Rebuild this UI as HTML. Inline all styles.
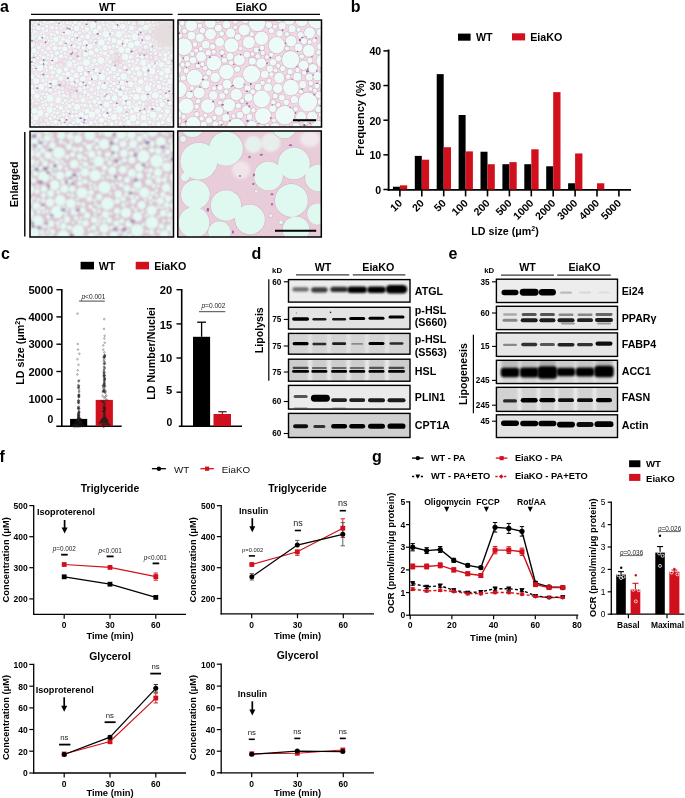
<!DOCTYPE html>
<html><head><meta charset="utf-8"><style>
html,body{margin:0;padding:0;background:#fff;}
svg{display:block;font-family:"Liberation Sans",sans-serif;will-change:transform;}
</style></head><body>
<svg width="685" height="798" viewBox="0 0 685 798">
<defs>
<filter id="bl1" x="-50%" y="-100%" width="200%" height="300%"><feGaussianBlur stdDeviation="1"/></filter>
<filter id="bl2" x="-50%" y="-100%" width="200%" height="300%"><feGaussianBlur stdDeviation="1.6"/></filter>
<filter id="bl05" x="-20%" y="-20%" width="140%" height="140%"><feGaussianBlur stdDeviation="0.5"/></filter>
<filter id="bl07" x="-30%" y="-100%" width="160%" height="300%"><feGaussianBlur stdDeviation="0.65"/></filter>
<filter id="blh" x="-5%" y="-5%" width="110%" height="110%"><feGaussianBlur stdDeviation="0.65"/></filter>
<filter id="blh2" x="-5%" y="-5%" width="110%" height="110%"><feGaussianBlur stdDeviation="0.8"/></filter>
<filter id="bl3" x="-50%" y="-100%" width="200%" height="300%"><feGaussianBlur stdDeviation="2.5"/></filter>
</defs>
<rect width="685" height="798" fill="#fff"/>
<text x="0" y="11.7" font-size="16" font-weight="bold" text-anchor="start" fill="#000">a</text>
<text x="107.2" y="10.65" font-size="10.7" font-weight="bold" text-anchor="middle" fill="#000">WT</text>
<text x="251.5" y="10.68" font-size="10.5" font-weight="bold" text-anchor="middle" fill="#000">EiaKO</text>
<line x1="31" y1="14.4" x2="172.6" y2="14.4" stroke="#000" stroke-width="1.3"/>
<line x1="177.8" y1="14.4" x2="320" y2="14.4" stroke="#000" stroke-width="1.3"/>
<clipPath id="hc1"><rect x="30" y="20" width="143.5" height="107"/></clipPath>
<g clip-path="url(#hc1)">
<rect x="30" y="20" width="143.5" height="107" fill="#f1e6ee"/>
<g filter="url(#blh)">
<circle cx="50.25" cy="90.25" r="2.58" fill="#e4c8d8"/>
<circle cx="107.04" cy="58.59" r="1.93" fill="#e4c8d8"/>
<circle cx="102.85" cy="22.16" r="1.89" fill="#e4c8d8"/>
<circle cx="38.3" cy="28.07" r="2.83" fill="#e4c8d8"/>
<circle cx="149.96" cy="31.74" r="2.81" fill="#e4c8d8"/>
<circle cx="120.55" cy="123.2" r="2.34" fill="#e4c8d8"/>
<circle cx="86.51" cy="126.36" r="3.13" fill="#e4c8d8"/>
<circle cx="154.62" cy="50.15" r="1.85" fill="#e4c8d8"/>
<circle cx="45.37" cy="52.24" r="2.14" fill="#e4c8d8"/>
<circle cx="54.66" cy="82.56" r="3.6" fill="#e4c8d8"/>
<circle cx="82.93" cy="78.8" r="3.26" fill="#e4c8d8"/>
<circle cx="36.79" cy="40.86" r="1.9" fill="#e4c8d8"/>
<circle cx="91.07" cy="52.87" r="3.34" fill="#e4c8d8"/>
<circle cx="131.1" cy="45.09" r="3.56" fill="#e4c8d8"/>
<circle cx="105.47" cy="115.14" r="3.13" fill="#e4c8d8"/>
<circle cx="70.47" cy="126.8" r="3.44" fill="#e4c8d8"/>
<circle cx="89.67" cy="102.04" r="2.07" fill="#e4c8d8"/>
<circle cx="140.77" cy="81.61" r="3.32" fill="#e4c8d8"/>
<circle cx="74.28" cy="95.18" r="3.72" fill="#e4c8d8"/>
<circle cx="113.53" cy="68.64" r="3.17" fill="#e4c8d8"/>
<circle cx="167.34" cy="70.62" r="3.65" fill="#e4c8d8"/>
<circle cx="36.95" cy="95.87" r="3.31" fill="#e4c8d8"/>
<circle cx="174.48" cy="109.23" r="3.27" fill="#e4c8d8"/>
<circle cx="84.9" cy="92.22" r="2.49" fill="#e4c8d8"/>
<circle cx="96.1" cy="36.65" r="1.76" fill="#e4c8d8"/>
<circle cx="36.7" cy="103.27" r="2.06" fill="#e4c8d8"/>
<circle cx="64.52" cy="61.4" r="2.1" fill="#e4c8d8"/>
<circle cx="39.89" cy="67.86" r="3.71" fill="#e4c8d8"/>
<circle cx="158.3" cy="108.94" r="3.07" fill="#e4c8d8"/>
<circle cx="69.07" cy="64.1" r="3.69" fill="#e4c8d8"/>
<circle cx="158.42" cy="124.31" r="2.66" fill="#e4c8d8"/>
<circle cx="53.99" cy="43.75" r="2.16" fill="#e4c8d8"/>
<circle cx="99.53" cy="83.39" r="2.37" fill="#e4c8d8"/>
<circle cx="28.6" cy="64.5" r="2.44" fill="#e4c8d8"/>
<circle cx="111.54" cy="123.79" r="2.69" fill="#e4c8d8"/>
<circle cx="104.03" cy="86.55" r="3.36" fill="#e4c8d8"/>
<circle cx="35.96" cy="117.85" r="3.33" fill="#e4c8d8"/>
<circle cx="86.85" cy="29.49" r="2.74" fill="#e4c8d8"/>
<circle cx="51.94" cy="55.75" r="2.31" fill="#e4c8d8"/>
<circle cx="28.03" cy="34.79" r="1.87" fill="#e4c8d8"/>
<circle cx="81.63" cy="20.83" r="2.02" fill="#e4c8d8"/>
<circle cx="118.58" cy="34.49" r="3.72" fill="#e4c8d8"/>
<circle cx="79.24" cy="58.42" r="2.41" fill="#e4c8d8"/>
<circle cx="153.22" cy="128.23" r="2.08" fill="#e4c8d8"/>
<circle cx="99.37" cy="27.53" r="2.9" fill="#e4c8d8"/>
<circle cx="78.54" cy="47.39" r="2.02" fill="#e4c8d8"/>
<circle cx="51.81" cy="20.56" r="3.63" fill="#e4c8d8"/>
<circle cx="105.92" cy="34.27" r="3.86" fill="#e4c8d8"/>
<circle cx="31.99" cy="76.62" r="3.06" fill="#e4c8d8"/>
<circle cx="155.34" cy="95.28" r="3.91" fill="#e4c8d8"/>
<circle cx="82.09" cy="36.54" r="2.44" fill="#e4c8d8"/>
<circle cx="106.56" cy="104.48" r="3.52" fill="#e4c8d8"/>
<circle cx="60.9" cy="108.08" r="2.6" fill="#e4c8d8"/>
<circle cx="153.76" cy="107.47" r="2.19" fill="#e4c8d8"/>
<circle cx="137.13" cy="43.17" r="3.27" fill="#e4c8d8"/>
<circle cx="69.21" cy="46.77" r="1.78" fill="#e4c8d8"/>
<circle cx="173.74" cy="124.01" r="3.83" fill="#e4c8d8"/>
<circle cx="60.52" cy="43.18" r="2.68" fill="#e4c8d8"/>
<circle cx="58.15" cy="87.27" r="2.28" fill="#e4c8d8"/>
<circle cx="151.96" cy="71.22" r="3.76" fill="#e4c8d8"/>
<circle cx="145.95" cy="27.41" r="3.29" fill="#e4c8d8"/>
<circle cx="162.19" cy="104.84" r="3.08" fill="#e4c8d8"/>
<circle cx="77.05" cy="106.89" r="3.55" fill="#e4c8d8"/>
<circle cx="86.39" cy="62.55" r="3.9" fill="#e4c8d8"/>
<circle cx="134.91" cy="36.87" r="3.85" fill="#e4c8d8"/>
<circle cx="50.29" cy="118.44" r="2.09" fill="#e4c8d8"/>
<circle cx="49.56" cy="109.74" r="3.59" fill="#e4c8d8"/>
<circle cx="124.95" cy="56.9" r="3.91" fill="#e4c8d8"/>
<circle cx="123.83" cy="76.45" r="3.9" fill="#e4c8d8"/>
<circle cx="91.99" cy="114.76" r="3.83" fill="#e4c8d8"/>
<circle cx="63.48" cy="83.09" r="2.51" fill="#e4c8d8"/>
<circle cx="89.8" cy="32.55" r="2.01" fill="#e4c8d8"/>
<circle cx="80.18" cy="68.86" r="3.78" fill="#e4c8d8"/>
<circle cx="161.38" cy="64.69" r="3.14" fill="#e4c8d8"/>
<circle cx="101.99" cy="77.03" r="3.8" fill="#e4c8d8"/>
<circle cx="28.58" cy="106.71" r="2.24" fill="#e4c8d8"/>
<circle cx="97.84" cy="98.5" r="2.21" fill="#e4c8d8"/>
<circle cx="76.08" cy="75.54" r="3.09" fill="#e4c8d8"/>
<circle cx="64.65" cy="48.74" r="3.1" fill="#e4c8d8"/>
<circle cx="94.72" cy="77.19" r="3.36" fill="#e4c8d8"/>
<circle cx="166.87" cy="95.61" r="2.92" fill="#e4c8d8"/>
<circle cx="166.97" cy="46.81" r="3.72" fill="#e4c8d8"/>
<circle cx="167.13" cy="111.24" r="3.1" fill="#e4c8d8"/>
<circle cx="45.94" cy="67.08" r="2.12" fill="#e4c8d8"/>
<circle cx="63.49" cy="26.12" r="1.93" fill="#e4c8d8"/>
<circle cx="143.63" cy="117.57" r="3.32" fill="#e4c8d8"/>
<circle cx="133.63" cy="91.29" r="2.17" fill="#e4c8d8"/>
<circle cx="168.49" cy="62.21" r="2.33" fill="#e4c8d8"/>
<circle cx="56.87" cy="53.36" r="2.62" fill="#e4c8d8"/>
<circle cx="30.67" cy="54.8" r="2.84" fill="#e4c8d8"/>
<circle cx="103.56" cy="25.14" r="1.67" fill="#e4c8d8"/>
<circle cx="144.28" cy="125.86" r="3.92" fill="#e4c8d8"/>
<circle cx="67.17" cy="22.39" r="2.03" fill="#e4c8d8"/>
<circle cx="67.89" cy="32.38" r="3.53" fill="#e4c8d8"/>
<circle cx="131.31" cy="27.93" r="3.12" fill="#e4c8d8"/>
<circle cx="129.51" cy="65.21" r="1.88" fill="#e4c8d8"/>
<circle cx="166.41" cy="88.42" r="1.93" fill="#e4c8d8"/>
<circle cx="40.35" cy="113.04" r="3.58" fill="#e4c8d8"/>
<circle cx="47.06" cy="76.49" r="2.45" fill="#e4c8d8"/>
<circle cx="44.14" cy="35.92" r="2.38" fill="#e4c8d8"/>
<circle cx="140.03" cy="50.19" r="2.54" fill="#e4c8d8"/>
<circle cx="64.94" cy="19.7" r="1.74" fill="#e4c8d8"/>
<circle cx="109.28" cy="39.03" r="2.47" fill="#e4c8d8"/>
<circle cx="165.86" cy="29.8" r="2.92" fill="#e4c8d8"/>
<circle cx="91.75" cy="72.95" r="2.32" fill="#e4c8d8"/>
<circle cx="85.98" cy="74.24" r="2.73" fill="#e4c8d8"/>
<circle cx="172.91" cy="56.04" r="3.35" fill="#e4c8d8"/>
<circle cx="79.26" cy="24.04" r="2.47" fill="#e4c8d8"/>
<circle cx="38.43" cy="100.24" r="1.81" fill="#e4c8d8"/>
<circle cx="52.08" cy="27.38" r="2.42" fill="#e4c8d8"/>
<circle cx="51.24" cy="67.49" r="2.88" fill="#e4c8d8"/>
<circle cx="64.06" cy="125.19" r="3.07" fill="#e4c8d8"/>
<circle cx="98.01" cy="73.81" r="1.83" fill="#e4c8d8"/>
<circle cx="102.45" cy="18.55" r="2.25" fill="#e4c8d8"/>
<circle cx="41.24" cy="62.35" r="2.44" fill="#e4c8d8"/>
<circle cx="114.37" cy="76.74" r="2.37" fill="#e4c8d8"/>
<circle cx="124.99" cy="97.48" r="3.48" fill="#e4c8d8"/>
<circle cx="85.45" cy="54.2" r="2.93" fill="#e4c8d8"/>
<circle cx="50.05" cy="98.38" r="3.92" fill="#e4c8d8"/>
<circle cx="34.46" cy="110.72" r="3.26" fill="#e4c8d8"/>
<circle cx="120.53" cy="99.46" r="1.9" fill="#e4c8d8"/>
<circle cx="114.15" cy="117.1" r="3.62" fill="#e4c8d8"/>
<circle cx="47.63" cy="58.04" r="1.79" fill="#e4c8d8"/>
<circle cx="151.28" cy="80" r="2.03" fill="#e4c8d8"/>
<circle cx="120.37" cy="93.55" r="3.08" fill="#e4c8d8"/>
<circle cx="38.98" cy="47.48" r="2.41" fill="#e4c8d8"/>
<circle cx="58.27" cy="100.12" r="3.44" fill="#e4c8d8"/>
<circle cx="100.86" cy="60.46" r="3.91" fill="#e4c8d8"/>
<circle cx="128.85" cy="103.13" r="2.93" fill="#e4c8d8"/>
<circle cx="122.81" cy="26.6" r="3.21" fill="#e4c8d8"/>
<circle cx="65.46" cy="100.5" r="2.15" fill="#e4c8d8"/>
<circle cx="111.74" cy="19.38" r="2.54" fill="#e4c8d8"/>
<circle cx="67.64" cy="92.59" r="1.89" fill="#e4c8d8"/>
<circle cx="127.67" cy="50.29" r="3.16" fill="#e4c8d8"/>
<circle cx="96.54" cy="69.76" r="2.97" fill="#e4c8d8"/>
<circle cx="159.82" cy="40.12" r="2.07" fill="#e4c8d8"/>
<circle cx="166.1" cy="19.94" r="3.91" fill="#e4c8d8"/>
<circle cx="67.63" cy="41.29" r="2.86" fill="#e4c8d8"/>
<circle cx="105.3" cy="123.75" r="2.13" fill="#e4c8d8"/>
<circle cx="99.71" cy="20.76" r="1.77" fill="#e4c8d8"/>
<circle cx="100.53" cy="68.03" r="1.68" fill="#e4c8d8"/>
<circle cx="151.93" cy="18.19" r="2.57" fill="#e4c8d8"/>
<circle cx="133.17" cy="118.07" r="3.81" fill="#e4c8d8"/>
<circle cx="114.9" cy="58.04" r="3.95" fill="#e4c8d8"/>
<circle cx="151.11" cy="49.7" r="2.02" fill="#e4c8d8"/>
<circle cx="56" cy="59.44" r="2.99" fill="#e4c8d8"/>
<circle cx="162.73" cy="122.42" r="2.54" fill="#e4c8d8"/>
<circle cx="134.14" cy="23.49" r="2.64" fill="#e4c8d8"/>
<circle cx="94.5" cy="101.55" r="2.81" fill="#e4c8d8"/>
<circle cx="70.22" cy="23.44" r="1.69" fill="#e4c8d8"/>
<circle cx="46.78" cy="70.41" r="1.82" fill="#e4c8d8"/>
<circle cx="71.92" cy="100.03" r="2.18" fill="#e4c8d8"/>
<circle cx="110.2" cy="61.77" r="2.53" fill="#e4c8d8"/>
<circle cx="51.84" cy="41.07" r="1.77" fill="#e4c8d8"/>
<circle cx="101.32" cy="42.42" r="3.78" fill="#e4c8d8"/>
<circle cx="174.98" cy="67.95" r="3.78" fill="#e4c8d8"/>
<circle cx="56.38" cy="28.07" r="2.13" fill="#e4c8d8"/>
<circle cx="41.44" cy="44.54" r="1.91" fill="#e4c8d8"/>
<circle cx="59.85" cy="48.08" r="2.25" fill="#e4c8d8"/>
<circle cx="153.18" cy="114.89" r="3.86" fill="#e4c8d8"/>
<circle cx="85.75" cy="120.88" r="1.65" fill="#e4c8d8"/>
<circle cx="128.61" cy="122.51" r="3.02" fill="#e4c8d8"/>
<circle cx="123.48" cy="102.89" r="2.64" fill="#e4c8d8"/>
<circle cx="109.35" cy="22.39" r="1.81" fill="#e4c8d8"/>
<circle cx="62.31" cy="120.11" r="2.8" fill="#e4c8d8"/>
<circle cx="72.81" cy="32.2" r="1.89" fill="#e4c8d8"/>
<circle cx="38.38" cy="76.21" r="2.05" fill="#e4c8d8"/>
<circle cx="85.24" cy="42.82" r="3.14" fill="#e4c8d8"/>
<circle cx="169.44" cy="89.55" r="1.81" fill="#e4c8d8"/>
<circle cx="89.95" cy="46.56" r="3.33" fill="#e4c8d8"/>
<circle cx="57.22" cy="106.47" r="1.92" fill="#e4c8d8"/>
<circle cx="60.94" cy="64.29" r="2.25" fill="#e4c8d8"/>
<circle cx="167.94" cy="34.25" r="2.5" fill="#e4c8d8"/>
<circle cx="59.41" cy="126.13" r="2.17" fill="#e4c8d8"/>
<circle cx="35.65" cy="24.68" r="1.98" fill="#e4c8d8"/>
<circle cx="160.48" cy="116.08" r="2.74" fill="#e4c8d8"/>
<circle cx="55.36" cy="121.88" r="2.6" fill="#e4c8d8"/>
<circle cx="32.7" cy="91.75" r="3.1" fill="#e4c8d8"/>
<circle cx="28.42" cy="49.06" r="2.21" fill="#e4c8d8"/>
<circle cx="149.25" cy="66" r="2.62" fill="#e4c8d8"/>
<circle cx="32.47" cy="63.6" r="2.03" fill="#e4c8d8"/>
<circle cx="141.08" cy="22.51" r="3.6" fill="#e4c8d8"/>
<circle cx="138.22" cy="117.74" r="1.75" fill="#e4c8d8"/>
<circle cx="68.66" cy="18.42" r="2.57" fill="#e4c8d8"/>
<circle cx="163.18" cy="88.37" r="1.8" fill="#e4c8d8"/>
<circle cx="31.58" cy="43.96" r="3.84" fill="#e4c8d8"/>
<circle cx="164.89" cy="38.31" r="2.96" fill="#e4c8d8"/>
<circle cx="136.93" cy="109.33" r="3.58" fill="#e4c8d8"/>
<circle cx="81.37" cy="104.83" r="1.74" fill="#e4c8d8"/>
<circle cx="37.55" cy="21.76" r="2" fill="#e4c8d8"/>
<circle cx="76.05" cy="126.81" r="2.64" fill="#e4c8d8"/>
<circle cx="173.7" cy="47.4" r="3.54" fill="#e4c8d8"/>
<circle cx="42.22" cy="73.33" r="1.97" fill="#e4c8d8"/>
<circle cx="93.93" cy="44" r="1.9" fill="#e4c8d8"/>
<circle cx="83.01" cy="99.93" r="3.11" fill="#e4c8d8"/>
<circle cx="158.41" cy="82.19" r="2.16" fill="#e4c8d8"/>
<circle cx="174.17" cy="29.36" r="3.29" fill="#e4c8d8"/>
<circle cx="148.82" cy="111.3" r="2.28" fill="#e4c8d8"/>
<circle cx="33.95" cy="50.6" r="2.99" fill="#e4c8d8"/>
<circle cx="55.96" cy="126" r="1.78" fill="#e4c8d8"/>
<circle cx="165.2" cy="59.32" r="2.55" fill="#e4c8d8"/>
<circle cx="119.44" cy="42.16" r="3.17" fill="#e4c8d8"/>
<circle cx="48.85" cy="40.64" r="1.75" fill="#e4c8d8"/>
<circle cx="116.41" cy="90.33" r="2.42" fill="#e4c8d8"/>
<circle cx="145.3" cy="78.83" r="2.29" fill="#e4c8d8"/>
<circle cx="28.87" cy="118.08" r="2.29" fill="#e4c8d8"/>
<circle cx="109.35" cy="89.11" r="1.73" fill="#e4c8d8"/>
<circle cx="41.13" cy="87.06" r="3.78" fill="#e4c8d8"/>
<circle cx="100.35" cy="107.33" r="2.04" fill="#e4c8d8"/>
<circle cx="57.11" cy="32.06" r="2.43" fill="#e4c8d8"/>
<circle cx="119.5" cy="109.53" r="3.77" fill="#e4c8d8"/>
<circle cx="143.91" cy="42.65" r="2.18" fill="#e4c8d8"/>
<circle cx="110.95" cy="102.08" r="1.83" fill="#e4c8d8"/>
<circle cx="89.96" cy="82.67" r="2.54" fill="#e4c8d8"/>
<circle cx="125.18" cy="67.59" r="2.81" fill="#e4c8d8"/>
<circle cx="31.45" cy="86.7" r="2.61" fill="#e4c8d8"/>
<circle cx="62.7" cy="102.76" r="1.92" fill="#e4c8d8"/>
<circle cx="43.79" cy="32.26" r="1.8" fill="#e4c8d8"/>
<circle cx="136.19" cy="104.32" r="1.96" fill="#e4c8d8"/>
<circle cx="36" cy="73.94" r="1.74" fill="#e4c8d8"/>
<circle cx="174.93" cy="99.26" r="3.68" fill="#e4c8d8"/>
<circle cx="169.1" cy="119.68" r="2.95" fill="#e4c8d8"/>
<circle cx="160.24" cy="48.52" r="2.18" fill="#e4c8d8"/>
<circle cx="75.06" cy="22.09" r="2.66" fill="#e4c8d8"/>
<circle cx="160.07" cy="36.73" r="1.83" fill="#e4c8d8"/>
<circle cx="81.07" cy="114.9" r="3.25" fill="#e4c8d8"/>
<circle cx="174.46" cy="87.91" r="2.03" fill="#e4c8d8"/>
<circle cx="145.66" cy="47.39" r="2.74" fill="#e4c8d8"/>
<circle cx="93.24" cy="37.62" r="1.76" fill="#e4c8d8"/>
<circle cx="122.29" cy="127.23" r="2.42" fill="#e4c8d8"/>
<circle cx="32.98" cy="34.58" r="1.66" fill="#e4c8d8"/>
<circle cx="47.47" cy="43.23" r="1.68" fill="#e4c8d8"/>
<circle cx="31.29" cy="18.29" r="3.29" fill="#e4c8d8"/>
<circle cx="43.69" cy="57.64" r="2.65" fill="#e4c8d8"/>
<circle cx="114.08" cy="83.39" r="2.35" fill="#e4c8d8"/>
<circle cx="120.03" cy="70.71" r="2.3" fill="#e4c8d8"/>
<circle cx="143.37" cy="62.62" r="3.71" fill="#e4c8d8"/>
<circle cx="79.67" cy="89.66" r="3.1" fill="#e4c8d8"/>
<circle cx="161.27" cy="22.88" r="2.25" fill="#e4c8d8"/>
<circle cx="117.69" cy="74.27" r="2.27" fill="#e4c8d8"/>
<circle cx="147.97" cy="37.38" r="3.26" fill="#e4c8d8"/>
<circle cx="143.49" cy="97.41" r="3.74" fill="#e4c8d8"/>
<circle cx="152.55" cy="100.72" r="1.69" fill="#e4c8d8"/>
<circle cx="137.41" cy="68.23" r="2.9" fill="#e4c8d8"/>
<circle cx="77.49" cy="101.21" r="1.82" fill="#e4c8d8"/>
<circle cx="109.68" cy="66.4" r="1.79" fill="#e4c8d8"/>
<circle cx="105.18" cy="47.45" r="3.06" fill="#e4c8d8"/>
<circle cx="170.36" cy="42.09" r="2.6" fill="#e4c8d8"/>
<circle cx="137.72" cy="122.86" r="2.37" fill="#e4c8d8"/>
<circle cx="76.21" cy="115.7" r="2.17" fill="#e4c8d8"/>
<circle cx="130.19" cy="91.84" r="1.81" fill="#e4c8d8"/>
<circle cx="97.25" cy="111.21" r="3.02" fill="#e4c8d8"/>
<circle cx="154.48" cy="66.53" r="2.06" fill="#e4c8d8"/>
<circle cx="112.13" cy="52.16" r="3.05" fill="#e4c8d8"/>
<circle cx="32.24" cy="22.62" r="1.65" fill="#e4c8d8"/>
<circle cx="44.52" cy="21.82" r="2.3" fill="#e4c8d8"/>
<circle cx="147.77" cy="88.39" r="3.67" fill="#e4c8d8"/>
<circle cx="121.15" cy="49.9" r="3.62" fill="#e4c8d8"/>
<circle cx="42.43" cy="102.07" r="2.01" fill="#e4c8d8"/>
<circle cx="75.07" cy="65.04" r="2.3" fill="#e4c8d8"/>
<circle cx="142.02" cy="56.49" r="2.83" fill="#e4c8d8"/>
<circle cx="172.24" cy="18.48" r="2.9" fill="#e4c8d8"/>
<circle cx="59.67" cy="95.64" r="1.76" fill="#e4c8d8"/>
<circle cx="86.2" cy="116.84" r="2.74" fill="#e4c8d8"/>
<circle cx="66.82" cy="118.03" r="2.3" fill="#e4c8d8"/>
<circle cx="139.07" cy="89.74" r="3.49" fill="#e4c8d8"/>
<circle cx="76.18" cy="35.24" r="2.64" fill="#e4c8d8"/>
<circle cx="63.1" cy="39.26" r="2.51" fill="#e4c8d8"/>
<circle cx="131.72" cy="111.65" r="2.53" fill="#e4c8d8"/>
<circle cx="51.01" cy="45.48" r="1.79" fill="#e4c8d8"/>
<circle cx="43.02" cy="124.82" r="3.44" fill="#e4c8d8"/>
<circle cx="85.28" cy="21.77" r="2.25" fill="#e4c8d8"/>
<circle cx="117.05" cy="62.92" r="1.89" fill="#e4c8d8"/>
<circle cx="51.72" cy="104.78" r="2.33" fill="#e4c8d8"/>
<circle cx="104.58" cy="29.22" r="1.87" fill="#e4c8d8"/>
<circle cx="107.8" cy="97.62" r="3.13" fill="#e4c8d8"/>
<circle cx="128.94" cy="61.57" r="2.3" fill="#e4c8d8"/>
<circle cx="130.99" cy="57.09" r="2.63" fill="#e4c8d8"/>
<circle cx="142.55" cy="107.86" r="2.1" fill="#e4c8d8"/>
<circle cx="71.42" cy="78.86" r="2.9" fill="#e4c8d8"/>
<circle cx="150.98" cy="57.38" r="2.09" fill="#e4c8d8"/>
<circle cx="134.46" cy="49.21" r="1.67" fill="#e4c8d8"/>
<circle cx="72.52" cy="71.23" r="2.4" fill="#e4c8d8"/>
<circle cx="124.75" cy="45.75" r="2.37" fill="#e4c8d8"/>
<circle cx="117.73" cy="104.72" r="1.85" fill="#e4c8d8"/>
<circle cx="109.87" cy="47.36" r="2.13" fill="#e4c8d8"/>
<circle cx="28.97" cy="111.33" r="2.76" fill="#e4c8d8"/>
<circle cx="110.98" cy="91.85" r="1.95" fill="#e4c8d8"/>
<circle cx="165.4" cy="54.68" r="2.6" fill="#e4c8d8"/>
<circle cx="103.32" cy="71.8" r="2.1" fill="#e4c8d8"/>
<circle cx="109.72" cy="109.77" r="2.8" fill="#e4c8d8"/>
<circle cx="68.08" cy="74.21" r="2.98" fill="#e4c8d8"/>
<circle cx="74.77" cy="51.21" r="2.6" fill="#e4c8d8"/>
<circle cx="118.23" cy="86.45" r="2.36" fill="#e4c8d8"/>
<circle cx="130.72" cy="84.19" r="3.23" fill="#e4c8d8"/>
<circle cx="59.34" cy="92.04" r="2.36" fill="#e4c8d8"/>
<circle cx="140.49" cy="29.25" r="2.88" fill="#e4c8d8"/>
<circle cx="33.45" cy="103.97" r="1.75" fill="#e4c8d8"/>
<circle cx="91.52" cy="89.24" r="2.57" fill="#e4c8d8"/>
<circle cx="36.06" cy="80.99" r="3.41" fill="#e4c8d8"/>
<circle cx="85.1" cy="83.71" r="1.73" fill="#e4c8d8"/>
<circle cx="128.85" cy="31.51" r="1.68" fill="#e4c8d8"/>
<circle cx="30.62" cy="97.85" r="2.1" fill="#e4c8d8"/>
<circle cx="135.63" cy="27.36" r="1.74" fill="#e4c8d8"/>
<circle cx="132.61" cy="69.12" r="2.48" fill="#e4c8d8"/>
<circle cx="123.12" cy="87.9" r="2.67" fill="#e4c8d8"/>
<circle cx="84.9" cy="105.27" r="2.31" fill="#e4c8d8"/>
<circle cx="36.94" cy="126.11" r="2.51" fill="#e4c8d8"/>
<circle cx="114.53" cy="108.57" r="1.79" fill="#e4c8d8"/>
<circle cx="144.77" cy="69.03" r="3.28" fill="#e4c8d8"/>
<circle cx="146.97" cy="103.71" r="1.98" fill="#e4c8d8"/>
<circle cx="55.9" cy="39.35" r="3.14" fill="#e4c8d8"/>
<circle cx="174.08" cy="114.14" r="1.8" fill="#e4c8d8"/>
<circle cx="90.83" cy="123.06" r="2.8" fill="#e4c8d8"/>
<circle cx="40.34" cy="23.66" r="1.88" fill="#e4c8d8"/>
<circle cx="174.28" cy="42.61" r="1.79" fill="#e4c8d8"/>
<circle cx="65.74" cy="57.07" r="1.82" fill="#e4c8d8"/>
<circle cx="173.35" cy="24.19" r="2.45" fill="#e4c8d8"/>
<circle cx="72.07" cy="83.65" r="2.44" fill="#e4c8d8"/>
<circle cx="63.17" cy="33.89" r="1.92" fill="#e4c8d8"/>
<circle cx="94.72" cy="55.72" r="1.79" fill="#e4c8d8"/>
<circle cx="98.44" cy="87.73" r="2.6" fill="#e4c8d8"/>
<circle cx="60.69" cy="24.3" r="1.91" fill="#e4c8d8"/>
<circle cx="67.99" cy="111.19" r="2.17" fill="#e4c8d8"/>
<circle cx="52.75" cy="72.5" r="2.61" fill="#e4c8d8"/>
<circle cx="161.22" cy="30.67" r="2.31" fill="#e4c8d8"/>
<circle cx="59.15" cy="71" r="3.32" fill="#e4c8d8"/>
<circle cx="42.39" cy="50.13" r="2.02" fill="#e4c8d8"/>
<circle cx="150.76" cy="76.45" r="1.67" fill="#e4c8d8"/>
<circle cx="112.27" cy="33.33" r="2.33" fill="#e4c8d8"/>
<circle cx="113.98" cy="40.45" r="2.95" fill="#e4c8d8"/>
<circle cx="136.08" cy="63.3" r="1.91" fill="#e4c8d8"/>
<circle cx="156.62" cy="47.55" r="1.92" fill="#e4c8d8"/>
<circle cx="104.67" cy="67.48" r="1.68" fill="#e4c8d8"/>
<circle cx="155.66" cy="53.63" r="2.28" fill="#e4c8d8"/>
<circle cx="31.05" cy="125.38" r="3.05" fill="#e4c8d8"/>
<circle cx="148.53" cy="21.34" r="2.41" fill="#e4c8d8"/>
<circle cx="46" cy="63.03" r="2.43" fill="#e4c8d8"/>
<circle cx="149.84" cy="122.07" r="2.19" fill="#e4c8d8"/>
<circle cx="92.25" cy="126.92" r="1.8" fill="#e4c8d8"/>
<circle cx="70.41" cy="51.9" r="2.32" fill="#e4c8d8"/>
<circle cx="45.76" cy="83.97" r="2.28" fill="#e4c8d8"/>
<circle cx="110.11" cy="72.55" r="2.38" fill="#e4c8d8"/>
<circle cx="92.9" cy="24.88" r="3.71" fill="#e4c8d8"/>
<circle cx="46.77" cy="114.66" r="2.57" fill="#e4c8d8"/>
<circle cx="170" cy="81.49" r="2.97" fill="#e4c8d8"/>
<circle cx="144.09" cy="112.3" r="2.47" fill="#e4c8d8"/>
<circle cx="49.39" cy="81.87" r="2.21" fill="#e4c8d8"/>
<circle cx="40.97" cy="120.14" r="2.18" fill="#e4c8d8"/>
<circle cx="101.36" cy="120.15" r="3.11" fill="#e4c8d8"/>
<circle cx="107.43" cy="128.81" r="3.52" fill="#e4c8d8"/>
<circle cx="104.3" cy="94.06" r="2.37" fill="#e4c8d8"/>
<circle cx="80.76" cy="84.01" r="2.73" fill="#e4c8d8"/>
<circle cx="110.8" cy="81.72" r="1.84" fill="#e4c8d8"/>
<circle cx="144.18" cy="52.05" r="2.51" fill="#e4c8d8"/>
<circle cx="94.35" cy="60.81" r="2.64" fill="#e4c8d8"/>
<circle cx="156.68" cy="31.63" r="2.32" fill="#e4c8d8"/>
<circle cx="73.84" cy="61.28" r="2.15" fill="#e4c8d8"/>
<circle cx="54.11" cy="112.46" r="1.97" fill="#e4c8d8"/>
<circle cx="125.76" cy="30.09" r="1.86" fill="#e4c8d8"/>
<circle cx="37.72" cy="52.55" r="1.76" fill="#e4c8d8"/>
<circle cx="136.27" cy="97.1" r="3.79" fill="#e4c8d8"/>
<circle cx="73.86" cy="88.85" r="1.82" fill="#e4c8d8"/>
<circle cx="79.48" cy="18.11" r="1.95" fill="#e4c8d8"/>
<circle cx="153.99" cy="85.42" r="1.84" fill="#e4c8d8"/>
<circle cx="72.16" cy="116.2" r="2.42" fill="#e4c8d8"/>
<circle cx="126.31" cy="84.45" r="1.68" fill="#e4c8d8"/>
<circle cx="70.68" cy="58.01" r="2.06" fill="#e4c8d8"/>
<circle cx="133.78" cy="126.8" r="1.97" fill="#e4c8d8"/>
<circle cx="150.63" cy="44.57" r="2.69" fill="#e4c8d8"/>
<circle cx="129.48" cy="36.16" r="1.96" fill="#e4c8d8"/>
<circle cx="79.35" cy="39.69" r="2.24" fill="#e4c8d8"/>
<circle cx="55.85" cy="93.33" r="1.78" fill="#e4c8d8"/>
<circle cx="113.66" cy="64.22" r="1.76" fill="#e4c8d8"/>
<circle cx="54.62" cy="116.79" r="2.06" fill="#e4c8d8"/>
<circle cx="42.01" cy="76.92" r="2.12" fill="#e4c8d8"/>
<circle cx="114.8" cy="26.91" r="3" fill="#e4c8d8"/>
<circle cx="142.31" cy="33.19" r="1.95" fill="#e4c8d8"/>
<circle cx="159.07" cy="86.95" r="2.81" fill="#e4c8d8"/>
<circle cx="129.7" cy="107.71" r="2.23" fill="#e4c8d8"/>
<circle cx="33.23" cy="38.23" r="2.5" fill="#e4c8d8"/>
<circle cx="76.57" cy="42.01" r="1.88" fill="#e4c8d8"/>
<circle cx="95.76" cy="127.49" r="1.75" fill="#e4c8d8"/>
<circle cx="69.53" cy="106.28" r="2.67" fill="#e4c8d8"/>
<circle cx="87.88" cy="24.71" r="1.81" fill="#e4c8d8"/>
<circle cx="79.51" cy="33.05" r="1.84" fill="#e4c8d8"/>
<circle cx="135.18" cy="79.19" r="2.55" fill="#e4c8d8"/>
<circle cx="78.22" cy="120.26" r="3.31" fill="#e4c8d8"/>
<circle cx="39.8" cy="37.84" r="2.86" fill="#e4c8d8"/>
<circle cx="67.54" cy="96.19" r="2.19" fill="#e4c8d8"/>
<circle cx="155.45" cy="89.94" r="1.93" fill="#e4c8d8"/>
<circle cx="39.7" cy="107.85" r="2.15" fill="#e4c8d8"/>
<circle cx="65.91" cy="69.43" r="2.77" fill="#e4c8d8"/>
<circle cx="164.48" cy="80.62" r="1.72" fill="#e4c8d8"/>
<circle cx="36.26" cy="86.15" r="1.67" fill="#e4c8d8"/>
<circle cx="76.55" cy="28.37" r="3.15" fill="#e4c8d8"/>
<circle cx="29.33" cy="70.81" r="2.1" fill="#e4c8d8"/>
<circle cx="123.21" cy="62.61" r="1.91" fill="#e4c8d8"/>
<circle cx="52.89" cy="93.79" r="1.72" fill="#e4c8d8"/>
<circle cx="91.5" cy="29.64" r="1.75" fill="#e4c8d8"/>
<circle cx="108.24" cy="78.92" r="2.46" fill="#e4c8d8"/>
<circle cx="137.64" cy="60.05" r="2.2" fill="#e4c8d8"/>
<circle cx="108.1" cy="42.78" r="1.97" fill="#e4c8d8"/>
<circle cx="34.38" cy="60.32" r="2.27" fill="#e4c8d8"/>
<circle cx="90.41" cy="105.95" r="2.29" fill="#e4c8d8"/>
<circle cx="103.49" cy="109.54" r="2.3" fill="#e4c8d8"/>
<circle cx="128.28" cy="79.48" r="1.83" fill="#e4c8d8"/>
<circle cx="74.17" cy="46.31" r="2.44" fill="#e4c8d8"/>
<circle cx="95.06" cy="121.77" r="2.12" fill="#e4c8d8"/>
<circle cx="157.51" cy="24.41" r="2.3" fill="#e4c8d8"/>
<circle cx="42.88" cy="28.57" r="2.27" fill="#e4c8d8"/>
<circle cx="60.95" cy="78.57" r="3.17" fill="#e4c8d8"/>
<circle cx="46.01" cy="120.49" r="2.34" fill="#e4c8d8"/>
<circle cx="166.57" cy="76.42" r="2.7" fill="#e4c8d8"/>
<circle cx="41.04" cy="33.51" r="1.72" fill="#e4c8d8"/>
<circle cx="125.81" cy="36.19" r="2.21" fill="#e4c8d8"/>
<circle cx="63.38" cy="114.74" r="2.09" fill="#e4c8d8"/>
<circle cx="159.36" cy="19.68" r="1.98" fill="#e4c8d8"/>
<circle cx="159.35" cy="27.36" r="1.67" fill="#e4c8d8"/>
<circle cx="116.38" cy="127.11" r="2.4" fill="#e4c8d8"/>
<circle cx="171.96" cy="128.7" r="1.69" fill="#e4c8d8"/>
<circle cx="132.78" cy="61.51" r="2.04" fill="#e4c8d8"/>
<circle cx="44.31" cy="108.18" r="1.74" fill="#e4c8d8"/>
<circle cx="125.5" cy="107.59" r="2.48" fill="#e4c8d8"/>
<circle cx="128.74" cy="22.61" r="2.07" fill="#e4c8d8"/>
<circle cx="55.16" cy="48.13" r="2.88" fill="#e4c8d8"/>
<circle cx="173.81" cy="39.03" r="2.32" fill="#e4c8d8"/>
<circle cx="51.93" cy="76.52" r="1.99" fill="#e4c8d8"/>
<circle cx="159.84" cy="91.96" r="2.18" fill="#e4c8d8"/>
<circle cx="161.81" cy="73.29" r="2.99" fill="#e4c8d8"/>
<circle cx="48.21" cy="123.78" r="2.12" fill="#e4c8d8"/>
<circle cx="73.64" cy="122.75" r="2.2" fill="#e4c8d8"/>
<circle cx="137.51" cy="55.93" r="2.21" fill="#e4c8d8"/>
<circle cx="146.85" cy="56.82" r="2.5" fill="#e4c8d8"/>
<circle cx="156.56" cy="77.03" r="2.25" fill="#e4c8d8"/>
<circle cx="126.74" cy="118.07" r="2.3" fill="#e4c8d8"/>
<circle cx="139.23" cy="73.56" r="3.24" fill="#e4c8d8"/>
<circle cx="160.58" cy="100.47" r="2.07" fill="#e4c8d8"/>
<circle cx="123.7" cy="115.53" r="2.16" fill="#e4c8d8"/>
<circle cx="61.02" cy="28.42" r="1.95" fill="#e4c8d8"/>
<circle cx="75.96" cy="18.38" r="1.65" fill="#e4c8d8"/>
<circle cx="48.47" cy="48.53" r="2.67" fill="#e4c8d8"/>
<circle cx="76.83" cy="81.1" r="2.62" fill="#e4c8d8"/>
<circle cx="94.96" cy="93.78" r="2.11" fill="#e4c8d8"/>
<circle cx="67.18" cy="80.19" r="2.04" fill="#e4c8d8"/>
<circle cx="163.69" cy="98.2" r="1.68" fill="#e4c8d8"/>
<circle cx="95.55" cy="31.56" r="3.15" fill="#e4c8d8"/>
<circle cx="153.13" cy="29.26" r="1.72" fill="#e4c8d8"/>
<circle cx="29.02" cy="26.32" r="3.51" fill="#e4c8d8"/>
<circle cx="123.67" cy="119.72" r="1.69" fill="#e4c8d8"/>
<circle cx="79.4" cy="54.01" r="2.5" fill="#e4c8d8"/>
<circle cx="88.32" cy="94.54" r="2.13" fill="#e4c8d8"/>
<circle cx="29.45" cy="39.08" r="1.88" fill="#e4c8d8"/>
<circle cx="44.44" cy="45.56" r="1.76" fill="#e4c8d8"/>
<circle cx="38.02" cy="58.09" r="2.07" fill="#e4c8d8"/>
<circle cx="128.17" cy="19.4" r="1.68" fill="#e4c8d8"/>
<circle cx="160.76" cy="43.81" r="2.24" fill="#e4c8d8"/>
<circle cx="80.46" cy="96.19" r="1.91" fill="#e4c8d8"/>
<circle cx="169.97" cy="103.11" r="2.69" fill="#e4c8d8"/>
<circle cx="38.33" cy="18.53" r="1.83" fill="#e4c8d8"/>
<circle cx="30.85" cy="30.68" r="1.71" fill="#e4c8d8"/>
<circle cx="105.04" cy="53.54" r="2.61" fill="#e4c8d8"/>
<circle cx="98.63" cy="46.7" r="1.77" fill="#e4c8d8"/>
<circle cx="165.42" cy="115.38" r="1.88" fill="#e4c8d8"/>
<circle cx="174.11" cy="34.49" r="2.34" fill="#e4c8d8"/>
<circle cx="29.54" cy="102.74" r="2.34" fill="#e4c8d8"/>
<circle cx="156.3" cy="41.77" r="2.31" fill="#e4c8d8"/>
<circle cx="126.17" cy="41.08" r="3.01" fill="#e4c8d8"/>
<circle cx="81.58" cy="124.41" r="2.54" fill="#e4c8d8"/>
<circle cx="60.3" cy="116.03" r="1.75" fill="#e4c8d8"/>
<circle cx="156.1" cy="58.15" r="2.76" fill="#e4c8d8"/>
<circle cx="58.59" cy="20.6" r="2.84" fill="#e4c8d8"/>
<circle cx="141.07" cy="45.21" r="1.67" fill="#e4c8d8"/>
<circle cx="56.49" cy="24.6" r="1.76" fill="#e4c8d8"/>
<circle cx="156.76" cy="101.64" r="1.99" fill="#e4c8d8"/>
<circle cx="32.95" cy="66.79" r="1.7" fill="#e4c8d8"/>
<circle cx="83.55" cy="47.85" r="2.57" fill="#e4c8d8"/>
<circle cx="174.14" cy="94.37" r="1.77" fill="#e4c8d8"/>
<circle cx="45.49" cy="101.15" r="1.68" fill="#e4c8d8"/>
<circle cx="87.76" cy="36.62" r="3.04" fill="#e4c8d8"/>
<circle cx="69.92" cy="87.87" r="2.08" fill="#e4c8d8"/>
<circle cx="168.65" cy="128.33" r="2.14" fill="#e4c8d8"/>
<circle cx="51.33" cy="34.58" r="2.13" fill="#e4c8d8"/>
<circle cx="34.7" cy="31.59" r="2.2" fill="#e4c8d8"/>
<circle cx="129.4" cy="128.32" r="1.98" fill="#e4c8d8"/>
<circle cx="46.74" cy="94.11" r="1.98" fill="#e4c8d8"/>
<circle cx="41.49" cy="98.6" r="1.68" fill="#e4c8d8"/>
<circle cx="56.99" cy="75.58" r="2.25" fill="#e4c8d8"/>
<circle cx="92.79" cy="64.76" r="2.11" fill="#e4c8d8"/>
<circle cx="69.44" cy="120.35" r="1.69" fill="#e4c8d8"/>
<circle cx="83.26" cy="31.25" r="1.76" fill="#e4c8d8"/>
<circle cx="57.53" cy="112.94" r="1.97" fill="#e4c8d8"/>
<circle cx="89.43" cy="58.32" r="1.82" fill="#e4c8d8"/>
<circle cx="98.67" cy="127.56" r="1.66" fill="#e4c8d8"/>
<circle cx="76.44" cy="111.8" r="1.89" fill="#e4c8d8"/>
<circle cx="165.75" cy="125.9" r="1.8" fill="#e4c8d8"/>
<circle cx="57.95" cy="117.74" r="1.67" fill="#e4c8d8"/>
<circle cx="163.72" cy="118.5" r="1.8" fill="#e4c8d8"/>
<circle cx="96.44" cy="105.25" r="1.87" fill="#e4c8d8"/>
<circle cx="163.05" cy="51.61" r="1.77" fill="#e4c8d8"/>
<circle cx="30.85" cy="59.68" r="1.82" fill="#e4c8d8"/>
<circle cx="63.54" cy="111.19" r="1.96" fill="#e4c8d8"/>
<circle cx="114.67" cy="98.03" r="3.37" fill="#e4c8d8"/>
<circle cx="65.93" cy="108.39" r="1.8" fill="#e4c8d8"/>
<circle cx="155.34" cy="37.48" r="1.95" fill="#e4c8d8"/>
<circle cx="94.75" cy="19.98" r="1.94" fill="#e4c8d8"/>
<circle cx="75.64" cy="85.36" r="2.02" fill="#e4c8d8"/>
<circle cx="118.94" cy="54.83" r="1.7" fill="#e4c8d8"/>
<circle cx="131.95" cy="76.7" r="2.03" fill="#e4c8d8"/>
<circle cx="108.8" cy="121.01" r="1.72" fill="#e4c8d8"/>
<circle cx="61.79" cy="18.11" r="1.71" fill="#e4c8d8"/>
<circle cx="63.74" cy="95.39" r="2.19" fill="#e4c8d8"/>
<circle cx="45.97" cy="104.4" r="2.11" fill="#e4c8d8"/>
<circle cx="156.85" cy="63.42" r="2.06" fill="#e4c8d8"/>
<circle cx="35.92" cy="35.67" r="1.72" fill="#e4c8d8"/>
<circle cx="171.63" cy="92.61" r="1.79" fill="#e4c8d8"/>
<circle cx="73.83" cy="56.07" r="2.15" fill="#e4c8d8"/>
<circle cx="57.27" cy="65.76" r="2.2" fill="#e4c8d8"/>
<circle cx="101.5" cy="91.85" r="1.69" fill="#e4c8d8"/>
<circle cx="120.41" cy="65.2" r="2.27" fill="#e4c8d8"/>
<circle cx="153.19" cy="103.94" r="1.89" fill="#e4c8d8"/>
<circle cx="147.82" cy="51.43" r="1.69" fill="#e4c8d8"/>
<circle cx="117.37" cy="19.75" r="3.43" fill="#e4c8d8"/>
<circle cx="100.46" cy="34.12" r="2.1" fill="#e4c8d8"/>
<circle cx="99.44" cy="115.55" r="2.34" fill="#e4c8d8"/>
<circle cx="41.32" cy="19.88" r="1.94" fill="#e4c8d8"/>
<circle cx="86.29" cy="67.83" r="1.88" fill="#e4c8d8"/>
<circle cx="119.21" cy="117.98" r="2.01" fill="#e4c8d8"/>
<circle cx="52.29" cy="62.68" r="2.11" fill="#e4c8d8"/>
<circle cx="127.2" cy="89.13" r="2.08" fill="#e4c8d8"/>
<circle cx="162.06" cy="111.04" r="1.74" fill="#e4c8d8"/>
<circle cx="33.91" cy="69.73" r="1.88" fill="#e4c8d8"/>
<circle cx="149.78" cy="25" r="1.74" fill="#e4c8d8"/>
<circle cx="163.72" cy="25.94" r="2" fill="#e4c8d8"/>
<circle cx="152.33" cy="63.39" r="1.92" fill="#e4c8d8"/>
<circle cx="153.19" cy="40.1" r="1.71" fill="#e4c8d8"/>
<circle cx="91.28" cy="18.32" r="2.4" fill="#e4c8d8"/>
<circle cx="160.23" cy="128.42" r="2.33" fill="#e4c8d8"/>
<circle cx="175.38" cy="61.46" r="3.1" fill="#e4c8d8"/>
<circle cx="64.81" cy="53.6" r="1.68" fill="#e4c8d8"/>
<circle cx="90.12" cy="66.66" r="1.68" fill="#e4c8d8"/>
<circle cx="150.56" cy="92.71" r="1.81" fill="#e4c8d8"/>
<circle cx="106.48" cy="20.2" r="2.3" fill="#e4c8d8"/>
<circle cx="101.18" cy="95.91" r="1.76" fill="#e4c8d8"/>
<circle cx="135.88" cy="86.35" r="1.67" fill="#e4c8d8"/>
<circle cx="114.31" cy="105.17" r="2.11" fill="#e4c8d8"/>
<circle cx="46.69" cy="30.42" r="2.13" fill="#e4c8d8"/>
<circle cx="141.48" cy="37.07" r="1.94" fill="#e4c8d8"/>
<circle cx="145.4" cy="18.58" r="2.26" fill="#e4c8d8"/>
<circle cx="110.93" cy="85.54" r="1.97" fill="#e4c8d8"/>
<circle cx="161.45" cy="78.49" r="2.08" fill="#e4c8d8"/>
<circle cx="129.13" cy="72.37" r="2.78" fill="#e4c8d8"/>
<circle cx="149.6" cy="107.5" r="2.09" fill="#e4c8d8"/>
<circle cx="113.32" cy="45.9" r="2.11" fill="#e4c8d8"/>
<circle cx="62.24" cy="88.37" r="2.47" fill="#e4c8d8"/>
<circle cx="107.6" cy="69.28" r="2.24" fill="#e4c8d8"/>
<circle cx="100.7" cy="125.15" r="1.99" fill="#e4c8d8"/>
<circle cx="96.68" cy="118.11" r="1.93" fill="#e4c8d8"/>
<circle cx="132.83" cy="53.3" r="2.08" fill="#e4c8d8"/>
<circle cx="107.34" cy="83.3" r="1.78" fill="#e4c8d8"/>
<circle cx="72.8" cy="25.38" r="1.84" fill="#e4c8d8"/>
<circle cx="109.33" cy="27.01" r="1.82" fill="#e4c8d8"/>
<circle cx="42.55" cy="105.56" r="1.92" fill="#e4c8d8"/>
<circle cx="140.66" cy="40.07" r="1.66" fill="#e4c8d8"/>
<circle cx="52.77" cy="124.64" r="1.69" fill="#e4c8d8"/>
<circle cx="117.11" cy="46.48" r="2.17" fill="#e4c8d8"/>
<circle cx="147.82" cy="99.74" r="1.67" fill="#e4c8d8"/>
<circle cx="69.26" cy="37.27" r="1.94" fill="#e4c8d8"/>
<circle cx="46.39" cy="80.06" r="1.68" fill="#e4c8d8"/>
<circle cx="102.2" cy="99.09" r="2.08" fill="#e4c8d8"/>
<circle cx="99.36" cy="102.26" r="2.34" fill="#e4c8d8"/>
<circle cx="123.89" cy="18.61" r="2.36" fill="#e4c8d8"/>
<circle cx="112.4" cy="128.74" r="1.95" fill="#e4c8d8"/>
<circle cx="134.03" cy="101.58" r="1.73" fill="#e4c8d8"/>
<circle cx="159.34" cy="60.84" r="1.72" fill="#e4c8d8"/>
<circle cx="78.46" cy="63.73" r="1.83" fill="#e4c8d8"/>
<circle cx="122.44" cy="38.56" r="1.99" fill="#e4c8d8"/>
<circle cx="157.44" cy="118.97" r="1.95" fill="#e4c8d8"/>
<circle cx="122.02" cy="82.85" r="3" fill="#e4c8d8"/>
<circle cx="55.66" cy="89.76" r="1.74" fill="#e4c8d8"/>
<circle cx="42.61" cy="94.1" r="2.06" fill="#e4c8d8"/>
<circle cx="96.65" cy="50.13" r="2.69" fill="#e4c8d8"/>
<circle cx="150.54" cy="84.01" r="2.02" fill="#e4c8d8"/>
<circle cx="83.82" cy="95.72" r="1.67" fill="#e4c8d8"/>
<circle cx="160.13" cy="54.87" r="2.16" fill="#e4c8d8"/>
<circle cx="47.81" cy="23.24" r="1.69" fill="#e4c8d8"/>
<circle cx="88.34" cy="70.13" r="1.71" fill="#e4c8d8"/>
<circle cx="49.51" cy="85.64" r="2.06" fill="#e4c8d8"/>
<circle cx="62.88" cy="91.97" r="1.67" fill="#e4c8d8"/>
<circle cx="94.88" cy="40.76" r="1.98" fill="#e4c8d8"/>
<circle cx="163.79" cy="33.6" r="1.92" fill="#e4c8d8"/>
<circle cx="72.34" cy="39.38" r="2.29" fill="#e4c8d8"/>
<circle cx="79.87" cy="43.82" r="2.29" fill="#e4c8d8"/>
<circle cx="171.77" cy="76.43" r="2.79" fill="#e4c8d8"/>
<circle cx="174.64" cy="118.81" r="1.94" fill="#e4c8d8"/>
<circle cx="157" cy="104.8" r="1.67" fill="#e4c8d8"/>
<circle cx="101.19" cy="52.42" r="1.91" fill="#e4c8d8"/>
<circle cx="169.94" cy="66.14" r="2.04" fill="#e4c8d8"/>
<circle cx="43.07" cy="80.64" r="2.2" fill="#e4c8d8"/>
<circle cx="101.72" cy="128.28" r="1.81" fill="#e4c8d8"/>
<circle cx="36.79" cy="44.55" r="1.74" fill="#e4c8d8"/>
<circle cx="44.95" cy="97.05" r="1.85" fill="#e4c8d8"/>
<circle cx="47.36" cy="37.56" r="1.73" fill="#e4c8d8"/>
<circle cx="131.28" cy="95.35" r="2" fill="#e4c8d8"/>
<circle cx="150.58" cy="53.67" r="1.94" fill="#e4c8d8"/>
<circle cx="116.26" cy="121.95" r="2.16" fill="#e4c8d8"/>
<circle cx="147.89" cy="60.36" r="1.69" fill="#e4c8d8"/>
<circle cx="126.89" cy="113.81" r="1.96" fill="#e4c8d8"/>
<circle cx="163.11" cy="83.58" r="2.04" fill="#e4c8d8"/>
<circle cx="91.1" cy="40.43" r="1.77" fill="#e4c8d8"/>
<circle cx="132.69" cy="19.59" r="2.02" fill="#e4c8d8"/>
<circle cx="86.91" cy="111.23" r="2.85" fill="#e4c8d8"/>
<circle cx="153.81" cy="82.06" r="1.73" fill="#e4c8d8"/>
<circle cx="106.81" cy="65.21" r="1.82" fill="#e4c8d8"/>
<circle cx="164.7" cy="90.99" r="1.65" fill="#e4c8d8"/>
<circle cx="29.23" cy="81.96" r="2.83" fill="#e4c8d8"/>
<circle cx="170.12" cy="86.26" r="1.8" fill="#e4c8d8"/>
<circle cx="158.15" cy="70.75" r="1.97" fill="#e4c8d8"/>
<circle cx="152.96" cy="123.54" r="1.76" fill="#e4c8d8"/>
<circle cx="44.42" cy="40.2" r="1.74" fill="#e4c8d8"/>
<circle cx="175.35" cy="78.96" r="2.09" fill="#e4c8d8"/>
<circle cx="96.68" cy="64.2" r="1.97" fill="#e4c8d8"/>
<circle cx="28.18" cy="74.71" r="1.7" fill="#e4c8d8"/>
<circle cx="143.35" cy="104.24" r="2.11" fill="#e4c8d8"/>
<circle cx="113.12" cy="88.49" r="1.85" fill="#e4c8d8"/>
<circle cx="138.66" cy="114.48" r="2.04" fill="#e4c8d8"/>
<circle cx="89.71" cy="78.79" r="1.85" fill="#e4c8d8"/>
<circle cx="86.56" cy="18.56" r="1.71" fill="#e4c8d8"/>
<circle cx="84.19" cy="87.83" r="2.27" fill="#e4c8d8"/>
<circle cx="91.33" cy="96.91" r="2.2" fill="#e4c8d8"/>
<circle cx="149.91" cy="97.67" r="1.77" fill="#e4c8d8"/>
<circle cx="73.05" cy="111.94" r="2.01" fill="#e4c8d8"/>
<circle cx="87.73" cy="86.83" r="1.91" fill="#e4c8d8"/>
<circle cx="46.29" cy="89.46" r="1.96" fill="#e4c8d8"/>
<circle cx="134.2" cy="73.83" r="2.11" fill="#e4c8d8"/>
<circle cx="145.56" cy="74.28" r="2.53" fill="#e4c8d8"/>
<circle cx="87.59" cy="97.83" r="1.74" fill="#e4c8d8"/>
<circle cx="48.18" cy="128.57" r="2.85" fill="#e4c8d8"/>
<circle cx="93.44" cy="85.05" r="2.17" fill="#e4c8d8"/>
<circle cx="61.05" cy="56.17" r="2.52" fill="#e4c8d8"/>
<circle cx="110.37" cy="113.78" r="1.76" fill="#e4c8d8"/>
<circle cx="66.55" cy="103.81" r="1.7" fill="#e4c8d8"/>
<circle cx="165.66" cy="66.02" r="1.75" fill="#e4c8d8"/>
<circle cx="36.84" cy="90.06" r="1.86" fill="#e4c8d8"/>
<circle cx="98.42" cy="55.83" r="1.83" fill="#e4c8d8"/>
<circle cx="117.77" cy="82.6" r="1.76" fill="#e4c8d8"/>
<circle cx="153.87" cy="25.56" r="2.02" fill="#e4c8d8"/>
<circle cx="36.19" cy="64.56" r="1.75" fill="#e4c8d8"/>
<circle cx="146.86" cy="83.57" r="1.75" fill="#e4c8d8"/>
<circle cx="67.49" cy="122.59" r="1.74" fill="#e4c8d8"/>
<circle cx="118.59" cy="78.55" r="2.24" fill="#e4c8d8"/>
<circle cx="135.43" cy="83.41" r="1.8" fill="#e4c8d8"/>
<circle cx="31.79" cy="120.62" r="2.08" fill="#e4c8d8"/>
<circle cx="66.61" cy="114.39" r="1.65" fill="#e4c8d8"/>
<circle cx="108.56" cy="55.56" r="1.95" fill="#e4c8d8"/>
<circle cx="46.67" cy="26.65" r="2.13" fill="#e4c8d8"/>
<circle cx="35.69" cy="54.87" r="1.83" fill="#e4c8d8"/>
<circle cx="73.03" cy="103.91" r="1.94" fill="#e4c8d8"/>
<circle cx="136.88" cy="19.2" r="2.25" fill="#e4c8d8"/>
<circle cx="107.59" cy="91.61" r="1.82" fill="#e4c8d8"/>
<circle cx="147.26" cy="42.34" r="1.68" fill="#e4c8d8"/>
<circle cx="125.98" cy="92.79" r="1.81" fill="#e4c8d8"/>
<circle cx="153.96" cy="119.87" r="1.67" fill="#e4c8d8"/>
<circle cx="166.22" cy="100.97" r="1.99" fill="#e4c8d8"/>
<circle cx="61.27" cy="51.71" r="1.91" fill="#e4c8d8"/>
<circle cx="32.98" cy="101.11" r="1.65" fill="#e4c8d8"/>
<circle cx="149.88" cy="126.69" r="2.1" fill="#e4c8d8"/>
<circle cx="143.37" cy="92.23" r="1.94" fill="#e4c8d8"/>
<circle cx="40.34" cy="55.57" r="1.78" fill="#e4c8d8"/>
<circle cx="54.62" cy="108.84" r="2.06" fill="#e4c8d8"/>
<circle cx="160.74" cy="96.4" r="2.11" fill="#e4c8d8"/>
<circle cx="34.57" cy="122.48" r="1.77" fill="#e4c8d8"/>
<circle cx="168.7" cy="57.85" r="1.72" fill="#e4c8d8"/>
<circle cx="71.35" cy="28.4" r="2.01" fill="#e4c8d8"/>
<circle cx="107.19" cy="24.68" r="1.69" fill="#e4c8d8"/>
<circle cx="124.63" cy="124.45" r="1.72" fill="#e4c8d8"/>
<circle cx="68.93" cy="101.85" r="1.82" fill="#e4c8d8"/>
<circle cx="100.59" cy="49.34" r="1.73" fill="#e4c8d8"/>
<circle cx="139.24" cy="126.82" r="1.71" fill="#e4c8d8"/>
<circle cx="121.77" cy="21.85" r="1.94" fill="#e4c8d8"/>
<circle cx="63.53" cy="73.96" r="2.08" fill="#e4c8d8"/>
<circle cx="174.52" cy="82.97" r="2.29" fill="#e4c8d8"/>
<circle cx="59.86" cy="36.82" r="2.04" fill="#e4c8d8"/>
<circle cx="97.94" cy="91.58" r="1.78" fill="#e4c8d8"/>
<circle cx="63.25" cy="22.54" r="1.69" fill="#e4c8d8"/>
<circle cx="68.52" cy="26.81" r="1.73" fill="#e4c8d8"/>
<circle cx="114.45" cy="73" r="1.71" fill="#e4c8d8"/>
<circle cx="98.15" cy="94.93" r="1.78" fill="#e4c8d8"/>
<circle cx="59.07" cy="122.71" r="1.71" fill="#e4c8d8"/>
<circle cx="120.3" cy="59.24" r="1.79" fill="#e4c8d8"/>
<circle cx="82.31" cy="26.73" r="2" fill="#e4c8d8"/>
<circle cx="118.78" cy="24.15" r="1.69" fill="#e4c8d8"/>
<circle cx="133.46" cy="123.69" r="1.67" fill="#e4c8d8"/>
<circle cx="148.2" cy="119.1" r="1.7" fill="#e4c8d8"/>
<circle cx="166.88" cy="25.81" r="1.67" fill="#e4c8d8"/>
<circle cx="96.92" cy="124.57" r="1.75" fill="#e4c8d8"/>
<circle cx="67.8" cy="54.21" r="1.67" fill="#e4c8d8"/>
<circle cx="31.43" cy="115.36" r="1.94" fill="#e4c8d8"/>
<circle cx="116.52" cy="51.4" r="1.75" fill="#e4c8d8"/>
<circle cx="123.04" cy="32.25" r="1.78" fill="#e4c8d8"/>
<circle cx="80.6" cy="50.54" r="1.68" fill="#e4c8d8"/>
<circle cx="136.48" cy="52.04" r="1.96" fill="#e4c8d8"/>
<circle cx="162.74" cy="69.08" r="1.7" fill="#e4c8d8"/>
<circle cx="66.8" cy="86.54" r="1.82" fill="#e4c8d8"/>
<circle cx="51.16" cy="59.27" r="1.8" fill="#e4c8d8"/>
<circle cx="139.44" cy="102.69" r="2.17" fill="#e4c8d8"/>
<circle cx="156.34" cy="21.08" r="1.72" fill="#e4c8d8"/>
<circle cx="106.02" cy="61.62" r="1.76" fill="#e4c8d8"/>
<circle cx="82.88" cy="110.33" r="1.78" fill="#e4c8d8"/>
<circle cx="148.06" cy="115.43" r="1.78" fill="#e4c8d8"/>
<circle cx="83.29" cy="58.5" r="1.7" fill="#e4c8d8"/>
<circle cx="31.97" cy="106.8" r="1.65" fill="#e4c8d8"/>
<circle cx="112.26" cy="23.47" r="1.77" fill="#e4c8d8"/>
<circle cx="81.11" cy="73.88" r="1.83" fill="#e4c8d8"/>
<circle cx="153.13" cy="21.93" r="1.86" fill="#e4c8d8"/>
<circle cx="28.57" cy="94.44" r="2.33" fill="#e4c8d8"/>
<circle cx="51.56" cy="121.51" r="1.73" fill="#e4c8d8"/>
<circle cx="136.78" cy="128.54" r="1.79" fill="#e4c8d8"/>
<circle cx="170.34" cy="115.44" r="1.96" fill="#e4c8d8"/>
<circle cx="153.59" cy="34.28" r="2.12" fill="#e4c8d8"/>
<circle cx="28.07" cy="21.68" r="1.73" fill="#e4c8d8"/>
<circle cx="79.92" cy="128.73" r="2.17" fill="#e4c8d8"/>
<circle cx="168.67" cy="52.31" r="1.95" fill="#e4c8d8"/>
<circle cx="136.78" cy="31.82" r="2.03" fill="#e4c8d8"/>
<circle cx="169.42" cy="37.58" r="1.65" fill="#e4c8d8"/>
<circle cx="166.51" cy="84.26" r="1.92" fill="#e4c8d8"/>
<circle cx="40.44" cy="128.66" r="1.68" fill="#e4c8d8"/>
<circle cx="132.91" cy="106.29" r="1.78" fill="#e4c8d8"/>
<circle cx="90.07" cy="128.94" r="1.67" fill="#e4c8d8"/>
<circle cx="106.55" cy="73.47" r="1.8" fill="#e4c8d8"/>
<circle cx="98.51" cy="38.37" r="1.65" fill="#e4c8d8"/>
<circle cx="46.33" cy="18.77" r="1.75" fill="#e4c8d8"/>
<circle cx="51.37" cy="38.17" r="1.67" fill="#e4c8d8"/>
<circle cx="109.12" cy="117.83" r="1.91" fill="#e4c8d8"/>
<circle cx="166.55" cy="106.88" r="1.8" fill="#e4c8d8"/>
<circle cx="92.53" cy="108.81" r="1.77" fill="#e4c8d8"/>
<circle cx="51.15" cy="52.26" r="1.77" fill="#e4c8d8"/>
<circle cx="53.79" cy="87.29" r="1.71" fill="#e4c8d8"/>
<circle cx="86.69" cy="49.93" r="1.7" fill="#e4c8d8"/>
<circle cx="126.04" cy="128.48" r="1.89" fill="#e4c8d8"/>
<circle cx="120.41" cy="115.04" r="1.66" fill="#e4c8d8"/>
<circle cx="54.62" cy="35.14" r="1.7" fill="#e4c8d8"/>
<circle cx="72.37" cy="19.04" r="1.7" fill="#e4c8d8"/>
<circle cx="92.72" cy="68.11" r="1.69" fill="#e4c8d8"/>
<circle cx="48.09" cy="54.69" r="2.02" fill="#e4c8d8"/>
<circle cx="145.68" cy="31.94" r="1.75" fill="#e4c8d8"/>
<circle cx="146.42" cy="93.41" r="1.7" fill="#e4c8d8"/>
<circle cx="134.15" cy="65.81" r="1.66" fill="#e4c8d8"/>
<circle cx="51.69" cy="115.23" r="1.77" fill="#e4c8d8"/>
<circle cx="113.69" cy="93.61" r="1.67" fill="#e4c8d8"/>
<circle cx="130.41" cy="40.25" r="1.81" fill="#e4c8d8"/>
<circle cx="83.06" cy="119.69" r="1.79" fill="#e4c8d8"/>
<circle cx="131.53" cy="32.72" r="1.75" fill="#e4c8d8"/>
<circle cx="28.19" cy="90.6" r="2.03" fill="#e4c8d8"/>
<circle cx="34.06" cy="27.72" r="1.93" fill="#e4c8d8"/>
<circle cx="55.02" cy="69.12" r="1.71" fill="#e4c8d8"/>
<circle cx="173.6" cy="104.68" r="1.77" fill="#e4c8d8"/>
<circle cx="169.6" cy="107.64" r="1.77" fill="#e4c8d8"/>
<circle cx="172.63" cy="72.3" r="1.67" fill="#e4c8d8"/>
<circle cx="105.66" cy="119.43" r="1.67" fill="#e4c8d8"/>
<circle cx="70.78" cy="44" r="1.8" fill="#e4c8d8"/>
<circle cx="115.23" cy="112.2" r="1.77" fill="#e4c8d8"/>
<circle cx="129.64" cy="98.25" r="1.74" fill="#e4c8d8"/>
<circle cx="81.24" cy="62.64" r="1.66" fill="#e4c8d8"/>
<circle cx="105.41" cy="39.5" r="1.75" fill="#e4c8d8"/>
<circle cx="53.85" cy="128.48" r="1.98" fill="#e4c8d8"/>
<circle cx="67.69" cy="83.43" r="1.74" fill="#e4c8d8"/>
<circle cx="98.28" cy="18.01" r="1.82" fill="#e4c8d8"/>
<circle cx="110.31" cy="30.39" r="1.7" fill="#e4c8d8"/>
<circle cx="118.84" cy="28.62" r="1.74" fill="#e4c8d8"/>
<circle cx="64.77" cy="44.39" r="1.76" fill="#e4c8d8"/>
<circle cx="71.71" cy="91.01" r="1.68" fill="#e4c8d8"/>
<circle cx="71.99" cy="35.28" r="1.8" fill="#e4c8d8"/>
<circle cx="50.25" cy="90.25" r="2.23" fill="#ecfbf7"/>
<circle cx="107.04" cy="58.59" r="1.58" fill="#ecfbf7"/>
<circle cx="102.85" cy="22.16" r="1.54" fill="#ecfbf7"/>
<circle cx="38.3" cy="28.07" r="2.48" fill="#ecfbf7"/>
<circle cx="149.96" cy="31.74" r="2.46" fill="#ecfbf7"/>
<circle cx="120.55" cy="123.2" r="1.99" fill="#ecfbf7"/>
<circle cx="86.51" cy="126.36" r="2.78" fill="#ecfbf7"/>
<circle cx="154.62" cy="50.15" r="1.5" fill="#ecfbf7"/>
<circle cx="45.37" cy="52.24" r="1.79" fill="#ecfbf7"/>
<circle cx="54.66" cy="82.56" r="3.25" fill="#ecfbf7"/>
<circle cx="82.93" cy="78.8" r="2.91" fill="#ecfbf7"/>
<circle cx="36.79" cy="40.86" r="1.55" fill="#ecfbf7"/>
<circle cx="91.07" cy="52.87" r="2.99" fill="#ecfbf7"/>
<circle cx="131.1" cy="45.09" r="3.21" fill="#ecfbf7"/>
<circle cx="105.47" cy="115.14" r="2.78" fill="#ecfbf7"/>
<circle cx="70.47" cy="126.8" r="3.09" fill="#ecfbf7"/>
<circle cx="89.67" cy="102.04" r="1.72" fill="#ecfbf7"/>
<circle cx="140.77" cy="81.61" r="2.97" fill="#ecfbf7"/>
<circle cx="74.28" cy="95.18" r="3.37" fill="#ecfbf7"/>
<circle cx="113.53" cy="68.64" r="2.82" fill="#ecfbf7"/>
<circle cx="167.34" cy="70.62" r="3.3" fill="#ecfbf7"/>
<circle cx="36.95" cy="95.87" r="2.96" fill="#ecfbf7"/>
<circle cx="174.48" cy="109.23" r="2.92" fill="#ecfbf7"/>
<circle cx="84.9" cy="92.22" r="2.14" fill="#ecfbf7"/>
<circle cx="96.1" cy="36.65" r="1.41" fill="#ecfbf7"/>
<circle cx="36.7" cy="103.27" r="1.71" fill="#ecfbf7"/>
<circle cx="64.52" cy="61.4" r="1.75" fill="#ecfbf7"/>
<circle cx="39.89" cy="67.86" r="3.36" fill="#ecfbf7"/>
<circle cx="158.3" cy="108.94" r="2.72" fill="#ecfbf7"/>
<circle cx="69.07" cy="64.1" r="3.34" fill="#ecfbf7"/>
<circle cx="158.42" cy="124.31" r="2.31" fill="#ecfbf7"/>
<circle cx="53.99" cy="43.75" r="1.81" fill="#ecfbf7"/>
<circle cx="99.53" cy="83.39" r="2.02" fill="#ecfbf7"/>
<circle cx="28.6" cy="64.5" r="2.09" fill="#ecfbf7"/>
<circle cx="111.54" cy="123.79" r="2.34" fill="#ecfbf7"/>
<circle cx="104.03" cy="86.55" r="3.01" fill="#ecfbf7"/>
<circle cx="35.96" cy="117.85" r="2.98" fill="#ecfbf7"/>
<circle cx="86.85" cy="29.49" r="2.39" fill="#ecfbf7"/>
<circle cx="51.94" cy="55.75" r="1.96" fill="#ecfbf7"/>
<circle cx="28.03" cy="34.79" r="1.52" fill="#ecfbf7"/>
<circle cx="81.63" cy="20.83" r="1.67" fill="#ecfbf7"/>
<circle cx="118.58" cy="34.49" r="3.37" fill="#ecfbf7"/>
<circle cx="79.24" cy="58.42" r="2.06" fill="#ecfbf7"/>
<circle cx="153.22" cy="128.23" r="1.73" fill="#ecfbf7"/>
<circle cx="99.37" cy="27.53" r="2.55" fill="#ecfbf7"/>
<circle cx="78.54" cy="47.39" r="1.67" fill="#ecfbf7"/>
<circle cx="51.81" cy="20.56" r="3.28" fill="#ecfbf7"/>
<circle cx="105.92" cy="34.27" r="3.51" fill="#ecfbf7"/>
<circle cx="31.99" cy="76.62" r="2.71" fill="#ecfbf7"/>
<circle cx="155.34" cy="95.28" r="3.56" fill="#ecfbf7"/>
<circle cx="82.09" cy="36.54" r="2.09" fill="#ecfbf7"/>
<circle cx="106.56" cy="104.48" r="3.17" fill="#ecfbf7"/>
<circle cx="60.9" cy="108.08" r="2.25" fill="#ecfbf7"/>
<circle cx="153.76" cy="107.47" r="1.84" fill="#ecfbf7"/>
<circle cx="137.13" cy="43.17" r="2.92" fill="#ecfbf7"/>
<circle cx="69.21" cy="46.77" r="1.43" fill="#ecfbf7"/>
<circle cx="173.74" cy="124.01" r="3.48" fill="#ecfbf7"/>
<circle cx="60.52" cy="43.18" r="2.33" fill="#ecfbf7"/>
<circle cx="58.15" cy="87.27" r="1.93" fill="#ecfbf7"/>
<circle cx="151.96" cy="71.22" r="3.41" fill="#ecfbf7"/>
<circle cx="145.95" cy="27.41" r="2.94" fill="#ecfbf7"/>
<circle cx="162.19" cy="104.84" r="2.73" fill="#ecfbf7"/>
<circle cx="77.05" cy="106.89" r="3.2" fill="#ecfbf7"/>
<circle cx="86.39" cy="62.55" r="3.55" fill="#ecfbf7"/>
<circle cx="134.91" cy="36.87" r="3.5" fill="#ecfbf7"/>
<circle cx="50.29" cy="118.44" r="1.74" fill="#ecfbf7"/>
<circle cx="49.56" cy="109.74" r="3.24" fill="#ecfbf7"/>
<circle cx="124.95" cy="56.9" r="3.56" fill="#ecfbf7"/>
<circle cx="123.83" cy="76.45" r="3.55" fill="#ecfbf7"/>
<circle cx="91.99" cy="114.76" r="3.48" fill="#ecfbf7"/>
<circle cx="63.48" cy="83.09" r="2.16" fill="#ecfbf7"/>
<circle cx="89.8" cy="32.55" r="1.66" fill="#ecfbf7"/>
<circle cx="80.18" cy="68.86" r="3.43" fill="#ecfbf7"/>
<circle cx="161.38" cy="64.69" r="2.79" fill="#ecfbf7"/>
<circle cx="101.99" cy="77.03" r="3.45" fill="#ecfbf7"/>
<circle cx="28.58" cy="106.71" r="1.89" fill="#ecfbf7"/>
<circle cx="97.84" cy="98.5" r="1.86" fill="#ecfbf7"/>
<circle cx="76.08" cy="75.54" r="2.74" fill="#ecfbf7"/>
<circle cx="64.65" cy="48.74" r="2.75" fill="#ecfbf7"/>
<circle cx="94.72" cy="77.19" r="3.01" fill="#ecfbf7"/>
<circle cx="166.87" cy="95.61" r="2.57" fill="#ecfbf7"/>
<circle cx="166.97" cy="46.81" r="3.37" fill="#ecfbf7"/>
<circle cx="167.13" cy="111.24" r="2.75" fill="#ecfbf7"/>
<circle cx="45.94" cy="67.08" r="1.77" fill="#ecfbf7"/>
<circle cx="63.49" cy="26.12" r="1.58" fill="#ecfbf7"/>
<circle cx="143.63" cy="117.57" r="2.97" fill="#ecfbf7"/>
<circle cx="133.63" cy="91.29" r="1.82" fill="#ecfbf7"/>
<circle cx="168.49" cy="62.21" r="1.98" fill="#ecfbf7"/>
<circle cx="56.87" cy="53.36" r="2.27" fill="#ecfbf7"/>
<circle cx="30.67" cy="54.8" r="2.49" fill="#ecfbf7"/>
<circle cx="103.56" cy="25.14" r="1.32" fill="#ecfbf7"/>
<circle cx="144.28" cy="125.86" r="3.57" fill="#ecfbf7"/>
<circle cx="67.17" cy="22.39" r="1.68" fill="#ecfbf7"/>
<circle cx="67.89" cy="32.38" r="3.18" fill="#ecfbf7"/>
<circle cx="131.31" cy="27.93" r="2.77" fill="#ecfbf7"/>
<circle cx="129.51" cy="65.21" r="1.53" fill="#ecfbf7"/>
<circle cx="166.41" cy="88.42" r="1.58" fill="#ecfbf7"/>
<circle cx="40.35" cy="113.04" r="3.23" fill="#ecfbf7"/>
<circle cx="47.06" cy="76.49" r="2.1" fill="#ecfbf7"/>
<circle cx="44.14" cy="35.92" r="2.03" fill="#ecfbf7"/>
<circle cx="140.03" cy="50.19" r="2.19" fill="#ecfbf7"/>
<circle cx="64.94" cy="19.7" r="1.39" fill="#ecfbf7"/>
<circle cx="109.28" cy="39.03" r="2.12" fill="#ecfbf7"/>
<circle cx="165.86" cy="29.8" r="2.57" fill="#ecfbf7"/>
<circle cx="91.75" cy="72.95" r="1.97" fill="#ecfbf7"/>
<circle cx="85.98" cy="74.24" r="2.38" fill="#ecfbf7"/>
<circle cx="172.91" cy="56.04" r="3" fill="#ecfbf7"/>
<circle cx="79.26" cy="24.04" r="2.12" fill="#ecfbf7"/>
<circle cx="38.43" cy="100.24" r="1.46" fill="#ecfbf7"/>
<circle cx="52.08" cy="27.38" r="2.07" fill="#ecfbf7"/>
<circle cx="51.24" cy="67.49" r="2.53" fill="#ecfbf7"/>
<circle cx="64.06" cy="125.19" r="2.72" fill="#ecfbf7"/>
<circle cx="98.01" cy="73.81" r="1.48" fill="#ecfbf7"/>
<circle cx="102.45" cy="18.55" r="1.9" fill="#ecfbf7"/>
<circle cx="41.24" cy="62.35" r="2.09" fill="#ecfbf7"/>
<circle cx="114.37" cy="76.74" r="2.02" fill="#ecfbf7"/>
<circle cx="124.99" cy="97.48" r="3.13" fill="#ecfbf7"/>
<circle cx="85.45" cy="54.2" r="2.58" fill="#ecfbf7"/>
<circle cx="50.05" cy="98.38" r="3.57" fill="#ecfbf7"/>
<circle cx="34.46" cy="110.72" r="2.91" fill="#ecfbf7"/>
<circle cx="120.53" cy="99.46" r="1.55" fill="#ecfbf7"/>
<circle cx="114.15" cy="117.1" r="3.27" fill="#ecfbf7"/>
<circle cx="47.63" cy="58.04" r="1.44" fill="#ecfbf7"/>
<circle cx="151.28" cy="80" r="1.68" fill="#ecfbf7"/>
<circle cx="120.37" cy="93.55" r="2.73" fill="#ecfbf7"/>
<circle cx="38.98" cy="47.48" r="2.06" fill="#ecfbf7"/>
<circle cx="58.27" cy="100.12" r="3.09" fill="#ecfbf7"/>
<circle cx="100.86" cy="60.46" r="3.56" fill="#ecfbf7"/>
<circle cx="128.85" cy="103.13" r="2.58" fill="#ecfbf7"/>
<circle cx="122.81" cy="26.6" r="2.86" fill="#ecfbf7"/>
<circle cx="65.46" cy="100.5" r="1.8" fill="#ecfbf7"/>
<circle cx="111.74" cy="19.38" r="2.19" fill="#ecfbf7"/>
<circle cx="67.64" cy="92.59" r="1.54" fill="#ecfbf7"/>
<circle cx="127.67" cy="50.29" r="2.81" fill="#ecfbf7"/>
<circle cx="96.54" cy="69.76" r="2.62" fill="#ecfbf7"/>
<circle cx="159.82" cy="40.12" r="1.72" fill="#ecfbf7"/>
<circle cx="166.1" cy="19.94" r="3.56" fill="#ecfbf7"/>
<circle cx="67.63" cy="41.29" r="2.51" fill="#ecfbf7"/>
<circle cx="105.3" cy="123.75" r="1.78" fill="#ecfbf7"/>
<circle cx="99.71" cy="20.76" r="1.42" fill="#ecfbf7"/>
<circle cx="100.53" cy="68.03" r="1.33" fill="#ecfbf7"/>
<circle cx="151.93" cy="18.19" r="2.22" fill="#ecfbf7"/>
<circle cx="133.17" cy="118.07" r="3.46" fill="#ecfbf7"/>
<circle cx="114.9" cy="58.04" r="3.6" fill="#ecfbf7"/>
<circle cx="151.11" cy="49.7" r="1.67" fill="#ecfbf7"/>
<circle cx="56" cy="59.44" r="2.64" fill="#ecfbf7"/>
<circle cx="162.73" cy="122.42" r="2.19" fill="#ecfbf7"/>
<circle cx="134.14" cy="23.49" r="2.29" fill="#ecfbf7"/>
<circle cx="94.5" cy="101.55" r="2.46" fill="#ecfbf7"/>
<circle cx="70.22" cy="23.44" r="1.34" fill="#ecfbf7"/>
<circle cx="46.78" cy="70.41" r="1.47" fill="#ecfbf7"/>
<circle cx="71.92" cy="100.03" r="1.83" fill="#ecfbf7"/>
<circle cx="110.2" cy="61.77" r="2.18" fill="#ecfbf7"/>
<circle cx="51.84" cy="41.07" r="1.42" fill="#ecfbf7"/>
<circle cx="101.32" cy="42.42" r="3.43" fill="#ecfbf7"/>
<circle cx="174.98" cy="67.95" r="3.43" fill="#ecfbf7"/>
<circle cx="56.38" cy="28.07" r="1.78" fill="#ecfbf7"/>
<circle cx="41.44" cy="44.54" r="1.56" fill="#ecfbf7"/>
<circle cx="59.85" cy="48.08" r="1.9" fill="#ecfbf7"/>
<circle cx="153.18" cy="114.89" r="3.51" fill="#ecfbf7"/>
<circle cx="85.75" cy="120.88" r="1.3" fill="#ecfbf7"/>
<circle cx="128.61" cy="122.51" r="2.67" fill="#ecfbf7"/>
<circle cx="123.48" cy="102.89" r="2.29" fill="#ecfbf7"/>
<circle cx="109.35" cy="22.39" r="1.46" fill="#ecfbf7"/>
<circle cx="62.31" cy="120.11" r="2.45" fill="#ecfbf7"/>
<circle cx="72.81" cy="32.2" r="1.54" fill="#ecfbf7"/>
<circle cx="38.38" cy="76.21" r="1.7" fill="#ecfbf7"/>
<circle cx="85.24" cy="42.82" r="2.79" fill="#ecfbf7"/>
<circle cx="169.44" cy="89.55" r="1.46" fill="#ecfbf7"/>
<circle cx="89.95" cy="46.56" r="2.98" fill="#ecfbf7"/>
<circle cx="57.22" cy="106.47" r="1.57" fill="#ecfbf7"/>
<circle cx="60.94" cy="64.29" r="1.9" fill="#ecfbf7"/>
<circle cx="167.94" cy="34.25" r="2.15" fill="#ecfbf7"/>
<circle cx="59.41" cy="126.13" r="1.82" fill="#ecfbf7"/>
<circle cx="35.65" cy="24.68" r="1.63" fill="#ecfbf7"/>
<circle cx="160.48" cy="116.08" r="2.39" fill="#ecfbf7"/>
<circle cx="55.36" cy="121.88" r="2.25" fill="#ecfbf7"/>
<circle cx="32.7" cy="91.75" r="2.75" fill="#ecfbf7"/>
<circle cx="28.42" cy="49.06" r="1.86" fill="#ecfbf7"/>
<circle cx="149.25" cy="66" r="2.27" fill="#ecfbf7"/>
<circle cx="32.47" cy="63.6" r="1.68" fill="#ecfbf7"/>
<circle cx="141.08" cy="22.51" r="3.25" fill="#ecfbf7"/>
<circle cx="138.22" cy="117.74" r="1.4" fill="#ecfbf7"/>
<circle cx="68.66" cy="18.42" r="2.22" fill="#ecfbf7"/>
<circle cx="163.18" cy="88.37" r="1.45" fill="#ecfbf7"/>
<circle cx="31.58" cy="43.96" r="3.49" fill="#ecfbf7"/>
<circle cx="164.89" cy="38.31" r="2.61" fill="#ecfbf7"/>
<circle cx="136.93" cy="109.33" r="3.23" fill="#ecfbf7"/>
<circle cx="81.37" cy="104.83" r="1.39" fill="#ecfbf7"/>
<circle cx="37.55" cy="21.76" r="1.65" fill="#ecfbf7"/>
<circle cx="76.05" cy="126.81" r="2.29" fill="#ecfbf7"/>
<circle cx="173.7" cy="47.4" r="3.19" fill="#ecfbf7"/>
<circle cx="42.22" cy="73.33" r="1.62" fill="#ecfbf7"/>
<circle cx="93.93" cy="44" r="1.55" fill="#ecfbf7"/>
<circle cx="83.01" cy="99.93" r="2.76" fill="#ecfbf7"/>
<circle cx="158.41" cy="82.19" r="1.81" fill="#ecfbf7"/>
<circle cx="174.17" cy="29.36" r="2.94" fill="#ecfbf7"/>
<circle cx="148.82" cy="111.3" r="1.93" fill="#ecfbf7"/>
<circle cx="33.95" cy="50.6" r="2.64" fill="#ecfbf7"/>
<circle cx="55.96" cy="126" r="1.43" fill="#ecfbf7"/>
<circle cx="165.2" cy="59.32" r="2.2" fill="#ecfbf7"/>
<circle cx="119.44" cy="42.16" r="2.82" fill="#ecfbf7"/>
<circle cx="48.85" cy="40.64" r="1.4" fill="#ecfbf7"/>
<circle cx="116.41" cy="90.33" r="2.07" fill="#ecfbf7"/>
<circle cx="145.3" cy="78.83" r="1.94" fill="#ecfbf7"/>
<circle cx="28.87" cy="118.08" r="1.94" fill="#ecfbf7"/>
<circle cx="109.35" cy="89.11" r="1.38" fill="#ecfbf7"/>
<circle cx="41.13" cy="87.06" r="3.43" fill="#ecfbf7"/>
<circle cx="100.35" cy="107.33" r="1.69" fill="#ecfbf7"/>
<circle cx="57.11" cy="32.06" r="2.08" fill="#ecfbf7"/>
<circle cx="119.5" cy="109.53" r="3.42" fill="#ecfbf7"/>
<circle cx="143.91" cy="42.65" r="1.83" fill="#ecfbf7"/>
<circle cx="110.95" cy="102.08" r="1.48" fill="#ecfbf7"/>
<circle cx="89.96" cy="82.67" r="2.19" fill="#ecfbf7"/>
<circle cx="125.18" cy="67.59" r="2.46" fill="#ecfbf7"/>
<circle cx="31.45" cy="86.7" r="2.26" fill="#ecfbf7"/>
<circle cx="62.7" cy="102.76" r="1.57" fill="#ecfbf7"/>
<circle cx="43.79" cy="32.26" r="1.45" fill="#ecfbf7"/>
<circle cx="136.19" cy="104.32" r="1.61" fill="#ecfbf7"/>
<circle cx="36" cy="73.94" r="1.39" fill="#ecfbf7"/>
<circle cx="174.93" cy="99.26" r="3.33" fill="#ecfbf7"/>
<circle cx="169.1" cy="119.68" r="2.6" fill="#ecfbf7"/>
<circle cx="160.24" cy="48.52" r="1.83" fill="#ecfbf7"/>
<circle cx="75.06" cy="22.09" r="2.31" fill="#ecfbf7"/>
<circle cx="160.07" cy="36.73" r="1.48" fill="#ecfbf7"/>
<circle cx="81.07" cy="114.9" r="2.9" fill="#ecfbf7"/>
<circle cx="174.46" cy="87.91" r="1.68" fill="#ecfbf7"/>
<circle cx="145.66" cy="47.39" r="2.39" fill="#ecfbf7"/>
<circle cx="93.24" cy="37.62" r="1.41" fill="#ecfbf7"/>
<circle cx="122.29" cy="127.23" r="2.07" fill="#ecfbf7"/>
<circle cx="32.98" cy="34.58" r="1.31" fill="#ecfbf7"/>
<circle cx="47.47" cy="43.23" r="1.33" fill="#ecfbf7"/>
<circle cx="31.29" cy="18.29" r="2.94" fill="#ecfbf7"/>
<circle cx="43.69" cy="57.64" r="2.3" fill="#ecfbf7"/>
<circle cx="114.08" cy="83.39" r="2" fill="#ecfbf7"/>
<circle cx="120.03" cy="70.71" r="1.95" fill="#ecfbf7"/>
<circle cx="143.37" cy="62.62" r="3.36" fill="#ecfbf7"/>
<circle cx="79.67" cy="89.66" r="2.75" fill="#ecfbf7"/>
<circle cx="161.27" cy="22.88" r="1.9" fill="#ecfbf7"/>
<circle cx="117.69" cy="74.27" r="1.92" fill="#ecfbf7"/>
<circle cx="147.97" cy="37.38" r="2.91" fill="#ecfbf7"/>
<circle cx="143.49" cy="97.41" r="3.39" fill="#ecfbf7"/>
<circle cx="152.55" cy="100.72" r="1.34" fill="#ecfbf7"/>
<circle cx="137.41" cy="68.23" r="2.55" fill="#ecfbf7"/>
<circle cx="77.49" cy="101.21" r="1.47" fill="#ecfbf7"/>
<circle cx="109.68" cy="66.4" r="1.44" fill="#ecfbf7"/>
<circle cx="105.18" cy="47.45" r="2.71" fill="#ecfbf7"/>
<circle cx="170.36" cy="42.09" r="2.25" fill="#ecfbf7"/>
<circle cx="137.72" cy="122.86" r="2.02" fill="#ecfbf7"/>
<circle cx="76.21" cy="115.7" r="1.82" fill="#ecfbf7"/>
<circle cx="130.19" cy="91.84" r="1.46" fill="#ecfbf7"/>
<circle cx="97.25" cy="111.21" r="2.67" fill="#ecfbf7"/>
<circle cx="154.48" cy="66.53" r="1.71" fill="#ecfbf7"/>
<circle cx="112.13" cy="52.16" r="2.7" fill="#ecfbf7"/>
<circle cx="32.24" cy="22.62" r="1.3" fill="#ecfbf7"/>
<circle cx="44.52" cy="21.82" r="1.95" fill="#ecfbf7"/>
<circle cx="147.77" cy="88.39" r="3.32" fill="#ecfbf7"/>
<circle cx="121.15" cy="49.9" r="3.27" fill="#ecfbf7"/>
<circle cx="42.43" cy="102.07" r="1.66" fill="#ecfbf7"/>
<circle cx="75.07" cy="65.04" r="1.95" fill="#ecfbf7"/>
<circle cx="142.02" cy="56.49" r="2.48" fill="#ecfbf7"/>
<circle cx="172.24" cy="18.48" r="2.55" fill="#ecfbf7"/>
<circle cx="59.67" cy="95.64" r="1.41" fill="#ecfbf7"/>
<circle cx="86.2" cy="116.84" r="2.39" fill="#ecfbf7"/>
<circle cx="66.82" cy="118.03" r="1.95" fill="#ecfbf7"/>
<circle cx="139.07" cy="89.74" r="3.14" fill="#ecfbf7"/>
<circle cx="76.18" cy="35.24" r="2.29" fill="#ecfbf7"/>
<circle cx="63.1" cy="39.26" r="2.16" fill="#ecfbf7"/>
<circle cx="131.72" cy="111.65" r="2.18" fill="#ecfbf7"/>
<circle cx="51.01" cy="45.48" r="1.44" fill="#ecfbf7"/>
<circle cx="43.02" cy="124.82" r="3.09" fill="#ecfbf7"/>
<circle cx="85.28" cy="21.77" r="1.9" fill="#ecfbf7"/>
<circle cx="117.05" cy="62.92" r="1.54" fill="#ecfbf7"/>
<circle cx="51.72" cy="104.78" r="1.98" fill="#ecfbf7"/>
<circle cx="104.58" cy="29.22" r="1.52" fill="#ecfbf7"/>
<circle cx="107.8" cy="97.62" r="2.78" fill="#ecfbf7"/>
<circle cx="128.94" cy="61.57" r="1.95" fill="#ecfbf7"/>
<circle cx="130.99" cy="57.09" r="2.28" fill="#ecfbf7"/>
<circle cx="142.55" cy="107.86" r="1.75" fill="#ecfbf7"/>
<circle cx="71.42" cy="78.86" r="2.55" fill="#ecfbf7"/>
<circle cx="150.98" cy="57.38" r="1.74" fill="#ecfbf7"/>
<circle cx="134.46" cy="49.21" r="1.32" fill="#ecfbf7"/>
<circle cx="72.52" cy="71.23" r="2.05" fill="#ecfbf7"/>
<circle cx="124.75" cy="45.75" r="2.02" fill="#ecfbf7"/>
<circle cx="117.73" cy="104.72" r="1.5" fill="#ecfbf7"/>
<circle cx="109.87" cy="47.36" r="1.78" fill="#ecfbf7"/>
<circle cx="28.97" cy="111.33" r="2.41" fill="#ecfbf7"/>
<circle cx="110.98" cy="91.85" r="1.6" fill="#ecfbf7"/>
<circle cx="165.4" cy="54.68" r="2.25" fill="#ecfbf7"/>
<circle cx="103.32" cy="71.8" r="1.75" fill="#ecfbf7"/>
<circle cx="109.72" cy="109.77" r="2.45" fill="#ecfbf7"/>
<circle cx="68.08" cy="74.21" r="2.63" fill="#ecfbf7"/>
<circle cx="74.77" cy="51.21" r="2.25" fill="#ecfbf7"/>
<circle cx="118.23" cy="86.45" r="2.01" fill="#ecfbf7"/>
<circle cx="130.72" cy="84.19" r="2.88" fill="#ecfbf7"/>
<circle cx="59.34" cy="92.04" r="2.01" fill="#ecfbf7"/>
<circle cx="140.49" cy="29.25" r="2.53" fill="#ecfbf7"/>
<circle cx="33.45" cy="103.97" r="1.4" fill="#ecfbf7"/>
<circle cx="91.52" cy="89.24" r="2.22" fill="#ecfbf7"/>
<circle cx="36.06" cy="80.99" r="3.06" fill="#ecfbf7"/>
<circle cx="85.1" cy="83.71" r="1.38" fill="#ecfbf7"/>
<circle cx="128.85" cy="31.51" r="1.33" fill="#ecfbf7"/>
<circle cx="30.62" cy="97.85" r="1.75" fill="#ecfbf7"/>
<circle cx="135.63" cy="27.36" r="1.39" fill="#ecfbf7"/>
<circle cx="132.61" cy="69.12" r="2.13" fill="#ecfbf7"/>
<circle cx="123.12" cy="87.9" r="2.32" fill="#ecfbf7"/>
<circle cx="84.9" cy="105.27" r="1.96" fill="#ecfbf7"/>
<circle cx="36.94" cy="126.11" r="2.16" fill="#ecfbf7"/>
<circle cx="114.53" cy="108.57" r="1.44" fill="#ecfbf7"/>
<circle cx="144.77" cy="69.03" r="2.93" fill="#ecfbf7"/>
<circle cx="146.97" cy="103.71" r="1.63" fill="#ecfbf7"/>
<circle cx="55.9" cy="39.35" r="2.79" fill="#ecfbf7"/>
<circle cx="174.08" cy="114.14" r="1.45" fill="#ecfbf7"/>
<circle cx="90.83" cy="123.06" r="2.45" fill="#ecfbf7"/>
<circle cx="40.34" cy="23.66" r="1.53" fill="#ecfbf7"/>
<circle cx="174.28" cy="42.61" r="1.44" fill="#ecfbf7"/>
<circle cx="65.74" cy="57.07" r="1.47" fill="#ecfbf7"/>
<circle cx="173.35" cy="24.19" r="2.1" fill="#ecfbf7"/>
<circle cx="72.07" cy="83.65" r="2.09" fill="#ecfbf7"/>
<circle cx="63.17" cy="33.89" r="1.57" fill="#ecfbf7"/>
<circle cx="94.72" cy="55.72" r="1.44" fill="#ecfbf7"/>
<circle cx="98.44" cy="87.73" r="2.25" fill="#ecfbf7"/>
<circle cx="60.69" cy="24.3" r="1.56" fill="#ecfbf7"/>
<circle cx="67.99" cy="111.19" r="1.82" fill="#ecfbf7"/>
<circle cx="52.75" cy="72.5" r="2.26" fill="#ecfbf7"/>
<circle cx="161.22" cy="30.67" r="1.96" fill="#ecfbf7"/>
<circle cx="59.15" cy="71" r="2.97" fill="#ecfbf7"/>
<circle cx="42.39" cy="50.13" r="1.67" fill="#ecfbf7"/>
<circle cx="150.76" cy="76.45" r="1.32" fill="#ecfbf7"/>
<circle cx="112.27" cy="33.33" r="1.98" fill="#ecfbf7"/>
<circle cx="113.98" cy="40.45" r="2.6" fill="#ecfbf7"/>
<circle cx="136.08" cy="63.3" r="1.56" fill="#ecfbf7"/>
<circle cx="156.62" cy="47.55" r="1.57" fill="#ecfbf7"/>
<circle cx="104.67" cy="67.48" r="1.33" fill="#ecfbf7"/>
<circle cx="155.66" cy="53.63" r="1.93" fill="#ecfbf7"/>
<circle cx="31.05" cy="125.38" r="2.7" fill="#ecfbf7"/>
<circle cx="148.53" cy="21.34" r="2.06" fill="#ecfbf7"/>
<circle cx="46" cy="63.03" r="2.08" fill="#ecfbf7"/>
<circle cx="149.84" cy="122.07" r="1.84" fill="#ecfbf7"/>
<circle cx="92.25" cy="126.92" r="1.45" fill="#ecfbf7"/>
<circle cx="70.41" cy="51.9" r="1.97" fill="#ecfbf7"/>
<circle cx="45.76" cy="83.97" r="1.93" fill="#ecfbf7"/>
<circle cx="110.11" cy="72.55" r="2.03" fill="#ecfbf7"/>
<circle cx="92.9" cy="24.88" r="3.36" fill="#ecfbf7"/>
<circle cx="46.77" cy="114.66" r="2.22" fill="#ecfbf7"/>
<circle cx="170" cy="81.49" r="2.62" fill="#ecfbf7"/>
<circle cx="144.09" cy="112.3" r="2.12" fill="#ecfbf7"/>
<circle cx="49.39" cy="81.87" r="1.86" fill="#ecfbf7"/>
<circle cx="40.97" cy="120.14" r="1.83" fill="#ecfbf7"/>
<circle cx="101.36" cy="120.15" r="2.76" fill="#ecfbf7"/>
<circle cx="107.43" cy="128.81" r="3.17" fill="#ecfbf7"/>
<circle cx="104.3" cy="94.06" r="2.02" fill="#ecfbf7"/>
<circle cx="80.76" cy="84.01" r="2.38" fill="#ecfbf7"/>
<circle cx="110.8" cy="81.72" r="1.49" fill="#ecfbf7"/>
<circle cx="144.18" cy="52.05" r="2.16" fill="#ecfbf7"/>
<circle cx="94.35" cy="60.81" r="2.29" fill="#ecfbf7"/>
<circle cx="156.68" cy="31.63" r="1.97" fill="#ecfbf7"/>
<circle cx="73.84" cy="61.28" r="1.8" fill="#ecfbf7"/>
<circle cx="54.11" cy="112.46" r="1.62" fill="#ecfbf7"/>
<circle cx="125.76" cy="30.09" r="1.51" fill="#ecfbf7"/>
<circle cx="37.72" cy="52.55" r="1.41" fill="#ecfbf7"/>
<circle cx="136.27" cy="97.1" r="3.44" fill="#ecfbf7"/>
<circle cx="73.86" cy="88.85" r="1.47" fill="#ecfbf7"/>
<circle cx="79.48" cy="18.11" r="1.6" fill="#ecfbf7"/>
<circle cx="153.99" cy="85.42" r="1.49" fill="#ecfbf7"/>
<circle cx="72.16" cy="116.2" r="2.07" fill="#ecfbf7"/>
<circle cx="126.31" cy="84.45" r="1.33" fill="#ecfbf7"/>
<circle cx="70.68" cy="58.01" r="1.71" fill="#ecfbf7"/>
<circle cx="133.78" cy="126.8" r="1.62" fill="#ecfbf7"/>
<circle cx="150.63" cy="44.57" r="2.34" fill="#ecfbf7"/>
<circle cx="129.48" cy="36.16" r="1.61" fill="#ecfbf7"/>
<circle cx="79.35" cy="39.69" r="1.89" fill="#ecfbf7"/>
<circle cx="55.85" cy="93.33" r="1.43" fill="#ecfbf7"/>
<circle cx="113.66" cy="64.22" r="1.41" fill="#ecfbf7"/>
<circle cx="54.62" cy="116.79" r="1.71" fill="#ecfbf7"/>
<circle cx="42.01" cy="76.92" r="1.77" fill="#ecfbf7"/>
<circle cx="114.8" cy="26.91" r="2.65" fill="#ecfbf7"/>
<circle cx="142.31" cy="33.19" r="1.6" fill="#ecfbf7"/>
<circle cx="159.07" cy="86.95" r="2.46" fill="#ecfbf7"/>
<circle cx="129.7" cy="107.71" r="1.88" fill="#ecfbf7"/>
<circle cx="33.23" cy="38.23" r="2.15" fill="#ecfbf7"/>
<circle cx="76.57" cy="42.01" r="1.53" fill="#ecfbf7"/>
<circle cx="95.76" cy="127.49" r="1.4" fill="#ecfbf7"/>
<circle cx="69.53" cy="106.28" r="2.32" fill="#ecfbf7"/>
<circle cx="87.88" cy="24.71" r="1.46" fill="#ecfbf7"/>
<circle cx="79.51" cy="33.05" r="1.49" fill="#ecfbf7"/>
<circle cx="135.18" cy="79.19" r="2.2" fill="#ecfbf7"/>
<circle cx="78.22" cy="120.26" r="2.96" fill="#ecfbf7"/>
<circle cx="39.8" cy="37.84" r="2.51" fill="#ecfbf7"/>
<circle cx="67.54" cy="96.19" r="1.84" fill="#ecfbf7"/>
<circle cx="155.45" cy="89.94" r="1.58" fill="#ecfbf7"/>
<circle cx="39.7" cy="107.85" r="1.8" fill="#ecfbf7"/>
<circle cx="65.91" cy="69.43" r="2.42" fill="#ecfbf7"/>
<circle cx="164.48" cy="80.62" r="1.37" fill="#ecfbf7"/>
<circle cx="36.26" cy="86.15" r="1.32" fill="#ecfbf7"/>
<circle cx="76.55" cy="28.37" r="2.8" fill="#ecfbf7"/>
<circle cx="29.33" cy="70.81" r="1.75" fill="#ecfbf7"/>
<circle cx="123.21" cy="62.61" r="1.56" fill="#ecfbf7"/>
<circle cx="52.89" cy="93.79" r="1.37" fill="#ecfbf7"/>
<circle cx="91.5" cy="29.64" r="1.4" fill="#ecfbf7"/>
<circle cx="108.24" cy="78.92" r="2.11" fill="#ecfbf7"/>
<circle cx="137.64" cy="60.05" r="1.85" fill="#ecfbf7"/>
<circle cx="108.1" cy="42.78" r="1.62" fill="#ecfbf7"/>
<circle cx="34.38" cy="60.32" r="1.92" fill="#ecfbf7"/>
<circle cx="90.41" cy="105.95" r="1.94" fill="#ecfbf7"/>
<circle cx="103.49" cy="109.54" r="1.95" fill="#ecfbf7"/>
<circle cx="128.28" cy="79.48" r="1.48" fill="#ecfbf7"/>
<circle cx="74.17" cy="46.31" r="2.09" fill="#ecfbf7"/>
<circle cx="95.06" cy="121.77" r="1.77" fill="#ecfbf7"/>
<circle cx="157.51" cy="24.41" r="1.95" fill="#ecfbf7"/>
<circle cx="42.88" cy="28.57" r="1.92" fill="#ecfbf7"/>
<circle cx="60.95" cy="78.57" r="2.82" fill="#ecfbf7"/>
<circle cx="46.01" cy="120.49" r="1.99" fill="#ecfbf7"/>
<circle cx="166.57" cy="76.42" r="2.35" fill="#ecfbf7"/>
<circle cx="41.04" cy="33.51" r="1.37" fill="#ecfbf7"/>
<circle cx="125.81" cy="36.19" r="1.86" fill="#ecfbf7"/>
<circle cx="63.38" cy="114.74" r="1.74" fill="#ecfbf7"/>
<circle cx="159.36" cy="19.68" r="1.63" fill="#ecfbf7"/>
<circle cx="159.35" cy="27.36" r="1.32" fill="#ecfbf7"/>
<circle cx="116.38" cy="127.11" r="2.05" fill="#ecfbf7"/>
<circle cx="171.96" cy="128.7" r="1.34" fill="#ecfbf7"/>
<circle cx="132.78" cy="61.51" r="1.69" fill="#ecfbf7"/>
<circle cx="44.31" cy="108.18" r="1.39" fill="#ecfbf7"/>
<circle cx="125.5" cy="107.59" r="2.13" fill="#ecfbf7"/>
<circle cx="128.74" cy="22.61" r="1.72" fill="#ecfbf7"/>
<circle cx="55.16" cy="48.13" r="2.53" fill="#ecfbf7"/>
<circle cx="173.81" cy="39.03" r="1.97" fill="#ecfbf7"/>
<circle cx="51.93" cy="76.52" r="1.64" fill="#ecfbf7"/>
<circle cx="159.84" cy="91.96" r="1.83" fill="#ecfbf7"/>
<circle cx="161.81" cy="73.29" r="2.64" fill="#ecfbf7"/>
<circle cx="48.21" cy="123.78" r="1.77" fill="#ecfbf7"/>
<circle cx="73.64" cy="122.75" r="1.85" fill="#ecfbf7"/>
<circle cx="137.51" cy="55.93" r="1.86" fill="#ecfbf7"/>
<circle cx="146.85" cy="56.82" r="2.15" fill="#ecfbf7"/>
<circle cx="156.56" cy="77.03" r="1.9" fill="#ecfbf7"/>
<circle cx="126.74" cy="118.07" r="1.95" fill="#ecfbf7"/>
<circle cx="139.23" cy="73.56" r="2.89" fill="#ecfbf7"/>
<circle cx="160.58" cy="100.47" r="1.72" fill="#ecfbf7"/>
<circle cx="123.7" cy="115.53" r="1.81" fill="#ecfbf7"/>
<circle cx="61.02" cy="28.42" r="1.6" fill="#ecfbf7"/>
<circle cx="75.96" cy="18.38" r="1.3" fill="#ecfbf7"/>
<circle cx="48.47" cy="48.53" r="2.32" fill="#ecfbf7"/>
<circle cx="76.83" cy="81.1" r="2.27" fill="#ecfbf7"/>
<circle cx="94.96" cy="93.78" r="1.76" fill="#ecfbf7"/>
<circle cx="67.18" cy="80.19" r="1.69" fill="#ecfbf7"/>
<circle cx="163.69" cy="98.2" r="1.33" fill="#ecfbf7"/>
<circle cx="95.55" cy="31.56" r="2.8" fill="#ecfbf7"/>
<circle cx="153.13" cy="29.26" r="1.37" fill="#ecfbf7"/>
<circle cx="29.02" cy="26.32" r="3.16" fill="#ecfbf7"/>
<circle cx="123.67" cy="119.72" r="1.34" fill="#ecfbf7"/>
<circle cx="79.4" cy="54.01" r="2.15" fill="#ecfbf7"/>
<circle cx="88.32" cy="94.54" r="1.78" fill="#ecfbf7"/>
<circle cx="29.45" cy="39.08" r="1.53" fill="#ecfbf7"/>
<circle cx="44.44" cy="45.56" r="1.41" fill="#ecfbf7"/>
<circle cx="38.02" cy="58.09" r="1.72" fill="#ecfbf7"/>
<circle cx="128.17" cy="19.4" r="1.33" fill="#ecfbf7"/>
<circle cx="160.76" cy="43.81" r="1.89" fill="#ecfbf7"/>
<circle cx="80.46" cy="96.19" r="1.56" fill="#ecfbf7"/>
<circle cx="169.97" cy="103.11" r="2.34" fill="#ecfbf7"/>
<circle cx="38.33" cy="18.53" r="1.48" fill="#ecfbf7"/>
<circle cx="30.85" cy="30.68" r="1.36" fill="#ecfbf7"/>
<circle cx="105.04" cy="53.54" r="2.26" fill="#ecfbf7"/>
<circle cx="98.63" cy="46.7" r="1.42" fill="#ecfbf7"/>
<circle cx="165.42" cy="115.38" r="1.53" fill="#ecfbf7"/>
<circle cx="174.11" cy="34.49" r="1.99" fill="#ecfbf7"/>
<circle cx="29.54" cy="102.74" r="1.99" fill="#ecfbf7"/>
<circle cx="156.3" cy="41.77" r="1.96" fill="#ecfbf7"/>
<circle cx="126.17" cy="41.08" r="2.66" fill="#ecfbf7"/>
<circle cx="81.58" cy="124.41" r="2.19" fill="#ecfbf7"/>
<circle cx="60.3" cy="116.03" r="1.4" fill="#ecfbf7"/>
<circle cx="156.1" cy="58.15" r="2.41" fill="#ecfbf7"/>
<circle cx="58.59" cy="20.6" r="2.49" fill="#ecfbf7"/>
<circle cx="141.07" cy="45.21" r="1.32" fill="#ecfbf7"/>
<circle cx="56.49" cy="24.6" r="1.41" fill="#ecfbf7"/>
<circle cx="156.76" cy="101.64" r="1.64" fill="#ecfbf7"/>
<circle cx="32.95" cy="66.79" r="1.35" fill="#ecfbf7"/>
<circle cx="83.55" cy="47.85" r="2.22" fill="#ecfbf7"/>
<circle cx="174.14" cy="94.37" r="1.42" fill="#ecfbf7"/>
<circle cx="45.49" cy="101.15" r="1.33" fill="#ecfbf7"/>
<circle cx="87.76" cy="36.62" r="2.69" fill="#ecfbf7"/>
<circle cx="69.92" cy="87.87" r="1.73" fill="#ecfbf7"/>
<circle cx="168.65" cy="128.33" r="1.79" fill="#ecfbf7"/>
<circle cx="51.33" cy="34.58" r="1.78" fill="#ecfbf7"/>
<circle cx="34.7" cy="31.59" r="1.85" fill="#ecfbf7"/>
<circle cx="129.4" cy="128.32" r="1.63" fill="#ecfbf7"/>
<circle cx="46.74" cy="94.11" r="1.63" fill="#ecfbf7"/>
<circle cx="41.49" cy="98.6" r="1.33" fill="#ecfbf7"/>
<circle cx="56.99" cy="75.58" r="1.9" fill="#ecfbf7"/>
<circle cx="92.79" cy="64.76" r="1.76" fill="#ecfbf7"/>
<circle cx="69.44" cy="120.35" r="1.34" fill="#ecfbf7"/>
<circle cx="83.26" cy="31.25" r="1.41" fill="#ecfbf7"/>
<circle cx="57.53" cy="112.94" r="1.62" fill="#ecfbf7"/>
<circle cx="89.43" cy="58.32" r="1.47" fill="#ecfbf7"/>
<circle cx="98.67" cy="127.56" r="1.31" fill="#ecfbf7"/>
<circle cx="76.44" cy="111.8" r="1.54" fill="#ecfbf7"/>
<circle cx="165.75" cy="125.9" r="1.45" fill="#ecfbf7"/>
<circle cx="57.95" cy="117.74" r="1.32" fill="#ecfbf7"/>
<circle cx="163.72" cy="118.5" r="1.45" fill="#ecfbf7"/>
<circle cx="96.44" cy="105.25" r="1.52" fill="#ecfbf7"/>
<circle cx="163.05" cy="51.61" r="1.42" fill="#ecfbf7"/>
<circle cx="30.85" cy="59.68" r="1.47" fill="#ecfbf7"/>
<circle cx="63.54" cy="111.19" r="1.61" fill="#ecfbf7"/>
<circle cx="114.67" cy="98.03" r="3.02" fill="#ecfbf7"/>
<circle cx="65.93" cy="108.39" r="1.45" fill="#ecfbf7"/>
<circle cx="155.34" cy="37.48" r="1.6" fill="#ecfbf7"/>
<circle cx="94.75" cy="19.98" r="1.59" fill="#ecfbf7"/>
<circle cx="75.64" cy="85.36" r="1.67" fill="#ecfbf7"/>
<circle cx="118.94" cy="54.83" r="1.35" fill="#ecfbf7"/>
<circle cx="131.95" cy="76.7" r="1.68" fill="#ecfbf7"/>
<circle cx="108.8" cy="121.01" r="1.37" fill="#ecfbf7"/>
<circle cx="61.79" cy="18.11" r="1.36" fill="#ecfbf7"/>
<circle cx="63.74" cy="95.39" r="1.84" fill="#ecfbf7"/>
<circle cx="45.97" cy="104.4" r="1.76" fill="#ecfbf7"/>
<circle cx="156.85" cy="63.42" r="1.71" fill="#ecfbf7"/>
<circle cx="35.92" cy="35.67" r="1.37" fill="#ecfbf7"/>
<circle cx="171.63" cy="92.61" r="1.44" fill="#ecfbf7"/>
<circle cx="73.83" cy="56.07" r="1.8" fill="#ecfbf7"/>
<circle cx="57.27" cy="65.76" r="1.85" fill="#ecfbf7"/>
<circle cx="101.5" cy="91.85" r="1.34" fill="#ecfbf7"/>
<circle cx="120.41" cy="65.2" r="1.92" fill="#ecfbf7"/>
<circle cx="153.19" cy="103.94" r="1.54" fill="#ecfbf7"/>
<circle cx="147.82" cy="51.43" r="1.34" fill="#ecfbf7"/>
<circle cx="117.37" cy="19.75" r="3.08" fill="#ecfbf7"/>
<circle cx="100.46" cy="34.12" r="1.75" fill="#ecfbf7"/>
<circle cx="99.44" cy="115.55" r="1.99" fill="#ecfbf7"/>
<circle cx="41.32" cy="19.88" r="1.59" fill="#ecfbf7"/>
<circle cx="86.29" cy="67.83" r="1.53" fill="#ecfbf7"/>
<circle cx="119.21" cy="117.98" r="1.66" fill="#ecfbf7"/>
<circle cx="52.29" cy="62.68" r="1.76" fill="#ecfbf7"/>
<circle cx="127.2" cy="89.13" r="1.73" fill="#ecfbf7"/>
<circle cx="162.06" cy="111.04" r="1.39" fill="#ecfbf7"/>
<circle cx="33.91" cy="69.73" r="1.53" fill="#ecfbf7"/>
<circle cx="149.78" cy="25" r="1.39" fill="#ecfbf7"/>
<circle cx="163.72" cy="25.94" r="1.65" fill="#ecfbf7"/>
<circle cx="152.33" cy="63.39" r="1.57" fill="#ecfbf7"/>
<circle cx="153.19" cy="40.1" r="1.36" fill="#ecfbf7"/>
<circle cx="91.28" cy="18.32" r="2.05" fill="#ecfbf7"/>
<circle cx="160.23" cy="128.42" r="1.98" fill="#ecfbf7"/>
<circle cx="175.38" cy="61.46" r="2.75" fill="#ecfbf7"/>
<circle cx="64.81" cy="53.6" r="1.33" fill="#ecfbf7"/>
<circle cx="90.12" cy="66.66" r="1.33" fill="#ecfbf7"/>
<circle cx="150.56" cy="92.71" r="1.46" fill="#ecfbf7"/>
<circle cx="106.48" cy="20.2" r="1.95" fill="#ecfbf7"/>
<circle cx="101.18" cy="95.91" r="1.41" fill="#ecfbf7"/>
<circle cx="135.88" cy="86.35" r="1.32" fill="#ecfbf7"/>
<circle cx="114.31" cy="105.17" r="1.76" fill="#ecfbf7"/>
<circle cx="46.69" cy="30.42" r="1.78" fill="#ecfbf7"/>
<circle cx="141.48" cy="37.07" r="1.59" fill="#ecfbf7"/>
<circle cx="145.4" cy="18.58" r="1.91" fill="#ecfbf7"/>
<circle cx="110.93" cy="85.54" r="1.62" fill="#ecfbf7"/>
<circle cx="161.45" cy="78.49" r="1.73" fill="#ecfbf7"/>
<circle cx="129.13" cy="72.37" r="2.43" fill="#ecfbf7"/>
<circle cx="149.6" cy="107.5" r="1.74" fill="#ecfbf7"/>
<circle cx="113.32" cy="45.9" r="1.76" fill="#ecfbf7"/>
<circle cx="62.24" cy="88.37" r="2.12" fill="#ecfbf7"/>
<circle cx="107.6" cy="69.28" r="1.89" fill="#ecfbf7"/>
<circle cx="100.7" cy="125.15" r="1.64" fill="#ecfbf7"/>
<circle cx="96.68" cy="118.11" r="1.58" fill="#ecfbf7"/>
<circle cx="132.83" cy="53.3" r="1.73" fill="#ecfbf7"/>
<circle cx="107.34" cy="83.3" r="1.43" fill="#ecfbf7"/>
<circle cx="72.8" cy="25.38" r="1.49" fill="#ecfbf7"/>
<circle cx="109.33" cy="27.01" r="1.47" fill="#ecfbf7"/>
<circle cx="42.55" cy="105.56" r="1.57" fill="#ecfbf7"/>
<circle cx="140.66" cy="40.07" r="1.31" fill="#ecfbf7"/>
<circle cx="52.77" cy="124.64" r="1.34" fill="#ecfbf7"/>
<circle cx="117.11" cy="46.48" r="1.82" fill="#ecfbf7"/>
<circle cx="147.82" cy="99.74" r="1.32" fill="#ecfbf7"/>
<circle cx="69.26" cy="37.27" r="1.59" fill="#ecfbf7"/>
<circle cx="46.39" cy="80.06" r="1.33" fill="#ecfbf7"/>
<circle cx="102.2" cy="99.09" r="1.73" fill="#ecfbf7"/>
<circle cx="99.36" cy="102.26" r="1.99" fill="#ecfbf7"/>
<circle cx="123.89" cy="18.61" r="2.01" fill="#ecfbf7"/>
<circle cx="112.4" cy="128.74" r="1.6" fill="#ecfbf7"/>
<circle cx="134.03" cy="101.58" r="1.38" fill="#ecfbf7"/>
<circle cx="159.34" cy="60.84" r="1.37" fill="#ecfbf7"/>
<circle cx="78.46" cy="63.73" r="1.48" fill="#ecfbf7"/>
<circle cx="122.44" cy="38.56" r="1.64" fill="#ecfbf7"/>
<circle cx="157.44" cy="118.97" r="1.6" fill="#ecfbf7"/>
<circle cx="122.02" cy="82.85" r="2.65" fill="#ecfbf7"/>
<circle cx="55.66" cy="89.76" r="1.39" fill="#ecfbf7"/>
<circle cx="42.61" cy="94.1" r="1.71" fill="#ecfbf7"/>
<circle cx="96.65" cy="50.13" r="2.34" fill="#ecfbf7"/>
<circle cx="150.54" cy="84.01" r="1.67" fill="#ecfbf7"/>
<circle cx="83.82" cy="95.72" r="1.32" fill="#ecfbf7"/>
<circle cx="160.13" cy="54.87" r="1.81" fill="#ecfbf7"/>
<circle cx="47.81" cy="23.24" r="1.34" fill="#ecfbf7"/>
<circle cx="88.34" cy="70.13" r="1.36" fill="#ecfbf7"/>
<circle cx="49.51" cy="85.64" r="1.71" fill="#ecfbf7"/>
<circle cx="62.88" cy="91.97" r="1.32" fill="#ecfbf7"/>
<circle cx="94.88" cy="40.76" r="1.63" fill="#ecfbf7"/>
<circle cx="163.79" cy="33.6" r="1.57" fill="#ecfbf7"/>
<circle cx="72.34" cy="39.38" r="1.94" fill="#ecfbf7"/>
<circle cx="79.87" cy="43.82" r="1.94" fill="#ecfbf7"/>
<circle cx="171.77" cy="76.43" r="2.44" fill="#ecfbf7"/>
<circle cx="174.64" cy="118.81" r="1.59" fill="#ecfbf7"/>
<circle cx="157" cy="104.8" r="1.32" fill="#ecfbf7"/>
<circle cx="101.19" cy="52.42" r="1.56" fill="#ecfbf7"/>
<circle cx="169.94" cy="66.14" r="1.69" fill="#ecfbf7"/>
<circle cx="43.07" cy="80.64" r="1.85" fill="#ecfbf7"/>
<circle cx="101.72" cy="128.28" r="1.46" fill="#ecfbf7"/>
<circle cx="36.79" cy="44.55" r="1.39" fill="#ecfbf7"/>
<circle cx="44.95" cy="97.05" r="1.5" fill="#ecfbf7"/>
<circle cx="47.36" cy="37.56" r="1.38" fill="#ecfbf7"/>
<circle cx="131.28" cy="95.35" r="1.65" fill="#ecfbf7"/>
<circle cx="150.58" cy="53.67" r="1.59" fill="#ecfbf7"/>
<circle cx="116.26" cy="121.95" r="1.81" fill="#ecfbf7"/>
<circle cx="147.89" cy="60.36" r="1.34" fill="#ecfbf7"/>
<circle cx="126.89" cy="113.81" r="1.61" fill="#ecfbf7"/>
<circle cx="163.11" cy="83.58" r="1.69" fill="#ecfbf7"/>
<circle cx="91.1" cy="40.43" r="1.42" fill="#ecfbf7"/>
<circle cx="132.69" cy="19.59" r="1.67" fill="#ecfbf7"/>
<circle cx="86.91" cy="111.23" r="2.5" fill="#ecfbf7"/>
<circle cx="153.81" cy="82.06" r="1.38" fill="#ecfbf7"/>
<circle cx="106.81" cy="65.21" r="1.47" fill="#ecfbf7"/>
<circle cx="164.7" cy="90.99" r="1.3" fill="#ecfbf7"/>
<circle cx="29.23" cy="81.96" r="2.48" fill="#ecfbf7"/>
<circle cx="170.12" cy="86.26" r="1.45" fill="#ecfbf7"/>
<circle cx="158.15" cy="70.75" r="1.62" fill="#ecfbf7"/>
<circle cx="152.96" cy="123.54" r="1.41" fill="#ecfbf7"/>
<circle cx="44.42" cy="40.2" r="1.39" fill="#ecfbf7"/>
<circle cx="175.35" cy="78.96" r="1.74" fill="#ecfbf7"/>
<circle cx="96.68" cy="64.2" r="1.62" fill="#ecfbf7"/>
<circle cx="28.18" cy="74.71" r="1.35" fill="#ecfbf7"/>
<circle cx="143.35" cy="104.24" r="1.76" fill="#ecfbf7"/>
<circle cx="113.12" cy="88.49" r="1.5" fill="#ecfbf7"/>
<circle cx="138.66" cy="114.48" r="1.69" fill="#ecfbf7"/>
<circle cx="89.71" cy="78.79" r="1.5" fill="#ecfbf7"/>
<circle cx="86.56" cy="18.56" r="1.36" fill="#ecfbf7"/>
<circle cx="84.19" cy="87.83" r="1.92" fill="#ecfbf7"/>
<circle cx="91.33" cy="96.91" r="1.85" fill="#ecfbf7"/>
<circle cx="149.91" cy="97.67" r="1.42" fill="#ecfbf7"/>
<circle cx="73.05" cy="111.94" r="1.66" fill="#ecfbf7"/>
<circle cx="87.73" cy="86.83" r="1.56" fill="#ecfbf7"/>
<circle cx="46.29" cy="89.46" r="1.61" fill="#ecfbf7"/>
<circle cx="134.2" cy="73.83" r="1.76" fill="#ecfbf7"/>
<circle cx="145.56" cy="74.28" r="2.18" fill="#ecfbf7"/>
<circle cx="87.59" cy="97.83" r="1.39" fill="#ecfbf7"/>
<circle cx="48.18" cy="128.57" r="2.5" fill="#ecfbf7"/>
<circle cx="93.44" cy="85.05" r="1.82" fill="#ecfbf7"/>
<circle cx="61.05" cy="56.17" r="2.17" fill="#ecfbf7"/>
<circle cx="110.37" cy="113.78" r="1.41" fill="#ecfbf7"/>
<circle cx="66.55" cy="103.81" r="1.35" fill="#ecfbf7"/>
<circle cx="165.66" cy="66.02" r="1.4" fill="#ecfbf7"/>
<circle cx="36.84" cy="90.06" r="1.51" fill="#ecfbf7"/>
<circle cx="98.42" cy="55.83" r="1.48" fill="#ecfbf7"/>
<circle cx="117.77" cy="82.6" r="1.41" fill="#ecfbf7"/>
<circle cx="153.87" cy="25.56" r="1.67" fill="#ecfbf7"/>
<circle cx="36.19" cy="64.56" r="1.4" fill="#ecfbf7"/>
<circle cx="146.86" cy="83.57" r="1.4" fill="#ecfbf7"/>
<circle cx="67.49" cy="122.59" r="1.39" fill="#ecfbf7"/>
<circle cx="118.59" cy="78.55" r="1.89" fill="#ecfbf7"/>
<circle cx="135.43" cy="83.41" r="1.45" fill="#ecfbf7"/>
<circle cx="31.79" cy="120.62" r="1.73" fill="#ecfbf7"/>
<circle cx="66.61" cy="114.39" r="1.3" fill="#ecfbf7"/>
<circle cx="108.56" cy="55.56" r="1.6" fill="#ecfbf7"/>
<circle cx="46.67" cy="26.65" r="1.78" fill="#ecfbf7"/>
<circle cx="35.69" cy="54.87" r="1.48" fill="#ecfbf7"/>
<circle cx="73.03" cy="103.91" r="1.59" fill="#ecfbf7"/>
<circle cx="136.88" cy="19.2" r="1.9" fill="#ecfbf7"/>
<circle cx="107.59" cy="91.61" r="1.47" fill="#ecfbf7"/>
<circle cx="147.26" cy="42.34" r="1.33" fill="#ecfbf7"/>
<circle cx="125.98" cy="92.79" r="1.46" fill="#ecfbf7"/>
<circle cx="153.96" cy="119.87" r="1.32" fill="#ecfbf7"/>
<circle cx="166.22" cy="100.97" r="1.64" fill="#ecfbf7"/>
<circle cx="61.27" cy="51.71" r="1.56" fill="#ecfbf7"/>
<circle cx="32.98" cy="101.11" r="1.3" fill="#ecfbf7"/>
<circle cx="149.88" cy="126.69" r="1.75" fill="#ecfbf7"/>
<circle cx="143.37" cy="92.23" r="1.59" fill="#ecfbf7"/>
<circle cx="40.34" cy="55.57" r="1.43" fill="#ecfbf7"/>
<circle cx="54.62" cy="108.84" r="1.71" fill="#ecfbf7"/>
<circle cx="160.74" cy="96.4" r="1.76" fill="#ecfbf7"/>
<circle cx="34.57" cy="122.48" r="1.42" fill="#ecfbf7"/>
<circle cx="168.7" cy="57.85" r="1.37" fill="#ecfbf7"/>
<circle cx="71.35" cy="28.4" r="1.66" fill="#ecfbf7"/>
<circle cx="107.19" cy="24.68" r="1.34" fill="#ecfbf7"/>
<circle cx="124.63" cy="124.45" r="1.37" fill="#ecfbf7"/>
<circle cx="68.93" cy="101.85" r="1.47" fill="#ecfbf7"/>
<circle cx="100.59" cy="49.34" r="1.38" fill="#ecfbf7"/>
<circle cx="139.24" cy="126.82" r="1.36" fill="#ecfbf7"/>
<circle cx="121.77" cy="21.85" r="1.59" fill="#ecfbf7"/>
<circle cx="63.53" cy="73.96" r="1.73" fill="#ecfbf7"/>
<circle cx="174.52" cy="82.97" r="1.94" fill="#ecfbf7"/>
<circle cx="59.86" cy="36.82" r="1.69" fill="#ecfbf7"/>
<circle cx="97.94" cy="91.58" r="1.43" fill="#ecfbf7"/>
<circle cx="63.25" cy="22.54" r="1.34" fill="#ecfbf7"/>
<circle cx="68.52" cy="26.81" r="1.38" fill="#ecfbf7"/>
<circle cx="114.45" cy="73" r="1.36" fill="#ecfbf7"/>
<circle cx="98.15" cy="94.93" r="1.43" fill="#ecfbf7"/>
<circle cx="59.07" cy="122.71" r="1.36" fill="#ecfbf7"/>
<circle cx="120.3" cy="59.24" r="1.44" fill="#ecfbf7"/>
<circle cx="82.31" cy="26.73" r="1.65" fill="#ecfbf7"/>
<circle cx="118.78" cy="24.15" r="1.34" fill="#ecfbf7"/>
<circle cx="133.46" cy="123.69" r="1.32" fill="#ecfbf7"/>
<circle cx="148.2" cy="119.1" r="1.35" fill="#ecfbf7"/>
<circle cx="166.88" cy="25.81" r="1.32" fill="#ecfbf7"/>
<circle cx="96.92" cy="124.57" r="1.4" fill="#ecfbf7"/>
<circle cx="67.8" cy="54.21" r="1.32" fill="#ecfbf7"/>
<circle cx="31.43" cy="115.36" r="1.59" fill="#ecfbf7"/>
<circle cx="116.52" cy="51.4" r="1.4" fill="#ecfbf7"/>
<circle cx="123.04" cy="32.25" r="1.43" fill="#ecfbf7"/>
<circle cx="80.6" cy="50.54" r="1.33" fill="#ecfbf7"/>
<circle cx="136.48" cy="52.04" r="1.61" fill="#ecfbf7"/>
<circle cx="162.74" cy="69.08" r="1.35" fill="#ecfbf7"/>
<circle cx="66.8" cy="86.54" r="1.47" fill="#ecfbf7"/>
<circle cx="51.16" cy="59.27" r="1.45" fill="#ecfbf7"/>
<circle cx="139.44" cy="102.69" r="1.82" fill="#ecfbf7"/>
<circle cx="156.34" cy="21.08" r="1.37" fill="#ecfbf7"/>
<circle cx="106.02" cy="61.62" r="1.41" fill="#ecfbf7"/>
<circle cx="82.88" cy="110.33" r="1.43" fill="#ecfbf7"/>
<circle cx="148.06" cy="115.43" r="1.43" fill="#ecfbf7"/>
<circle cx="83.29" cy="58.5" r="1.35" fill="#ecfbf7"/>
<circle cx="31.97" cy="106.8" r="1.3" fill="#ecfbf7"/>
<circle cx="112.26" cy="23.47" r="1.42" fill="#ecfbf7"/>
<circle cx="81.11" cy="73.88" r="1.48" fill="#ecfbf7"/>
<circle cx="153.13" cy="21.93" r="1.51" fill="#ecfbf7"/>
<circle cx="28.57" cy="94.44" r="1.98" fill="#ecfbf7"/>
<circle cx="51.56" cy="121.51" r="1.38" fill="#ecfbf7"/>
<circle cx="136.78" cy="128.54" r="1.44" fill="#ecfbf7"/>
<circle cx="170.34" cy="115.44" r="1.61" fill="#ecfbf7"/>
<circle cx="153.59" cy="34.28" r="1.77" fill="#ecfbf7"/>
<circle cx="28.07" cy="21.68" r="1.38" fill="#ecfbf7"/>
<circle cx="79.92" cy="128.73" r="1.82" fill="#ecfbf7"/>
<circle cx="168.67" cy="52.31" r="1.6" fill="#ecfbf7"/>
<circle cx="136.78" cy="31.82" r="1.68" fill="#ecfbf7"/>
<circle cx="169.42" cy="37.58" r="1.3" fill="#ecfbf7"/>
<circle cx="166.51" cy="84.26" r="1.57" fill="#ecfbf7"/>
<circle cx="40.44" cy="128.66" r="1.33" fill="#ecfbf7"/>
<circle cx="132.91" cy="106.29" r="1.43" fill="#ecfbf7"/>
<circle cx="90.07" cy="128.94" r="1.32" fill="#ecfbf7"/>
<circle cx="106.55" cy="73.47" r="1.45" fill="#ecfbf7"/>
<circle cx="98.51" cy="38.37" r="1.3" fill="#ecfbf7"/>
<circle cx="46.33" cy="18.77" r="1.4" fill="#ecfbf7"/>
<circle cx="51.37" cy="38.17" r="1.32" fill="#ecfbf7"/>
<circle cx="109.12" cy="117.83" r="1.56" fill="#ecfbf7"/>
<circle cx="166.55" cy="106.88" r="1.45" fill="#ecfbf7"/>
<circle cx="92.53" cy="108.81" r="1.42" fill="#ecfbf7"/>
<circle cx="51.15" cy="52.26" r="1.42" fill="#ecfbf7"/>
<circle cx="53.79" cy="87.29" r="1.36" fill="#ecfbf7"/>
<circle cx="86.69" cy="49.93" r="1.35" fill="#ecfbf7"/>
<circle cx="126.04" cy="128.48" r="1.54" fill="#ecfbf7"/>
<circle cx="120.41" cy="115.04" r="1.31" fill="#ecfbf7"/>
<circle cx="54.62" cy="35.14" r="1.35" fill="#ecfbf7"/>
<circle cx="72.37" cy="19.04" r="1.35" fill="#ecfbf7"/>
<circle cx="92.72" cy="68.11" r="1.34" fill="#ecfbf7"/>
<circle cx="48.09" cy="54.69" r="1.67" fill="#ecfbf7"/>
<circle cx="145.68" cy="31.94" r="1.4" fill="#ecfbf7"/>
<circle cx="146.42" cy="93.41" r="1.35" fill="#ecfbf7"/>
<circle cx="134.15" cy="65.81" r="1.31" fill="#ecfbf7"/>
<circle cx="51.69" cy="115.23" r="1.42" fill="#ecfbf7"/>
<circle cx="113.69" cy="93.61" r="1.32" fill="#ecfbf7"/>
<circle cx="130.41" cy="40.25" r="1.46" fill="#ecfbf7"/>
<circle cx="83.06" cy="119.69" r="1.44" fill="#ecfbf7"/>
<circle cx="131.53" cy="32.72" r="1.4" fill="#ecfbf7"/>
<circle cx="28.19" cy="90.6" r="1.68" fill="#ecfbf7"/>
<circle cx="34.06" cy="27.72" r="1.58" fill="#ecfbf7"/>
<circle cx="55.02" cy="69.12" r="1.36" fill="#ecfbf7"/>
<circle cx="173.6" cy="104.68" r="1.42" fill="#ecfbf7"/>
<circle cx="169.6" cy="107.64" r="1.42" fill="#ecfbf7"/>
<circle cx="172.63" cy="72.3" r="1.32" fill="#ecfbf7"/>
<circle cx="105.66" cy="119.43" r="1.32" fill="#ecfbf7"/>
<circle cx="70.78" cy="44" r="1.45" fill="#ecfbf7"/>
<circle cx="115.23" cy="112.2" r="1.42" fill="#ecfbf7"/>
<circle cx="129.64" cy="98.25" r="1.39" fill="#ecfbf7"/>
<circle cx="81.24" cy="62.64" r="1.31" fill="#ecfbf7"/>
<circle cx="105.41" cy="39.5" r="1.4" fill="#ecfbf7"/>
<circle cx="53.85" cy="128.48" r="1.63" fill="#ecfbf7"/>
<circle cx="67.69" cy="83.43" r="1.39" fill="#ecfbf7"/>
<circle cx="98.28" cy="18.01" r="1.47" fill="#ecfbf7"/>
<circle cx="110.31" cy="30.39" r="1.35" fill="#ecfbf7"/>
<circle cx="118.84" cy="28.62" r="1.39" fill="#ecfbf7"/>
<circle cx="64.77" cy="44.39" r="1.41" fill="#ecfbf7"/>
<circle cx="71.71" cy="91.01" r="1.33" fill="#ecfbf7"/>
<circle cx="71.99" cy="35.28" r="1.45" fill="#ecfbf7"/>
<ellipse cx="52.15" cy="60.56" rx="1.14" ry="0.78" fill="#a070b0"/>
<ellipse cx="95.55" cy="21.49" rx="1.14" ry="0.98" fill="#ae84ba"/>
<ellipse cx="83.98" cy="122.54" rx="0.87" ry="0.72" fill="#ae84ba"/>
<ellipse cx="104.53" cy="82.92" rx="0.92" ry="1.04" fill="#bc98c6"/>
<ellipse cx="64.74" cy="122.47" rx="1.08" ry="0.84" fill="#bc98c6"/>
<ellipse cx="80.53" cy="118.24" rx="1.25" ry="0.87" fill="#a070b0"/>
<ellipse cx="99.73" cy="73.36" rx="1.15" ry="0.8" fill="#ae84ba"/>
<ellipse cx="31.52" cy="62.03" rx="1.28" ry="0.75" fill="#a070b0"/>
<ellipse cx="59.11" cy="23.16" rx="0.82" ry="0.74" fill="#ae84ba"/>
<ellipse cx="106.72" cy="94.53" rx="0.76" ry="0.75" fill="#ae84ba"/>
<ellipse cx="101.13" cy="104.66" rx="1.16" ry="0.71" fill="#ae84ba"/>
<ellipse cx="105.3" cy="95.9" rx="0.85" ry="0.7" fill="#a070b0"/>
<ellipse cx="38.84" cy="24.54" rx="1.2" ry="0.94" fill="#bc98c6"/>
<ellipse cx="69.6" cy="28.97" rx="1.24" ry="0.8" fill="#a070b0"/>
<ellipse cx="127" cy="81.79" rx="0.89" ry="0.68" fill="#a070b0"/>
<ellipse cx="126" cy="101.1" rx="0.72" ry="1.06" fill="#ae84ba"/>
<ellipse cx="126.75" cy="111.94" rx="0.75" ry="0.7" fill="#ae84ba"/>
<ellipse cx="97.66" cy="33.87" rx="1.29" ry="0.98" fill="#a070b0"/>
<ellipse cx="77.29" cy="37.73" rx="0.7" ry="1.09" fill="#ae84ba"/>
<ellipse cx="116.85" cy="103.3" rx="1.04" ry="0.97" fill="#ae84ba"/>
<ellipse cx="50.55" cy="87.7" rx="1.34" ry="0.7" fill="#bc98c6"/>
<ellipse cx="140.21" cy="54.97" rx="0.75" ry="0.64" fill="#ae84ba"/>
<ellipse cx="138.6" cy="34.55" rx="0.82" ry="0.68" fill="#ae84ba"/>
<ellipse cx="59.58" cy="120.43" rx="0.96" ry="1.04" fill="#bc98c6"/>
<ellipse cx="43.31" cy="74.52" rx="1.07" ry="0.96" fill="#a070b0"/>
<ellipse cx="86.65" cy="45.18" rx="0.89" ry="1" fill="#a070b0"/>
<ellipse cx="117.53" cy="24.96" rx="0.92" ry="0.94" fill="#a070b0"/>
<ellipse cx="152.26" cy="109.41" rx="1.25" ry="0.61" fill="#bc98c6"/>
<ellipse cx="107.39" cy="113.06" rx="1.17" ry="0.92" fill="#a070b0"/>
<ellipse cx="50.53" cy="83.66" rx="1.32" ry="0.75" fill="#a070b0"/>
<ellipse cx="120.38" cy="89.27" rx="1.29" ry="0.88" fill="#bc98c6"/>
<ellipse cx="144.3" cy="54.91" rx="1.16" ry="1.07" fill="#bc98c6"/>
<ellipse cx="140.75" cy="32.5" rx="1.12" ry="0.95" fill="#ae84ba"/>
<ellipse cx="114.97" cy="65.38" rx="1.01" ry="0.89" fill="#bc98c6"/>
<ellipse cx="131.61" cy="51.4" rx="1.22" ry="0.89" fill="#a070b0"/>
<ellipse cx="172.2" cy="61.06" rx="1.1" ry="0.73" fill="#bc98c6"/>
<ellipse cx="74.76" cy="82.02" rx="0.86" ry="0.86" fill="#bc98c6"/>
<ellipse cx="96.03" cy="42.8" rx="0.88" ry="0.66" fill="#ae84ba"/>
<ellipse cx="142.2" cy="39.97" rx="0.95" ry="1.06" fill="#ae84ba"/>
<ellipse cx="168.19" cy="100.56" rx="1.39" ry="0.91" fill="#ae84ba"/>
<ellipse cx="36.15" cy="68.44" rx="1.28" ry="0.67" fill="#bc98c6"/>
<ellipse cx="72.43" cy="52.66" rx="0.88" ry="0.82" fill="#a070b0"/>
<ellipse cx="152.39" cy="109.1" rx="1.14" ry="1.04" fill="#ae84ba"/>
<ellipse cx="59.54" cy="84.96" rx="1.34" ry="0.92" fill="#a070b0"/>
<ellipse cx="122.52" cy="43.77" rx="0.91" ry="0.95" fill="#ae84ba"/>
<ellipse cx="65.7" cy="43.37" rx="1.36" ry="0.93" fill="#bc98c6"/>
<ellipse cx="37.35" cy="88.17" rx="1.25" ry="1" fill="#ae84ba"/>
<ellipse cx="91.78" cy="79.27" rx="0.79" ry="0.95" fill="#a070b0"/>
<ellipse cx="86.64" cy="24.17" rx="1.26" ry="0.74" fill="#a070b0"/>
<ellipse cx="85.99" cy="85.33" rx="1" ry="1.09" fill="#bc98c6"/>
<ellipse cx="68.01" cy="78.33" rx="1.07" ry="1.02" fill="#ae84ba"/>
<ellipse cx="77.68" cy="56.26" rx="1.24" ry="0.98" fill="#bc98c6"/>
<ellipse cx="124.06" cy="126.21" rx="1.1" ry="0.85" fill="#bc98c6"/>
<ellipse cx="43.54" cy="64.14" rx="0.73" ry="1.08" fill="#a070b0"/>
<ellipse cx="169.23" cy="91.14" rx="1.07" ry="0.86" fill="#ae84ba"/>
<ellipse cx="172.95" cy="93.52" rx="0.71" ry="0.72" fill="#a070b0"/>
<ellipse cx="83.24" cy="82.38" rx="0.98" ry="0.78" fill="#ae84ba"/>
<ellipse cx="33.85" cy="57.37" rx="1.23" ry="0.67" fill="#ae84ba"/>
<ellipse cx="119.37" cy="82.34" rx="0.86" ry="0.71" fill="#bc98c6"/>
<ellipse cx="148.32" cy="70.65" rx="1.18" ry="1.05" fill="#bc98c6"/>
<ellipse cx="76.82" cy="90.74" rx="1.25" ry="1.09" fill="#bc98c6"/>
<ellipse cx="126.6" cy="69.84" rx="1.29" ry="0.93" fill="#bc98c6"/>
<ellipse cx="152.32" cy="46.43" rx="0.73" ry="1.09" fill="#bc98c6"/>
<ellipse cx="71.46" cy="45.13" rx="0.78" ry="0.78" fill="#ae84ba"/>
<ellipse cx="165.98" cy="93.24" rx="1.11" ry="0.7" fill="#ae84ba"/>
<ellipse cx="155.03" cy="63" rx="0.79" ry="0.71" fill="#bc98c6"/>
<ellipse cx="148.64" cy="70.58" rx="1.2" ry="0.7" fill="#ae84ba"/>
<ellipse cx="66.46" cy="119.77" rx="1.05" ry="0.9" fill="#ae84ba"/>
<ellipse cx="84.45" cy="119.93" rx="1.34" ry="0.88" fill="#ae84ba"/>
<ellipse cx="45.59" cy="42.25" rx="0.9" ry="0.98" fill="#a070b0"/>
<ellipse cx="43.71" cy="59.97" rx="1.04" ry="1.04" fill="#ae84ba"/>
<ellipse cx="147.8" cy="94.39" rx="1.22" ry="0.77" fill="#ae84ba"/>
<ellipse cx="69.58" cy="113.72" rx="0.89" ry="0.62" fill="#ae84ba"/>
<ellipse cx="144.58" cy="108.96" rx="1.07" ry="0.71" fill="#ae84ba"/>
<ellipse cx="63.88" cy="32.54" rx="0.87" ry="0.7" fill="#a070b0"/>
<ellipse cx="169.5" cy="26.64" rx="1.25" ry="1.08" fill="#bc98c6"/>
<ellipse cx="85.99" cy="51.01" rx="0.91" ry="0.97" fill="#bc98c6"/>
<ellipse cx="31.91" cy="40.75" rx="1.22" ry="0.97" fill="#ae84ba"/>
<ellipse cx="88.48" cy="71.84" rx="1.34" ry="0.64" fill="#a070b0"/>
<ellipse cx="70.98" cy="54.03" rx="1.19" ry="0.93" fill="#ae84ba"/>
<ellipse cx="139.79" cy="110.74" rx="1.18" ry="0.73" fill="#ae84ba"/>
<ellipse cx="42.19" cy="37.62" rx="0.83" ry="0.92" fill="#a070b0"/>
<ellipse cx="110.09" cy="33.9" rx="0.88" ry="0.72" fill="#ae84ba"/>
<ellipse cx="93.83" cy="69.31" rx="1.04" ry="0.64" fill="#bc98c6"/>
<ellipse cx="67.44" cy="28.36" rx="1.27" ry="1" fill="#bc98c6"/>
</g>
<ellipse cx="35.7" cy="105.09" rx="5.52" ry="2.58" fill="#e2b6cc" opacity="0.25" filter="url(#bl2)"/>
<ellipse cx="143.51" cy="51.74" rx="7.84" ry="3.44" fill="#e2b6cc" opacity="0.25" filter="url(#bl2)"/>
<ellipse cx="75.47" cy="54.19" rx="6.52" ry="3.38" fill="#e2b6cc" opacity="0.25" filter="url(#bl2)"/>
<ellipse cx="153.23" cy="57.62" rx="7.43" ry="2.47" fill="#e2b6cc" opacity="0.25" filter="url(#bl2)"/>
<ellipse cx="62.52" cy="84.59" rx="6.51" ry="4.4" fill="#e2b6cc" opacity="0.25" filter="url(#bl2)"/>
<ellipse cx="72.96" cy="91.9" rx="6.7" ry="5.78" fill="#e2b6cc" opacity="0.25" filter="url(#bl2)"/>
<ellipse cx="42.6" cy="122.4" rx="3.81" ry="4.71" fill="#e2b6cc" opacity="0.25" filter="url(#bl2)"/>
<ellipse cx="149.72" cy="32.98" rx="6.15" ry="3.08" fill="#e2b6cc" opacity="0.25" filter="url(#bl2)"/>
<ellipse cx="115.95" cy="56.55" rx="4.28" ry="6" fill="#e2b6cc" opacity="0.25" filter="url(#bl2)"/>
<ellipse cx="148.33" cy="103.84" rx="3.41" ry="3.1" fill="#e2b6cc" opacity="0.25" filter="url(#bl2)"/>
<ellipse cx="117.43" cy="61.34" rx="6.17" ry="5.66" fill="#e2b6cc" opacity="0.25" filter="url(#bl2)"/>
<ellipse cx="137.76" cy="24.83" rx="3.78" ry="4.26" fill="#e2b6cc" opacity="0.25" filter="url(#bl2)"/>
<ellipse cx="62.2" cy="62.88" rx="6.67" ry="3.15" fill="#e2b6cc" opacity="0.25" filter="url(#bl2)"/>
<ellipse cx="33.79" cy="41.64" rx="6.24" ry="2.4" fill="#e2b6cc" opacity="0.25" filter="url(#bl2)"/>
<ellipse cx="166" cy="34" rx="13" ry="15" fill="#e4dcdc" opacity="0.9" filter="url(#bl3)"/>
</g>
<rect x="30" y="20" width="143.5" height="107" fill="none" stroke="#000" stroke-width="1.5"/>
<clipPath id="hc2"><rect x="178" y="20" width="143.5" height="107"/></clipPath>
<g clip-path="url(#hc2)">
<rect x="178" y="20" width="143.5" height="107" fill="#eed9e4"/>
<g filter="url(#blh)">
<circle cx="277.74" cy="88.48" r="5.33" fill="#dcb0c6"/>
<circle cx="207.86" cy="105.98" r="7.55" fill="#dcb0c6"/>
<circle cx="251.59" cy="74.06" r="9.22" fill="#dcb0c6"/>
<circle cx="176.47" cy="59.19" r="5.94" fill="#dcb0c6"/>
<circle cx="186.22" cy="106.11" r="8.14" fill="#dcb0c6"/>
<circle cx="210.32" cy="22.7" r="5.91" fill="#dcb0c6"/>
<circle cx="284.96" cy="115.13" r="10.04" fill="#dcb0c6"/>
<circle cx="193.08" cy="123.67" r="7.66" fill="#dcb0c6"/>
<circle cx="312.87" cy="68.3" r="4.94" fill="#dcb0c6"/>
<circle cx="226.58" cy="71.8" r="7.96" fill="#dcb0c6"/>
<circle cx="291.09" cy="41.15" r="5.93" fill="#dcb0c6"/>
<circle cx="307.86" cy="101.78" r="9.92" fill="#dcb0c6"/>
<circle cx="261.66" cy="99" r="9.01" fill="#dcb0c6"/>
<circle cx="246.26" cy="109.8" r="4.91" fill="#dcb0c6"/>
<circle cx="312.17" cy="116.52" r="5.65" fill="#dcb0c6"/>
<circle cx="322.74" cy="60.91" r="6.99" fill="#dcb0c6"/>
<circle cx="258.08" cy="87.11" r="3.91" fill="#dcb0c6"/>
<circle cx="201.09" cy="56.65" r="5.48" fill="#dcb0c6"/>
<circle cx="227.13" cy="84.29" r="5.04" fill="#dcb0c6"/>
<circle cx="191.23" cy="25.29" r="6.46" fill="#dcb0c6"/>
<circle cx="290.61" cy="59.61" r="9.25" fill="#dcb0c6"/>
<circle cx="236.03" cy="127.79" r="9.88" fill="#dcb0c6"/>
<circle cx="263.1" cy="116.03" r="8.58" fill="#dcb0c6"/>
<circle cx="231.4" cy="45.44" r="7.62" fill="#dcb0c6"/>
<circle cx="199.94" cy="25.7" r="2.75" fill="#dcb0c6"/>
<circle cx="290.15" cy="71.63" r="3.28" fill="#dcb0c6"/>
<circle cx="183.7" cy="46.64" r="9.04" fill="#dcb0c6"/>
<circle cx="237.88" cy="36.94" r="3.57" fill="#dcb0c6"/>
<circle cx="225.87" cy="117.81" r="4.28" fill="#dcb0c6"/>
<circle cx="317.43" cy="76.34" r="4.81" fill="#dcb0c6"/>
<circle cx="238.85" cy="82.51" r="6.56" fill="#dcb0c6"/>
<circle cx="289.32" cy="19.14" r="6.24" fill="#dcb0c6"/>
<circle cx="316.71" cy="20.61" r="8.64" fill="#dcb0c6"/>
<circle cx="213.94" cy="63.02" r="7.93" fill="#dcb0c6"/>
<circle cx="309.58" cy="32.82" r="6" fill="#dcb0c6"/>
<circle cx="196.77" cy="114.27" r="2.93" fill="#dcb0c6"/>
<circle cx="194.66" cy="77.79" r="8.49" fill="#dcb0c6"/>
<circle cx="248.85" cy="42.38" r="6.59" fill="#dcb0c6"/>
<circle cx="257.13" cy="23.13" r="8.76" fill="#dcb0c6"/>
<circle cx="177.15" cy="69.49" r="4.89" fill="#dcb0c6"/>
<circle cx="213.3" cy="95.34" r="4.9" fill="#dcb0c6"/>
<circle cx="308.86" cy="50.75" r="6.48" fill="#dcb0c6"/>
<circle cx="264.67" cy="74.41" r="4.37" fill="#dcb0c6"/>
<circle cx="318.65" cy="52.43" r="2.93" fill="#dcb0c6"/>
<circle cx="296.17" cy="126.43" r="4.2" fill="#dcb0c6"/>
<circle cx="222.92" cy="128.25" r="3.75" fill="#dcb0c6"/>
<circle cx="178.92" cy="89.56" r="8.32" fill="#dcb0c6"/>
<circle cx="252.32" cy="61.22" r="4.14" fill="#dcb0c6"/>
<circle cx="282.75" cy="68.62" r="3.2" fill="#dcb0c6"/>
<circle cx="248.55" cy="97.61" r="4.67" fill="#dcb0c6"/>
<circle cx="290.98" cy="87.58" r="8.44" fill="#dcb0c6"/>
<circle cx="276.74" cy="45.23" r="8.71" fill="#dcb0c6"/>
<circle cx="318.15" cy="127.8" r="7.62" fill="#dcb0c6"/>
<circle cx="222.11" cy="52.6" r="3.02" fill="#dcb0c6"/>
<circle cx="220.63" cy="122.73" r="2.72" fill="#dcb0c6"/>
<circle cx="244.2" cy="30.01" r="6.3" fill="#dcb0c6"/>
<circle cx="300.69" cy="35.03" r="3.65" fill="#dcb0c6"/>
<circle cx="205.48" cy="84.37" r="4.67" fill="#dcb0c6"/>
<circle cx="203.8" cy="124.65" r="3.6" fill="#dcb0c6"/>
<circle cx="177.12" cy="78.43" r="3.45" fill="#dcb0c6"/>
<circle cx="230.58" cy="32.98" r="5.23" fill="#dcb0c6"/>
<circle cx="297.3" cy="76.77" r="4.59" fill="#dcb0c6"/>
<circle cx="286.17" cy="102.28" r="3.37" fill="#dcb0c6"/>
<circle cx="219.95" cy="87.61" r="3.36" fill="#dcb0c6"/>
<circle cx="236.24" cy="94.69" r="6.39" fill="#dcb0c6"/>
<circle cx="309.16" cy="77.19" r="4.01" fill="#dcb0c6"/>
<circle cx="239.44" cy="59.96" r="6.07" fill="#dcb0c6"/>
<circle cx="215.16" cy="77.7" r="5.39" fill="#dcb0c6"/>
<circle cx="294.41" cy="99.76" r="4.19" fill="#dcb0c6"/>
<circle cx="261.02" cy="128.74" r="4.8" fill="#dcb0c6"/>
<circle cx="301.03" cy="116.86" r="5.63" fill="#dcb0c6"/>
<circle cx="298.6" cy="47.4" r="4.34" fill="#dcb0c6"/>
<circle cx="219.63" cy="42.22" r="5.08" fill="#dcb0c6"/>
<circle cx="229.95" cy="56.45" r="3.98" fill="#dcb0c6"/>
<circle cx="269.77" cy="68.72" r="3.77" fill="#dcb0c6"/>
<circle cx="262.55" cy="82.72" r="2.86" fill="#dcb0c6"/>
<circle cx="279.2" cy="77.8" r="5.67" fill="#dcb0c6"/>
<circle cx="252.76" cy="91.65" r="3.03" fill="#dcb0c6"/>
<circle cx="228.73" cy="105.11" r="6.96" fill="#dcb0c6"/>
<circle cx="249.52" cy="116.95" r="3.45" fill="#dcb0c6"/>
<circle cx="261.5" cy="38.22" r="7.23" fill="#dcb0c6"/>
<circle cx="226.28" cy="91.7" r="2.91" fill="#dcb0c6"/>
<circle cx="218.37" cy="28.04" r="4.05" fill="#dcb0c6"/>
<circle cx="303.62" cy="65.19" r="5.32" fill="#dcb0c6"/>
<circle cx="246.82" cy="54.46" r="3.63" fill="#dcb0c6"/>
<circle cx="224.33" cy="60.16" r="3.25" fill="#dcb0c6"/>
<circle cx="251.79" cy="125.59" r="5.45" fill="#dcb0c6"/>
<circle cx="176.59" cy="28.27" r="5.06" fill="#dcb0c6"/>
<circle cx="320.46" cy="46.54" r="3.73" fill="#dcb0c6"/>
<circle cx="222.11" cy="95.9" r="3.51" fill="#dcb0c6"/>
<circle cx="239.92" cy="115.07" r="3.83" fill="#dcb0c6"/>
<circle cx="221.66" cy="33.71" r="3.02" fill="#dcb0c6"/>
<circle cx="268.92" cy="24.96" r="3.67" fill="#dcb0c6"/>
<circle cx="220" cy="102.77" r="2.59" fill="#dcb0c6"/>
<circle cx="205.82" cy="44.67" r="4.41" fill="#dcb0c6"/>
<circle cx="218.96" cy="110.89" r="4.89" fill="#dcb0c6"/>
<circle cx="212.66" cy="46.53" r="3.18" fill="#dcb0c6"/>
<circle cx="278.13" cy="65.87" r="2.68" fill="#dcb0c6"/>
<circle cx="274.93" cy="128.15" r="5.62" fill="#dcb0c6"/>
<circle cx="302.76" cy="84.71" r="4.19" fill="#dcb0c6"/>
<circle cx="202.49" cy="30.58" r="3.26" fill="#dcb0c6"/>
<circle cx="192.96" cy="60.31" r="3.93" fill="#dcb0c6"/>
<circle cx="272.78" cy="108.58" r="4.14" fill="#dcb0c6"/>
<circle cx="286.97" cy="34.12" r="2.72" fill="#dcb0c6"/>
<circle cx="261.93" cy="47.9" r="2.95" fill="#dcb0c6"/>
<circle cx="262.9" cy="52.97" r="2.71" fill="#dcb0c6"/>
<circle cx="247.64" cy="88.32" r="3.57" fill="#dcb0c6"/>
<circle cx="208.99" cy="120.32" r="3.66" fill="#dcb0c6"/>
<circle cx="261.21" cy="63.22" r="5.47" fill="#dcb0c6"/>
<circle cx="199.13" cy="92.69" r="6.29" fill="#dcb0c6"/>
<circle cx="253.44" cy="110.29" r="2.79" fill="#dcb0c6"/>
<circle cx="217.95" cy="19.99" r="2.68" fill="#dcb0c6"/>
<circle cx="272.9" cy="18.01" r="3.44" fill="#dcb0c6"/>
<circle cx="282.08" cy="26.02" r="4.25" fill="#dcb0c6"/>
<circle cx="267.98" cy="87.56" r="4.56" fill="#dcb0c6"/>
<circle cx="292.12" cy="28.65" r="4.17" fill="#dcb0c6"/>
<circle cx="320.49" cy="32.35" r="4.19" fill="#dcb0c6"/>
<circle cx="186.57" cy="58.49" r="3.22" fill="#dcb0c6"/>
<circle cx="275.15" cy="95.95" r="3.06" fill="#dcb0c6"/>
<circle cx="176.53" cy="128.45" r="4.23" fill="#dcb0c6"/>
<circle cx="177.29" cy="114.36" r="4.52" fill="#dcb0c6"/>
<circle cx="192.2" cy="54" r="2.71" fill="#dcb0c6"/>
<circle cx="238.38" cy="105.81" r="3.21" fill="#dcb0c6"/>
<circle cx="237.17" cy="69.09" r="3.47" fill="#dcb0c6"/>
<circle cx="213.8" cy="51.81" r="2.72" fill="#dcb0c6"/>
<circle cx="318.53" cy="109.27" r="3.62" fill="#dcb0c6"/>
<circle cx="191.33" cy="35.76" r="4.51" fill="#dcb0c6"/>
<circle cx="301.71" cy="20.32" r="6.7" fill="#dcb0c6"/>
<circle cx="281.88" cy="97.66" r="3.44" fill="#dcb0c6"/>
<circle cx="179.76" cy="35.78" r="3" fill="#dcb0c6"/>
<circle cx="199.81" cy="37.72" r="4.69" fill="#dcb0c6"/>
<circle cx="200.88" cy="48.88" r="2.58" fill="#dcb0c6"/>
<circle cx="279.5" cy="33.62" r="3.73" fill="#dcb0c6"/>
<circle cx="256.53" cy="49.92" r="3.3" fill="#dcb0c6"/>
<circle cx="319.24" cy="94.79" r="3.94" fill="#dcb0c6"/>
<circle cx="222.64" cy="18.91" r="2.64" fill="#dcb0c6"/>
<circle cx="183.24" cy="77.95" r="3.19" fill="#dcb0c6"/>
<circle cx="215.18" cy="124" r="3.37" fill="#dcb0c6"/>
<circle cx="271.41" cy="30.79" r="3.18" fill="#dcb0c6"/>
<circle cx="189.6" cy="94.87" r="3.98" fill="#dcb0c6"/>
<circle cx="287.32" cy="127.38" r="2.94" fill="#dcb0c6"/>
<circle cx="273.01" cy="62.34" r="3.88" fill="#dcb0c6"/>
<circle cx="205.49" cy="115.42" r="2.68" fill="#dcb0c6"/>
<circle cx="176.1" cy="99.9" r="2.9" fill="#dcb0c6"/>
<circle cx="202.44" cy="64.13" r="2.62" fill="#dcb0c6"/>
<circle cx="186.15" cy="70.6" r="3.15" fill="#dcb0c6"/>
<circle cx="235.3" cy="20.96" r="3.22" fill="#dcb0c6"/>
<circle cx="320.81" cy="114.75" r="2.82" fill="#dcb0c6"/>
<circle cx="271.41" cy="74.49" r="2.72" fill="#dcb0c6"/>
<circle cx="278.97" cy="19.83" r="3.19" fill="#dcb0c6"/>
<circle cx="310.78" cy="83.43" r="2.93" fill="#dcb0c6"/>
<circle cx="309.64" cy="42.07" r="2.73" fill="#dcb0c6"/>
<circle cx="210.54" cy="34.19" r="6.06" fill="#dcb0c6"/>
<circle cx="278.19" cy="104.87" r="2.75" fill="#dcb0c6"/>
<circle cx="295.65" cy="108.98" r="2.79" fill="#dcb0c6"/>
<circle cx="208.84" cy="72.71" r="3.16" fill="#dcb0c6"/>
<circle cx="226.57" cy="24.79" r="4.38" fill="#dcb0c6"/>
<circle cx="199.26" cy="18.95" r="4.26" fill="#dcb0c6"/>
<circle cx="320.92" cy="101.96" r="3.64" fill="#dcb0c6"/>
<circle cx="183.63" cy="116.69" r="2.74" fill="#dcb0c6"/>
<circle cx="314.84" cy="90.63" r="2.62" fill="#dcb0c6"/>
<circle cx="208.27" cy="52.64" r="3.25" fill="#dcb0c6"/>
<circle cx="271.3" cy="54.79" r="2.79" fill="#dcb0c6"/>
<circle cx="214.06" cy="88.25" r="2.72" fill="#dcb0c6"/>
<circle cx="176.52" cy="19.58" r="4.13" fill="#dcb0c6"/>
<circle cx="197.84" cy="66.11" r="2.89" fill="#dcb0c6"/>
<circle cx="303.88" cy="41.07" r="3.62" fill="#dcb0c6"/>
<circle cx="245.29" cy="19.82" r="4.03" fill="#dcb0c6"/>
<circle cx="310.5" cy="88.9" r="2.56" fill="#dcb0c6"/>
<circle cx="322.66" cy="70.19" r="2.78" fill="#dcb0c6"/>
<circle cx="305.41" cy="123.3" r="2.65" fill="#dcb0c6"/>
<circle cx="278.5" cy="58.49" r="3.33" fill="#dcb0c6"/>
<circle cx="183.06" cy="125.5" r="3.03" fill="#dcb0c6"/>
<circle cx="184.58" cy="31.15" r="2.9" fill="#dcb0c6"/>
<circle cx="321.22" cy="82.38" r="2.81" fill="#dcb0c6"/>
<circle cx="235.27" cy="27.25" r="2.67" fill="#dcb0c6"/>
<circle cx="187.81" cy="64.2" r="3.03" fill="#dcb0c6"/>
<circle cx="314.46" cy="40.71" r="2.78" fill="#dcb0c6"/>
<circle cx="195.01" cy="44.45" r="2.98" fill="#dcb0c6"/>
<circle cx="252.5" cy="53.94" r="2.58" fill="#dcb0c6"/>
<circle cx="182.19" cy="23.25" r="2.95" fill="#dcb0c6"/>
<circle cx="201.66" cy="118.61" r="2.8" fill="#dcb0c6"/>
<circle cx="267.32" cy="125.82" r="2.58" fill="#dcb0c6"/>
<circle cx="316.97" cy="85.83" r="3.14" fill="#dcb0c6"/>
<circle cx="301.82" cy="56.49" r="2.89" fill="#dcb0c6"/>
<circle cx="310.03" cy="60.37" r="3.2" fill="#dcb0c6"/>
<circle cx="303.12" cy="128.33" r="3.37" fill="#dcb0c6"/>
<circle cx="273.93" cy="120.52" r="2.58" fill="#dcb0c6"/>
<circle cx="323.33" cy="41.31" r="2.74" fill="#dcb0c6"/>
<circle cx="323.04" cy="89.64" r="2.96" fill="#dcb0c6"/>
<circle cx="273.26" cy="102.15" r="2.8" fill="#dcb0c6"/>
<circle cx="298.59" cy="29.53" r="2.73" fill="#dcb0c6"/>
<circle cx="228.44" cy="18.4" r="2.78" fill="#dcb0c6"/>
<circle cx="208.83" cy="127.63" r="2.75" fill="#dcb0c6"/>
<circle cx="240.64" cy="48.49" r="2.61" fill="#dcb0c6"/>
<circle cx="275.48" cy="70.37" r="2.66" fill="#dcb0c6"/>
<circle cx="297.56" cy="69.93" r="2.76" fill="#dcb0c6"/>
<circle cx="274.93" cy="26.73" r="2.7" fill="#dcb0c6"/>
<circle cx="196.71" cy="106.64" r="2.87" fill="#dcb0c6"/>
<circle cx="182.5" cy="64.71" r="2.74" fill="#dcb0c6"/>
<circle cx="257.73" cy="56.28" r="2.79" fill="#dcb0c6"/>
<circle cx="214.42" cy="117.86" r="2.81" fill="#dcb0c6"/>
<circle cx="196.22" cy="50.74" r="2.68" fill="#dcb0c6"/>
<circle cx="266.93" cy="57.12" r="2.66" fill="#dcb0c6"/>
<circle cx="233.41" cy="116.09" r="2.62" fill="#dcb0c6"/>
<circle cx="176.04" cy="107.34" r="2.62" fill="#dcb0c6"/>
<circle cx="288" cy="76.87" r="2.88" fill="#dcb0c6"/>
<circle cx="269.11" cy="80.87" r="2.72" fill="#dcb0c6"/>
<circle cx="300.91" cy="91.62" r="2.79" fill="#dcb0c6"/>
<circle cx="205" cy="68.35" r="2.81" fill="#dcb0c6"/>
<circle cx="251.92" cy="34.16" r="2.68" fill="#dcb0c6"/>
<circle cx="191.9" cy="88.09" r="2.67" fill="#dcb0c6"/>
<circle cx="287.08" cy="48.51" r="2.64" fill="#dcb0c6"/>
<circle cx="304.16" cy="72.73" r="2.74" fill="#dcb0c6"/>
<circle cx="198.04" cy="101.17" r="2.76" fill="#dcb0c6"/>
<circle cx="178.94" cy="121" r="2.82" fill="#dcb0c6"/>
<circle cx="242.2" cy="100.93" r="2.74" fill="#dcb0c6"/>
<circle cx="186.46" cy="18.21" r="2.57" fill="#dcb0c6"/>
<circle cx="205.63" cy="77.4" r="2.8" fill="#dcb0c6"/>
<circle cx="231.22" cy="62.7" r="2.76" fill="#dcb0c6"/>
<circle cx="277.74" cy="88.48" r="4.78" fill="#ecfbf7"/>
<circle cx="207.86" cy="105.98" r="7" fill="#ecfbf7"/>
<circle cx="251.59" cy="74.06" r="8.67" fill="#ecfbf7"/>
<circle cx="176.47" cy="59.19" r="5.39" fill="#ecfbf7"/>
<circle cx="186.22" cy="106.11" r="7.59" fill="#ecfbf7"/>
<circle cx="210.32" cy="22.7" r="5.36" fill="#ecfbf7"/>
<circle cx="284.96" cy="115.13" r="9.49" fill="#ecfbf7"/>
<circle cx="193.08" cy="123.67" r="7.11" fill="#ecfbf7"/>
<circle cx="312.87" cy="68.3" r="4.39" fill="#ecfbf7"/>
<circle cx="226.58" cy="71.8" r="7.41" fill="#ecfbf7"/>
<circle cx="291.09" cy="41.15" r="5.38" fill="#ecfbf7"/>
<circle cx="307.86" cy="101.78" r="9.37" fill="#ecfbf7"/>
<circle cx="261.66" cy="99" r="8.46" fill="#ecfbf7"/>
<circle cx="246.26" cy="109.8" r="4.36" fill="#ecfbf7"/>
<circle cx="312.17" cy="116.52" r="5.1" fill="#ecfbf7"/>
<circle cx="322.74" cy="60.91" r="6.44" fill="#ecfbf7"/>
<circle cx="258.08" cy="87.11" r="3.36" fill="#ecfbf7"/>
<circle cx="201.09" cy="56.65" r="4.93" fill="#ecfbf7"/>
<circle cx="227.13" cy="84.29" r="4.49" fill="#ecfbf7"/>
<circle cx="191.23" cy="25.29" r="5.91" fill="#ecfbf7"/>
<circle cx="290.61" cy="59.61" r="8.7" fill="#ecfbf7"/>
<circle cx="236.03" cy="127.79" r="9.33" fill="#ecfbf7"/>
<circle cx="263.1" cy="116.03" r="8.03" fill="#ecfbf7"/>
<circle cx="231.4" cy="45.44" r="7.07" fill="#ecfbf7"/>
<circle cx="199.94" cy="25.7" r="2.2" fill="#ecfbf7"/>
<circle cx="290.15" cy="71.63" r="2.73" fill="#ecfbf7"/>
<circle cx="183.7" cy="46.64" r="8.49" fill="#ecfbf7"/>
<circle cx="237.88" cy="36.94" r="3.02" fill="#ecfbf7"/>
<circle cx="225.87" cy="117.81" r="3.73" fill="#ecfbf7"/>
<circle cx="317.43" cy="76.34" r="4.26" fill="#ecfbf7"/>
<circle cx="238.85" cy="82.51" r="6.01" fill="#ecfbf7"/>
<circle cx="289.32" cy="19.14" r="5.69" fill="#ecfbf7"/>
<circle cx="316.71" cy="20.61" r="8.09" fill="#ecfbf7"/>
<circle cx="213.94" cy="63.02" r="7.38" fill="#ecfbf7"/>
<circle cx="309.58" cy="32.82" r="5.45" fill="#ecfbf7"/>
<circle cx="196.77" cy="114.27" r="2.38" fill="#ecfbf7"/>
<circle cx="194.66" cy="77.79" r="7.94" fill="#ecfbf7"/>
<circle cx="248.85" cy="42.38" r="6.04" fill="#ecfbf7"/>
<circle cx="257.13" cy="23.13" r="8.21" fill="#ecfbf7"/>
<circle cx="177.15" cy="69.49" r="4.34" fill="#ecfbf7"/>
<circle cx="213.3" cy="95.34" r="4.35" fill="#ecfbf7"/>
<circle cx="308.86" cy="50.75" r="5.93" fill="#ecfbf7"/>
<circle cx="264.67" cy="74.41" r="3.82" fill="#ecfbf7"/>
<circle cx="318.65" cy="52.43" r="2.38" fill="#ecfbf7"/>
<circle cx="296.17" cy="126.43" r="3.65" fill="#ecfbf7"/>
<circle cx="222.92" cy="128.25" r="3.2" fill="#ecfbf7"/>
<circle cx="178.92" cy="89.56" r="7.77" fill="#ecfbf7"/>
<circle cx="252.32" cy="61.22" r="3.59" fill="#ecfbf7"/>
<circle cx="282.75" cy="68.62" r="2.65" fill="#ecfbf7"/>
<circle cx="248.55" cy="97.61" r="4.12" fill="#ecfbf7"/>
<circle cx="290.98" cy="87.58" r="7.89" fill="#ecfbf7"/>
<circle cx="276.74" cy="45.23" r="8.16" fill="#ecfbf7"/>
<circle cx="318.15" cy="127.8" r="7.07" fill="#ecfbf7"/>
<circle cx="222.11" cy="52.6" r="2.47" fill="#ecfbf7"/>
<circle cx="220.63" cy="122.73" r="2.17" fill="#ecfbf7"/>
<circle cx="244.2" cy="30.01" r="5.75" fill="#ecfbf7"/>
<circle cx="300.69" cy="35.03" r="3.1" fill="#ecfbf7"/>
<circle cx="205.48" cy="84.37" r="4.12" fill="#ecfbf7"/>
<circle cx="203.8" cy="124.65" r="3.05" fill="#ecfbf7"/>
<circle cx="177.12" cy="78.43" r="2.9" fill="#ecfbf7"/>
<circle cx="230.58" cy="32.98" r="4.68" fill="#ecfbf7"/>
<circle cx="297.3" cy="76.77" r="4.04" fill="#ecfbf7"/>
<circle cx="286.17" cy="102.28" r="2.82" fill="#ecfbf7"/>
<circle cx="219.95" cy="87.61" r="2.81" fill="#ecfbf7"/>
<circle cx="236.24" cy="94.69" r="5.84" fill="#ecfbf7"/>
<circle cx="309.16" cy="77.19" r="3.46" fill="#ecfbf7"/>
<circle cx="239.44" cy="59.96" r="5.52" fill="#ecfbf7"/>
<circle cx="215.16" cy="77.7" r="4.84" fill="#ecfbf7"/>
<circle cx="294.41" cy="99.76" r="3.64" fill="#ecfbf7"/>
<circle cx="261.02" cy="128.74" r="4.25" fill="#ecfbf7"/>
<circle cx="301.03" cy="116.86" r="5.08" fill="#ecfbf7"/>
<circle cx="298.6" cy="47.4" r="3.79" fill="#ecfbf7"/>
<circle cx="219.63" cy="42.22" r="4.53" fill="#ecfbf7"/>
<circle cx="229.95" cy="56.45" r="3.43" fill="#ecfbf7"/>
<circle cx="269.77" cy="68.72" r="3.22" fill="#ecfbf7"/>
<circle cx="262.55" cy="82.72" r="2.31" fill="#ecfbf7"/>
<circle cx="279.2" cy="77.8" r="5.12" fill="#ecfbf7"/>
<circle cx="252.76" cy="91.65" r="2.48" fill="#ecfbf7"/>
<circle cx="228.73" cy="105.11" r="6.41" fill="#ecfbf7"/>
<circle cx="249.52" cy="116.95" r="2.9" fill="#ecfbf7"/>
<circle cx="261.5" cy="38.22" r="6.68" fill="#ecfbf7"/>
<circle cx="226.28" cy="91.7" r="2.36" fill="#ecfbf7"/>
<circle cx="218.37" cy="28.04" r="3.5" fill="#ecfbf7"/>
<circle cx="303.62" cy="65.19" r="4.77" fill="#ecfbf7"/>
<circle cx="246.82" cy="54.46" r="3.08" fill="#ecfbf7"/>
<circle cx="224.33" cy="60.16" r="2.7" fill="#ecfbf7"/>
<circle cx="251.79" cy="125.59" r="4.9" fill="#ecfbf7"/>
<circle cx="176.59" cy="28.27" r="4.51" fill="#ecfbf7"/>
<circle cx="320.46" cy="46.54" r="3.18" fill="#ecfbf7"/>
<circle cx="222.11" cy="95.9" r="2.96" fill="#ecfbf7"/>
<circle cx="239.92" cy="115.07" r="3.28" fill="#ecfbf7"/>
<circle cx="221.66" cy="33.71" r="2.47" fill="#ecfbf7"/>
<circle cx="268.92" cy="24.96" r="3.12" fill="#ecfbf7"/>
<circle cx="220" cy="102.77" r="2.04" fill="#ecfbf7"/>
<circle cx="205.82" cy="44.67" r="3.86" fill="#ecfbf7"/>
<circle cx="218.96" cy="110.89" r="4.34" fill="#ecfbf7"/>
<circle cx="212.66" cy="46.53" r="2.63" fill="#ecfbf7"/>
<circle cx="278.13" cy="65.87" r="2.13" fill="#ecfbf7"/>
<circle cx="274.93" cy="128.15" r="5.07" fill="#ecfbf7"/>
<circle cx="302.76" cy="84.71" r="3.64" fill="#ecfbf7"/>
<circle cx="202.49" cy="30.58" r="2.71" fill="#ecfbf7"/>
<circle cx="192.96" cy="60.31" r="3.38" fill="#ecfbf7"/>
<circle cx="272.78" cy="108.58" r="3.59" fill="#ecfbf7"/>
<circle cx="286.97" cy="34.12" r="2.17" fill="#ecfbf7"/>
<circle cx="261.93" cy="47.9" r="2.4" fill="#ecfbf7"/>
<circle cx="262.9" cy="52.97" r="2.16" fill="#ecfbf7"/>
<circle cx="247.64" cy="88.32" r="3.02" fill="#ecfbf7"/>
<circle cx="208.99" cy="120.32" r="3.11" fill="#ecfbf7"/>
<circle cx="261.21" cy="63.22" r="4.92" fill="#ecfbf7"/>
<circle cx="199.13" cy="92.69" r="5.74" fill="#ecfbf7"/>
<circle cx="253.44" cy="110.29" r="2.24" fill="#ecfbf7"/>
<circle cx="217.95" cy="19.99" r="2.13" fill="#ecfbf7"/>
<circle cx="272.9" cy="18.01" r="2.89" fill="#ecfbf7"/>
<circle cx="282.08" cy="26.02" r="3.7" fill="#ecfbf7"/>
<circle cx="267.98" cy="87.56" r="4.01" fill="#ecfbf7"/>
<circle cx="292.12" cy="28.65" r="3.62" fill="#ecfbf7"/>
<circle cx="320.49" cy="32.35" r="3.64" fill="#ecfbf7"/>
<circle cx="186.57" cy="58.49" r="2.67" fill="#ecfbf7"/>
<circle cx="275.15" cy="95.95" r="2.51" fill="#ecfbf7"/>
<circle cx="176.53" cy="128.45" r="3.68" fill="#ecfbf7"/>
<circle cx="177.29" cy="114.36" r="3.97" fill="#ecfbf7"/>
<circle cx="192.2" cy="54" r="2.16" fill="#ecfbf7"/>
<circle cx="238.38" cy="105.81" r="2.66" fill="#ecfbf7"/>
<circle cx="237.17" cy="69.09" r="2.92" fill="#ecfbf7"/>
<circle cx="213.8" cy="51.81" r="2.17" fill="#ecfbf7"/>
<circle cx="318.53" cy="109.27" r="3.07" fill="#ecfbf7"/>
<circle cx="191.33" cy="35.76" r="3.96" fill="#ecfbf7"/>
<circle cx="301.71" cy="20.32" r="6.15" fill="#ecfbf7"/>
<circle cx="281.88" cy="97.66" r="2.89" fill="#ecfbf7"/>
<circle cx="179.76" cy="35.78" r="2.45" fill="#ecfbf7"/>
<circle cx="199.81" cy="37.72" r="4.14" fill="#ecfbf7"/>
<circle cx="200.88" cy="48.88" r="2.03" fill="#ecfbf7"/>
<circle cx="279.5" cy="33.62" r="3.18" fill="#ecfbf7"/>
<circle cx="256.53" cy="49.92" r="2.75" fill="#ecfbf7"/>
<circle cx="319.24" cy="94.79" r="3.39" fill="#ecfbf7"/>
<circle cx="222.64" cy="18.91" r="2.09" fill="#ecfbf7"/>
<circle cx="183.24" cy="77.95" r="2.64" fill="#ecfbf7"/>
<circle cx="215.18" cy="124" r="2.82" fill="#ecfbf7"/>
<circle cx="271.41" cy="30.79" r="2.63" fill="#ecfbf7"/>
<circle cx="189.6" cy="94.87" r="3.43" fill="#ecfbf7"/>
<circle cx="287.32" cy="127.38" r="2.39" fill="#ecfbf7"/>
<circle cx="273.01" cy="62.34" r="3.33" fill="#ecfbf7"/>
<circle cx="205.49" cy="115.42" r="2.13" fill="#ecfbf7"/>
<circle cx="176.1" cy="99.9" r="2.35" fill="#ecfbf7"/>
<circle cx="202.44" cy="64.13" r="2.07" fill="#ecfbf7"/>
<circle cx="186.15" cy="70.6" r="2.6" fill="#ecfbf7"/>
<circle cx="235.3" cy="20.96" r="2.67" fill="#ecfbf7"/>
<circle cx="320.81" cy="114.75" r="2.27" fill="#ecfbf7"/>
<circle cx="271.41" cy="74.49" r="2.17" fill="#ecfbf7"/>
<circle cx="278.97" cy="19.83" r="2.64" fill="#ecfbf7"/>
<circle cx="310.78" cy="83.43" r="2.38" fill="#ecfbf7"/>
<circle cx="309.64" cy="42.07" r="2.18" fill="#ecfbf7"/>
<circle cx="210.54" cy="34.19" r="5.51" fill="#ecfbf7"/>
<circle cx="278.19" cy="104.87" r="2.2" fill="#ecfbf7"/>
<circle cx="295.65" cy="108.98" r="2.24" fill="#ecfbf7"/>
<circle cx="208.84" cy="72.71" r="2.61" fill="#ecfbf7"/>
<circle cx="226.57" cy="24.79" r="3.83" fill="#ecfbf7"/>
<circle cx="199.26" cy="18.95" r="3.71" fill="#ecfbf7"/>
<circle cx="320.92" cy="101.96" r="3.09" fill="#ecfbf7"/>
<circle cx="183.63" cy="116.69" r="2.19" fill="#ecfbf7"/>
<circle cx="314.84" cy="90.63" r="2.07" fill="#ecfbf7"/>
<circle cx="208.27" cy="52.64" r="2.7" fill="#ecfbf7"/>
<circle cx="271.3" cy="54.79" r="2.24" fill="#ecfbf7"/>
<circle cx="214.06" cy="88.25" r="2.17" fill="#ecfbf7"/>
<circle cx="176.52" cy="19.58" r="3.58" fill="#ecfbf7"/>
<circle cx="197.84" cy="66.11" r="2.34" fill="#ecfbf7"/>
<circle cx="303.88" cy="41.07" r="3.07" fill="#ecfbf7"/>
<circle cx="245.29" cy="19.82" r="3.48" fill="#ecfbf7"/>
<circle cx="310.5" cy="88.9" r="2.01" fill="#ecfbf7"/>
<circle cx="322.66" cy="70.19" r="2.23" fill="#ecfbf7"/>
<circle cx="305.41" cy="123.3" r="2.1" fill="#ecfbf7"/>
<circle cx="278.5" cy="58.49" r="2.78" fill="#ecfbf7"/>
<circle cx="183.06" cy="125.5" r="2.48" fill="#ecfbf7"/>
<circle cx="184.58" cy="31.15" r="2.35" fill="#ecfbf7"/>
<circle cx="321.22" cy="82.38" r="2.26" fill="#ecfbf7"/>
<circle cx="235.27" cy="27.25" r="2.12" fill="#ecfbf7"/>
<circle cx="187.81" cy="64.2" r="2.48" fill="#ecfbf7"/>
<circle cx="314.46" cy="40.71" r="2.23" fill="#ecfbf7"/>
<circle cx="195.01" cy="44.45" r="2.43" fill="#ecfbf7"/>
<circle cx="252.5" cy="53.94" r="2.03" fill="#ecfbf7"/>
<circle cx="182.19" cy="23.25" r="2.4" fill="#ecfbf7"/>
<circle cx="201.66" cy="118.61" r="2.25" fill="#ecfbf7"/>
<circle cx="267.32" cy="125.82" r="2.03" fill="#ecfbf7"/>
<circle cx="316.97" cy="85.83" r="2.59" fill="#ecfbf7"/>
<circle cx="301.82" cy="56.49" r="2.34" fill="#ecfbf7"/>
<circle cx="310.03" cy="60.37" r="2.65" fill="#ecfbf7"/>
<circle cx="303.12" cy="128.33" r="2.82" fill="#ecfbf7"/>
<circle cx="273.93" cy="120.52" r="2.03" fill="#ecfbf7"/>
<circle cx="323.33" cy="41.31" r="2.19" fill="#ecfbf7"/>
<circle cx="323.04" cy="89.64" r="2.41" fill="#ecfbf7"/>
<circle cx="273.26" cy="102.15" r="2.25" fill="#ecfbf7"/>
<circle cx="298.59" cy="29.53" r="2.18" fill="#ecfbf7"/>
<circle cx="228.44" cy="18.4" r="2.23" fill="#ecfbf7"/>
<circle cx="208.83" cy="127.63" r="2.2" fill="#ecfbf7"/>
<circle cx="240.64" cy="48.49" r="2.06" fill="#ecfbf7"/>
<circle cx="275.48" cy="70.37" r="2.11" fill="#ecfbf7"/>
<circle cx="297.56" cy="69.93" r="2.21" fill="#ecfbf7"/>
<circle cx="274.93" cy="26.73" r="2.15" fill="#ecfbf7"/>
<circle cx="196.71" cy="106.64" r="2.32" fill="#ecfbf7"/>
<circle cx="182.5" cy="64.71" r="2.19" fill="#ecfbf7"/>
<circle cx="257.73" cy="56.28" r="2.24" fill="#ecfbf7"/>
<circle cx="214.42" cy="117.86" r="2.26" fill="#ecfbf7"/>
<circle cx="196.22" cy="50.74" r="2.13" fill="#ecfbf7"/>
<circle cx="266.93" cy="57.12" r="2.11" fill="#ecfbf7"/>
<circle cx="233.41" cy="116.09" r="2.07" fill="#ecfbf7"/>
<circle cx="176.04" cy="107.34" r="2.07" fill="#ecfbf7"/>
<circle cx="288" cy="76.87" r="2.33" fill="#ecfbf7"/>
<circle cx="269.11" cy="80.87" r="2.17" fill="#ecfbf7"/>
<circle cx="300.91" cy="91.62" r="2.24" fill="#ecfbf7"/>
<circle cx="205" cy="68.35" r="2.26" fill="#ecfbf7"/>
<circle cx="251.92" cy="34.16" r="2.13" fill="#ecfbf7"/>
<circle cx="191.9" cy="88.09" r="2.12" fill="#ecfbf7"/>
<circle cx="287.08" cy="48.51" r="2.09" fill="#ecfbf7"/>
<circle cx="304.16" cy="72.73" r="2.19" fill="#ecfbf7"/>
<circle cx="198.04" cy="101.17" r="2.21" fill="#ecfbf7"/>
<circle cx="178.94" cy="121" r="2.27" fill="#ecfbf7"/>
<circle cx="242.2" cy="100.93" r="2.19" fill="#ecfbf7"/>
<circle cx="186.46" cy="18.21" r="2.02" fill="#ecfbf7"/>
<circle cx="205.63" cy="77.4" r="2.25" fill="#ecfbf7"/>
<circle cx="231.22" cy="62.7" r="2.21" fill="#ecfbf7"/>
<ellipse cx="270.7" cy="117.97" rx="0.87" ry="0.92" fill="#b070b0"/>
<ellipse cx="191.2" cy="91.62" rx="0.88" ry="0.7" fill="#9c6aa8"/>
<ellipse cx="233.06" cy="85.59" rx="1.15" ry="0.63" fill="#9c6aa8"/>
<ellipse cx="306.11" cy="36.59" rx="0.61" ry="0.55" fill="#b070b0"/>
<ellipse cx="302.26" cy="37.41" rx="1.26" ry="0.74" fill="#b070b0"/>
<ellipse cx="320.3" cy="105.74" rx="0.71" ry="0.63" fill="#9c6aa8"/>
<ellipse cx="310.17" cy="123.15" rx="1.03" ry="0.62" fill="#9c6aa8"/>
<ellipse cx="316.22" cy="37.94" rx="1.02" ry="0.79" fill="#9c6aa8"/>
<ellipse cx="267.14" cy="63.3" rx="0.68" ry="1.09" fill="#8a5a9a"/>
<ellipse cx="307.45" cy="71.35" rx="1.38" ry="1.05" fill="#8a5a9a"/>
<ellipse cx="247.06" cy="91.13" rx="1.32" ry="0.65" fill="#8a5a9a"/>
<ellipse cx="316.7" cy="70.82" rx="0.72" ry="1.03" fill="#b070b0"/>
<ellipse cx="292.09" cy="79.3" rx="0.68" ry="0.68" fill="#b070b0"/>
<ellipse cx="222.61" cy="104.71" rx="1.29" ry="0.96" fill="#9c6aa8"/>
<ellipse cx="316.86" cy="83.41" rx="0.88" ry="0.68" fill="#8a5a9a"/>
<ellipse cx="247.52" cy="120.94" rx="1.31" ry="0.89" fill="#8a5a9a"/>
<ellipse cx="302.11" cy="89.26" rx="0.66" ry="0.92" fill="#9c6aa8"/>
<ellipse cx="295.64" cy="112.93" rx="0.73" ry="1" fill="#9c6aa8"/>
<ellipse cx="249.24" cy="106.38" rx="0.91" ry="1.02" fill="#b070b0"/>
<ellipse cx="307.79" cy="69.1" rx="0.89" ry="0.78" fill="#b070b0"/>
<ellipse cx="185.77" cy="121.4" rx="1.29" ry="0.98" fill="#b070b0"/>
<ellipse cx="216.93" cy="85.63" rx="0.87" ry="0.74" fill="#8a5a9a"/>
<ellipse cx="183.41" cy="57.99" rx="0.91" ry="0.7" fill="#9c6aa8"/>
<ellipse cx="299.95" cy="40.08" rx="1.03" ry="1.07" fill="#8a5a9a"/>
<ellipse cx="209.89" cy="57.23" rx="1.07" ry="0.99" fill="#b070b0"/>
<ellipse cx="282.58" cy="30.14" rx="0.82" ry="1.1" fill="#b070b0"/>
<ellipse cx="296.97" cy="66.28" rx="0.68" ry="0.52" fill="#8a5a9a"/>
<ellipse cx="285.69" cy="43.22" rx="0.85" ry="0.69" fill="#9c6aa8"/>
<ellipse cx="312.08" cy="56.84" rx="0.98" ry="0.52" fill="#b070b0"/>
<ellipse cx="179.21" cy="33.18" rx="0.67" ry="0.95" fill="#8a5a9a"/>
<ellipse cx="199.9" cy="87.08" rx="1.12" ry="0.51" fill="#8a5a9a"/>
<ellipse cx="270.43" cy="57.55" rx="0.73" ry="0.86" fill="#8a5a9a"/>
<ellipse cx="304.41" cy="125.06" rx="1.21" ry="1.09" fill="#8a5a9a"/>
<ellipse cx="250.8" cy="84.09" rx="0.86" ry="1.09" fill="#8a5a9a"/>
<ellipse cx="230.06" cy="120.69" rx="0.63" ry="0.97" fill="#8a5a9a"/>
<ellipse cx="221.51" cy="124.87" rx="1.21" ry="0.55" fill="#8a5a9a"/>
<ellipse cx="233.82" cy="64.36" rx="0.85" ry="0.7" fill="#9c6aa8"/>
<ellipse cx="259.31" cy="50.02" rx="1.08" ry="0.83" fill="#8a5a9a"/>
<ellipse cx="213.11" cy="101.55" rx="1.02" ry="0.85" fill="#9c6aa8"/>
<ellipse cx="202.82" cy="79.51" rx="1.38" ry="0.73" fill="#b070b0"/>
<ellipse cx="258.71" cy="123.47" rx="0.92" ry="0.54" fill="#9c6aa8"/>
<ellipse cx="298.89" cy="121.16" rx="1.01" ry="0.65" fill="#8a5a9a"/>
<ellipse cx="186.45" cy="67.6" rx="0.66" ry="0.58" fill="#9c6aa8"/>
<ellipse cx="290.19" cy="107.64" rx="0.84" ry="0.71" fill="#b070b0"/>
<ellipse cx="244.04" cy="84.17" rx="0.66" ry="0.74" fill="#9c6aa8"/>
<ellipse cx="227.87" cy="113.02" rx="0.9" ry="1.06" fill="#9c6aa8"/>
<ellipse cx="240.72" cy="54.81" rx="0.67" ry="0.7" fill="#8a5a9a"/>
<ellipse cx="297.64" cy="51.29" rx="0.78" ry="0.64" fill="#8a5a9a"/>
<ellipse cx="198.49" cy="63.27" rx="0.9" ry="1" fill="#8a5a9a"/>
<ellipse cx="221.85" cy="56.08" rx="1.07" ry="0.97" fill="#b070b0"/>
<ellipse cx="314.11" cy="94.72" rx="1.15" ry="0.73" fill="#b070b0"/>
<ellipse cx="231.62" cy="86.57" rx="0.87" ry="0.54" fill="#9c6aa8"/>
<ellipse cx="247.05" cy="103.54" rx="1.3" ry="1.03" fill="#b070b0"/>
<ellipse cx="272.33" cy="105.01" rx="0.78" ry="0.79" fill="#b070b0"/>
<ellipse cx="313.23" cy="74.95" rx="0.7" ry="0.8" fill="#9c6aa8"/>
</g>
</g>
<rect x="178" y="20" width="143.5" height="107" fill="none" stroke="#000" stroke-width="1.5"/>
<line x1="293" y1="120.2" x2="316" y2="120.2" stroke="#000" stroke-width="2"/>
<clipPath id="hc3"><rect x="30" y="131.3" width="143.5" height="105.7"/></clipPath>
<g clip-path="url(#hc3)">
<rect x="30" y="131.3" width="143.5" height="105.7" fill="#ddc2d1"/>
<g filter="url(#blh2)">
<circle cx="137.41" cy="216.53" r="5.51" fill="#d0aabf"/>
<circle cx="137.14" cy="230.48" r="6.95" fill="#d0aabf"/>
<circle cx="96.68" cy="232.79" r="2.35" fill="#d0aabf"/>
<circle cx="160.88" cy="141.72" r="5.63" fill="#d0aabf"/>
<circle cx="64.37" cy="188.95" r="4.78" fill="#d0aabf"/>
<circle cx="29.93" cy="153.08" r="5.28" fill="#d0aabf"/>
<circle cx="163.16" cy="213.3" r="3.83" fill="#d0aabf"/>
<circle cx="145.58" cy="144.52" r="3.17" fill="#d0aabf"/>
<circle cx="46.69" cy="129.49" r="5.49" fill="#d0aabf"/>
<circle cx="58.89" cy="152.94" r="6.64" fill="#d0aabf"/>
<circle cx="156.68" cy="161.04" r="7.12" fill="#d0aabf"/>
<circle cx="107.54" cy="203.66" r="7.03" fill="#d0aabf"/>
<circle cx="166.79" cy="205.06" r="3.42" fill="#d0aabf"/>
<circle cx="52.48" cy="145.28" r="3.9" fill="#d0aabf"/>
<circle cx="72.45" cy="195.46" r="2.6" fill="#d0aabf"/>
<circle cx="128" cy="166.37" r="2.14" fill="#d0aabf"/>
<circle cx="148.73" cy="182.04" r="3.98" fill="#d0aabf"/>
<circle cx="98.98" cy="206.6" r="2.57" fill="#d0aabf"/>
<circle cx="171.83" cy="131.81" r="2.55" fill="#d0aabf"/>
<circle cx="152.62" cy="131.28" r="6.09" fill="#d0aabf"/>
<circle cx="82.01" cy="192.76" r="6.26" fill="#d0aabf"/>
<circle cx="56.99" cy="212.2" r="7.01" fill="#d0aabf"/>
<circle cx="166.95" cy="167.08" r="5.34" fill="#d0aabf"/>
<circle cx="105.39" cy="214.38" r="4.21" fill="#d0aabf"/>
<circle cx="33.4" cy="233.05" r="6.59" fill="#d0aabf"/>
<circle cx="78.14" cy="230.68" r="6.84" fill="#d0aabf"/>
<circle cx="74.09" cy="164.05" r="5.15" fill="#d0aabf"/>
<circle cx="39.53" cy="145.63" r="3.27" fill="#d0aabf"/>
<circle cx="175.02" cy="147.02" r="5.82" fill="#d0aabf"/>
<circle cx="173.54" cy="187.83" r="2.49" fill="#d0aabf"/>
<circle cx="95.21" cy="175.57" r="6.44" fill="#d0aabf"/>
<circle cx="163.12" cy="132.89" r="2.54" fill="#d0aabf"/>
<circle cx="151.67" cy="143.62" r="3.53" fill="#d0aabf"/>
<circle cx="168.1" cy="198.45" r="3.86" fill="#d0aabf"/>
<circle cx="43.73" cy="176.97" r="6.27" fill="#d0aabf"/>
<circle cx="175.4" cy="222.79" r="4.7" fill="#d0aabf"/>
<circle cx="98.66" cy="161.23" r="6" fill="#d0aabf"/>
<circle cx="49.61" cy="170.66" r="2.91" fill="#d0aabf"/>
<circle cx="77.93" cy="139.08" r="4.93" fill="#d0aabf"/>
<circle cx="143.35" cy="224.45" r="2.26" fill="#d0aabf"/>
<circle cx="125.94" cy="212.63" r="5.84" fill="#d0aabf"/>
<circle cx="131.91" cy="160.11" r="4.26" fill="#d0aabf"/>
<circle cx="141.54" cy="205.09" r="4.86" fill="#d0aabf"/>
<circle cx="29.71" cy="189.3" r="5.31" fill="#d0aabf"/>
<circle cx="127.07" cy="180.08" r="3.67" fill="#d0aabf"/>
<circle cx="79.63" cy="221.76" r="2.75" fill="#d0aabf"/>
<circle cx="129.53" cy="236.38" r="3.23" fill="#d0aabf"/>
<circle cx="104.43" cy="187.37" r="7.01" fill="#d0aabf"/>
<circle cx="151.4" cy="232.13" r="3.21" fill="#d0aabf"/>
<circle cx="123.89" cy="153.33" r="4.64" fill="#d0aabf"/>
<circle cx="121.05" cy="133.89" r="5.8" fill="#d0aabf"/>
<circle cx="61.37" cy="135.24" r="4.79" fill="#d0aabf"/>
<circle cx="74.81" cy="149.22" r="3.02" fill="#d0aabf"/>
<circle cx="33.26" cy="180.35" r="3.36" fill="#d0aabf"/>
<circle cx="118.24" cy="194.04" r="4.34" fill="#d0aabf"/>
<circle cx="69.08" cy="174.28" r="4.47" fill="#d0aabf"/>
<circle cx="150.63" cy="170.31" r="2.91" fill="#d0aabf"/>
<circle cx="148.73" cy="175.28" r="2.95" fill="#d0aabf"/>
<circle cx="122.74" cy="169.83" r="4.7" fill="#d0aabf"/>
<circle cx="120.84" cy="227.07" r="3.06" fill="#d0aabf"/>
<circle cx="91.67" cy="154.13" r="4.32" fill="#d0aabf"/>
<circle cx="162.78" cy="194.66" r="3.22" fill="#d0aabf"/>
<circle cx="172.69" cy="183.74" r="2.23" fill="#d0aabf"/>
<circle cx="70.24" cy="181.62" r="3.51" fill="#d0aabf"/>
<circle cx="119.7" cy="177.95" r="2.95" fill="#d0aabf"/>
<circle cx="106.55" cy="159.33" r="2.23" fill="#d0aabf"/>
<circle cx="143.33" cy="156.25" r="6.92" fill="#d0aabf"/>
<circle cx="50.83" cy="237.77" r="3.76" fill="#d0aabf"/>
<circle cx="117.07" cy="210.86" r="3.76" fill="#d0aabf"/>
<circle cx="108.47" cy="130.9" r="6.71" fill="#d0aabf"/>
<circle cx="91.09" cy="192.45" r="3.37" fill="#d0aabf"/>
<circle cx="84.86" cy="172.29" r="4.97" fill="#d0aabf"/>
<circle cx="56.98" cy="161.82" r="3" fill="#d0aabf"/>
<circle cx="37.74" cy="221.04" r="6.45" fill="#d0aabf"/>
<circle cx="50.65" cy="193.57" r="4.09" fill="#d0aabf"/>
<circle cx="38.09" cy="154.53" r="3.56" fill="#d0aabf"/>
<circle cx="131.43" cy="134.66" r="5.16" fill="#d0aabf"/>
<circle cx="60.34" cy="200.14" r="6.07" fill="#d0aabf"/>
<circle cx="133.09" cy="144.07" r="4.94" fill="#d0aabf"/>
<circle cx="89.06" cy="146.98" r="3.84" fill="#d0aabf"/>
<circle cx="34.43" cy="141.17" r="4.06" fill="#d0aabf"/>
<circle cx="38.62" cy="135.61" r="3.45" fill="#d0aabf"/>
<circle cx="36.22" cy="205.79" r="4.31" fill="#d0aabf"/>
<circle cx="121.12" cy="184.79" r="3.12" fill="#d0aabf"/>
<circle cx="104.26" cy="143.98" r="6.1" fill="#d0aabf"/>
<circle cx="82.75" cy="210.12" r="3.59" fill="#d0aabf"/>
<circle cx="133.21" cy="201.16" r="3.28" fill="#d0aabf"/>
<circle cx="126.52" cy="139.3" r="2.15" fill="#d0aabf"/>
<circle cx="115.61" cy="155.47" r="2.97" fill="#d0aabf"/>
<circle cx="60.91" cy="142.03" r="2.57" fill="#d0aabf"/>
<circle cx="153.61" cy="186.07" r="2.89" fill="#d0aabf"/>
<circle cx="140.15" cy="129.35" r="4.84" fill="#d0aabf"/>
<circle cx="96.67" cy="140.24" r="2.91" fill="#d0aabf"/>
<circle cx="68.92" cy="147.02" r="3.69" fill="#d0aabf"/>
<circle cx="62.69" cy="182.18" r="2.75" fill="#d0aabf"/>
<circle cx="70.94" cy="203.29" r="5.54" fill="#d0aabf"/>
<circle cx="91.52" cy="236.3" r="4.44" fill="#d0aabf"/>
<circle cx="104.54" cy="167.7" r="3.3" fill="#d0aabf"/>
<circle cx="35.44" cy="172.89" r="3.52" fill="#d0aabf"/>
<circle cx="54.46" cy="185.1" r="5.75" fill="#d0aabf"/>
<circle cx="43.93" cy="188.75" r="4" fill="#d0aabf"/>
<circle cx="116.25" cy="223.29" r="3.44" fill="#d0aabf"/>
<circle cx="112.28" cy="170.62" r="4.86" fill="#d0aabf"/>
<circle cx="94.23" cy="219.96" r="3.97" fill="#d0aabf"/>
<circle cx="45.06" cy="163.5" r="3.53" fill="#d0aabf"/>
<circle cx="47.15" cy="138.29" r="3.88" fill="#d0aabf"/>
<circle cx="74.3" cy="211.83" r="4.19" fill="#d0aabf"/>
<circle cx="160.17" cy="201.05" r="4.23" fill="#d0aabf"/>
<circle cx="112.77" cy="177.81" r="2.89" fill="#d0aabf"/>
<circle cx="124.68" cy="234.04" r="2.71" fill="#d0aabf"/>
<circle cx="84.4" cy="143.59" r="2.47" fill="#d0aabf"/>
<circle cx="70.11" cy="136.27" r="3.93" fill="#d0aabf"/>
<circle cx="166.1" cy="187.73" r="5.02" fill="#d0aabf"/>
<circle cx="115.91" cy="140.66" r="3.25" fill="#d0aabf"/>
<circle cx="89.87" cy="135.04" r="6.21" fill="#d0aabf"/>
<circle cx="158.06" cy="172.38" r="4.84" fill="#d0aabf"/>
<circle cx="79.89" cy="156.53" r="3.62" fill="#d0aabf"/>
<circle cx="151.93" cy="222.53" r="6.96" fill="#d0aabf"/>
<circle cx="100.29" cy="133.44" r="2.41" fill="#d0aabf"/>
<circle cx="42.56" cy="208.03" r="2.96" fill="#d0aabf"/>
<circle cx="128.73" cy="223.98" r="4.06" fill="#d0aabf"/>
<circle cx="146.05" cy="170.59" r="2.22" fill="#d0aabf"/>
<circle cx="85.39" cy="164.1" r="3.31" fill="#d0aabf"/>
<circle cx="131.74" cy="173.08" r="4.81" fill="#d0aabf"/>
<circle cx="126.85" cy="188.18" r="4.08" fill="#d0aabf"/>
<circle cx="40.87" cy="168.34" r="2.68" fill="#d0aabf"/>
<circle cx="38.62" cy="211.95" r="2.84" fill="#d0aabf"/>
<circle cx="169.14" cy="227.72" r="3.81" fill="#d0aabf"/>
<circle cx="151.64" cy="210.33" r="5.8" fill="#d0aabf"/>
<circle cx="63.27" cy="236.22" r="6.75" fill="#d0aabf"/>
<circle cx="37.25" cy="191.38" r="3.06" fill="#d0aabf"/>
<circle cx="90.75" cy="187.31" r="2.33" fill="#d0aabf"/>
<circle cx="123.34" cy="205.02" r="2.76" fill="#d0aabf"/>
<circle cx="42.87" cy="150.53" r="3.2" fill="#d0aabf"/>
<circle cx="43.47" cy="212.46" r="2.11" fill="#d0aabf"/>
<circle cx="164.3" cy="234.27" r="4.89" fill="#d0aabf"/>
<circle cx="170.35" cy="140.63" r="2.64" fill="#d0aabf"/>
<circle cx="95.65" cy="203.95" r="2.24" fill="#d0aabf"/>
<circle cx="83.23" cy="204.3" r="2.8" fill="#d0aabf"/>
<circle cx="144.38" cy="192.45" r="5.85" fill="#d0aabf"/>
<circle cx="28.76" cy="213.32" r="5.94" fill="#d0aabf"/>
<circle cx="123.16" cy="199.05" r="3.23" fill="#d0aabf"/>
<circle cx="83.83" cy="238.9" r="3.7" fill="#d0aabf"/>
<circle cx="59.96" cy="175.53" r="4.99" fill="#d0aabf"/>
<circle cx="158.59" cy="150.86" r="3.78" fill="#d0aabf"/>
<circle cx="48.11" cy="155.25" r="4.4" fill="#d0aabf"/>
<circle cx="104.45" cy="236.25" r="3.13" fill="#d0aabf"/>
<circle cx="113.8" cy="235.25" r="4.82" fill="#d0aabf"/>
<circle cx="111.88" cy="158.16" r="2.18" fill="#d0aabf"/>
<circle cx="144.95" cy="135.45" r="3.18" fill="#d0aabf"/>
<circle cx="31.16" cy="161.96" r="4.17" fill="#d0aabf"/>
<circle cx="52.58" cy="231.53" r="3.27" fill="#d0aabf"/>
<circle cx="94.19" cy="210.06" r="2.68" fill="#d0aabf"/>
<circle cx="109.38" cy="220.31" r="3.48" fill="#d0aabf"/>
<circle cx="79.77" cy="183.52" r="3.05" fill="#d0aabf"/>
<circle cx="170.71" cy="158.18" r="3.08" fill="#d0aabf"/>
<circle cx="150.3" cy="197.94" r="2.78" fill="#d0aabf"/>
<circle cx="137.11" cy="190.87" r="2.14" fill="#d0aabf"/>
<circle cx="38.23" cy="199.85" r="2.51" fill="#d0aabf"/>
<circle cx="72.05" cy="129.46" r="3.7" fill="#d0aabf"/>
<circle cx="104.07" cy="228.25" r="5.44" fill="#d0aabf"/>
<circle cx="167.65" cy="151.82" r="3.52" fill="#d0aabf"/>
<circle cx="66.23" cy="168.53" r="2.51" fill="#d0aabf"/>
<circle cx="152.54" cy="193.2" r="2.89" fill="#d0aabf"/>
<circle cx="37.25" cy="162.37" r="2.49" fill="#d0aabf"/>
<circle cx="108.05" cy="177.29" r="2.41" fill="#d0aabf"/>
<circle cx="76.04" cy="218.25" r="2.82" fill="#d0aabf"/>
<circle cx="112.66" cy="184.17" r="2.37" fill="#d0aabf"/>
<circle cx="43.14" cy="238.73" r="4.54" fill="#d0aabf"/>
<circle cx="52.74" cy="139.14" r="2.33" fill="#d0aabf"/>
<circle cx="29.49" cy="201.33" r="3.8" fill="#d0aabf"/>
<circle cx="137.65" cy="184.57" r="4.74" fill="#d0aabf"/>
<circle cx="158.47" cy="237.85" r="2.29" fill="#d0aabf"/>
<circle cx="28.49" cy="176.33" r="3.43" fill="#d0aabf"/>
<circle cx="61.87" cy="161.62" r="2.44" fill="#d0aabf"/>
<circle cx="126.11" cy="194.51" r="2.74" fill="#d0aabf"/>
<circle cx="66.99" cy="219.47" r="3.86" fill="#d0aabf"/>
<circle cx="115.09" cy="148.54" r="4.54" fill="#d0aabf"/>
<circle cx="51.85" cy="165.74" r="3.04" fill="#d0aabf"/>
<circle cx="44.42" cy="226.41" r="2.66" fill="#d0aabf"/>
<circle cx="85.55" cy="223.3" r="3.92" fill="#d0aabf"/>
<circle cx="47.2" cy="211.3" r="2.34" fill="#d0aabf"/>
<circle cx="173.18" cy="163.5" r="2.39" fill="#d0aabf"/>
<circle cx="72.95" cy="222.5" r="2.21" fill="#d0aabf"/>
<circle cx="135.6" cy="209.54" r="2.26" fill="#d0aabf"/>
<circle cx="99.83" cy="221.11" r="2.29" fill="#d0aabf"/>
<circle cx="115.38" cy="164.65" r="2.41" fill="#d0aabf"/>
<circle cx="117.3" cy="201.2" r="3.42" fill="#d0aabf"/>
<circle cx="123.09" cy="143.98" r="4.2" fill="#d0aabf"/>
<circle cx="69.46" cy="227.48" r="2.96" fill="#d0aabf"/>
<circle cx="50.04" cy="202.48" r="4.86" fill="#d0aabf"/>
<circle cx="132.4" cy="207.12" r="2.3" fill="#d0aabf"/>
<circle cx="111.83" cy="227.64" r="2.9" fill="#d0aabf"/>
<circle cx="28.02" cy="142.41" r="3.02" fill="#d0aabf"/>
<circle cx="109.76" cy="162.72" r="2.98" fill="#d0aabf"/>
<circle cx="175.06" cy="197.45" r="3.61" fill="#d0aabf"/>
<circle cx="127.31" cy="203.04" r="2.23" fill="#d0aabf"/>
<circle cx="37.39" cy="186.54" r="2.33" fill="#d0aabf"/>
<circle cx="93.71" cy="227.55" r="3.3" fill="#d0aabf"/>
<circle cx="158.41" cy="231.18" r="2.31" fill="#d0aabf"/>
<circle cx="80.91" cy="161.98" r="2.19" fill="#d0aabf"/>
<circle cx="131.39" cy="153.35" r="3.07" fill="#d0aabf"/>
<circle cx="153.82" cy="237.56" r="2.92" fill="#d0aabf"/>
<circle cx="44.92" cy="143.65" r="2.48" fill="#d0aabf"/>
<circle cx="72.57" cy="154.58" r="3.34" fill="#d0aabf"/>
<circle cx="122.68" cy="237.96" r="2.25" fill="#d0aabf"/>
<circle cx="139.33" cy="167.21" r="4.92" fill="#d0aabf"/>
<circle cx="161.47" cy="226.15" r="3.35" fill="#d0aabf"/>
<circle cx="67.2" cy="209.43" r="2.2" fill="#d0aabf"/>
<circle cx="28.19" cy="170.33" r="2.49" fill="#d0aabf"/>
<circle cx="85.06" cy="181.3" r="3.25" fill="#d0aabf"/>
<circle cx="68.3" cy="194.51" r="2.21" fill="#d0aabf"/>
<circle cx="65.66" cy="214.01" r="2.32" fill="#d0aabf"/>
<circle cx="158.48" cy="180.21" r="3.55" fill="#d0aabf"/>
<circle cx="158.36" cy="206.91" r="2.29" fill="#d0aabf"/>
<circle cx="175.39" cy="215.98" r="2.66" fill="#d0aabf"/>
<circle cx="174.92" cy="233.6" r="4.99" fill="#d0aabf"/>
<circle cx="64.88" cy="143.26" r="2.15" fill="#d0aabf"/>
<circle cx="63.42" cy="226.05" r="3.79" fill="#d0aabf"/>
<circle cx="94.78" cy="200.17" r="2.19" fill="#d0aabf"/>
<circle cx="110.45" cy="193.48" r="2.12" fill="#d0aabf"/>
<circle cx="90.53" cy="206.68" r="2.85" fill="#d0aabf"/>
<circle cx="48.42" cy="229" r="2.14" fill="#d0aabf"/>
<circle cx="33.13" cy="132.93" r="3.21" fill="#d0aabf"/>
<circle cx="67.06" cy="156.82" r="2.96" fill="#d0aabf"/>
<circle cx="96.77" cy="147.71" r="2.82" fill="#d0aabf"/>
<circle cx="107.83" cy="154.33" r="3.48" fill="#d0aabf"/>
<circle cx="79.72" cy="132.23" r="2.35" fill="#d0aabf"/>
<circle cx="99.1" cy="196.9" r="3.72" fill="#d0aabf"/>
<circle cx="163.86" cy="220.84" r="2.42" fill="#d0aabf"/>
<circle cx="97.66" cy="224.53" r="2.22" fill="#d0aabf"/>
<circle cx="164.55" cy="179.71" r="3.08" fill="#d0aabf"/>
<circle cx="50.66" cy="223.71" r="4.14" fill="#d0aabf"/>
<circle cx="119.51" cy="162.6" r="2.75" fill="#d0aabf"/>
<circle cx="139.73" cy="175.61" r="4.03" fill="#d0aabf"/>
<circle cx="169.58" cy="214.84" r="3.33" fill="#d0aabf"/>
<circle cx="28.03" cy="133.17" r="2.3" fill="#d0aabf"/>
<circle cx="114.34" cy="187.94" r="2.3" fill="#d0aabf"/>
<circle cx="173.5" cy="177.54" r="4.58" fill="#d0aabf"/>
<circle cx="173.26" cy="206.11" r="3.68" fill="#d0aabf"/>
<circle cx="142.07" cy="237.44" r="2.13" fill="#d0aabf"/>
<circle cx="42.2" cy="232.13" r="2.68" fill="#d0aabf"/>
<circle cx="95.61" cy="188.65" r="2.45" fill="#d0aabf"/>
<circle cx="41.6" cy="159.16" r="2.57" fill="#d0aabf"/>
<circle cx="51.52" cy="178.01" r="2.15" fill="#d0aabf"/>
<circle cx="55.05" cy="169.02" r="2.1" fill="#d0aabf"/>
<circle cx="146.26" cy="215.54" r="2.24" fill="#d0aabf"/>
<circle cx="59.94" cy="166.98" r="3.5" fill="#d0aabf"/>
<circle cx="153.46" cy="177.21" r="2.38" fill="#d0aabf"/>
<circle cx="140.8" cy="147.35" r="2.89" fill="#d0aabf"/>
<circle cx="91.05" cy="160.79" r="2.17" fill="#d0aabf"/>
<circle cx="116.79" cy="182.96" r="2.13" fill="#d0aabf"/>
<circle cx="83.83" cy="129.69" r="2.41" fill="#d0aabf"/>
<circle cx="89.4" cy="198.71" r="3.67" fill="#d0aabf"/>
<circle cx="31.81" cy="146.29" r="2.24" fill="#d0aabf"/>
<circle cx="151.91" cy="150.25" r="3.42" fill="#d0aabf"/>
<circle cx="58.13" cy="227.1" r="2.15" fill="#d0aabf"/>
<circle cx="64.92" cy="164.29" r="2.15" fill="#d0aabf"/>
<circle cx="139.61" cy="138.84" r="3.69" fill="#d0aabf"/>
<circle cx="117.29" cy="216.75" r="2.47" fill="#d0aabf"/>
<circle cx="87.02" cy="215.44" r="3.78" fill="#d0aabf"/>
<circle cx="173.65" cy="168.94" r="2.16" fill="#d0aabf"/>
<circle cx="93.58" cy="167.39" r="2.45" fill="#d0aabf"/>
<circle cx="43.51" cy="195.32" r="3.13" fill="#d0aabf"/>
<circle cx="57.22" cy="129.77" r="2.62" fill="#d0aabf"/>
<circle cx="98.84" cy="211.26" r="2.49" fill="#d0aabf"/>
<circle cx="102.92" cy="178.05" r="2.21" fill="#d0aabf"/>
<circle cx="85.17" cy="158.42" r="2.54" fill="#d0aabf"/>
<circle cx="146.58" cy="231.56" r="2.19" fill="#d0aabf"/>
<circle cx="80.53" cy="149.19" r="3.25" fill="#d0aabf"/>
<circle cx="78.16" cy="173.88" r="2.46" fill="#d0aabf"/>
<circle cx="57.55" cy="222.89" r="2.65" fill="#d0aabf"/>
<circle cx="156.48" cy="190.48" r="2.44" fill="#d0aabf"/>
<circle cx="85.97" cy="152.67" r="2.11" fill="#d0aabf"/>
<circle cx="131.55" cy="195.68" r="2.99" fill="#d0aabf"/>
<circle cx="166.06" cy="175.08" r="2.34" fill="#d0aabf"/>
<circle cx="89.03" cy="229.4" r="2.29" fill="#d0aabf"/>
<circle cx="29.84" cy="224.48" r="2.71" fill="#d0aabf"/>
<circle cx="72.4" cy="189.01" r="3.8" fill="#d0aabf"/>
<circle cx="43.2" cy="200.72" r="2.76" fill="#d0aabf"/>
<circle cx="89.52" cy="167.08" r="2.17" fill="#d0aabf"/>
<circle cx="33.91" cy="198" r="2.29" fill="#d0aabf"/>
<circle cx="119.51" cy="232.04" r="2.28" fill="#d0aabf"/>
<circle cx="48.66" cy="216.58" r="2.95" fill="#d0aabf"/>
<circle cx="90.27" cy="183.26" r="2.29" fill="#d0aabf"/>
<circle cx="121.78" cy="220.97" r="3.11" fill="#d0aabf"/>
<circle cx="32.12" cy="168.46" r="2.32" fill="#d0aabf"/>
<circle cx="73.69" cy="238.43" r="2.64" fill="#d0aabf"/>
<circle cx="103.96" cy="220.89" r="2.4" fill="#d0aabf"/>
<circle cx="169.28" cy="220.32" r="2.45" fill="#d0aabf"/>
<circle cx="99.29" cy="152.85" r="2.95" fill="#d0aabf"/>
<circle cx="133.74" cy="179.21" r="2.18" fill="#d0aabf"/>
<circle cx="52.95" cy="159.21" r="2.35" fill="#d0aabf"/>
<circle cx="103.3" cy="173.06" r="2.58" fill="#d0aabf"/>
<circle cx="111.16" cy="213.23" r="2.22" fill="#d0aabf"/>
<circle cx="147.01" cy="238.76" r="3.53" fill="#d0aabf"/>
<circle cx="78.39" cy="203.57" r="2.47" fill="#d0aabf"/>
<circle cx="79.74" cy="178.37" r="2.66" fill="#d0aabf"/>
<circle cx="81.34" cy="217.72" r="2.19" fill="#d0aabf"/>
<circle cx="74.25" cy="177.86" r="2.36" fill="#d0aabf"/>
<circle cx="154.33" cy="200.47" r="2.19" fill="#d0aabf"/>
<circle cx="146.81" cy="164.4" r="2.37" fill="#d0aabf"/>
<circle cx="53.3" cy="174.07" r="2.38" fill="#d0aabf"/>
<circle cx="80.52" cy="166.93" r="2.45" fill="#d0aabf"/>
<circle cx="41.72" cy="139.91" r="2.34" fill="#d0aabf"/>
<circle cx="137.14" cy="197.46" r="2.66" fill="#d0aabf"/>
<circle cx="47.13" cy="232.61" r="2.24" fill="#d0aabf"/>
<circle cx="156.75" cy="195.23" r="2.33" fill="#d0aabf"/>
<circle cx="51.61" cy="134.9" r="2.28" fill="#d0aabf"/>
<circle cx="39.63" cy="130.46" r="2.19" fill="#d0aabf"/>
<circle cx="166.89" cy="134.76" r="2.22" fill="#d0aabf"/>
<circle cx="145.56" cy="199.93" r="2.23" fill="#d0aabf"/>
<circle cx="171.13" cy="192.08" r="2.18" fill="#d0aabf"/>
<circle cx="163.12" cy="154.86" r="2.35" fill="#d0aabf"/>
<circle cx="142.83" cy="211.78" r="2.24" fill="#d0aabf"/>
<circle cx="71.27" cy="142.06" r="2.35" fill="#d0aabf"/>
<circle cx="36.46" cy="149.5" r="2.22" fill="#d0aabf"/>
<circle cx="147.76" cy="139.46" r="2.26" fill="#d0aabf"/>
<circle cx="173.85" cy="138.24" r="2.15" fill="#d0aabf"/>
<circle cx="94.68" cy="184.7" r="2.16" fill="#d0aabf"/>
<circle cx="98.47" cy="238.24" r="3.32" fill="#d0aabf"/>
<circle cx="169.68" cy="238.63" r="2.58" fill="#d0aabf"/>
<circle cx="95.23" cy="214.29" r="2.22" fill="#d0aabf"/>
<circle cx="77.19" cy="199.07" r="2.22" fill="#d0aabf"/>
<circle cx="162.29" cy="207.45" r="2.22" fill="#d0aabf"/>
<circle cx="96.85" cy="129.93" r="2.36" fill="#d0aabf"/>
<circle cx="127.41" cy="230.4" r="2.39" fill="#d0aabf"/>
<circle cx="48.42" cy="149.1" r="2.22" fill="#d0aabf"/>
<circle cx="124.43" cy="160.32" r="2.92" fill="#d0aabf"/>
<circle cx="158.29" cy="185.93" r="2.34" fill="#d0aabf"/>
<circle cx="132.86" cy="189.91" r="2.72" fill="#d0aabf"/>
<circle cx="167.39" cy="145.66" r="2.13" fill="#d0aabf"/>
<circle cx="175.24" cy="129.36" r="2.2" fill="#d0aabf"/>
<circle cx="175.34" cy="134.38" r="2.36" fill="#d0aabf"/>
<circle cx="158.93" cy="216.79" r="2.21" fill="#d0aabf"/>
<circle cx="166.9" cy="129.64" r="3" fill="#d0aabf"/>
<circle cx="93.45" cy="143.73" r="2.17" fill="#d0aabf"/>
<circle cx="175.27" cy="156.34" r="2.39" fill="#d0aabf"/>
<circle cx="28.73" cy="137.83" r="2.16" fill="#d0aabf"/>
<circle cx="61.09" cy="220.3" r="2.28" fill="#d0aabf"/>
<circle cx="65.17" cy="129.58" r="2.57" fill="#d0aabf"/>
<circle cx="165.41" cy="159.18" r="2.35" fill="#d0aabf"/>
<circle cx="150.6" cy="202.4" r="2.25" fill="#d0aabf"/>
<circle cx="64.02" cy="207.03" r="2.27" fill="#d0aabf"/>
<circle cx="128.13" cy="148.32" r="2.14" fill="#d0aabf"/>
<circle cx="100.06" cy="217.21" r="2.17" fill="#d0aabf"/>
<circle cx="136.9" cy="149.84" r="2.29" fill="#d0aabf"/>
<circle cx="58.28" cy="192.21" r="2.67" fill="#d0aabf"/>
<circle cx="174.11" cy="211.81" r="2.25" fill="#d0aabf"/>
<circle cx="36.32" cy="166.45" r="2.25" fill="#d0aabf"/>
<circle cx="136.11" cy="238.98" r="2.16" fill="#d0aabf"/>
<circle cx="167.5" cy="210.03" r="2.14" fill="#d0aabf"/>
<circle cx="137.41" cy="216.53" r="5.11" fill="#e4f9f3"/>
<circle cx="137.14" cy="230.48" r="6.55" fill="#e4f9f3"/>
<circle cx="96.68" cy="232.79" r="1.95" fill="#e4f9f3"/>
<circle cx="160.88" cy="141.72" r="5.23" fill="#e4f9f3"/>
<circle cx="64.37" cy="188.95" r="4.38" fill="#e4f9f3"/>
<circle cx="29.93" cy="153.08" r="4.88" fill="#e4f9f3"/>
<circle cx="163.16" cy="213.3" r="3.43" fill="#e4f9f3"/>
<circle cx="145.58" cy="144.52" r="2.77" fill="#e4f9f3"/>
<circle cx="46.69" cy="129.49" r="5.09" fill="#e4f9f3"/>
<circle cx="58.89" cy="152.94" r="6.24" fill="#e4f9f3"/>
<circle cx="156.68" cy="161.04" r="6.72" fill="#e4f9f3"/>
<circle cx="107.54" cy="203.66" r="6.63" fill="#e4f9f3"/>
<circle cx="166.79" cy="205.06" r="3.02" fill="#e4f9f3"/>
<circle cx="52.48" cy="145.28" r="3.5" fill="#e4f9f3"/>
<circle cx="72.45" cy="195.46" r="2.2" fill="#e4f9f3"/>
<circle cx="128" cy="166.37" r="1.74" fill="#e4f9f3"/>
<circle cx="148.73" cy="182.04" r="3.58" fill="#e4f9f3"/>
<circle cx="98.98" cy="206.6" r="2.17" fill="#e4f9f3"/>
<circle cx="171.83" cy="131.81" r="2.15" fill="#e4f9f3"/>
<circle cx="152.62" cy="131.28" r="5.69" fill="#e4f9f3"/>
<circle cx="82.01" cy="192.76" r="5.86" fill="#e4f9f3"/>
<circle cx="56.99" cy="212.2" r="6.61" fill="#e4f9f3"/>
<circle cx="166.95" cy="167.08" r="4.94" fill="#e4f9f3"/>
<circle cx="105.39" cy="214.38" r="3.81" fill="#e4f9f3"/>
<circle cx="33.4" cy="233.05" r="6.19" fill="#e4f9f3"/>
<circle cx="78.14" cy="230.68" r="6.44" fill="#e4f9f3"/>
<circle cx="74.09" cy="164.05" r="4.75" fill="#e4f9f3"/>
<circle cx="39.53" cy="145.63" r="2.87" fill="#e4f9f3"/>
<circle cx="175.02" cy="147.02" r="5.42" fill="#e4f9f3"/>
<circle cx="173.54" cy="187.83" r="2.09" fill="#e4f9f3"/>
<circle cx="95.21" cy="175.57" r="6.04" fill="#e4f9f3"/>
<circle cx="163.12" cy="132.89" r="2.14" fill="#e4f9f3"/>
<circle cx="151.67" cy="143.62" r="3.13" fill="#e4f9f3"/>
<circle cx="168.1" cy="198.45" r="3.46" fill="#e4f9f3"/>
<circle cx="43.73" cy="176.97" r="5.87" fill="#e4f9f3"/>
<circle cx="175.4" cy="222.79" r="4.3" fill="#e4f9f3"/>
<circle cx="98.66" cy="161.23" r="5.6" fill="#e4f9f3"/>
<circle cx="49.61" cy="170.66" r="2.51" fill="#e4f9f3"/>
<circle cx="77.93" cy="139.08" r="4.53" fill="#e4f9f3"/>
<circle cx="143.35" cy="224.45" r="1.86" fill="#e4f9f3"/>
<circle cx="125.94" cy="212.63" r="5.44" fill="#e4f9f3"/>
<circle cx="131.91" cy="160.11" r="3.86" fill="#e4f9f3"/>
<circle cx="141.54" cy="205.09" r="4.46" fill="#e4f9f3"/>
<circle cx="29.71" cy="189.3" r="4.91" fill="#e4f9f3"/>
<circle cx="127.07" cy="180.08" r="3.27" fill="#e4f9f3"/>
<circle cx="79.63" cy="221.76" r="2.35" fill="#e4f9f3"/>
<circle cx="129.53" cy="236.38" r="2.83" fill="#e4f9f3"/>
<circle cx="104.43" cy="187.37" r="6.61" fill="#e4f9f3"/>
<circle cx="151.4" cy="232.13" r="2.81" fill="#e4f9f3"/>
<circle cx="123.89" cy="153.33" r="4.24" fill="#e4f9f3"/>
<circle cx="121.05" cy="133.89" r="5.4" fill="#e4f9f3"/>
<circle cx="61.37" cy="135.24" r="4.39" fill="#e4f9f3"/>
<circle cx="74.81" cy="149.22" r="2.62" fill="#e4f9f3"/>
<circle cx="33.26" cy="180.35" r="2.96" fill="#e4f9f3"/>
<circle cx="118.24" cy="194.04" r="3.94" fill="#e4f9f3"/>
<circle cx="69.08" cy="174.28" r="4.07" fill="#e4f9f3"/>
<circle cx="150.63" cy="170.31" r="2.51" fill="#e4f9f3"/>
<circle cx="148.73" cy="175.28" r="2.55" fill="#e4f9f3"/>
<circle cx="122.74" cy="169.83" r="4.3" fill="#e4f9f3"/>
<circle cx="120.84" cy="227.07" r="2.66" fill="#e4f9f3"/>
<circle cx="91.67" cy="154.13" r="3.92" fill="#e4f9f3"/>
<circle cx="162.78" cy="194.66" r="2.82" fill="#e4f9f3"/>
<circle cx="172.69" cy="183.74" r="1.83" fill="#e4f9f3"/>
<circle cx="70.24" cy="181.62" r="3.11" fill="#e4f9f3"/>
<circle cx="119.7" cy="177.95" r="2.55" fill="#e4f9f3"/>
<circle cx="106.55" cy="159.33" r="1.83" fill="#e4f9f3"/>
<circle cx="143.33" cy="156.25" r="6.52" fill="#e4f9f3"/>
<circle cx="50.83" cy="237.77" r="3.36" fill="#e4f9f3"/>
<circle cx="117.07" cy="210.86" r="3.36" fill="#e4f9f3"/>
<circle cx="108.47" cy="130.9" r="6.31" fill="#e4f9f3"/>
<circle cx="91.09" cy="192.45" r="2.97" fill="#e4f9f3"/>
<circle cx="84.86" cy="172.29" r="4.57" fill="#e4f9f3"/>
<circle cx="56.98" cy="161.82" r="2.6" fill="#e4f9f3"/>
<circle cx="37.74" cy="221.04" r="6.05" fill="#e4f9f3"/>
<circle cx="50.65" cy="193.57" r="3.69" fill="#e4f9f3"/>
<circle cx="38.09" cy="154.53" r="3.16" fill="#e4f9f3"/>
<circle cx="131.43" cy="134.66" r="4.76" fill="#e4f9f3"/>
<circle cx="60.34" cy="200.14" r="5.67" fill="#e4f9f3"/>
<circle cx="133.09" cy="144.07" r="4.54" fill="#e4f9f3"/>
<circle cx="89.06" cy="146.98" r="3.44" fill="#e4f9f3"/>
<circle cx="34.43" cy="141.17" r="3.66" fill="#e4f9f3"/>
<circle cx="38.62" cy="135.61" r="3.05" fill="#e4f9f3"/>
<circle cx="36.22" cy="205.79" r="3.91" fill="#e4f9f3"/>
<circle cx="121.12" cy="184.79" r="2.72" fill="#e4f9f3"/>
<circle cx="104.26" cy="143.98" r="5.7" fill="#e4f9f3"/>
<circle cx="82.75" cy="210.12" r="3.19" fill="#e4f9f3"/>
<circle cx="133.21" cy="201.16" r="2.88" fill="#e4f9f3"/>
<circle cx="126.52" cy="139.3" r="1.75" fill="#e4f9f3"/>
<circle cx="115.61" cy="155.47" r="2.57" fill="#e4f9f3"/>
<circle cx="60.91" cy="142.03" r="2.17" fill="#e4f9f3"/>
<circle cx="153.61" cy="186.07" r="2.49" fill="#e4f9f3"/>
<circle cx="140.15" cy="129.35" r="4.44" fill="#e4f9f3"/>
<circle cx="96.67" cy="140.24" r="2.51" fill="#e4f9f3"/>
<circle cx="68.92" cy="147.02" r="3.29" fill="#e4f9f3"/>
<circle cx="62.69" cy="182.18" r="2.35" fill="#e4f9f3"/>
<circle cx="70.94" cy="203.29" r="5.14" fill="#e4f9f3"/>
<circle cx="91.52" cy="236.3" r="4.04" fill="#e4f9f3"/>
<circle cx="104.54" cy="167.7" r="2.9" fill="#e4f9f3"/>
<circle cx="35.44" cy="172.89" r="3.12" fill="#e4f9f3"/>
<circle cx="54.46" cy="185.1" r="5.35" fill="#e4f9f3"/>
<circle cx="43.93" cy="188.75" r="3.6" fill="#e4f9f3"/>
<circle cx="116.25" cy="223.29" r="3.04" fill="#e4f9f3"/>
<circle cx="112.28" cy="170.62" r="4.46" fill="#e4f9f3"/>
<circle cx="94.23" cy="219.96" r="3.57" fill="#e4f9f3"/>
<circle cx="45.06" cy="163.5" r="3.13" fill="#e4f9f3"/>
<circle cx="47.15" cy="138.29" r="3.48" fill="#e4f9f3"/>
<circle cx="74.3" cy="211.83" r="3.79" fill="#e4f9f3"/>
<circle cx="160.17" cy="201.05" r="3.83" fill="#e4f9f3"/>
<circle cx="112.77" cy="177.81" r="2.49" fill="#e4f9f3"/>
<circle cx="124.68" cy="234.04" r="2.31" fill="#e4f9f3"/>
<circle cx="84.4" cy="143.59" r="2.07" fill="#e4f9f3"/>
<circle cx="70.11" cy="136.27" r="3.53" fill="#e4f9f3"/>
<circle cx="166.1" cy="187.73" r="4.62" fill="#e4f9f3"/>
<circle cx="115.91" cy="140.66" r="2.85" fill="#e4f9f3"/>
<circle cx="89.87" cy="135.04" r="5.81" fill="#e4f9f3"/>
<circle cx="158.06" cy="172.38" r="4.44" fill="#e4f9f3"/>
<circle cx="79.89" cy="156.53" r="3.22" fill="#e4f9f3"/>
<circle cx="151.93" cy="222.53" r="6.56" fill="#e4f9f3"/>
<circle cx="100.29" cy="133.44" r="2.01" fill="#e4f9f3"/>
<circle cx="42.56" cy="208.03" r="2.56" fill="#e4f9f3"/>
<circle cx="128.73" cy="223.98" r="3.66" fill="#e4f9f3"/>
<circle cx="146.05" cy="170.59" r="1.82" fill="#e4f9f3"/>
<circle cx="85.39" cy="164.1" r="2.91" fill="#e4f9f3"/>
<circle cx="131.74" cy="173.08" r="4.41" fill="#e4f9f3"/>
<circle cx="126.85" cy="188.18" r="3.68" fill="#e4f9f3"/>
<circle cx="40.87" cy="168.34" r="2.28" fill="#e4f9f3"/>
<circle cx="38.62" cy="211.95" r="2.44" fill="#e4f9f3"/>
<circle cx="169.14" cy="227.72" r="3.41" fill="#e4f9f3"/>
<circle cx="151.64" cy="210.33" r="5.4" fill="#e4f9f3"/>
<circle cx="63.27" cy="236.22" r="6.35" fill="#e4f9f3"/>
<circle cx="37.25" cy="191.38" r="2.66" fill="#e4f9f3"/>
<circle cx="90.75" cy="187.31" r="1.93" fill="#e4f9f3"/>
<circle cx="123.34" cy="205.02" r="2.36" fill="#e4f9f3"/>
<circle cx="42.87" cy="150.53" r="2.8" fill="#e4f9f3"/>
<circle cx="43.47" cy="212.46" r="1.71" fill="#e4f9f3"/>
<circle cx="164.3" cy="234.27" r="4.49" fill="#e4f9f3"/>
<circle cx="170.35" cy="140.63" r="2.24" fill="#e4f9f3"/>
<circle cx="95.65" cy="203.95" r="1.84" fill="#e4f9f3"/>
<circle cx="83.23" cy="204.3" r="2.4" fill="#e4f9f3"/>
<circle cx="144.38" cy="192.45" r="5.45" fill="#e4f9f3"/>
<circle cx="28.76" cy="213.32" r="5.54" fill="#e4f9f3"/>
<circle cx="123.16" cy="199.05" r="2.83" fill="#e4f9f3"/>
<circle cx="83.83" cy="238.9" r="3.3" fill="#e4f9f3"/>
<circle cx="59.96" cy="175.53" r="4.59" fill="#e4f9f3"/>
<circle cx="158.59" cy="150.86" r="3.38" fill="#e4f9f3"/>
<circle cx="48.11" cy="155.25" r="4" fill="#e4f9f3"/>
<circle cx="104.45" cy="236.25" r="2.73" fill="#e4f9f3"/>
<circle cx="113.8" cy="235.25" r="4.42" fill="#e4f9f3"/>
<circle cx="111.88" cy="158.16" r="1.78" fill="#e4f9f3"/>
<circle cx="144.95" cy="135.45" r="2.78" fill="#e4f9f3"/>
<circle cx="31.16" cy="161.96" r="3.77" fill="#e4f9f3"/>
<circle cx="52.58" cy="231.53" r="2.87" fill="#e4f9f3"/>
<circle cx="94.19" cy="210.06" r="2.28" fill="#e4f9f3"/>
<circle cx="109.38" cy="220.31" r="3.08" fill="#e4f9f3"/>
<circle cx="79.77" cy="183.52" r="2.65" fill="#e4f9f3"/>
<circle cx="170.71" cy="158.18" r="2.68" fill="#e4f9f3"/>
<circle cx="150.3" cy="197.94" r="2.38" fill="#e4f9f3"/>
<circle cx="137.11" cy="190.87" r="1.74" fill="#e4f9f3"/>
<circle cx="38.23" cy="199.85" r="2.11" fill="#e4f9f3"/>
<circle cx="72.05" cy="129.46" r="3.3" fill="#e4f9f3"/>
<circle cx="104.07" cy="228.25" r="5.04" fill="#e4f9f3"/>
<circle cx="167.65" cy="151.82" r="3.12" fill="#e4f9f3"/>
<circle cx="66.23" cy="168.53" r="2.11" fill="#e4f9f3"/>
<circle cx="152.54" cy="193.2" r="2.49" fill="#e4f9f3"/>
<circle cx="37.25" cy="162.37" r="2.09" fill="#e4f9f3"/>
<circle cx="108.05" cy="177.29" r="2.01" fill="#e4f9f3"/>
<circle cx="76.04" cy="218.25" r="2.42" fill="#e4f9f3"/>
<circle cx="112.66" cy="184.17" r="1.97" fill="#e4f9f3"/>
<circle cx="43.14" cy="238.73" r="4.14" fill="#e4f9f3"/>
<circle cx="52.74" cy="139.14" r="1.93" fill="#e4f9f3"/>
<circle cx="29.49" cy="201.33" r="3.4" fill="#e4f9f3"/>
<circle cx="137.65" cy="184.57" r="4.34" fill="#e4f9f3"/>
<circle cx="158.47" cy="237.85" r="1.89" fill="#e4f9f3"/>
<circle cx="28.49" cy="176.33" r="3.03" fill="#e4f9f3"/>
<circle cx="61.87" cy="161.62" r="2.04" fill="#e4f9f3"/>
<circle cx="126.11" cy="194.51" r="2.34" fill="#e4f9f3"/>
<circle cx="66.99" cy="219.47" r="3.46" fill="#e4f9f3"/>
<circle cx="115.09" cy="148.54" r="4.14" fill="#e4f9f3"/>
<circle cx="51.85" cy="165.74" r="2.64" fill="#e4f9f3"/>
<circle cx="44.42" cy="226.41" r="2.26" fill="#e4f9f3"/>
<circle cx="85.55" cy="223.3" r="3.52" fill="#e4f9f3"/>
<circle cx="47.2" cy="211.3" r="1.94" fill="#e4f9f3"/>
<circle cx="173.18" cy="163.5" r="1.99" fill="#e4f9f3"/>
<circle cx="72.95" cy="222.5" r="1.81" fill="#e4f9f3"/>
<circle cx="135.6" cy="209.54" r="1.86" fill="#e4f9f3"/>
<circle cx="99.83" cy="221.11" r="1.89" fill="#e4f9f3"/>
<circle cx="115.38" cy="164.65" r="2.01" fill="#e4f9f3"/>
<circle cx="117.3" cy="201.2" r="3.02" fill="#e4f9f3"/>
<circle cx="123.09" cy="143.98" r="3.8" fill="#e4f9f3"/>
<circle cx="69.46" cy="227.48" r="2.56" fill="#e4f9f3"/>
<circle cx="50.04" cy="202.48" r="4.46" fill="#e4f9f3"/>
<circle cx="132.4" cy="207.12" r="1.9" fill="#e4f9f3"/>
<circle cx="111.83" cy="227.64" r="2.5" fill="#e4f9f3"/>
<circle cx="28.02" cy="142.41" r="2.62" fill="#e4f9f3"/>
<circle cx="109.76" cy="162.72" r="2.58" fill="#e4f9f3"/>
<circle cx="175.06" cy="197.45" r="3.21" fill="#e4f9f3"/>
<circle cx="127.31" cy="203.04" r="1.83" fill="#e4f9f3"/>
<circle cx="37.39" cy="186.54" r="1.93" fill="#e4f9f3"/>
<circle cx="93.71" cy="227.55" r="2.9" fill="#e4f9f3"/>
<circle cx="158.41" cy="231.18" r="1.91" fill="#e4f9f3"/>
<circle cx="80.91" cy="161.98" r="1.79" fill="#e4f9f3"/>
<circle cx="131.39" cy="153.35" r="2.67" fill="#e4f9f3"/>
<circle cx="153.82" cy="237.56" r="2.52" fill="#e4f9f3"/>
<circle cx="44.92" cy="143.65" r="2.08" fill="#e4f9f3"/>
<circle cx="72.57" cy="154.58" r="2.94" fill="#e4f9f3"/>
<circle cx="122.68" cy="237.96" r="1.85" fill="#e4f9f3"/>
<circle cx="139.33" cy="167.21" r="4.52" fill="#e4f9f3"/>
<circle cx="161.47" cy="226.15" r="2.95" fill="#e4f9f3"/>
<circle cx="67.2" cy="209.43" r="1.8" fill="#e4f9f3"/>
<circle cx="28.19" cy="170.33" r="2.09" fill="#e4f9f3"/>
<circle cx="85.06" cy="181.3" r="2.85" fill="#e4f9f3"/>
<circle cx="68.3" cy="194.51" r="1.81" fill="#e4f9f3"/>
<circle cx="65.66" cy="214.01" r="1.92" fill="#e4f9f3"/>
<circle cx="158.48" cy="180.21" r="3.15" fill="#e4f9f3"/>
<circle cx="158.36" cy="206.91" r="1.89" fill="#e4f9f3"/>
<circle cx="175.39" cy="215.98" r="2.26" fill="#e4f9f3"/>
<circle cx="174.92" cy="233.6" r="4.59" fill="#e4f9f3"/>
<circle cx="64.88" cy="143.26" r="1.75" fill="#e4f9f3"/>
<circle cx="63.42" cy="226.05" r="3.39" fill="#e4f9f3"/>
<circle cx="94.78" cy="200.17" r="1.79" fill="#e4f9f3"/>
<circle cx="110.45" cy="193.48" r="1.72" fill="#e4f9f3"/>
<circle cx="90.53" cy="206.68" r="2.45" fill="#e4f9f3"/>
<circle cx="48.42" cy="229" r="1.74" fill="#e4f9f3"/>
<circle cx="33.13" cy="132.93" r="2.81" fill="#e4f9f3"/>
<circle cx="67.06" cy="156.82" r="2.56" fill="#e4f9f3"/>
<circle cx="96.77" cy="147.71" r="2.42" fill="#e4f9f3"/>
<circle cx="107.83" cy="154.33" r="3.08" fill="#e4f9f3"/>
<circle cx="79.72" cy="132.23" r="1.95" fill="#e4f9f3"/>
<circle cx="99.1" cy="196.9" r="3.32" fill="#e4f9f3"/>
<circle cx="163.86" cy="220.84" r="2.02" fill="#e4f9f3"/>
<circle cx="97.66" cy="224.53" r="1.82" fill="#e4f9f3"/>
<circle cx="164.55" cy="179.71" r="2.68" fill="#e4f9f3"/>
<circle cx="50.66" cy="223.71" r="3.74" fill="#e4f9f3"/>
<circle cx="119.51" cy="162.6" r="2.35" fill="#e4f9f3"/>
<circle cx="139.73" cy="175.61" r="3.63" fill="#e4f9f3"/>
<circle cx="169.58" cy="214.84" r="2.93" fill="#e4f9f3"/>
<circle cx="28.03" cy="133.17" r="1.9" fill="#e4f9f3"/>
<circle cx="114.34" cy="187.94" r="1.9" fill="#e4f9f3"/>
<circle cx="173.5" cy="177.54" r="4.18" fill="#e4f9f3"/>
<circle cx="173.26" cy="206.11" r="3.28" fill="#e4f9f3"/>
<circle cx="142.07" cy="237.44" r="1.73" fill="#e4f9f3"/>
<circle cx="42.2" cy="232.13" r="2.28" fill="#e4f9f3"/>
<circle cx="95.61" cy="188.65" r="2.05" fill="#e4f9f3"/>
<circle cx="41.6" cy="159.16" r="2.17" fill="#e4f9f3"/>
<circle cx="51.52" cy="178.01" r="1.75" fill="#e4f9f3"/>
<circle cx="55.05" cy="169.02" r="1.7" fill="#e4f9f3"/>
<circle cx="146.26" cy="215.54" r="1.84" fill="#e4f9f3"/>
<circle cx="59.94" cy="166.98" r="3.1" fill="#e4f9f3"/>
<circle cx="153.46" cy="177.21" r="1.98" fill="#e4f9f3"/>
<circle cx="140.8" cy="147.35" r="2.49" fill="#e4f9f3"/>
<circle cx="91.05" cy="160.79" r="1.77" fill="#e4f9f3"/>
<circle cx="116.79" cy="182.96" r="1.73" fill="#e4f9f3"/>
<circle cx="83.83" cy="129.69" r="2.01" fill="#e4f9f3"/>
<circle cx="89.4" cy="198.71" r="3.27" fill="#e4f9f3"/>
<circle cx="31.81" cy="146.29" r="1.84" fill="#e4f9f3"/>
<circle cx="151.91" cy="150.25" r="3.02" fill="#e4f9f3"/>
<circle cx="58.13" cy="227.1" r="1.75" fill="#e4f9f3"/>
<circle cx="64.92" cy="164.29" r="1.75" fill="#e4f9f3"/>
<circle cx="139.61" cy="138.84" r="3.29" fill="#e4f9f3"/>
<circle cx="117.29" cy="216.75" r="2.07" fill="#e4f9f3"/>
<circle cx="87.02" cy="215.44" r="3.38" fill="#e4f9f3"/>
<circle cx="173.65" cy="168.94" r="1.76" fill="#e4f9f3"/>
<circle cx="93.58" cy="167.39" r="2.05" fill="#e4f9f3"/>
<circle cx="43.51" cy="195.32" r="2.73" fill="#e4f9f3"/>
<circle cx="57.22" cy="129.77" r="2.22" fill="#e4f9f3"/>
<circle cx="98.84" cy="211.26" r="2.09" fill="#e4f9f3"/>
<circle cx="102.92" cy="178.05" r="1.81" fill="#e4f9f3"/>
<circle cx="85.17" cy="158.42" r="2.14" fill="#e4f9f3"/>
<circle cx="146.58" cy="231.56" r="1.79" fill="#e4f9f3"/>
<circle cx="80.53" cy="149.19" r="2.85" fill="#e4f9f3"/>
<circle cx="78.16" cy="173.88" r="2.06" fill="#e4f9f3"/>
<circle cx="57.55" cy="222.89" r="2.25" fill="#e4f9f3"/>
<circle cx="156.48" cy="190.48" r="2.04" fill="#e4f9f3"/>
<circle cx="85.97" cy="152.67" r="1.71" fill="#e4f9f3"/>
<circle cx="131.55" cy="195.68" r="2.59" fill="#e4f9f3"/>
<circle cx="166.06" cy="175.08" r="1.94" fill="#e4f9f3"/>
<circle cx="89.03" cy="229.4" r="1.89" fill="#e4f9f3"/>
<circle cx="29.84" cy="224.48" r="2.31" fill="#e4f9f3"/>
<circle cx="72.4" cy="189.01" r="3.4" fill="#e4f9f3"/>
<circle cx="43.2" cy="200.72" r="2.36" fill="#e4f9f3"/>
<circle cx="89.52" cy="167.08" r="1.77" fill="#e4f9f3"/>
<circle cx="33.91" cy="198" r="1.89" fill="#e4f9f3"/>
<circle cx="119.51" cy="232.04" r="1.88" fill="#e4f9f3"/>
<circle cx="48.66" cy="216.58" r="2.55" fill="#e4f9f3"/>
<circle cx="90.27" cy="183.26" r="1.89" fill="#e4f9f3"/>
<circle cx="121.78" cy="220.97" r="2.71" fill="#e4f9f3"/>
<circle cx="32.12" cy="168.46" r="1.92" fill="#e4f9f3"/>
<circle cx="73.69" cy="238.43" r="2.24" fill="#e4f9f3"/>
<circle cx="103.96" cy="220.89" r="2" fill="#e4f9f3"/>
<circle cx="169.28" cy="220.32" r="2.05" fill="#e4f9f3"/>
<circle cx="99.29" cy="152.85" r="2.55" fill="#e4f9f3"/>
<circle cx="133.74" cy="179.21" r="1.78" fill="#e4f9f3"/>
<circle cx="52.95" cy="159.21" r="1.95" fill="#e4f9f3"/>
<circle cx="103.3" cy="173.06" r="2.18" fill="#e4f9f3"/>
<circle cx="111.16" cy="213.23" r="1.82" fill="#e4f9f3"/>
<circle cx="147.01" cy="238.76" r="3.13" fill="#e4f9f3"/>
<circle cx="78.39" cy="203.57" r="2.07" fill="#e4f9f3"/>
<circle cx="79.74" cy="178.37" r="2.26" fill="#e4f9f3"/>
<circle cx="81.34" cy="217.72" r="1.79" fill="#e4f9f3"/>
<circle cx="74.25" cy="177.86" r="1.96" fill="#e4f9f3"/>
<circle cx="154.33" cy="200.47" r="1.79" fill="#e4f9f3"/>
<circle cx="146.81" cy="164.4" r="1.97" fill="#e4f9f3"/>
<circle cx="53.3" cy="174.07" r="1.98" fill="#e4f9f3"/>
<circle cx="80.52" cy="166.93" r="2.05" fill="#e4f9f3"/>
<circle cx="41.72" cy="139.91" r="1.94" fill="#e4f9f3"/>
<circle cx="137.14" cy="197.46" r="2.26" fill="#e4f9f3"/>
<circle cx="47.13" cy="232.61" r="1.84" fill="#e4f9f3"/>
<circle cx="156.75" cy="195.23" r="1.93" fill="#e4f9f3"/>
<circle cx="51.61" cy="134.9" r="1.88" fill="#e4f9f3"/>
<circle cx="39.63" cy="130.46" r="1.79" fill="#e4f9f3"/>
<circle cx="166.89" cy="134.76" r="1.82" fill="#e4f9f3"/>
<circle cx="145.56" cy="199.93" r="1.83" fill="#e4f9f3"/>
<circle cx="171.13" cy="192.08" r="1.78" fill="#e4f9f3"/>
<circle cx="163.12" cy="154.86" r="1.95" fill="#e4f9f3"/>
<circle cx="142.83" cy="211.78" r="1.84" fill="#e4f9f3"/>
<circle cx="71.27" cy="142.06" r="1.95" fill="#e4f9f3"/>
<circle cx="36.46" cy="149.5" r="1.82" fill="#e4f9f3"/>
<circle cx="147.76" cy="139.46" r="1.86" fill="#e4f9f3"/>
<circle cx="173.85" cy="138.24" r="1.75" fill="#e4f9f3"/>
<circle cx="94.68" cy="184.7" r="1.76" fill="#e4f9f3"/>
<circle cx="98.47" cy="238.24" r="2.92" fill="#e4f9f3"/>
<circle cx="169.68" cy="238.63" r="2.18" fill="#e4f9f3"/>
<circle cx="95.23" cy="214.29" r="1.82" fill="#e4f9f3"/>
<circle cx="77.19" cy="199.07" r="1.82" fill="#e4f9f3"/>
<circle cx="162.29" cy="207.45" r="1.82" fill="#e4f9f3"/>
<circle cx="96.85" cy="129.93" r="1.96" fill="#e4f9f3"/>
<circle cx="127.41" cy="230.4" r="1.99" fill="#e4f9f3"/>
<circle cx="48.42" cy="149.1" r="1.82" fill="#e4f9f3"/>
<circle cx="124.43" cy="160.32" r="2.52" fill="#e4f9f3"/>
<circle cx="158.29" cy="185.93" r="1.94" fill="#e4f9f3"/>
<circle cx="132.86" cy="189.91" r="2.32" fill="#e4f9f3"/>
<circle cx="167.39" cy="145.66" r="1.73" fill="#e4f9f3"/>
<circle cx="175.24" cy="129.36" r="1.8" fill="#e4f9f3"/>
<circle cx="175.34" cy="134.38" r="1.96" fill="#e4f9f3"/>
<circle cx="158.93" cy="216.79" r="1.81" fill="#e4f9f3"/>
<circle cx="166.9" cy="129.64" r="2.6" fill="#e4f9f3"/>
<circle cx="93.45" cy="143.73" r="1.77" fill="#e4f9f3"/>
<circle cx="175.27" cy="156.34" r="1.99" fill="#e4f9f3"/>
<circle cx="28.73" cy="137.83" r="1.76" fill="#e4f9f3"/>
<circle cx="61.09" cy="220.3" r="1.88" fill="#e4f9f3"/>
<circle cx="65.17" cy="129.58" r="2.17" fill="#e4f9f3"/>
<circle cx="165.41" cy="159.18" r="1.95" fill="#e4f9f3"/>
<circle cx="150.6" cy="202.4" r="1.85" fill="#e4f9f3"/>
<circle cx="64.02" cy="207.03" r="1.87" fill="#e4f9f3"/>
<circle cx="128.13" cy="148.32" r="1.74" fill="#e4f9f3"/>
<circle cx="100.06" cy="217.21" r="1.77" fill="#e4f9f3"/>
<circle cx="136.9" cy="149.84" r="1.89" fill="#e4f9f3"/>
<circle cx="58.28" cy="192.21" r="2.27" fill="#e4f9f3"/>
<circle cx="174.11" cy="211.81" r="1.85" fill="#e4f9f3"/>
<circle cx="36.32" cy="166.45" r="1.85" fill="#e4f9f3"/>
<circle cx="136.11" cy="238.98" r="1.76" fill="#e4f9f3"/>
<circle cx="167.5" cy="210.03" r="1.74" fill="#e4f9f3"/>
<ellipse cx="114.73" cy="229.57" rx="2.54" ry="1.48" fill="#a486b6"/>
<ellipse cx="48.45" cy="185.88" rx="1.49" ry="1.93" fill="#9a7cae"/>
<ellipse cx="42.98" cy="205.04" rx="1.43" ry="1.31" fill="#9274a8"/>
<ellipse cx="147.33" cy="142.64" rx="2.56" ry="1.95" fill="#9274a8"/>
<ellipse cx="63.02" cy="209.71" rx="2.48" ry="1.23" fill="#9274a8"/>
<ellipse cx="70.29" cy="177.93" rx="2.22" ry="1.22" fill="#a486b6"/>
<ellipse cx="71.83" cy="235.35" rx="2.34" ry="1.52" fill="#9a7cae"/>
<ellipse cx="77.61" cy="210.13" rx="2.42" ry="1.2" fill="#9a7cae"/>
<ellipse cx="45.4" cy="168.73" rx="2.45" ry="1.46" fill="#9274a8"/>
<ellipse cx="46.83" cy="223.27" rx="1.9" ry="1.01" fill="#9a7cae"/>
<ellipse cx="130.93" cy="193.34" rx="1.7" ry="1.39" fill="#9274a8"/>
<ellipse cx="31.92" cy="223.15" rx="2.52" ry="1.29" fill="#a486b6"/>
<ellipse cx="49.78" cy="150.07" rx="1.86" ry="1.27" fill="#9274a8"/>
<ellipse cx="143.47" cy="165.02" rx="2.39" ry="1.39" fill="#a486b6"/>
<ellipse cx="66.61" cy="181.93" rx="1.81" ry="1.07" fill="#9a7cae"/>
<ellipse cx="173.03" cy="158.91" rx="2.69" ry="1.94" fill="#9274a8"/>
<ellipse cx="113.33" cy="152.48" rx="1.59" ry="1.2" fill="#9a7cae"/>
<ellipse cx="51.61" cy="215.21" rx="2.15" ry="1.27" fill="#a486b6"/>
<ellipse cx="72.28" cy="183.57" rx="1.52" ry="1.42" fill="#9a7cae"/>
<ellipse cx="34.72" cy="145.37" rx="2.33" ry="1.3" fill="#a486b6"/>
<ellipse cx="33.13" cy="226.39" rx="1.98" ry="1.25" fill="#9274a8"/>
<ellipse cx="38.77" cy="227.25" rx="2.04" ry="1.53" fill="#a486b6"/>
<ellipse cx="34.32" cy="136.04" rx="2.32" ry="2" fill="#9a7cae"/>
<ellipse cx="124.21" cy="229.49" rx="2.76" ry="1.4" fill="#a486b6"/>
<ellipse cx="135.56" cy="155.07" rx="2.31" ry="1.52" fill="#a486b6"/>
<ellipse cx="135.55" cy="180.2" rx="2.64" ry="1.47" fill="#a486b6"/>
<ellipse cx="111.48" cy="143.13" rx="2.46" ry="1.67" fill="#a486b6"/>
<ellipse cx="116.48" cy="161.2" rx="1.71" ry="1.63" fill="#9a7cae"/>
<ellipse cx="115.44" cy="176.74" rx="1.99" ry="1.04" fill="#9274a8"/>
<ellipse cx="40.47" cy="142.89" rx="2.21" ry="1.02" fill="#9274a8"/>
<ellipse cx="40.62" cy="182.03" rx="2.78" ry="1.43" fill="#9a7cae"/>
<ellipse cx="36.53" cy="169.52" rx="1.68" ry="2" fill="#9274a8"/>
<ellipse cx="162.33" cy="146.66" rx="2.33" ry="1.12" fill="#9274a8"/>
<ellipse cx="114.17" cy="134.45" rx="2.25" ry="1.24" fill="#a486b6"/>
<ellipse cx="74.06" cy="175.05" rx="2.78" ry="1.63" fill="#a486b6"/>
<ellipse cx="54.86" cy="165.84" rx="1.91" ry="1.68" fill="#9274a8"/>
<ellipse cx="48.04" cy="172.57" rx="1.77" ry="1.36" fill="#9274a8"/>
<ellipse cx="132.59" cy="221.2" rx="2.47" ry="1.68" fill="#a486b6"/>
</g>
</g>
<rect x="30" y="131.3" width="143.5" height="105.7" fill="none" stroke="#000" stroke-width="1.5"/>
<clipPath id="hc4"><rect x="177.8" y="131" width="143.5" height="106"/></clipPath>
<g clip-path="url(#hc4)">
<rect x="177.8" y="131" width="143.5" height="106" fill="#e9ccd9"/>
<ellipse cx="241" cy="170" rx="9" ry="9" fill="#f0e6ea" filter="url(#bl2)"/>
<ellipse cx="310" cy="139" rx="10" ry="8" fill="#f0e8ec" filter="url(#bl2)"/>
<circle cx="253.4" cy="144.6" r="8.5" fill="#e4f6f0" opacity="0.9" filter="url(#bl1)"/>
<circle cx="270.8" cy="142.4" r="9.5" fill="#e8f4f0" opacity="0.85" filter="url(#bl1)"/>
<g filter="url(#blh)">
<circle cx="198.9" cy="161.2" r="19.04" fill="#d9adc2"/>
<circle cx="226" cy="148.7" r="17.5" fill="#d9adc2"/>
<circle cx="192.5" cy="126" r="11.83" fill="#d9adc2"/>
<circle cx="284.4" cy="126" r="12.86" fill="#d9adc2"/>
<circle cx="294" cy="163.5" r="16.46" fill="#d9adc2"/>
<circle cx="268.5" cy="176" r="14.92" fill="#d9adc2"/>
<circle cx="318.5" cy="178" r="13.89" fill="#d9adc2"/>
<circle cx="195.4" cy="194.5" r="14.92" fill="#d9adc2"/>
<circle cx="194" cy="222.5" r="15.95" fill="#d9adc2"/>
<circle cx="226" cy="205.4" r="15.74" fill="#d9adc2"/>
<circle cx="219.5" cy="232.5" r="11.83" fill="#d9adc2"/>
<circle cx="250" cy="219.5" r="15.44" fill="#d9adc2"/>
<circle cx="291.4" cy="200.4" r="16.98" fill="#d9adc2"/>
<circle cx="296" cy="229.8" r="13.89" fill="#d9adc2"/>
<circle cx="318" cy="214" r="11.31" fill="#d9adc2"/>
<circle cx="185" cy="176.9" r="4.8" fill="#d9adc2"/>
<circle cx="270.8" cy="215.6" r="2.2" fill="#d9adc2"/>
<circle cx="256.2" cy="190.9" r="2" fill="#d9adc2"/>
<circle cx="281" cy="222.3" r="2.5" fill="#d9adc2"/>
<circle cx="183" cy="139" r="3.5" fill="#d9adc2"/>
<circle cx="198.9" cy="161.2" r="18.54" fill="#dff8f0"/>
<circle cx="226" cy="148.7" r="17" fill="#dff8f0"/>
<circle cx="192.5" cy="126" r="11.33" fill="#dff8f0"/>
<circle cx="284.4" cy="126" r="12.36" fill="#dff8f0"/>
<circle cx="294" cy="163.5" r="15.96" fill="#dff8f0"/>
<circle cx="268.5" cy="176" r="14.42" fill="#dff8f0"/>
<circle cx="318.5" cy="178" r="13.39" fill="#dff8f0"/>
<circle cx="195.4" cy="194.5" r="14.42" fill="#dff8f0"/>
<circle cx="194" cy="222.5" r="15.45" fill="#dff8f0"/>
<circle cx="226" cy="205.4" r="15.24" fill="#dff8f0"/>
<circle cx="219.5" cy="232.5" r="11.33" fill="#dff8f0"/>
<circle cx="250" cy="219.5" r="14.94" fill="#dff8f0"/>
<circle cx="291.4" cy="200.4" r="16.48" fill="#dff8f0"/>
<circle cx="296" cy="229.8" r="13.39" fill="#dff8f0"/>
<circle cx="318" cy="214" r="10.81" fill="#dff8f0"/>
<circle cx="185" cy="176.9" r="4.3" fill="#dff8f0"/>
<circle cx="270.8" cy="215.6" r="1.7" fill="#dff8f0"/>
<circle cx="256.2" cy="190.9" r="1.5" fill="#dff8f0"/>
<circle cx="281" cy="222.3" r="2" fill="#dff8f0"/>
<circle cx="183" cy="139" r="3" fill="#dff8f0"/>
<ellipse cx="261.3" cy="154.7" rx="1.6" ry="1" fill="#9c6aa8"/>
<ellipse cx="290.5" cy="145.2" rx="1.8" ry="0.9" fill="#9c6aa8"/>
<ellipse cx="254" cy="175" rx="1" ry="1.4" fill="#9c6aa8"/>
<ellipse cx="249.5" cy="157" rx="1.2" ry="1.2" fill="#9c6aa8"/>
<ellipse cx="207.9" cy="209.7" rx="1.3" ry="2" fill="#9c6aa8"/>
<ellipse cx="233" cy="232" rx="1" ry="1.8" fill="#9c6aa8"/>
<ellipse cx="272" cy="194.2" rx="1.5" ry="1" fill="#9c6aa8"/>
<ellipse cx="272" cy="204.3" rx="1" ry="1.4" fill="#9c6aa8"/>
<ellipse cx="253.4" cy="184" rx="1.2" ry="0.9" fill="#9c6aa8"/>
<ellipse cx="240" cy="176" rx="1" ry="0.8" fill="#6a5a8a"/>
</g>
</g>
<rect x="177.8" y="131" width="143.5" height="106" fill="none" stroke="#000" stroke-width="1.5"/>
<line x1="275" y1="230.8" x2="316.2" y2="230.8" stroke="#000" stroke-width="2"/>
<line x1="24.8" y1="132" x2="24.8" y2="236.5" stroke="#000" stroke-width="1.4"/>
<text x="14" y="188.75" font-size="10.7" font-weight="bold" text-anchor="middle" fill="#000" transform="rotate(-90 14 184.4)">Enlarged</text>
<text x="350.8" y="11.8" font-size="16" font-weight="bold" text-anchor="start" fill="#000">b</text>
<rect x="458" y="33.6" width="12.6" height="7.1" fill="#000"/>
<text x="476" y="41.15" font-size="10.7" font-weight="bold" text-anchor="start" fill="#000">WT</text>
<rect x="512" y="33.3" width="13.1" height="7.1" fill="#d0101c"/>
<text x="530.2" y="40.95" font-size="10.7" font-weight="bold" text-anchor="start" fill="#000">EiaKO</text>
<line x1="388.6" y1="49.5" x2="388.6" y2="190.8" stroke="#000" stroke-width="1.8"/>
<line x1="387.7" y1="189.8" x2="631" y2="189.8" stroke="#000" stroke-width="1.8"/>
<line x1="383.4" y1="189.5" x2="388.6" y2="189.5" stroke="#000" stroke-width="1.5"/>
<text x="381.2" y="193.82" font-size="10.6" font-weight="bold" text-anchor="end" fill="#000">0</text>
<line x1="383.4" y1="154.85" x2="388.6" y2="154.85" stroke="#000" stroke-width="1.5"/>
<text x="381.2" y="159.17" font-size="10.6" font-weight="bold" text-anchor="end" fill="#000">10</text>
<line x1="383.4" y1="120.2" x2="388.6" y2="120.2" stroke="#000" stroke-width="1.5"/>
<text x="381.2" y="124.52" font-size="10.6" font-weight="bold" text-anchor="end" fill="#000">20</text>
<line x1="383.4" y1="85.55" x2="388.6" y2="85.55" stroke="#000" stroke-width="1.5"/>
<text x="381.2" y="89.87" font-size="10.6" font-weight="bold" text-anchor="end" fill="#000">30</text>
<line x1="383.4" y1="50.9" x2="388.6" y2="50.9" stroke="#000" stroke-width="1.5"/>
<text x="381.2" y="55.22" font-size="10.6" font-weight="bold" text-anchor="end" fill="#000">40</text>
<rect x="392.9" y="186.73" width="7" height="2.77" fill="#000"/>
<rect x="399.9" y="185.34" width="7.3" height="4.16" fill="#d0101c"/>
<line x1="399.9" y1="189.5" x2="399.9" y2="196.4" stroke="#000" stroke-width="1.6"/>
<text x="402.9" y="203.8" font-size="10.6" font-weight="bold" text-anchor="end" fill="#000" transform="rotate(-45 402.9 203.8)">10</text>
<rect x="414.8" y="155.89" width="7" height="33.61" fill="#000"/>
<rect x="421.8" y="159.7" width="7.3" height="29.8" fill="#d0101c"/>
<line x1="421.8" y1="189.5" x2="421.8" y2="196.4" stroke="#000" stroke-width="1.6"/>
<text x="424.8" y="203.8" font-size="10.6" font-weight="bold" text-anchor="end" fill="#000" transform="rotate(-45 424.8 203.8)">20</text>
<rect x="436.7" y="74.12" width="7" height="115.38" fill="#000"/>
<rect x="443.7" y="147.23" width="7.3" height="42.27" fill="#d0101c"/>
<line x1="443.7" y1="189.5" x2="443.7" y2="196.4" stroke="#000" stroke-width="1.6"/>
<text x="446.7" y="203.8" font-size="10.6" font-weight="bold" text-anchor="end" fill="#000" transform="rotate(-45 446.7 203.8)">50</text>
<rect x="458.6" y="115" width="7" height="74.5" fill="#000"/>
<rect x="465.6" y="151.38" width="7.3" height="38.11" fill="#d0101c"/>
<line x1="465.6" y1="189.5" x2="465.6" y2="196.4" stroke="#000" stroke-width="1.6"/>
<text x="468.6" y="203.8" font-size="10.6" font-weight="bold" text-anchor="end" fill="#000" transform="rotate(-45 468.6 203.8)">100</text>
<rect x="480.5" y="151.73" width="7" height="37.77" fill="#000"/>
<rect x="487.5" y="164.21" width="7.3" height="25.29" fill="#d0101c"/>
<line x1="487.5" y1="189.5" x2="487.5" y2="196.4" stroke="#000" stroke-width="1.6"/>
<text x="490.5" y="203.8" font-size="10.6" font-weight="bold" text-anchor="end" fill="#000" transform="rotate(-45 490.5 203.8)">200</text>
<rect x="502.4" y="164.21" width="7" height="25.29" fill="#000"/>
<rect x="509.4" y="162.13" width="7.3" height="27.37" fill="#d0101c"/>
<line x1="509.4" y1="189.5" x2="509.4" y2="196.4" stroke="#000" stroke-width="1.6"/>
<text x="512.4" y="203.8" font-size="10.6" font-weight="bold" text-anchor="end" fill="#000" transform="rotate(-45 512.4 203.8)">500</text>
<rect x="524.3" y="164.21" width="7" height="25.29" fill="#000"/>
<rect x="531.3" y="149.31" width="7.3" height="40.19" fill="#d0101c"/>
<line x1="531.3" y1="189.5" x2="531.3" y2="196.4" stroke="#000" stroke-width="1.6"/>
<text x="534.3" y="203.8" font-size="10.6" font-weight="bold" text-anchor="end" fill="#000" transform="rotate(-45 534.3 203.8)">1000</text>
<rect x="546.2" y="166.28" width="7" height="23.22" fill="#000"/>
<rect x="553.2" y="92.13" width="7.3" height="97.37" fill="#d0101c"/>
<line x1="553.2" y1="189.5" x2="553.2" y2="196.4" stroke="#000" stroke-width="1.6"/>
<text x="556.2" y="203.8" font-size="10.6" font-weight="bold" text-anchor="end" fill="#000" transform="rotate(-45 556.2 203.8)">2000</text>
<rect x="568.1" y="183.26" width="7" height="6.24" fill="#000"/>
<rect x="575.1" y="153.46" width="7.3" height="36.04" fill="#d0101c"/>
<line x1="575.1" y1="189.5" x2="575.1" y2="196.4" stroke="#000" stroke-width="1.6"/>
<text x="578.1" y="203.8" font-size="10.6" font-weight="bold" text-anchor="end" fill="#000" transform="rotate(-45 578.1 203.8)">3000</text>
<rect x="597" y="183.26" width="7.3" height="6.24" fill="#d0101c"/>
<line x1="597" y1="189.5" x2="597" y2="196.4" stroke="#000" stroke-width="1.6"/>
<text x="600" y="203.8" font-size="10.6" font-weight="bold" text-anchor="end" fill="#000" transform="rotate(-45 600 203.8)">4000</text>
<line x1="618.9" y1="189.5" x2="618.9" y2="196.4" stroke="#000" stroke-width="1.6"/>
<text x="621.9" y="203.8" font-size="10.6" font-weight="bold" text-anchor="end" fill="#000" transform="rotate(-45 621.9 203.8)">5000</text>
<text x="505" y="234.95" font-size="10.7" font-weight="bold" text-anchor="middle" fill="#000">LD size (μm<tspan font-size="7" dy="-4">2</tspan><tspan dy="4">)</tspan></text>
<text x="359.6" y="122.26" font-size="11" font-weight="bold" text-anchor="middle" fill="#000" transform="rotate(-90 359.6 117.8)">Frequency (%)</text>
<text x="1.1" y="259.3" font-size="16" font-weight="bold" text-anchor="start" fill="#000">c</text>
<rect x="80.6" y="261.8" width="13.4" height="7.6" fill="#000"/>
<text x="98.7" y="269.95" font-size="10.7" font-weight="bold" text-anchor="start" fill="#000">WT</text>
<rect x="135.7" y="261.8" width="13.3" height="7.6" fill="#d0101c"/>
<text x="154.2" y="269.95" font-size="10.7" font-weight="bold" text-anchor="start" fill="#000">EiaKO</text>
<line x1="61.8" y1="289" x2="61.8" y2="426.8" stroke="#000" stroke-width="1.6"/>
<line x1="56.3" y1="426.2" x2="121.7" y2="426.2" stroke="#000" stroke-width="1.6"/>
<line x1="56.4" y1="289.7" x2="61.8" y2="289.7" stroke="#000" stroke-width="1.4"/>
<text x="53.3" y="293.8" font-size="10" font-weight="bold" text-anchor="end" fill="#000" transform="translate(53.3 0) scale(1.12 1) translate(-53.3 0)">5000</text>
<line x1="56.4" y1="316.9" x2="61.8" y2="316.9" stroke="#000" stroke-width="1.4"/>
<text x="53.3" y="321" font-size="10" font-weight="bold" text-anchor="end" fill="#000" transform="translate(53.3 0) scale(1.12 1) translate(-53.3 0)">4000</text>
<line x1="56.4" y1="344.2" x2="61.8" y2="344.2" stroke="#000" stroke-width="1.4"/>
<text x="53.3" y="348.3" font-size="10" font-weight="bold" text-anchor="end" fill="#000" transform="translate(53.3 0) scale(1.12 1) translate(-53.3 0)">3000</text>
<line x1="56.4" y1="371.5" x2="61.8" y2="371.5" stroke="#000" stroke-width="1.4"/>
<text x="53.3" y="375.6" font-size="10" font-weight="bold" text-anchor="end" fill="#000" transform="translate(53.3 0) scale(1.12 1) translate(-53.3 0)">2000</text>
<line x1="56.4" y1="399.3" x2="61.8" y2="399.3" stroke="#000" stroke-width="1.4"/>
<text x="53.3" y="403.4" font-size="10" font-weight="bold" text-anchor="end" fill="#000" transform="translate(53.3 0) scale(1.12 1) translate(-53.3 0)">1000</text>
<text x="53.3" y="423.44" font-size="10.4" font-weight="bold" text-anchor="end" fill="#000">0</text>
<rect x="70.1" y="418.9" width="17.1" height="7.3" fill="#000"/>
<rect x="95.7" y="399.9" width="17.2" height="26.3" fill="#d0101c"/>
<circle cx="79.15" cy="423.25" r="0.8" fill="none" stroke="#222" stroke-width="0.45" opacity="0.8"/>
<circle cx="78.45" cy="419.33" r="0.8" fill="none" stroke="#222" stroke-width="0.45" opacity="0.8"/>
<circle cx="79.36" cy="422.79" r="0.8" fill="none" stroke="#222" stroke-width="0.45" opacity="0.8"/>
<circle cx="78.74" cy="425.47" r="0.8" fill="none" stroke="#222" stroke-width="0.45" opacity="0.8"/>
<circle cx="80.76" cy="421.78" r="0.8" fill="none" stroke="#222" stroke-width="0.45" opacity="0.8"/>
<circle cx="76.04" cy="426.22" r="0.8" fill="none" stroke="#222" stroke-width="0.45" opacity="0.8"/>
<circle cx="82.64" cy="426.25" r="0.8" fill="none" stroke="#222" stroke-width="0.45" opacity="0.8"/>
<circle cx="75.52" cy="421.25" r="0.8" fill="none" stroke="#222" stroke-width="0.45" opacity="0.8"/>
<circle cx="80.31" cy="418.85" r="0.8" fill="none" stroke="#222" stroke-width="0.45" opacity="0.8"/>
<circle cx="79.42" cy="421.58" r="0.8" fill="none" stroke="#222" stroke-width="0.45" opacity="0.8"/>
<circle cx="72.61" cy="425.69" r="0.8" fill="none" stroke="#222" stroke-width="0.45" opacity="0.8"/>
<circle cx="74.88" cy="422.62" r="0.8" fill="none" stroke="#222" stroke-width="0.45" opacity="0.8"/>
<circle cx="75.5" cy="425.42" r="0.8" fill="none" stroke="#222" stroke-width="0.45" opacity="0.8"/>
<circle cx="78.11" cy="426.75" r="0.8" fill="none" stroke="#222" stroke-width="0.45" opacity="0.8"/>
<circle cx="81.81" cy="423.35" r="0.8" fill="none" stroke="#222" stroke-width="0.45" opacity="0.8"/>
<circle cx="79.8" cy="422.69" r="0.8" fill="none" stroke="#222" stroke-width="0.45" opacity="0.8"/>
<circle cx="80.02" cy="422.85" r="0.8" fill="none" stroke="#222" stroke-width="0.45" opacity="0.8"/>
<circle cx="76.56" cy="423.21" r="0.8" fill="none" stroke="#222" stroke-width="0.45" opacity="0.8"/>
<circle cx="80.35" cy="418.72" r="0.8" fill="none" stroke="#222" stroke-width="0.45" opacity="0.8"/>
<circle cx="79.68" cy="420.03" r="0.8" fill="none" stroke="#222" stroke-width="0.45" opacity="0.8"/>
<circle cx="75.71" cy="424.38" r="0.8" fill="none" stroke="#222" stroke-width="0.45" opacity="0.8"/>
<circle cx="73.89" cy="424.6" r="0.8" fill="none" stroke="#222" stroke-width="0.45" opacity="0.8"/>
<circle cx="78.01" cy="420.64" r="0.8" fill="none" stroke="#222" stroke-width="0.45" opacity="0.8"/>
<circle cx="78.02" cy="419.98" r="0.8" fill="none" stroke="#222" stroke-width="0.45" opacity="0.8"/>
<circle cx="79.97" cy="419.05" r="0.8" fill="none" stroke="#222" stroke-width="0.45" opacity="0.8"/>
<circle cx="74.54" cy="427" r="0.8" fill="none" stroke="#222" stroke-width="0.45" opacity="0.8"/>
<circle cx="78.47" cy="419.45" r="0.8" fill="none" stroke="#222" stroke-width="0.45" opacity="0.8"/>
<circle cx="78.22" cy="418.87" r="0.8" fill="none" stroke="#222" stroke-width="0.45" opacity="0.8"/>
<circle cx="80.31" cy="426.39" r="0.8" fill="none" stroke="#222" stroke-width="0.45" opacity="0.8"/>
<circle cx="77.26" cy="420.54" r="0.8" fill="none" stroke="#222" stroke-width="0.45" opacity="0.8"/>
<circle cx="76.41" cy="426.28" r="0.8" fill="none" stroke="#222" stroke-width="0.45" opacity="0.8"/>
<circle cx="79.6" cy="419" r="0.8" fill="none" stroke="#222" stroke-width="0.45" opacity="0.8"/>
<circle cx="75.36" cy="426.02" r="0.8" fill="none" stroke="#222" stroke-width="0.45" opacity="0.8"/>
<circle cx="72.91" cy="426.16" r="0.8" fill="none" stroke="#222" stroke-width="0.45" opacity="0.8"/>
<circle cx="76.78" cy="420.39" r="0.8" fill="none" stroke="#222" stroke-width="0.45" opacity="0.8"/>
<circle cx="78.17" cy="422.36" r="0.8" fill="none" stroke="#222" stroke-width="0.45" opacity="0.8"/>
<circle cx="81.38" cy="425.42" r="0.8" fill="none" stroke="#222" stroke-width="0.45" opacity="0.8"/>
<circle cx="80.41" cy="425.91" r="0.8" fill="none" stroke="#222" stroke-width="0.45" opacity="0.8"/>
<circle cx="77.59" cy="426.03" r="0.8" fill="none" stroke="#222" stroke-width="0.45" opacity="0.8"/>
<circle cx="75.89" cy="425.23" r="0.8" fill="none" stroke="#222" stroke-width="0.45" opacity="0.8"/>
<circle cx="79.75" cy="418.95" r="0.8" fill="none" stroke="#222" stroke-width="0.45" opacity="0.8"/>
<circle cx="82.76" cy="424.48" r="0.8" fill="none" stroke="#222" stroke-width="0.45" opacity="0.8"/>
<circle cx="77.35" cy="425.25" r="0.8" fill="none" stroke="#222" stroke-width="0.45" opacity="0.8"/>
<circle cx="79.31" cy="419.91" r="0.8" fill="none" stroke="#222" stroke-width="0.45" opacity="0.8"/>
<circle cx="84.93" cy="426.17" r="0.8" fill="none" stroke="#222" stroke-width="0.45" opacity="0.8"/>
<circle cx="75.76" cy="425.23" r="0.8" fill="none" stroke="#222" stroke-width="0.45" opacity="0.8"/>
<circle cx="77.59" cy="420.59" r="0.8" fill="none" stroke="#222" stroke-width="0.45" opacity="0.8"/>
<circle cx="73.95" cy="424.54" r="0.8" fill="none" stroke="#222" stroke-width="0.45" opacity="0.8"/>
<circle cx="79.68" cy="426.25" r="0.8" fill="none" stroke="#222" stroke-width="0.45" opacity="0.8"/>
<circle cx="79.76" cy="424.98" r="0.8" fill="none" stroke="#222" stroke-width="0.45" opacity="0.8"/>
<circle cx="78.13" cy="423.92" r="0.8" fill="none" stroke="#222" stroke-width="0.45" opacity="0.8"/>
<circle cx="78.54" cy="419.04" r="0.8" fill="none" stroke="#222" stroke-width="0.45" opacity="0.8"/>
<circle cx="81.52" cy="422.23" r="0.8" fill="none" stroke="#222" stroke-width="0.45" opacity="0.8"/>
<circle cx="74.42" cy="425.48" r="0.8" fill="none" stroke="#222" stroke-width="0.45" opacity="0.8"/>
<circle cx="80.02" cy="419.46" r="0.8" fill="none" stroke="#222" stroke-width="0.45" opacity="0.8"/>
<circle cx="78.23" cy="414.51" r="0.8" fill="none" stroke="#222" stroke-width="0.45" opacity="0.8"/>
<circle cx="79.13" cy="394.82" r="0.8" fill="none" stroke="#222" stroke-width="0.45" opacity="0.8"/>
<circle cx="79.14" cy="415.84" r="0.8" fill="none" stroke="#222" stroke-width="0.45" opacity="0.8"/>
<circle cx="78.72" cy="387.03" r="0.8" fill="none" stroke="#222" stroke-width="0.45" opacity="0.8"/>
<circle cx="78.12" cy="408.99" r="0.8" fill="none" stroke="#222" stroke-width="0.45" opacity="0.8"/>
<circle cx="79.16" cy="418.49" r="0.8" fill="none" stroke="#222" stroke-width="0.45" opacity="0.8"/>
<circle cx="78.85" cy="414.8" r="0.8" fill="none" stroke="#222" stroke-width="0.45" opacity="0.8"/>
<circle cx="78.99" cy="414.3" r="0.8" fill="none" stroke="#222" stroke-width="0.45" opacity="0.8"/>
<circle cx="78.35" cy="401.77" r="0.8" fill="none" stroke="#222" stroke-width="0.45" opacity="0.8"/>
<circle cx="78.86" cy="416.31" r="0.8" fill="none" stroke="#222" stroke-width="0.45" opacity="0.8"/>
<circle cx="78.27" cy="418.17" r="0.8" fill="none" stroke="#222" stroke-width="0.45" opacity="0.8"/>
<circle cx="79.02" cy="403.42" r="0.8" fill="none" stroke="#222" stroke-width="0.45" opacity="0.8"/>
<circle cx="78.34" cy="400.95" r="0.8" fill="none" stroke="#222" stroke-width="0.45" opacity="0.8"/>
<circle cx="78.24" cy="384.99" r="0.8" fill="none" stroke="#222" stroke-width="0.45" opacity="0.8"/>
<circle cx="78.32" cy="418.65" r="0.8" fill="none" stroke="#222" stroke-width="0.45" opacity="0.8"/>
<circle cx="78.07" cy="408.08" r="0.8" fill="none" stroke="#222" stroke-width="0.45" opacity="0.8"/>
<circle cx="78.44" cy="416.3" r="0.8" fill="none" stroke="#222" stroke-width="0.45" opacity="0.8"/>
<circle cx="78.16" cy="402.86" r="0.8" fill="none" stroke="#222" stroke-width="0.45" opacity="0.8"/>
<circle cx="79.07" cy="411.08" r="0.8" fill="none" stroke="#222" stroke-width="0.45" opacity="0.8"/>
<circle cx="78.79" cy="381.2" r="0.8" fill="none" stroke="#222" stroke-width="0.45" opacity="0.8"/>
<circle cx="78.7" cy="397.27" r="0.8" fill="none" stroke="#222" stroke-width="0.45" opacity="0.8"/>
<circle cx="78.04" cy="417.03" r="0.8" fill="none" stroke="#222" stroke-width="0.45" opacity="0.8"/>
<circle cx="79.09" cy="418.64" r="0.8" fill="none" stroke="#222" stroke-width="0.45" opacity="0.8"/>
<circle cx="79.16" cy="396.78" r="0.8" fill="none" stroke="#222" stroke-width="0.45" opacity="0.8"/>
<circle cx="78.76" cy="418.62" r="0.8" fill="none" stroke="#222" stroke-width="0.45" opacity="0.8"/>
<circle cx="78.88" cy="406.65" r="0.8" fill="none" stroke="#222" stroke-width="0.45" opacity="0.8"/>
<circle cx="79.2" cy="412.49" r="0.8" fill="none" stroke="#222" stroke-width="0.45" opacity="0.8"/>
<circle cx="78.66" cy="418.09" r="0.8" fill="none" stroke="#222" stroke-width="0.45" opacity="0.8"/>
<circle cx="79.08" cy="394.95" r="0.8" fill="none" stroke="#222" stroke-width="0.45" opacity="0.8"/>
<circle cx="78.84" cy="394.94" r="0.8" fill="none" stroke="#222" stroke-width="0.45" opacity="0.8"/>
<circle cx="79.1" cy="391.98" r="0.8" fill="none" stroke="#222" stroke-width="0.45" opacity="0.8"/>
<circle cx="78.82" cy="411.43" r="0.8" fill="none" stroke="#222" stroke-width="0.45" opacity="0.8"/>
<circle cx="79.05" cy="385.95" r="0.8" fill="none" stroke="#222" stroke-width="0.45" opacity="0.8"/>
<circle cx="78.95" cy="409.15" r="0.8" fill="none" stroke="#222" stroke-width="0.45" opacity="0.8"/>
<circle cx="78.69" cy="388.1" r="0.8" fill="none" stroke="#222" stroke-width="0.45" opacity="0.8"/>
<circle cx="78.46" cy="400.46" r="0.8" fill="none" stroke="#222" stroke-width="0.45" opacity="0.8"/>
<circle cx="78.73" cy="402.39" r="0.8" fill="none" stroke="#222" stroke-width="0.45" opacity="0.8"/>
<circle cx="78.77" cy="418.02" r="0.8" fill="none" stroke="#222" stroke-width="0.45" opacity="0.8"/>
<circle cx="79.06" cy="380.41" r="0.8" fill="none" stroke="#222" stroke-width="0.45" opacity="0.8"/>
<circle cx="78.47" cy="395.4" r="0.8" fill="none" stroke="#222" stroke-width="0.45" opacity="0.8"/>
<circle cx="78.7" cy="395.05" r="0.8" fill="none" stroke="#222" stroke-width="0.45" opacity="0.8"/>
<circle cx="79.01" cy="408.28" r="0.8" fill="none" stroke="#222" stroke-width="0.45" opacity="0.8"/>
<circle cx="78.9" cy="417.97" r="0.8" fill="none" stroke="#222" stroke-width="0.45" opacity="0.8"/>
<circle cx="78.72" cy="418.56" r="0.8" fill="none" stroke="#222" stroke-width="0.45" opacity="0.8"/>
<circle cx="78.28" cy="406.7" r="0.8" fill="none" stroke="#222" stroke-width="0.45" opacity="0.8"/>
<circle cx="78.6" cy="396.91" r="0.8" fill="none" stroke="#222" stroke-width="0.45" opacity="0.8"/>
<circle cx="79.1" cy="400.94" r="0.8" fill="none" stroke="#222" stroke-width="0.45" opacity="0.8"/>
<circle cx="78.01" cy="414.33" r="0.8" fill="none" stroke="#222" stroke-width="0.45" opacity="0.8"/>
<circle cx="78.81" cy="413.03" r="0.8" fill="none" stroke="#222" stroke-width="0.45" opacity="0.8"/>
<circle cx="78.2" cy="415.7" r="0.8" fill="none" stroke="#222" stroke-width="0.45" opacity="0.8"/>
<circle cx="78.79" cy="385.67" r="0.8" fill="none" stroke="#222" stroke-width="0.45" opacity="0.8"/>
<circle cx="79.07" cy="408.22" r="0.8" fill="none" stroke="#222" stroke-width="0.45" opacity="0.8"/>
<circle cx="78.8" cy="412.23" r="0.8" fill="none" stroke="#222" stroke-width="0.45" opacity="0.8"/>
<circle cx="78.52" cy="415.79" r="0.8" fill="none" stroke="#222" stroke-width="0.45" opacity="0.8"/>
<circle cx="79.1" cy="391.29" r="0.8" fill="none" stroke="#222" stroke-width="0.45" opacity="0.8"/>
<circle cx="78.46" cy="387.14" r="0.8" fill="none" stroke="#222" stroke-width="0.45" opacity="0.8"/>
<circle cx="78.38" cy="402.37" r="0.8" fill="none" stroke="#222" stroke-width="0.45" opacity="0.8"/>
<circle cx="78.6" cy="417.11" r="0.8" fill="none" stroke="#222" stroke-width="0.45" opacity="0.8"/>
<circle cx="79.02" cy="389.58" r="0.8" fill="none" stroke="#222" stroke-width="0.45" opacity="0.8"/>
<circle cx="79.14" cy="396.26" r="0.8" fill="none" stroke="#222" stroke-width="0.45" opacity="0.8"/>
<circle cx="78.2" cy="413.75" r="0.8" fill="none" stroke="#222" stroke-width="0.45" opacity="0.8"/>
<circle cx="78.33" cy="407.89" r="0.8" fill="none" stroke="#222" stroke-width="0.45" opacity="0.8"/>
<circle cx="78.5" cy="415.42" r="0.8" fill="none" stroke="#222" stroke-width="0.45" opacity="0.8"/>
<circle cx="78.59" cy="400.42" r="0.8" fill="none" stroke="#222" stroke-width="0.45" opacity="0.8"/>
<circle cx="79.01" cy="412.6" r="0.8" fill="none" stroke="#222" stroke-width="0.45" opacity="0.8"/>
<circle cx="78.54" cy="381.1" r="0.8" fill="none" stroke="#222" stroke-width="0.45" opacity="0.8"/>
<circle cx="78.04" cy="418.1" r="0.8" fill="none" stroke="#222" stroke-width="0.45" opacity="0.8"/>
<circle cx="78.05" cy="387.57" r="0.8" fill="none" stroke="#222" stroke-width="0.45" opacity="0.8"/>
<circle cx="78.68" cy="396.4" r="0.8" fill="none" stroke="#222" stroke-width="0.45" opacity="0.8"/>
<circle cx="78.95" cy="412.79" r="0.8" fill="none" stroke="#222" stroke-width="0.45" opacity="0.8"/>
<circle cx="77.45" cy="374.46" r="0.8" fill="none" stroke="#222" stroke-width="0.45" opacity="0.8"/>
<circle cx="77.73" cy="370.32" r="0.8" fill="none" stroke="#222" stroke-width="0.45" opacity="0.8"/>
<circle cx="78.49" cy="364.79" r="0.8" fill="none" stroke="#222" stroke-width="0.45" opacity="0.8"/>
<circle cx="77.46" cy="359.26" r="0.8" fill="none" stroke="#222" stroke-width="0.45" opacity="0.8"/>
<circle cx="79.39" cy="353.73" r="0.8" fill="none" stroke="#222" stroke-width="0.45" opacity="0.8"/>
<circle cx="77.97" cy="349.58" r="0.8" fill="none" stroke="#222" stroke-width="0.45" opacity="0.8"/>
<circle cx="77.74" cy="344.05" r="0.8" fill="none" stroke="#222" stroke-width="0.45" opacity="0.8"/>
<circle cx="77.51" cy="313.63" r="0.8" fill="none" stroke="#222" stroke-width="0.45" opacity="0.8"/>
<circle cx="103.85" cy="421.78" r="0.8" fill="none" stroke="#222" stroke-width="0.45" opacity="0.8"/>
<circle cx="105.61" cy="421.77" r="0.8" fill="none" stroke="#222" stroke-width="0.45" opacity="0.8"/>
<circle cx="107.19" cy="420.3" r="0.8" fill="none" stroke="#222" stroke-width="0.45" opacity="0.8"/>
<circle cx="101.96" cy="421.32" r="0.8" fill="none" stroke="#222" stroke-width="0.45" opacity="0.8"/>
<circle cx="100.99" cy="423.06" r="0.8" fill="none" stroke="#222" stroke-width="0.45" opacity="0.8"/>
<circle cx="103.86" cy="426.91" r="0.8" fill="none" stroke="#222" stroke-width="0.45" opacity="0.8"/>
<circle cx="101.92" cy="421.08" r="0.8" fill="none" stroke="#222" stroke-width="0.45" opacity="0.8"/>
<circle cx="102.34" cy="424.74" r="0.8" fill="none" stroke="#222" stroke-width="0.45" opacity="0.8"/>
<circle cx="104.46" cy="421.22" r="0.8" fill="none" stroke="#222" stroke-width="0.45" opacity="0.8"/>
<circle cx="106.51" cy="421.9" r="0.8" fill="none" stroke="#222" stroke-width="0.45" opacity="0.8"/>
<circle cx="107.59" cy="423.74" r="0.8" fill="none" stroke="#222" stroke-width="0.45" opacity="0.8"/>
<circle cx="102.18" cy="419.48" r="0.8" fill="none" stroke="#222" stroke-width="0.45" opacity="0.8"/>
<circle cx="105.37" cy="419.26" r="0.8" fill="none" stroke="#222" stroke-width="0.45" opacity="0.8"/>
<circle cx="103.63" cy="425.92" r="0.8" fill="none" stroke="#222" stroke-width="0.45" opacity="0.8"/>
<circle cx="107.78" cy="421.81" r="0.8" fill="none" stroke="#222" stroke-width="0.45" opacity="0.8"/>
<circle cx="105.09" cy="423.87" r="0.8" fill="none" stroke="#222" stroke-width="0.45" opacity="0.8"/>
<circle cx="105.92" cy="419.71" r="0.8" fill="none" stroke="#222" stroke-width="0.45" opacity="0.8"/>
<circle cx="104.13" cy="419.17" r="0.8" fill="none" stroke="#222" stroke-width="0.45" opacity="0.8"/>
<circle cx="101.88" cy="421.6" r="0.8" fill="none" stroke="#222" stroke-width="0.45" opacity="0.8"/>
<circle cx="106.64" cy="421.01" r="0.8" fill="none" stroke="#222" stroke-width="0.45" opacity="0.8"/>
<circle cx="106.11" cy="421.68" r="0.8" fill="none" stroke="#222" stroke-width="0.45" opacity="0.8"/>
<circle cx="109.68" cy="425.23" r="0.8" fill="none" stroke="#222" stroke-width="0.45" opacity="0.8"/>
<circle cx="106.32" cy="418.87" r="0.8" fill="none" stroke="#222" stroke-width="0.45" opacity="0.8"/>
<circle cx="107.08" cy="422.55" r="0.8" fill="none" stroke="#222" stroke-width="0.45" opacity="0.8"/>
<circle cx="109.28" cy="424.34" r="0.8" fill="none" stroke="#222" stroke-width="0.45" opacity="0.8"/>
<circle cx="103.43" cy="419.9" r="0.8" fill="none" stroke="#222" stroke-width="0.45" opacity="0.8"/>
<circle cx="103.41" cy="426.31" r="0.8" fill="none" stroke="#222" stroke-width="0.45" opacity="0.8"/>
<circle cx="106.82" cy="422.44" r="0.8" fill="none" stroke="#222" stroke-width="0.45" opacity="0.8"/>
<circle cx="99.51" cy="422.96" r="0.8" fill="none" stroke="#222" stroke-width="0.45" opacity="0.8"/>
<circle cx="101.56" cy="420.29" r="0.8" fill="none" stroke="#222" stroke-width="0.45" opacity="0.8"/>
<circle cx="102.21" cy="420.37" r="0.8" fill="none" stroke="#222" stroke-width="0.45" opacity="0.8"/>
<circle cx="107.75" cy="424.22" r="0.8" fill="none" stroke="#222" stroke-width="0.45" opacity="0.8"/>
<circle cx="99.27" cy="425.83" r="0.8" fill="none" stroke="#222" stroke-width="0.45" opacity="0.8"/>
<circle cx="106.49" cy="422.72" r="0.8" fill="none" stroke="#222" stroke-width="0.45" opacity="0.8"/>
<circle cx="105.42" cy="420.03" r="0.8" fill="none" stroke="#222" stroke-width="0.45" opacity="0.8"/>
<circle cx="104.27" cy="419.16" r="0.8" fill="none" stroke="#222" stroke-width="0.45" opacity="0.8"/>
<circle cx="102.39" cy="419.13" r="0.8" fill="none" stroke="#222" stroke-width="0.45" opacity="0.8"/>
<circle cx="104.66" cy="425.16" r="0.8" fill="none" stroke="#222" stroke-width="0.45" opacity="0.8"/>
<circle cx="107.16" cy="424.59" r="0.8" fill="none" stroke="#222" stroke-width="0.45" opacity="0.8"/>
<circle cx="104.49" cy="421.7" r="0.8" fill="none" stroke="#222" stroke-width="0.45" opacity="0.8"/>
<circle cx="104.65" cy="420" r="0.8" fill="none" stroke="#222" stroke-width="0.45" opacity="0.8"/>
<circle cx="102.84" cy="424.41" r="0.8" fill="none" stroke="#222" stroke-width="0.45" opacity="0.8"/>
<circle cx="106.65" cy="419.99" r="0.8" fill="none" stroke="#222" stroke-width="0.45" opacity="0.8"/>
<circle cx="109.04" cy="425.27" r="0.8" fill="none" stroke="#222" stroke-width="0.45" opacity="0.8"/>
<circle cx="104.41" cy="418.97" r="0.8" fill="none" stroke="#222" stroke-width="0.45" opacity="0.8"/>
<circle cx="101.57" cy="422.25" r="0.8" fill="none" stroke="#222" stroke-width="0.45" opacity="0.8"/>
<circle cx="104.33" cy="422.55" r="0.8" fill="none" stroke="#222" stroke-width="0.45" opacity="0.8"/>
<circle cx="100.17" cy="421.98" r="0.8" fill="none" stroke="#222" stroke-width="0.45" opacity="0.8"/>
<circle cx="104.37" cy="418.96" r="0.8" fill="none" stroke="#222" stroke-width="0.45" opacity="0.8"/>
<circle cx="107.67" cy="423.68" r="0.8" fill="none" stroke="#222" stroke-width="0.45" opacity="0.8"/>
<circle cx="104.22" cy="422.33" r="0.8" fill="none" stroke="#222" stroke-width="0.45" opacity="0.8"/>
<circle cx="100.95" cy="421.27" r="0.8" fill="none" stroke="#222" stroke-width="0.45" opacity="0.8"/>
<circle cx="103.48" cy="422.53" r="0.8" fill="none" stroke="#222" stroke-width="0.45" opacity="0.8"/>
<circle cx="106.21" cy="419.06" r="0.8" fill="none" stroke="#222" stroke-width="0.45" opacity="0.8"/>
<circle cx="103.96" cy="424.77" r="0.8" fill="none" stroke="#222" stroke-width="0.45" opacity="0.8"/>
<circle cx="103.34" cy="425.95" r="0.8" fill="none" stroke="#222" stroke-width="0.45" opacity="0.8"/>
<circle cx="106.79" cy="420.23" r="0.8" fill="none" stroke="#222" stroke-width="0.45" opacity="0.8"/>
<circle cx="102.42" cy="423.05" r="0.8" fill="none" stroke="#222" stroke-width="0.45" opacity="0.8"/>
<circle cx="105.92" cy="425.41" r="0.8" fill="none" stroke="#222" stroke-width="0.45" opacity="0.8"/>
<circle cx="102.49" cy="419.32" r="0.8" fill="none" stroke="#222" stroke-width="0.45" opacity="0.8"/>
<circle cx="103.63" cy="372.72" r="0.8" fill="none" stroke="#222" stroke-width="0.45" opacity="0.8"/>
<circle cx="103.92" cy="411.16" r="0.8" fill="none" stroke="#222" stroke-width="0.45" opacity="0.8"/>
<circle cx="104.05" cy="379.67" r="0.8" fill="none" stroke="#222" stroke-width="0.45" opacity="0.8"/>
<circle cx="104.47" cy="402.14" r="0.8" fill="none" stroke="#222" stroke-width="0.45" opacity="0.8"/>
<circle cx="104.62" cy="415.31" r="0.8" fill="none" stroke="#222" stroke-width="0.45" opacity="0.8"/>
<circle cx="104.31" cy="414.54" r="0.8" fill="none" stroke="#222" stroke-width="0.45" opacity="0.8"/>
<circle cx="103.88" cy="408.19" r="0.8" fill="none" stroke="#222" stroke-width="0.45" opacity="0.8"/>
<circle cx="104.09" cy="390.82" r="0.8" fill="none" stroke="#222" stroke-width="0.45" opacity="0.8"/>
<circle cx="103.66" cy="400.89" r="0.8" fill="none" stroke="#222" stroke-width="0.45" opacity="0.8"/>
<circle cx="103.14" cy="390.89" r="0.8" fill="none" stroke="#222" stroke-width="0.45" opacity="0.8"/>
<circle cx="104.48" cy="410.64" r="0.8" fill="none" stroke="#222" stroke-width="0.45" opacity="0.8"/>
<circle cx="104.34" cy="383.22" r="0.8" fill="none" stroke="#222" stroke-width="0.45" opacity="0.8"/>
<circle cx="104.46" cy="367.12" r="0.8" fill="none" stroke="#222" stroke-width="0.45" opacity="0.8"/>
<circle cx="103.93" cy="366.69" r="0.8" fill="none" stroke="#222" stroke-width="0.45" opacity="0.8"/>
<circle cx="104.73" cy="375.65" r="0.8" fill="none" stroke="#222" stroke-width="0.45" opacity="0.8"/>
<circle cx="104.04" cy="363.04" r="0.8" fill="none" stroke="#222" stroke-width="0.45" opacity="0.8"/>
<circle cx="104.89" cy="404.54" r="0.8" fill="none" stroke="#222" stroke-width="0.45" opacity="0.8"/>
<circle cx="105" cy="409.92" r="0.8" fill="none" stroke="#222" stroke-width="0.45" opacity="0.8"/>
<circle cx="103.79" cy="364.25" r="0.8" fill="none" stroke="#222" stroke-width="0.45" opacity="0.8"/>
<circle cx="104.62" cy="408.79" r="0.8" fill="none" stroke="#222" stroke-width="0.45" opacity="0.8"/>
<circle cx="103.74" cy="407.69" r="0.8" fill="none" stroke="#222" stroke-width="0.45" opacity="0.8"/>
<circle cx="104.19" cy="368.62" r="0.8" fill="none" stroke="#222" stroke-width="0.45" opacity="0.8"/>
<circle cx="103.78" cy="371.9" r="0.8" fill="none" stroke="#222" stroke-width="0.45" opacity="0.8"/>
<circle cx="105.67" cy="399.21" r="0.8" fill="none" stroke="#222" stroke-width="0.45" opacity="0.8"/>
<circle cx="103.88" cy="418.37" r="0.8" fill="none" stroke="#222" stroke-width="0.45" opacity="0.8"/>
<circle cx="104.88" cy="380.01" r="0.8" fill="none" stroke="#222" stroke-width="0.45" opacity="0.8"/>
<circle cx="103.76" cy="357.71" r="0.8" fill="none" stroke="#222" stroke-width="0.45" opacity="0.8"/>
<circle cx="105.18" cy="392.5" r="0.8" fill="none" stroke="#222" stroke-width="0.45" opacity="0.8"/>
<circle cx="104.93" cy="392.69" r="0.8" fill="none" stroke="#222" stroke-width="0.45" opacity="0.8"/>
<circle cx="103.7" cy="411.41" r="0.8" fill="none" stroke="#222" stroke-width="0.45" opacity="0.8"/>
<circle cx="103.65" cy="415.26" r="0.8" fill="none" stroke="#222" stroke-width="0.45" opacity="0.8"/>
<circle cx="104.35" cy="389.36" r="0.8" fill="none" stroke="#222" stroke-width="0.45" opacity="0.8"/>
<circle cx="103.1" cy="388.17" r="0.8" fill="none" stroke="#222" stroke-width="0.45" opacity="0.8"/>
<circle cx="103.89" cy="411.64" r="0.8" fill="none" stroke="#222" stroke-width="0.45" opacity="0.8"/>
<circle cx="104.99" cy="367.99" r="0.8" fill="none" stroke="#222" stroke-width="0.45" opacity="0.8"/>
<circle cx="103.73" cy="361.09" r="0.8" fill="none" stroke="#222" stroke-width="0.45" opacity="0.8"/>
<circle cx="104.93" cy="416.99" r="0.8" fill="none" stroke="#222" stroke-width="0.45" opacity="0.8"/>
<circle cx="106.26" cy="395.39" r="0.8" fill="none" stroke="#222" stroke-width="0.45" opacity="0.8"/>
<circle cx="104.25" cy="403.84" r="0.8" fill="none" stroke="#222" stroke-width="0.45" opacity="0.8"/>
<circle cx="104.06" cy="391.85" r="0.8" fill="none" stroke="#222" stroke-width="0.45" opacity="0.8"/>
<circle cx="102.65" cy="385.9" r="0.8" fill="none" stroke="#222" stroke-width="0.45" opacity="0.8"/>
<circle cx="104.78" cy="378.63" r="0.8" fill="none" stroke="#222" stroke-width="0.45" opacity="0.8"/>
<circle cx="104.24" cy="411.8" r="0.8" fill="none" stroke="#222" stroke-width="0.45" opacity="0.8"/>
<circle cx="104.17" cy="375.76" r="0.8" fill="none" stroke="#222" stroke-width="0.45" opacity="0.8"/>
<circle cx="103.83" cy="411.1" r="0.8" fill="none" stroke="#222" stroke-width="0.45" opacity="0.8"/>
<circle cx="102.65" cy="392.03" r="0.8" fill="none" stroke="#222" stroke-width="0.45" opacity="0.8"/>
<circle cx="104.72" cy="363.8" r="0.8" fill="none" stroke="#222" stroke-width="0.45" opacity="0.8"/>
<circle cx="104.81" cy="378.36" r="0.8" fill="none" stroke="#222" stroke-width="0.45" opacity="0.8"/>
<circle cx="104.17" cy="383.87" r="0.8" fill="none" stroke="#222" stroke-width="0.45" opacity="0.8"/>
<circle cx="104.31" cy="386" r="0.8" fill="none" stroke="#222" stroke-width="0.45" opacity="0.8"/>
<circle cx="104.73" cy="356.54" r="0.8" fill="none" stroke="#222" stroke-width="0.45" opacity="0.8"/>
<circle cx="104.88" cy="407.76" r="0.8" fill="none" stroke="#222" stroke-width="0.45" opacity="0.8"/>
<circle cx="104.69" cy="375.37" r="0.8" fill="none" stroke="#222" stroke-width="0.45" opacity="0.8"/>
<circle cx="104.17" cy="369.99" r="0.8" fill="none" stroke="#222" stroke-width="0.45" opacity="0.8"/>
<circle cx="104.83" cy="363.53" r="0.8" fill="none" stroke="#222" stroke-width="0.45" opacity="0.8"/>
<circle cx="104.67" cy="379.09" r="0.8" fill="none" stroke="#222" stroke-width="0.45" opacity="0.8"/>
<circle cx="104.17" cy="373.79" r="0.8" fill="none" stroke="#222" stroke-width="0.45" opacity="0.8"/>
<circle cx="103.7" cy="377.02" r="0.8" fill="none" stroke="#222" stroke-width="0.45" opacity="0.8"/>
<circle cx="104.26" cy="402.96" r="0.8" fill="none" stroke="#222" stroke-width="0.45" opacity="0.8"/>
<circle cx="104.1" cy="418.53" r="0.8" fill="none" stroke="#222" stroke-width="0.45" opacity="0.8"/>
<circle cx="104.47" cy="383.2" r="0.8" fill="none" stroke="#222" stroke-width="0.45" opacity="0.8"/>
<circle cx="104.92" cy="409.18" r="0.8" fill="none" stroke="#222" stroke-width="0.45" opacity="0.8"/>
<circle cx="104.07" cy="381.21" r="0.8" fill="none" stroke="#222" stroke-width="0.45" opacity="0.8"/>
<circle cx="104.4" cy="381.67" r="0.8" fill="none" stroke="#222" stroke-width="0.45" opacity="0.8"/>
<circle cx="103.92" cy="390.63" r="0.8" fill="none" stroke="#222" stroke-width="0.45" opacity="0.8"/>
<circle cx="104.5" cy="355.12" r="0.8" fill="none" stroke="#222" stroke-width="0.45" opacity="0.8"/>
<circle cx="104.67" cy="378.61" r="0.8" fill="none" stroke="#222" stroke-width="0.45" opacity="0.8"/>
<circle cx="103.63" cy="356.75" r="0.8" fill="none" stroke="#222" stroke-width="0.45" opacity="0.8"/>
<circle cx="104.63" cy="384.87" r="0.8" fill="none" stroke="#222" stroke-width="0.45" opacity="0.8"/>
<circle cx="104.16" cy="407.85" r="0.8" fill="none" stroke="#222" stroke-width="0.45" opacity="0.8"/>
<circle cx="103.87" cy="417.4" r="0.8" fill="none" stroke="#222" stroke-width="0.45" opacity="0.8"/>
<circle cx="101.33" cy="400.89" r="0.8" fill="none" stroke="#222" stroke-width="0.45" opacity="0.8"/>
<circle cx="104.87" cy="408.17" r="0.8" fill="none" stroke="#222" stroke-width="0.45" opacity="0.8"/>
<circle cx="104.33" cy="389.47" r="0.8" fill="none" stroke="#222" stroke-width="0.45" opacity="0.8"/>
<circle cx="104.4" cy="357.81" r="0.8" fill="none" stroke="#222" stroke-width="0.45" opacity="0.8"/>
<circle cx="104.49" cy="355.51" r="0.8" fill="none" stroke="#222" stroke-width="0.45" opacity="0.8"/>
<circle cx="103.71" cy="370.39" r="0.8" fill="none" stroke="#222" stroke-width="0.45" opacity="0.8"/>
<circle cx="105.18" cy="386.14" r="0.8" fill="none" stroke="#222" stroke-width="0.45" opacity="0.8"/>
<circle cx="104.9" cy="417.57" r="0.8" fill="none" stroke="#222" stroke-width="0.45" opacity="0.8"/>
<circle cx="104.26" cy="412.84" r="0.8" fill="none" stroke="#222" stroke-width="0.45" opacity="0.8"/>
<circle cx="104.29" cy="412.39" r="0.8" fill="none" stroke="#222" stroke-width="0.45" opacity="0.8"/>
<circle cx="103.68" cy="385.17" r="0.8" fill="none" stroke="#222" stroke-width="0.45" opacity="0.8"/>
<circle cx="104.19" cy="359.6" r="0.8" fill="none" stroke="#222" stroke-width="0.45" opacity="0.8"/>
<circle cx="104.63" cy="391.07" r="0.8" fill="none" stroke="#222" stroke-width="0.45" opacity="0.8"/>
<circle cx="102.71" cy="401.51" r="0.8" fill="none" stroke="#222" stroke-width="0.45" opacity="0.8"/>
<circle cx="104.38" cy="382.01" r="0.8" fill="none" stroke="#222" stroke-width="0.45" opacity="0.8"/>
<circle cx="104.6" cy="406.35" r="0.8" fill="none" stroke="#222" stroke-width="0.45" opacity="0.8"/>
<circle cx="103.62" cy="405.64" r="0.8" fill="none" stroke="#222" stroke-width="0.45" opacity="0.8"/>
<circle cx="103.66" cy="408.49" r="0.8" fill="none" stroke="#222" stroke-width="0.45" opacity="0.8"/>
<circle cx="104.66" cy="413" r="0.8" fill="none" stroke="#222" stroke-width="0.45" opacity="0.8"/>
<circle cx="107.24" cy="400.01" r="0.8" fill="none" stroke="#222" stroke-width="0.45" opacity="0.8"/>
<circle cx="103.67" cy="375.08" r="0.8" fill="none" stroke="#222" stroke-width="0.45" opacity="0.8"/>
<circle cx="104.92" cy="356.04" r="0.8" fill="none" stroke="#222" stroke-width="0.45" opacity="0.8"/>
<circle cx="104.87" cy="416.57" r="0.8" fill="none" stroke="#222" stroke-width="0.45" opacity="0.8"/>
<circle cx="104.13" cy="397.51" r="0.8" fill="none" stroke="#222" stroke-width="0.45" opacity="0.8"/>
<circle cx="103.94" cy="357.32" r="0.8" fill="none" stroke="#222" stroke-width="0.45" opacity="0.8"/>
<circle cx="105.79" cy="391.3" r="0.8" fill="none" stroke="#222" stroke-width="0.45" opacity="0.8"/>
<circle cx="104.26" cy="377.01" r="0.8" fill="none" stroke="#222" stroke-width="0.45" opacity="0.8"/>
<circle cx="104.74" cy="356.86" r="0.8" fill="none" stroke="#222" stroke-width="0.45" opacity="0.8"/>
<circle cx="102.99" cy="385.71" r="0.8" fill="none" stroke="#222" stroke-width="0.45" opacity="0.8"/>
<circle cx="104.24" cy="384.24" r="0.8" fill="none" stroke="#222" stroke-width="0.45" opacity="0.8"/>
<circle cx="103.67" cy="410.67" r="0.8" fill="none" stroke="#222" stroke-width="0.45" opacity="0.8"/>
<circle cx="103.02" cy="390.97" r="0.8" fill="none" stroke="#222" stroke-width="0.45" opacity="0.8"/>
<circle cx="105.54" cy="396.65" r="0.8" fill="none" stroke="#222" stroke-width="0.45" opacity="0.8"/>
<circle cx="102.54" cy="395.82" r="0.8" fill="none" stroke="#222" stroke-width="0.45" opacity="0.8"/>
<circle cx="104.03" cy="387.22" r="0.8" fill="none" stroke="#222" stroke-width="0.45" opacity="0.8"/>
<circle cx="104.34" cy="372.82" r="0.8" fill="none" stroke="#222" stroke-width="0.45" opacity="0.8"/>
<circle cx="104.93" cy="355.31" r="0.8" fill="none" stroke="#222" stroke-width="0.45" opacity="0.8"/>
<circle cx="103.93" cy="376.14" r="0.8" fill="none" stroke="#222" stroke-width="0.45" opacity="0.8"/>
<circle cx="104.85" cy="414.93" r="0.8" fill="none" stroke="#222" stroke-width="0.45" opacity="0.8"/>
<circle cx="104.47" cy="372.33" r="0.8" fill="none" stroke="#222" stroke-width="0.45" opacity="0.8"/>
<circle cx="102.61" cy="401.9" r="0.8" fill="none" stroke="#222" stroke-width="0.45" opacity="0.8"/>
<circle cx="104.39" cy="379.81" r="0.8" fill="none" stroke="#222" stroke-width="0.45" opacity="0.8"/>
<circle cx="104.75" cy="386.56" r="0.8" fill="none" stroke="#222" stroke-width="0.45" opacity="0.8"/>
<circle cx="103.87" cy="374.7" r="0.8" fill="none" stroke="#222" stroke-width="0.45" opacity="0.8"/>
<circle cx="104.97" cy="408.27" r="0.8" fill="none" stroke="#222" stroke-width="0.45" opacity="0.8"/>
<circle cx="104.83" cy="361.99" r="0.8" fill="none" stroke="#222" stroke-width="0.45" opacity="0.8"/>
<circle cx="103.69" cy="417.75" r="0.8" fill="none" stroke="#222" stroke-width="0.45" opacity="0.8"/>
<circle cx="104.2" cy="407.06" r="0.8" fill="none" stroke="#222" stroke-width="0.45" opacity="0.8"/>
<circle cx="103.74" cy="384.3" r="0.8" fill="none" stroke="#222" stroke-width="0.45" opacity="0.8"/>
<circle cx="104.4" cy="352.35" r="0.8" fill="none" stroke="#222" stroke-width="0.45" opacity="0.8"/>
<circle cx="103.27" cy="349.58" r="0.8" fill="none" stroke="#222" stroke-width="0.45" opacity="0.8"/>
<circle cx="103.31" cy="345.43" r="0.8" fill="none" stroke="#222" stroke-width="0.45" opacity="0.8"/>
<circle cx="104.72" cy="342.67" r="0.8" fill="none" stroke="#222" stroke-width="0.45" opacity="0.8"/>
<circle cx="104.42" cy="338.52" r="0.8" fill="none" stroke="#222" stroke-width="0.45" opacity="0.8"/>
<circle cx="104.61" cy="335.75" r="0.8" fill="none" stroke="#222" stroke-width="0.45" opacity="0.8"/>
<circle cx="104" cy="328.84" r="0.8" fill="none" stroke="#222" stroke-width="0.45" opacity="0.8"/>
<circle cx="104.25" cy="319.16" r="0.8" fill="none" stroke="#222" stroke-width="0.45" opacity="0.8"/>
<text x="81.4" y="298.58" font-size="6.6" font-weight="normal" text-anchor="start" fill="#222"><tspan font-style="italic">p</tspan>&lt;0.001</text>
<line x1="79.1" y1="301.1" x2="104.9" y2="301.1" stroke="#333" stroke-width="0.9"/>
<text x="19.5" y="355.35" font-size="10.7" font-weight="bold" text-anchor="middle" fill="#000" transform="rotate(-90 19.5 351)">LD size (μm<tspan font-size="7" dy="-4">2</tspan><tspan dy="4">)</tspan></text>
<line x1="181.7" y1="289" x2="181.7" y2="426.8" stroke="#000" stroke-width="1.6"/>
<line x1="178.8" y1="426.2" x2="242" y2="426.2" stroke="#000" stroke-width="1.6"/>
<line x1="176.5" y1="289.7" x2="181.7" y2="289.7" stroke="#000" stroke-width="1.4"/>
<text x="172.2" y="294.3" font-size="10" font-weight="bold" text-anchor="end" fill="#000" transform="translate(172.2 0) scale(1.12 1) translate(-172.2 0)">20</text>
<line x1="176.5" y1="323.9" x2="181.7" y2="323.9" stroke="#000" stroke-width="1.4"/>
<text x="172.2" y="328.7" font-size="10" font-weight="bold" text-anchor="end" fill="#000" transform="translate(172.2 0) scale(1.12 1) translate(-172.2 0)">15</text>
<line x1="176.5" y1="358" x2="181.7" y2="358" stroke="#000" stroke-width="1.4"/>
<text x="172.2" y="362" font-size="10" font-weight="bold" text-anchor="end" fill="#000" transform="translate(172.2 0) scale(1.12 1) translate(-172.2 0)">10</text>
<line x1="176.5" y1="392.2" x2="181.7" y2="392.2" stroke="#000" stroke-width="1.4"/>
<text x="172.2" y="394.5" font-size="10" font-weight="bold" text-anchor="end" fill="#000" transform="translate(172.2 0) scale(1.12 1) translate(-172.2 0)">5</text>
<text x="172.2" y="426.24" font-size="10.4" font-weight="bold" text-anchor="end" fill="#000">0</text>
<rect x="193" y="336.8" width="17.1" height="89.4" fill="#000"/>
<line x1="201.6" y1="336.8" x2="201.6" y2="322.2" stroke="#000" stroke-width="1.3"/>
<line x1="197.2" y1="322.2" x2="206" y2="322.2" stroke="#000" stroke-width="1.3"/>
<rect x="213.5" y="414" width="17.5" height="12.2" fill="#d0101c"/>
<line x1="222.4" y1="414" x2="222.4" y2="411.7" stroke="#d0101c" stroke-width="1.3"/>
<line x1="218.3" y1="411.7" x2="226.6" y2="411.7" stroke="#333" stroke-width="1.3"/>
<text x="201.4" y="308.48" font-size="6.6" font-weight="normal" text-anchor="start" fill="#222"><tspan font-style="italic">p</tspan>=0.002</text>
<line x1="199" y1="311.7" x2="225.3" y2="311.7" stroke="#333" stroke-width="0.9"/>
<text x="150.6" y="357.85" font-size="10.7" font-weight="bold" text-anchor="middle" fill="#000" transform="rotate(-90 150.6 353.5)">LD Number/Nuclei</text>
<text x="251.4" y="259.3" font-size="16" font-weight="bold" text-anchor="start" fill="#000">d</text>
<text x="272.1" y="273.21" font-size="7.8" font-weight="bold" text-anchor="start" fill="#000">kD</text>
<text x="323" y="271.15" font-size="10.7" font-weight="bold" text-anchor="middle" fill="#000">WT</text>
<text x="378.3" y="271.15" font-size="10.7" font-weight="bold" text-anchor="middle" fill="#000">EiaKO</text>
<line x1="296" y1="274.8" x2="349.2" y2="274.8" stroke="#3a3a3a" stroke-width="1.3"/>
<line x1="352.8" y1="274.8" x2="405.4" y2="274.8" stroke="#3a3a3a" stroke-width="1.3"/>
<text x="281.3" y="284.65" font-size="8.2" font-weight="bold" text-anchor="end" fill="#000">60</text>
<line x1="283.8" y1="281.8" x2="288.5" y2="281.8" stroke="#000" stroke-width="1.1"/>
<text x="281.3" y="322.25" font-size="8.2" font-weight="bold" text-anchor="end" fill="#000">75</text>
<line x1="283.8" y1="319.4" x2="288.5" y2="319.4" stroke="#000" stroke-width="1.1"/>
<text x="281.3" y="348.85" font-size="8.2" font-weight="bold" text-anchor="end" fill="#000">75</text>
<line x1="283.8" y1="346" x2="288.5" y2="346" stroke="#000" stroke-width="1.1"/>
<text x="281.3" y="374.85" font-size="8.2" font-weight="bold" text-anchor="end" fill="#000">75</text>
<line x1="283.8" y1="372" x2="288.5" y2="372" stroke="#000" stroke-width="1.1"/>
<text x="281.3" y="404.35" font-size="8.2" font-weight="bold" text-anchor="end" fill="#000">60</text>
<line x1="283.8" y1="401.5" x2="288.5" y2="401.5" stroke="#000" stroke-width="1.1"/>
<text x="281.3" y="436.35" font-size="8.2" font-weight="bold" text-anchor="end" fill="#000">60</text>
<line x1="283.8" y1="433.5" x2="288.5" y2="433.5" stroke="#000" stroke-width="1.1"/>
<clipPath id="hc5"><rect x="288.5" y="279.6" width="121.5" height="22.5"/></clipPath>
<g clip-path="url(#hc5)">
<rect x="288.5" y="279.6" width="121.5" height="22.5" fill="#ececec"/>
<rect x="292.35" y="287.2" width="16.5" height="4.2" rx="2.1" fill="#6a6a6a" filter="url(#bl1)"/>
<rect x="311.15" y="287.2" width="16.5" height="5.2" rx="2.6" fill="#3a3a3a" filter="url(#bl1)"/>
<rect x="330.35" y="286.7" width="17.5" height="5.2" rx="2.6" fill="#2a2a2a" filter="url(#bl1)"/>
<rect x="347.45" y="286.55" width="19.5" height="6.5" rx="3.25" fill="#000" filter="url(#bl1)"/>
<rect x="367.25" y="286.55" width="18.5" height="6.5" rx="3.25" fill="#000" filter="url(#bl1)"/>
<rect x="385.75" y="285.05" width="21.5" height="8.5" rx="4.25" fill="#000" filter="url(#bl1)"/>
</g>
<rect x="288.5" y="279.6" width="121.5" height="22.5" fill="none" stroke="#000" stroke-width="1.4"/>
<clipPath id="hc6"><rect x="288.5" y="307.3" width="121.5" height="21.8"/></clipPath>
<g clip-path="url(#hc6)">
<rect x="288.5" y="307.3" width="121.5" height="21.8" fill="#e3e3e3"/>
<rect x="292.1" y="317.2" width="17" height="3.6" rx="1.8" fill="#000" filter="url(#bl07)"/>
<rect x="312.4" y="318" width="14" height="2.6" rx="1.3" fill="#1a1a1a" filter="url(#bl07)"/>
<rect x="332.1" y="318" width="14" height="2.6" rx="1.3" fill="#141414" filter="url(#bl07)"/>
<rect x="349.2" y="317.1" width="16" height="3" rx="1.5" fill="#000" filter="url(#bl07)"/>
<rect x="368.5" y="316.7" width="16" height="3" rx="1.5" fill="#000" filter="url(#bl07)"/>
<rect x="388.5" y="315.5" width="16" height="3" rx="1.5" fill="#000" filter="url(#bl07)"/>
<ellipse cx="296.4" cy="313" rx="0.6" ry="0.6" fill="#666" filter="url(#bl05)"/>
<ellipse cx="330.5" cy="312.4" rx="0.8" ry="0.8" fill="#333" filter="url(#bl05)"/>
</g>
<rect x="288.5" y="307.3" width="121.5" height="21.8" fill="none" stroke="#000" stroke-width="1.4"/>
<clipPath id="hc7"><rect x="288.5" y="333.4" width="121.5" height="20.8"/></clipPath>
<g clip-path="url(#hc7)">
<rect x="288.5" y="333.4" width="121.5" height="20.8" fill="#d4d4d4"/>
<rect x="308.25" y="330.4" width="3.5" height="26.8" fill="#e4e4e4" filter="url(#bl1)"/>
<rect x="327.25" y="330.4" width="3.5" height="26.8" fill="#e4e4e4" filter="url(#bl1)"/>
<rect x="346.75" y="330.4" width="3.5" height="26.8" fill="#e4e4e4" filter="url(#bl1)"/>
<rect x="365.25" y="330.4" width="3.5" height="26.8" fill="#e4e4e4" filter="url(#bl1)"/>
<rect x="385.25" y="330.4" width="3.5" height="26.8" fill="#e4e4e4" filter="url(#bl1)"/>
<rect x="292.6" y="342.1" width="16" height="3.2" rx="1.6" fill="#000" filter="url(#bl07)"/>
<rect x="312.4" y="342.7" width="14" height="2.6" rx="1.3" fill="#2a2a2a" filter="url(#bl07)"/>
<rect x="332.1" y="342.35" width="14" height="2.7" rx="1.35" fill="#1a1a1a" filter="url(#bl07)"/>
<rect x="351.2" y="342.95" width="12" height="1.9" rx="0.95" fill="#8a8a8a" filter="url(#bl07)"/>
<rect x="368.5" y="341.9" width="16" height="3.2" rx="1.6" fill="#050505" filter="url(#bl07)"/>
<rect x="389.5" y="342.2" width="14" height="2.6" rx="1.3" fill="#2a2a2a" filter="url(#bl07)"/>
</g>
<rect x="288.5" y="333.4" width="121.5" height="20.8" fill="none" stroke="#000" stroke-width="1.4"/>
<clipPath id="hc8"><rect x="288.5" y="359.2" width="121.5" height="22"/></clipPath>
<g clip-path="url(#hc8)">
<rect x="288.5" y="359.2" width="121.5" height="22" fill="#cdcdcd"/>
<rect x="308" y="356.2" width="4" height="28" fill="#e8e8e8" filter="url(#bl1)"/>
<rect x="327" y="356.2" width="4" height="28" fill="#e8e8e8" filter="url(#bl1)"/>
<rect x="346.5" y="356.2" width="4" height="28" fill="#e8e8e8" filter="url(#bl1)"/>
<rect x="365" y="356.2" width="4" height="28" fill="#e8e8e8" filter="url(#bl1)"/>
<rect x="385" y="356.2" width="4" height="28" fill="#e8e8e8" filter="url(#bl1)"/>
<rect x="292.6" y="366.8" width="16" height="2.2" rx="1.1" fill="#4a4a4a" filter="url(#bl07)"/>
<rect x="311.9" y="366.9" width="15" height="2" rx="1" fill="#666" filter="url(#bl07)"/>
<rect x="331.6" y="366.9" width="15" height="2" rx="1" fill="#666" filter="url(#bl07)"/>
<rect x="349.7" y="366.9" width="15" height="2" rx="1" fill="#6a6a6a" filter="url(#bl07)"/>
<rect x="369" y="366.8" width="15" height="2.2" rx="1.1" fill="#555" filter="url(#bl07)"/>
<rect x="388.5" y="366.8" width="16" height="2.2" rx="1.1" fill="#4a4a4a" filter="url(#bl07)"/>
<rect x="292.1" y="370" width="17" height="2.8" rx="1.4" fill="#000" filter="url(#bl07)"/>
<rect x="311.4" y="370.1" width="16" height="2.6" rx="1.3" fill="#050505" filter="url(#bl07)"/>
<rect x="331.1" y="370.1" width="16" height="2.6" rx="1.3" fill="#050505" filter="url(#bl07)"/>
<rect x="349.2" y="370.1" width="16" height="2.6" rx="1.3" fill="#050505" filter="url(#bl07)"/>
<rect x="368.5" y="370" width="16" height="2.8" rx="1.4" fill="#000" filter="url(#bl07)"/>
<rect x="388" y="370" width="17" height="2.8" rx="1.4" fill="#000" filter="url(#bl07)"/>
</g>
<rect x="288.5" y="359.2" width="121.5" height="22" fill="none" stroke="#000" stroke-width="1.4"/>
<clipPath id="hc9"><rect x="288.5" y="385.4" width="121.5" height="23.7"/></clipPath>
<g clip-path="url(#hc9)">
<rect x="288.5" y="385.4" width="121.5" height="23.7" fill="#ebebeb"/>
<rect x="293.6" y="394.9" width="14" height="3" rx="1.5" fill="#555" filter="url(#bl07)"/>
<rect x="310.9" y="394.75" width="19" height="6.9" rx="3.45" fill="#000" filter="url(#bl07)"/>
<rect x="331.1" y="398.2" width="16" height="3.8" rx="1.9" fill="#222" filter="url(#bl07)"/>
<rect x="349.2" y="398.2" width="16" height="3.8" rx="1.9" fill="#222" filter="url(#bl07)"/>
<rect x="368" y="398.3" width="17" height="4" rx="2" fill="#1a1a1a" filter="url(#bl07)"/>
<rect x="387.5" y="398.3" width="18" height="4" rx="2" fill="#1a1a1a" filter="url(#bl07)"/>
<rect x="293.6" y="407.2" width="14" height="1.6" rx="0.8" fill="#aaa" filter="url(#bl07)"/>
<rect x="332.1" y="407.2" width="14" height="1.6" rx="0.8" fill="#bbb" filter="url(#bl07)"/>
</g>
<rect x="288.5" y="385.4" width="121.5" height="23.7" fill="none" stroke="#000" stroke-width="1.4"/>
<clipPath id="hc10"><rect x="288.5" y="413.4" width="121.5" height="24.1"/></clipPath>
<g clip-path="url(#hc10)">
<rect x="288.5" y="413.4" width="121.5" height="24.1" fill="#d0d0d0"/>
<rect x="293.1" y="424.2" width="15" height="4" rx="2" fill="#111" filter="url(#bl07)"/>
<rect x="313.4" y="424.9" width="12" height="3" rx="1.5" fill="#333" filter="url(#bl07)"/>
<rect x="331.1" y="423.9" width="16" height="4.6" rx="2.3" fill="#050505" filter="url(#bl07)"/>
<rect x="349.2" y="423.9" width="16" height="4.6" rx="2.3" fill="#050505" filter="url(#bl07)"/>
<rect x="368" y="423.7" width="17" height="5" rx="2.5" fill="#000" filter="url(#bl07)"/>
<rect x="387.5" y="423.6" width="18" height="5.2" rx="2.6" fill="#000" filter="url(#bl07)"/>
</g>
<rect x="288.5" y="413.4" width="121.5" height="24.1" fill="none" stroke="#000" stroke-width="1.4"/>
<text x="414.8" y="294.65" font-size="10.7" font-weight="bold" text-anchor="start" fill="#000">ATGL</text>
<text x="414.8" y="314.35" font-size="10.7" font-weight="bold" text-anchor="start" fill="#000">p-HSL</text>
<text x="414.8" y="326.35" font-size="10.7" font-weight="bold" text-anchor="start" fill="#000">(S660)</text>
<text x="414.8" y="343.25" font-size="10.7" font-weight="bold" text-anchor="start" fill="#000">p-HSL</text>
<text x="414.8" y="355.65" font-size="10.7" font-weight="bold" text-anchor="start" fill="#000">(S563)</text>
<text x="414.8" y="374.75" font-size="10.7" font-weight="bold" text-anchor="start" fill="#000">HSL</text>
<text x="414.8" y="401.25" font-size="10.7" font-weight="bold" text-anchor="start" fill="#000">PLIN1</text>
<text x="414.8" y="428.75" font-size="10.7" font-weight="bold" text-anchor="start" fill="#000">CPT1A</text>
<line x1="268.8" y1="279.3" x2="268.8" y2="380.8" stroke="#000" stroke-width="1.2"/>
<text x="259" y="334.52" font-size="10.6" font-weight="bold" text-anchor="middle" fill="#000" transform="rotate(-90 259 330.2)">Lipolysis</text>
<text x="448.4" y="259.3" font-size="16" font-weight="bold" text-anchor="start" fill="#000">e</text>
<text x="484.2" y="273.21" font-size="7.8" font-weight="bold" text-anchor="start" fill="#000">kD</text>
<text x="527.5" y="271.35" font-size="10.7" font-weight="bold" text-anchor="middle" fill="#000">WT</text>
<text x="584.5" y="271.35" font-size="10.7" font-weight="bold" text-anchor="middle" fill="#000">EiaKO</text>
<line x1="501" y1="275.2" x2="554" y2="275.2" stroke="#3a3a3a" stroke-width="1.3"/>
<line x1="557.2" y1="275.2" x2="610.8" y2="275.2" stroke="#3a3a3a" stroke-width="1.3"/>
<text x="489.5" y="284.65" font-size="8.2" font-weight="bold" text-anchor="end" fill="#000">35</text>
<line x1="492" y1="281.8" x2="496.4" y2="281.8" stroke="#000" stroke-width="1.1"/>
<text x="489.5" y="315.85" font-size="8.2" font-weight="bold" text-anchor="end" fill="#000">60</text>
<line x1="492" y1="313" x2="496.4" y2="313" stroke="#000" stroke-width="1.1"/>
<text x="489.5" y="349.25" font-size="8.2" font-weight="bold" text-anchor="end" fill="#000">15</text>
<line x1="492" y1="346.4" x2="496.4" y2="346.4" stroke="#000" stroke-width="1.1"/>
<text x="489.5" y="383.25" font-size="8.2" font-weight="bold" text-anchor="end" fill="#000">245</text>
<line x1="492" y1="380.4" x2="496.4" y2="380.4" stroke="#000" stroke-width="1.1"/>
<text x="489.5" y="408.05" font-size="8.2" font-weight="bold" text-anchor="end" fill="#000">245</text>
<line x1="492" y1="405.2" x2="496.4" y2="405.2" stroke="#000" stroke-width="1.1"/>
<text x="489.5" y="424.05" font-size="8.2" font-weight="bold" text-anchor="end" fill="#000">45</text>
<line x1="492" y1="421.2" x2="496.4" y2="421.2" stroke="#000" stroke-width="1.1"/>
<clipPath id="hc11"><rect x="496.4" y="279.2" width="121.1" height="23.3"/></clipPath>
<g clip-path="url(#hc11)">
<rect x="496.4" y="279.2" width="121.1" height="23.3" fill="#ededed"/>
<rect x="501.5" y="289.8" width="17" height="5.4" rx="2.7" fill="#000" filter="url(#bl07)"/>
<rect x="519.7" y="288.85" width="19" height="6.9" rx="3.45" fill="#000" filter="url(#bl07)"/>
<rect x="538.9" y="289.1" width="17" height="6.4" rx="3.2" fill="#000" filter="url(#bl07)"/>
<rect x="560" y="291.4" width="12" height="2.4" rx="1.2" fill="#bbb" filter="url(#bl07)"/>
<rect x="579" y="291.6" width="12" height="2" rx="1" fill="#d8d8d8" filter="url(#bl07)"/>
<rect x="598" y="291.6" width="12" height="2" rx="1" fill="#dedede" filter="url(#bl07)"/>
</g>
<rect x="496.4" y="279.2" width="121.1" height="23.3" fill="none" stroke="#000" stroke-width="1.4"/>
<clipPath id="hc12"><rect x="496.4" y="306.3" width="121.1" height="23.3"/></clipPath>
<g clip-path="url(#hc12)">
<rect x="496.4" y="306.3" width="121.1" height="23.3" fill="#e8e8e8"/>
<rect x="503" y="313.2" width="14" height="2.6" rx="1.3" fill="#aaa" filter="url(#bl07)"/>
<rect x="521.7" y="313" width="15" height="3" rx="1.5" fill="#555" filter="url(#bl07)"/>
<rect x="539.9" y="313" width="15" height="3" rx="1.5" fill="#555" filter="url(#bl07)"/>
<rect x="558.5" y="313.5" width="15" height="2.6" rx="1.3" fill="#888" filter="url(#bl07)"/>
<rect x="577.5" y="313.5" width="15" height="2.6" rx="1.3" fill="#888" filter="url(#bl07)"/>
<rect x="595.5" y="313.1" width="17" height="2.8" rx="1.4" fill="#666" filter="url(#bl07)"/>
<rect x="502.5" y="318.7" width="15" height="3" rx="1.5" fill="#888" filter="url(#bl07)"/>
<rect x="520.7" y="318.2" width="17" height="4" rx="2" fill="#1a1a1a" filter="url(#bl07)"/>
<rect x="539.4" y="318.2" width="16" height="4" rx="2" fill="#1a1a1a" filter="url(#bl07)"/>
<rect x="557.5" y="318.2" width="17" height="4" rx="2" fill="#1a1a1a" filter="url(#bl07)"/>
<rect x="577" y="318.3" width="16" height="3.8" rx="1.9" fill="#222" filter="url(#bl07)"/>
<rect x="595" y="318" width="18" height="4" rx="2" fill="#1a1a1a" filter="url(#bl07)"/>
<rect x="561" y="322.6" width="14" height="2" rx="1" fill="#999" filter="url(#bl07)"/>
<rect x="597" y="322.6" width="14" height="2" rx="1" fill="#999" filter="url(#bl07)"/>
</g>
<rect x="496.4" y="306.3" width="121.1" height="23.3" fill="none" stroke="#000" stroke-width="1.4"/>
<clipPath id="hc13"><rect x="496.4" y="332.9" width="121.1" height="23.5"/></clipPath>
<g clip-path="url(#hc13)">
<rect x="496.4" y="332.9" width="121.1" height="23.5" fill="#e6e6e6"/>
<rect x="503" y="343.7" width="14" height="2.2" rx="1.1" fill="#888" filter="url(#bl07)"/>
<rect x="521.2" y="342.8" width="16" height="3.4" rx="1.7" fill="#333" filter="url(#bl07)"/>
<rect x="539.9" y="343.1" width="15" height="3" rx="1.5" fill="#555" filter="url(#bl07)"/>
<rect x="557.5" y="343" width="17" height="3.6" rx="1.8" fill="#222" filter="url(#bl07)"/>
<rect x="577" y="342.9" width="16" height="3.4" rx="1.7" fill="#333" filter="url(#bl07)"/>
<rect x="595.5" y="341.4" width="17" height="4.4" rx="2.2" fill="#111" filter="url(#bl07)"/>
</g>
<rect x="496.4" y="332.9" width="121.1" height="23.5" fill="none" stroke="#000" stroke-width="1.4"/>
<clipPath id="hc14"><rect x="496.4" y="360.3" width="121.1" height="23.2"/></clipPath>
<g clip-path="url(#hc14)">
<rect x="496.4" y="360.3" width="121.1" height="23.2" fill="#e6e6e6"/>
<rect x="501.5" y="357" width="17" height="15" fill="#999" filter="url(#bl2)" opacity="0.55"/>
<rect x="502.5" y="374" width="15" height="12" fill="#bbb" filter="url(#bl2)" opacity="0.35"/>
<rect x="520.7" y="357" width="17" height="15" fill="#999" filter="url(#bl2)" opacity="0.45"/>
<rect x="521.7" y="374" width="15" height="12" fill="#bbb" filter="url(#bl2)" opacity="0.35"/>
<rect x="538.9" y="357" width="17" height="15" fill="#999" filter="url(#bl2)" opacity="0.7"/>
<rect x="539.9" y="374" width="15" height="12" fill="#bbb" filter="url(#bl2)" opacity="0.35"/>
<rect x="557.5" y="357" width="17" height="15" fill="#999" filter="url(#bl2)" opacity="0.35"/>
<rect x="558.5" y="374" width="15" height="12" fill="#bbb" filter="url(#bl2)" opacity="0.35"/>
<rect x="576.5" y="357" width="17" height="15" fill="#999" filter="url(#bl2)" opacity="0.4"/>
<rect x="577.5" y="374" width="15" height="12" fill="#bbb" filter="url(#bl2)" opacity="0.35"/>
<rect x="595.5" y="357" width="17" height="15" fill="#999" filter="url(#bl2)" opacity="0.6"/>
<rect x="596.5" y="374" width="15" height="12" fill="#bbb" filter="url(#bl2)" opacity="0.35"/>
<rect x="500.75" y="367.85" width="18.5" height="9.5" rx="3" fill="#000" filter="url(#bl1)"/>
<rect x="519.95" y="367.6" width="18.5" height="10" rx="3" fill="#000" filter="url(#bl1)"/>
<rect x="537.65" y="366.15" width="19.5" height="12.5" rx="3.5" fill="#000" filter="url(#bl1)"/>
<rect x="556.75" y="367.75" width="18.5" height="8.5" rx="3" fill="#000" filter="url(#bl1)"/>
<rect x="575.75" y="367.5" width="18.5" height="9" rx="3" fill="#000" filter="url(#bl1)"/>
<rect x="594.25" y="365.85" width="19.5" height="11.5" rx="3.5" fill="#000" filter="url(#bl1)"/>
</g>
<rect x="496.4" y="360.3" width="121.1" height="23.2" fill="none" stroke="#000" stroke-width="1.4"/>
<clipPath id="hc15"><rect x="496.4" y="387.3" width="121.1" height="24.1"/></clipPath>
<g clip-path="url(#hc15)">
<rect x="496.4" y="387.3" width="121.1" height="24.1" fill="#d2d2d2"/>
<rect x="517.75" y="384.3" width="3.5" height="30.1" fill="#ebebeb" filter="url(#bl1)"/>
<rect x="536.75" y="384.3" width="3.5" height="30.1" fill="#ebebeb" filter="url(#bl1)"/>
<rect x="554.75" y="384.3" width="3.5" height="30.1" fill="#ebebeb" filter="url(#bl1)"/>
<rect x="573.75" y="384.3" width="3.5" height="30.1" fill="#ebebeb" filter="url(#bl1)"/>
<rect x="592.75" y="384.3" width="3.5" height="30.1" fill="#ebebeb" filter="url(#bl1)"/>
<rect x="503" y="399.3" width="14" height="3.2" rx="1.6" fill="#2a2a2a" filter="url(#bl07)"/>
<rect x="520.7" y="397.9" width="17" height="4.6" rx="2.3" fill="#000" filter="url(#bl07)"/>
<rect x="539.4" y="398.1" width="16" height="4.2" rx="2.1" fill="#050505" filter="url(#bl07)"/>
<rect x="558" y="398.3" width="16" height="3.8" rx="1.9" fill="#0a0a0a" filter="url(#bl07)"/>
<rect x="577" y="398.3" width="16" height="3.8" rx="1.9" fill="#0a0a0a" filter="url(#bl07)"/>
<rect x="596" y="398.1" width="16" height="4.2" rx="2.1" fill="#050505" filter="url(#bl07)"/>
</g>
<rect x="496.4" y="387.3" width="121.1" height="24.1" fill="none" stroke="#000" stroke-width="1.4"/>
<clipPath id="hc16"><rect x="496.4" y="414.8" width="121.1" height="22.7"/></clipPath>
<g clip-path="url(#hc16)">
<rect x="496.4" y="414.8" width="121.1" height="22.7" fill="#e3e3e3"/>
<rect x="501" y="420.6" width="18" height="5.4" rx="2.7" fill="#000" filter="url(#bl07)"/>
<rect x="520.2" y="420.8" width="18" height="5.4" rx="2.7" fill="#000" filter="url(#bl07)"/>
<rect x="538.4" y="420.8" width="18" height="5.4" rx="2.7" fill="#000" filter="url(#bl07)"/>
<rect x="557" y="421.8" width="18" height="5.6" rx="2.8" fill="#000" filter="url(#bl07)"/>
<rect x="576.5" y="422.1" width="17" height="5" rx="2.5" fill="#0a0a0a" filter="url(#bl07)"/>
<rect x="594.5" y="421.3" width="19" height="5.8" rx="2.9" fill="#000" filter="url(#bl07)"/>
</g>
<rect x="496.4" y="414.8" width="121.1" height="22.7" fill="none" stroke="#000" stroke-width="1.4"/>
<text x="621.7" y="295.35" font-size="10.7" font-weight="bold" text-anchor="start" fill="#000">Ei24</text>
<text x="621.7" y="322.25" font-size="10.7" font-weight="bold" text-anchor="start" fill="#000">PPARγ</text>
<text x="621.7" y="348.25" font-size="10.7" font-weight="bold" text-anchor="start" fill="#000">FABP4</text>
<text x="621.7" y="374.85" font-size="10.7" font-weight="bold" text-anchor="start" fill="#000">ACC1</text>
<text x="621.7" y="401.15" font-size="10.7" font-weight="bold" text-anchor="start" fill="#000">FASN</text>
<text x="621.7" y="429.05" font-size="10.7" font-weight="bold" text-anchor="start" fill="#000">Actin</text>
<line x1="473.4" y1="334.7" x2="473.4" y2="413.2" stroke="#000" stroke-width="1.2"/>
<text x="463" y="378.32" font-size="10.6" font-weight="bold" text-anchor="middle" fill="#000" transform="rotate(-90 463 374)">Lipogenesis</text>
<text x="-0.5" y="461.7" font-size="16" font-weight="bold" text-anchor="start" fill="#000">f</text>
<line x1="151.9" y1="468.7" x2="165.9" y2="468.7" stroke="#000" stroke-width="1.3"/>
<circle cx="158.9" cy="468.7" r="2.2" fill="#000"/>
<text x="174" y="472.93" font-size="9.8" font-weight="normal" text-anchor="start" fill="#111">WT</text>
<line x1="200.4" y1="468.7" x2="213.9" y2="468.7" stroke="#d0101c" stroke-width="1.3"/>
<rect x="205" y="466.6" width="4.2" height="4.2" fill="#d0101c"/>
<text x="221.8" y="472.93" font-size="9.8" font-weight="normal" text-anchor="start" fill="#111">EiaKO</text>
<line x1="33.7" y1="505" x2="33.7" y2="614.9" stroke="#000" stroke-width="1.3"/>
<line x1="33.1" y1="614.3" x2="186" y2="614.3" stroke="#000" stroke-width="1.3"/>
<line x1="29.3" y1="505.6" x2="33.7" y2="505.6" stroke="#000" stroke-width="1.2"/>
<text x="27.7" y="509.06" font-size="8.5" font-weight="bold" text-anchor="end" fill="#000">500</text>
<line x1="29.3" y1="536.7" x2="33.7" y2="536.7" stroke="#000" stroke-width="1.2"/>
<text x="27.7" y="540.16" font-size="8.5" font-weight="bold" text-anchor="end" fill="#000">400</text>
<line x1="29.3" y1="567.7" x2="33.7" y2="567.7" stroke="#000" stroke-width="1.2"/>
<text x="27.7" y="571.16" font-size="8.5" font-weight="bold" text-anchor="end" fill="#000">300</text>
<line x1="29.3" y1="598.9" x2="33.7" y2="598.9" stroke="#000" stroke-width="1.2"/>
<text x="27.7" y="602.36" font-size="8.5" font-weight="bold" text-anchor="end" fill="#000">200</text>
<line x1="64.2" y1="614.3" x2="64.2" y2="618.7" stroke="#000" stroke-width="1.2"/>
<text x="64.2" y="628.46" font-size="8.5" font-weight="bold" text-anchor="middle" fill="#000">0</text>
<line x1="110" y1="614.3" x2="110" y2="618.7" stroke="#000" stroke-width="1.2"/>
<text x="110" y="628.46" font-size="8.5" font-weight="bold" text-anchor="middle" fill="#000">30</text>
<line x1="155.8" y1="614.3" x2="155.8" y2="618.7" stroke="#000" stroke-width="1.2"/>
<text x="155.8" y="628.46" font-size="8.5" font-weight="bold" text-anchor="middle" fill="#000">60</text>
<text x="110" y="639.18" font-size="9.4" font-weight="bold" text-anchor="middle" fill="#000">Time (min)</text>
<text x="110" y="492.04" font-size="10.4" font-weight="bold" text-anchor="middle" fill="#000">Triglyceride</text>
<text x="5" y="563.65" font-size="9.3" font-weight="bold" text-anchor="middle" fill="#000" transform="rotate(-90 5 559.8)">Concentration (μM)</text>
<text x="66" y="515.48" font-size="9.1" font-weight="bold" text-anchor="middle" fill="#000">Isoproterenol</text>
<line x1="64.6" y1="520" x2="64.6" y2="530.5" stroke="#000" stroke-width="1.7"/>
<path d="M61.6 527.5 L67.6 527.5 L64.6 533.5 Z" fill="#000" stroke="none" stroke-width="1"/>
<path d="M64.4 564.5 L110 567.4 L155.8 576.6" fill="none" stroke="#d0101c" stroke-width="1.2"/>
<path d="M64.4 576.8 L110 584.2 L155.8 597.4" fill="none" stroke="#000" stroke-width="1.2"/>
<line x1="155.8" y1="576.6" x2="155.8" y2="573" stroke="#d0101c" stroke-width="0.9"/>
<line x1="153.6" y1="573" x2="158" y2="573" stroke="#d0101c" stroke-width="0.9"/>
<line x1="155.8" y1="576.6" x2="155.8" y2="580.2" stroke="#d0101c" stroke-width="0.9"/>
<line x1="153.6" y1="580.2" x2="158" y2="580.2" stroke="#d0101c" stroke-width="0.9"/>
<rect x="61.8" y="562.1" width="4.8" height="4.8" fill="#d0101c"/>
<rect x="107.6" y="565" width="4.8" height="4.8" fill="#d0101c"/>
<rect x="153.4" y="574.2" width="4.8" height="4.8" fill="#d0101c"/>
<rect x="61.8" y="574.4" width="4.8" height="4.8" fill="#000"/>
<rect x="107.6" y="581.8" width="4.8" height="4.8" fill="#000"/>
<rect x="153.4" y="595" width="4.8" height="4.8" fill="#000"/>
<text x="64.3" y="551.1" font-size="6.4" font-weight="normal" text-anchor="middle" fill="#222"><tspan font-style="italic">p</tspan>=0.002</text>
<text x="110.2" y="553" font-size="6.4" font-weight="normal" text-anchor="middle" fill="#222"><tspan font-style="italic">p</tspan>&lt;0.001</text>
<text x="155.3" y="560" font-size="6.4" font-weight="normal" text-anchor="middle" fill="#222"><tspan font-style="italic">p</tspan>&lt;0.001</text>
<line x1="61.1" y1="554.7" x2="67.7" y2="554.7" stroke="#000" stroke-width="1.8"/>
<line x1="106.6" y1="556.4" x2="113.6" y2="556.4" stroke="#000" stroke-width="1.8"/>
<line x1="152.6" y1="563.4" x2="159.2" y2="563.4" stroke="#000" stroke-width="1.8"/>
<line x1="221.2" y1="505.1" x2="221.2" y2="614.5" stroke="#000" stroke-width="1.3"/>
<line x1="220.6" y1="613.9" x2="374" y2="613.9" stroke="#000" stroke-width="1.3"/>
<line x1="216.8" y1="505.7" x2="221.2" y2="505.7" stroke="#000" stroke-width="1.2"/>
<text x="215.2" y="509.16" font-size="8.5" font-weight="bold" text-anchor="end" fill="#000">500</text>
<line x1="216.8" y1="536.6" x2="221.2" y2="536.6" stroke="#000" stroke-width="1.2"/>
<text x="215.2" y="540.06" font-size="8.5" font-weight="bold" text-anchor="end" fill="#000">400</text>
<line x1="216.8" y1="567.7" x2="221.2" y2="567.7" stroke="#000" stroke-width="1.2"/>
<text x="215.2" y="571.16" font-size="8.5" font-weight="bold" text-anchor="end" fill="#000">300</text>
<line x1="216.8" y1="598.5" x2="221.2" y2="598.5" stroke="#000" stroke-width="1.2"/>
<text x="215.2" y="601.96" font-size="8.5" font-weight="bold" text-anchor="end" fill="#000">200</text>
<line x1="251.7" y1="613.9" x2="251.7" y2="618.3" stroke="#000" stroke-width="1.2"/>
<text x="251.7" y="628.06" font-size="8.5" font-weight="bold" text-anchor="middle" fill="#000">0</text>
<line x1="297.5" y1="613.9" x2="297.5" y2="618.3" stroke="#000" stroke-width="1.2"/>
<text x="297.5" y="628.06" font-size="8.5" font-weight="bold" text-anchor="middle" fill="#000">30</text>
<line x1="343.3" y1="613.9" x2="343.3" y2="618.3" stroke="#000" stroke-width="1.2"/>
<text x="343.3" y="628.06" font-size="8.5" font-weight="bold" text-anchor="middle" fill="#000">60</text>
<text x="297.5" y="638.78" font-size="9.4" font-weight="bold" text-anchor="middle" fill="#000">Time (min)</text>
<text x="297.5" y="491.84" font-size="10.4" font-weight="bold" text-anchor="middle" fill="#000">Triglyceride</text>
<text x="192.5" y="563.65" font-size="9.3" font-weight="bold" text-anchor="middle" fill="#000" transform="rotate(-90 192.5 559.8)">Concentration (μM)</text>
<text x="253.7" y="514.18" font-size="9.1" font-weight="bold" text-anchor="middle" fill="#000">Insulin</text>
<line x1="252.3" y1="518.2" x2="252.3" y2="529.2" stroke="#000" stroke-width="1.7"/>
<path d="M249.3 526.2 L255.3 526.2 L252.3 532.2 Z" fill="#000" stroke="none" stroke-width="1"/>
<path d="M251.8 564.5 L297.3 551.8 L342.8 528.2" fill="none" stroke="#d0101c" stroke-width="1.2"/>
<path d="M251.8 576.8 L297.3 545.1 L342.8 534.3" fill="none" stroke="#000" stroke-width="1.2"/>
<line x1="342.8" y1="528.2" x2="342.8" y2="518.8" stroke="#d0101c" stroke-width="0.9"/>
<line x1="340.6" y1="518.8" x2="345" y2="518.8" stroke="#d0101c" stroke-width="0.9"/>
<line x1="342.8" y1="528.2" x2="342.8" y2="537.5" stroke="#d0101c" stroke-width="0.9"/>
<line x1="340.6" y1="537.5" x2="345" y2="537.5" stroke="#d0101c" stroke-width="0.9"/>
<line x1="342.8" y1="534.3" x2="342.8" y2="522.6" stroke="#555" stroke-width="0.9"/>
<line x1="340.6" y1="522.6" x2="345" y2="522.6" stroke="#555" stroke-width="0.9"/>
<line x1="342.8" y1="534.3" x2="342.8" y2="545.8" stroke="#555" stroke-width="0.9"/>
<line x1="340.6" y1="545.8" x2="345" y2="545.8" stroke="#555" stroke-width="0.9"/>
<line x1="297.3" y1="545.1" x2="297.3" y2="540.4" stroke="#555" stroke-width="0.9"/>
<line x1="295.1" y1="540.4" x2="299.5" y2="540.4" stroke="#555" stroke-width="0.9"/>
<line x1="297.3" y1="551.8" x2="297.3" y2="555.4" stroke="#d0101c" stroke-width="0.9"/>
<line x1="295.1" y1="555.4" x2="299.5" y2="555.4" stroke="#d0101c" stroke-width="0.9"/>
<line x1="251.8" y1="576.8" x2="251.8" y2="573.6" stroke="#555" stroke-width="0.9"/>
<line x1="249.6" y1="573.6" x2="254" y2="573.6" stroke="#555" stroke-width="0.9"/>
<line x1="251.8" y1="576.8" x2="251.8" y2="580" stroke="#555" stroke-width="0.9"/>
<line x1="249.6" y1="580" x2="254" y2="580" stroke="#555" stroke-width="0.9"/>
<rect x="249.4" y="562.1" width="4.8" height="4.8" fill="#d0101c"/>
<rect x="294.9" y="549.4" width="4.8" height="4.8" fill="#d0101c"/>
<rect x="340.4" y="525.8" width="4.8" height="4.8" fill="#d0101c"/>
<circle cx="251.8" cy="576.8" r="2.5" fill="#000"/>
<circle cx="297.3" cy="545.1" r="2.5" fill="#000"/>
<circle cx="342.8" cy="534.3" r="2.5" fill="#000"/>
<text x="252.6" y="552.19" font-size="5.8" font-weight="normal" text-anchor="middle" fill="#222">p=0.002</text>
<line x1="248.8" y1="555.9" x2="255" y2="555.9" stroke="#000" stroke-width="1.6"/>
<text x="297.9" y="525.94" font-size="9.0" font-weight="normal" text-anchor="middle" fill="#222">ns</text>
<line x1="294.8" y1="530.5" x2="301" y2="530.5" stroke="#000" stroke-width="1.6"/>
<text x="342.8" y="506.14" font-size="9.0" font-weight="normal" text-anchor="middle" fill="#222">ns</text>
<line x1="339.7" y1="510.7" x2="345.9" y2="510.7" stroke="#000" stroke-width="1.6"/>
<line x1="33.7" y1="663.8" x2="33.7" y2="773.6" stroke="#000" stroke-width="1.3"/>
<line x1="33.1" y1="773" x2="186" y2="773" stroke="#000" stroke-width="1.3"/>
<line x1="29.3" y1="664.4" x2="33.7" y2="664.4" stroke="#000" stroke-width="1.2"/>
<text x="27.7" y="667.86" font-size="8.5" font-weight="bold" text-anchor="end" fill="#000">100</text>
<line x1="29.3" y1="686.2" x2="33.7" y2="686.2" stroke="#000" stroke-width="1.2"/>
<text x="27.7" y="689.66" font-size="8.5" font-weight="bold" text-anchor="end" fill="#000">80</text>
<line x1="29.3" y1="707.9" x2="33.7" y2="707.9" stroke="#000" stroke-width="1.2"/>
<text x="27.7" y="711.36" font-size="8.5" font-weight="bold" text-anchor="end" fill="#000">60</text>
<line x1="29.3" y1="729.5" x2="33.7" y2="729.5" stroke="#000" stroke-width="1.2"/>
<text x="27.7" y="732.96" font-size="8.5" font-weight="bold" text-anchor="end" fill="#000">40</text>
<line x1="29.3" y1="751.2" x2="33.7" y2="751.2" stroke="#000" stroke-width="1.2"/>
<text x="27.7" y="754.66" font-size="8.5" font-weight="bold" text-anchor="end" fill="#000">20</text>
<line x1="29.3" y1="773" x2="33.7" y2="773" stroke="#000" stroke-width="1.2"/>
<text x="27.7" y="776.46" font-size="8.5" font-weight="bold" text-anchor="end" fill="#000">0</text>
<line x1="64.2" y1="773" x2="64.2" y2="777.4" stroke="#000" stroke-width="1.2"/>
<text x="64.2" y="787.16" font-size="8.5" font-weight="bold" text-anchor="middle" fill="#000">0</text>
<line x1="110" y1="773" x2="110" y2="777.4" stroke="#000" stroke-width="1.2"/>
<text x="110" y="787.16" font-size="8.5" font-weight="bold" text-anchor="middle" fill="#000">30</text>
<line x1="155.8" y1="773" x2="155.8" y2="777.4" stroke="#000" stroke-width="1.2"/>
<text x="155.8" y="787.16" font-size="8.5" font-weight="bold" text-anchor="middle" fill="#000">60</text>
<text x="110" y="795.88" font-size="9.4" font-weight="bold" text-anchor="middle" fill="#000">Time (min)</text>
<text x="110" y="660.04" font-size="10.4" font-weight="bold" text-anchor="middle" fill="#000">Glycerol</text>
<text x="5" y="721.35" font-size="9.3" font-weight="bold" text-anchor="middle" fill="#000" transform="rotate(-90 5 717.5)">Concentration (μM)</text>
<text x="64.8" y="692.98" font-size="9.1" font-weight="bold" text-anchor="middle" fill="#000">Isoproterenol</text>
<line x1="64.2" y1="697.3" x2="64.2" y2="708.8" stroke="#000" stroke-width="1.7"/>
<path d="M61.2 705.8 L67.2 705.8 L64.2 711.8 Z" fill="#000" stroke="none" stroke-width="1"/>
<path d="M64.2 754 L110 741.51 L155.8 698.07" fill="none" stroke="#d0101c" stroke-width="1.2"/>
<path d="M64.2 754.54 L110 737.16 L155.8 688.29" fill="none" stroke="#000" stroke-width="1.2"/>
<line x1="155.8" y1="698.07" x2="155.8" y2="693.18" stroke="#d0101c" stroke-width="0.9"/>
<line x1="153.6" y1="693.18" x2="158" y2="693.18" stroke="#d0101c" stroke-width="0.9"/>
<line x1="155.8" y1="698.07" x2="155.8" y2="702.95" stroke="#d0101c" stroke-width="0.9"/>
<line x1="153.6" y1="702.95" x2="158" y2="702.95" stroke="#d0101c" stroke-width="0.9"/>
<line x1="155.8" y1="688.29" x2="155.8" y2="684.49" stroke="#222" stroke-width="0.9"/>
<line x1="153.6" y1="684.49" x2="158" y2="684.49" stroke="#222" stroke-width="0.9"/>
<line x1="155.8" y1="688.29" x2="155.8" y2="692.09" stroke="#222" stroke-width="0.9"/>
<line x1="153.6" y1="692.09" x2="158" y2="692.09" stroke="#222" stroke-width="0.9"/>
<line x1="110" y1="741.51" x2="110" y2="743.68" stroke="#d0101c" stroke-width="0.9"/>
<line x1="107.8" y1="743.68" x2="112.2" y2="743.68" stroke="#d0101c" stroke-width="0.9"/>
<line x1="110" y1="737.16" x2="110" y2="735.53" stroke="#222" stroke-width="0.9"/>
<line x1="107.8" y1="735.53" x2="112.2" y2="735.53" stroke="#222" stroke-width="0.9"/>
<rect x="61.8" y="751.6" width="4.8" height="4.8" fill="#d0101c"/>
<rect x="107.6" y="739.11" width="4.8" height="4.8" fill="#d0101c"/>
<rect x="153.4" y="695.67" width="4.8" height="4.8" fill="#d0101c"/>
<circle cx="64.2" cy="754.54" r="2.5" fill="#000"/>
<circle cx="110" cy="737.16" r="2.5" fill="#000"/>
<circle cx="155.8" cy="688.29" r="2.5" fill="#000"/>
<text x="64.4" y="739.61" font-size="7.8" font-weight="normal" text-anchor="middle" fill="#222">ns</text>
<line x1="59.1" y1="744.6" x2="70.4" y2="744.6" stroke="#000" stroke-width="1.8"/>
<text x="109.8" y="717.81" font-size="7.8" font-weight="normal" text-anchor="middle" fill="#222">ns</text>
<line x1="104.6" y1="722.2" x2="115.6" y2="722.2" stroke="#000" stroke-width="1.8"/>
<text x="155.5" y="668.71" font-size="7.8" font-weight="normal" text-anchor="middle" fill="#222">ns</text>
<line x1="150.3" y1="673.6" x2="161" y2="673.6" stroke="#000" stroke-width="1.8"/>
<line x1="221.2" y1="663.6" x2="221.2" y2="773.4" stroke="#000" stroke-width="1.3"/>
<line x1="220.6" y1="772.8" x2="374" y2="772.8" stroke="#000" stroke-width="1.3"/>
<line x1="216.8" y1="664.2" x2="221.2" y2="664.2" stroke="#000" stroke-width="1.2"/>
<text x="215.2" y="667.66" font-size="8.5" font-weight="bold" text-anchor="end" fill="#000">100</text>
<line x1="216.8" y1="686.1" x2="221.2" y2="686.1" stroke="#000" stroke-width="1.2"/>
<text x="215.2" y="689.56" font-size="8.5" font-weight="bold" text-anchor="end" fill="#000">80</text>
<line x1="216.8" y1="707.8" x2="221.2" y2="707.8" stroke="#000" stroke-width="1.2"/>
<text x="215.2" y="711.26" font-size="8.5" font-weight="bold" text-anchor="end" fill="#000">60</text>
<line x1="216.8" y1="729.6" x2="221.2" y2="729.6" stroke="#000" stroke-width="1.2"/>
<text x="215.2" y="733.06" font-size="8.5" font-weight="bold" text-anchor="end" fill="#000">40</text>
<line x1="216.8" y1="751.2" x2="221.2" y2="751.2" stroke="#000" stroke-width="1.2"/>
<text x="215.2" y="754.66" font-size="8.5" font-weight="bold" text-anchor="end" fill="#000">20</text>
<line x1="216.8" y1="772.8" x2="221.2" y2="772.8" stroke="#000" stroke-width="1.2"/>
<text x="215.2" y="776.26" font-size="8.5" font-weight="bold" text-anchor="end" fill="#000">0</text>
<line x1="251.7" y1="772.8" x2="251.7" y2="777.2" stroke="#000" stroke-width="1.2"/>
<text x="251.7" y="786.96" font-size="8.5" font-weight="bold" text-anchor="middle" fill="#000">0</text>
<line x1="297.5" y1="772.8" x2="297.5" y2="777.2" stroke="#000" stroke-width="1.2"/>
<text x="297.5" y="786.96" font-size="8.5" font-weight="bold" text-anchor="middle" fill="#000">30</text>
<line x1="343.3" y1="772.8" x2="343.3" y2="777.2" stroke="#000" stroke-width="1.2"/>
<text x="343.3" y="786.96" font-size="8.5" font-weight="bold" text-anchor="middle" fill="#000">60</text>
<text x="297.5" y="795.88" font-size="9.4" font-weight="bold" text-anchor="middle" fill="#000">Time (min)</text>
<text x="297.5" y="659.44" font-size="10.4" font-weight="bold" text-anchor="middle" fill="#000">Glycerol</text>
<text x="192.5" y="721.35" font-size="9.3" font-weight="bold" text-anchor="middle" fill="#000" transform="rotate(-90 192.5 717.5)">Concentration (μM)</text>
<text x="252.5" y="697.08" font-size="9.1" font-weight="bold" text-anchor="middle" fill="#000">Insulin</text>
<line x1="252.3" y1="701.3" x2="252.3" y2="712.4" stroke="#000" stroke-width="1.7"/>
<path d="M249.3 709.4 L255.3 709.4 L252.3 715.4 Z" fill="#000" stroke="none" stroke-width="1"/>
<path d="M251.8 753.79 L297.3 753.25 L342.8 749.99" fill="none" stroke="#d0101c" stroke-width="1.2"/>
<path d="M251.8 754.34 L297.3 751.08 L342.8 751.62" fill="none" stroke="#000" stroke-width="1.2"/>
<rect x="249.4" y="751.39" width="4.8" height="4.8" fill="#d0101c"/>
<rect x="294.9" y="750.85" width="4.8" height="4.8" fill="#d0101c"/>
<rect x="340.4" y="747.59" width="4.8" height="4.8" fill="#d0101c"/>
<circle cx="251.8" cy="754.34" r="2.5" fill="#000"/>
<circle cx="297.3" cy="751.08" r="2.5" fill="#000"/>
<circle cx="342.8" cy="751.62" r="2.5" fill="#000"/>
<text x="251.8" y="735.11" font-size="7.8" font-weight="normal" text-anchor="middle" fill="#222">ns</text>
<line x1="248.8" y1="739.3" x2="254.8" y2="739.3" stroke="#000" stroke-width="1.6"/>
<text x="297.3" y="733.61" font-size="7.8" font-weight="normal" text-anchor="middle" fill="#222">ns</text>
<line x1="294.3" y1="738.4" x2="300.3" y2="738.4" stroke="#000" stroke-width="1.6"/>
<text x="342.8" y="733.61" font-size="7.8" font-weight="normal" text-anchor="middle" fill="#222">ns</text>
<line x1="339.8" y1="738.4" x2="345.8" y2="738.4" stroke="#000" stroke-width="1.6"/>
<text x="372.1" y="461.5" font-size="16" font-weight="bold" text-anchor="start" fill="#000">g</text>
<line x1="412" y1="458.1" x2="423.6" y2="458.1" stroke="#000" stroke-width="1.3"/>
<circle cx="417.8" cy="458.1" r="2.2" fill="#000"/>
<text x="430.9" y="461.11" font-size="9.2" font-weight="bold" text-anchor="start" fill="#000">WT - PA</text>
<line x1="495.8" y1="458.1" x2="507.4" y2="458.1" stroke="#d0101c" stroke-width="1.3"/>
<rect x="499.6" y="456.1" width="4.1" height="4.1" fill="#d0101c"/>
<text x="514.9" y="461.11" font-size="9.2" font-weight="bold" text-anchor="start" fill="#000">EiaKO - PA</text>
<line x1="412" y1="476.5" x2="423.6" y2="476.5" stroke="#000" stroke-width="1.3" stroke-dasharray="2.2 2.2"/>
<path d="M415.4 474.6 L420.2 474.6 L417.8 478.8 Z" fill="#000" stroke="none" stroke-width="1"/>
<text x="430.9" y="479.15" font-size="9.3" font-weight="bold" text-anchor="start" fill="#000">WT - PA+ETO</text>
<line x1="495.3" y1="476.5" x2="507.4" y2="476.5" stroke="#d0101c" stroke-width="1.3" stroke-dasharray="2.2 2.2"/>
<path d="M501.3 474.3 L503.5 476.5 L501.3 478.7 L499.1 476.5 Z" fill="#d0101c" stroke="none" stroke-width="1"/>
<text x="514.9" y="479.15" font-size="9.3" font-weight="bold" text-anchor="start" fill="#000">EiaKO - PA+ETO</text>
<rect x="629.1" y="460.3" width="11.3" height="6.9" fill="#000"/>
<text x="646" y="467.26" font-size="9.6" font-weight="bold" text-anchor="start" fill="#000">WT</text>
<rect x="629.1" y="473.9" width="11.3" height="7" fill="#d0101c"/>
<text x="646" y="481.76" font-size="9.6" font-weight="bold" text-anchor="start" fill="#000">EiaKO</text>
<line x1="409.6" y1="501.3" x2="409.6" y2="615.8" stroke="#000" stroke-width="1.3"/>
<line x1="409" y1="615.2" x2="578.3" y2="615.2" stroke="#000" stroke-width="1.3"/>
<line x1="406" y1="615.2" x2="409.6" y2="615.2" stroke="#000" stroke-width="1.2"/>
<text x="405.4" y="618.4" font-size="8.6" font-weight="bold" text-anchor="end" fill="#000">0</text>
<line x1="406" y1="592.54" x2="409.6" y2="592.54" stroke="#000" stroke-width="1.2"/>
<text x="405.4" y="595.74" font-size="8.6" font-weight="bold" text-anchor="end" fill="#000">1</text>
<line x1="406" y1="569.88" x2="409.6" y2="569.88" stroke="#000" stroke-width="1.2"/>
<text x="405.4" y="573.08" font-size="8.6" font-weight="bold" text-anchor="end" fill="#000">2</text>
<line x1="406" y1="547.22" x2="409.6" y2="547.22" stroke="#000" stroke-width="1.2"/>
<text x="405.4" y="550.42" font-size="8.6" font-weight="bold" text-anchor="end" fill="#000">3</text>
<line x1="406" y1="524.56" x2="409.6" y2="524.56" stroke="#000" stroke-width="1.2"/>
<text x="405.4" y="527.76" font-size="8.6" font-weight="bold" text-anchor="end" fill="#000">4</text>
<line x1="406" y1="501.9" x2="409.6" y2="501.9" stroke="#000" stroke-width="1.2"/>
<text x="405.4" y="505.1" font-size="8.6" font-weight="bold" text-anchor="end" fill="#000">5</text>
<line x1="410.2" y1="615.2" x2="410.2" y2="619.2" stroke="#000" stroke-width="1.2"/>
<text x="410.2" y="628.1" font-size="8.6" font-weight="bold" text-anchor="middle" fill="#000">0</text>
<line x1="451.9" y1="615.2" x2="451.9" y2="619.2" stroke="#000" stroke-width="1.2"/>
<text x="451.9" y="628.1" font-size="8.6" font-weight="bold" text-anchor="middle" fill="#000">20</text>
<line x1="493.6" y1="615.2" x2="493.6" y2="619.2" stroke="#000" stroke-width="1.2"/>
<text x="493.6" y="628.1" font-size="8.6" font-weight="bold" text-anchor="middle" fill="#000">40</text>
<line x1="535.3" y1="615.2" x2="535.3" y2="619.2" stroke="#000" stroke-width="1.2"/>
<text x="535.3" y="628.1" font-size="8.6" font-weight="bold" text-anchor="middle" fill="#000">60</text>
<line x1="577" y1="615.2" x2="577" y2="619.2" stroke="#000" stroke-width="1.2"/>
<text x="577" y="628.1" font-size="8.6" font-weight="bold" text-anchor="middle" fill="#000">80</text>
<text x="493.7" y="640.68" font-size="9.4" font-weight="bold" text-anchor="middle" fill="#000">Time (min)</text>
<text x="389.8" y="556.9" font-size="9.45" font-weight="bold" text-anchor="middle" fill="#000" transform="rotate(-90 389.8 553)">OCR (pmol/min/μg protein)</text>
<text x="447.6" y="504.5" font-size="8.6" font-weight="bold" text-anchor="middle" fill="#000">Oligomycin</text>
<path d="M444.1 506.8 L449.3 506.8 L446.7 512 Z" fill="#000" stroke="none" stroke-width="1"/>
<text x="488" y="504.5" font-size="8.6" font-weight="bold" text-anchor="middle" fill="#000">FCCP</text>
<path d="M483.8 506.8 L489 506.8 L486.4 512 Z" fill="#000" stroke="none" stroke-width="1"/>
<text x="531.5" y="504.5" font-size="8.6" font-weight="bold" text-anchor="middle" fill="#000">Rot/AA</text>
<path d="M527.6 506.8 L532.8 506.8 L530.2 512 Z" fill="#000" stroke="none" stroke-width="1"/>
<path d="M412.7 547.22 L426.67 550.62 L440.22 549.49 L453.78 560.36 L467.75 565.35 L480.88 567.61 L495.06 527.28 L508.82 528.41 L521.96 531.36 L535.51 583.02 L549.06 586.88 L562.82 587.55" fill="none" stroke="#000" stroke-width="1.4"/>
<line x1="412.7" y1="550.85" x2="412.7" y2="543.59" stroke="#000" stroke-width="1.0"/>
<line x1="410.5" y1="543.59" x2="414.9" y2="543.59" stroke="#000" stroke-width="1.0"/>
<line x1="410.5" y1="550.85" x2="414.9" y2="550.85" stroke="#000" stroke-width="1.0"/>
<line x1="426.67" y1="553.56" x2="426.67" y2="547.67" stroke="#000" stroke-width="1.0"/>
<line x1="424.47" y1="547.67" x2="428.87" y2="547.67" stroke="#000" stroke-width="1.0"/>
<line x1="424.47" y1="553.56" x2="428.87" y2="553.56" stroke="#000" stroke-width="1.0"/>
<line x1="440.22" y1="552.43" x2="440.22" y2="546.54" stroke="#000" stroke-width="1.0"/>
<line x1="438.02" y1="546.54" x2="442.42" y2="546.54" stroke="#000" stroke-width="1.0"/>
<line x1="438.02" y1="552.43" x2="442.42" y2="552.43" stroke="#000" stroke-width="1.0"/>
<line x1="453.78" y1="562.4" x2="453.78" y2="558.32" stroke="#000" stroke-width="1.0"/>
<line x1="451.58" y1="558.32" x2="455.98" y2="558.32" stroke="#000" stroke-width="1.0"/>
<line x1="451.58" y1="562.4" x2="455.98" y2="562.4" stroke="#000" stroke-width="1.0"/>
<line x1="467.75" y1="566.93" x2="467.75" y2="563.76" stroke="#000" stroke-width="1.0"/>
<line x1="465.55" y1="563.76" x2="469.95" y2="563.76" stroke="#000" stroke-width="1.0"/>
<line x1="465.55" y1="566.93" x2="469.95" y2="566.93" stroke="#000" stroke-width="1.0"/>
<line x1="480.88" y1="568.97" x2="480.88" y2="566.25" stroke="#000" stroke-width="1.0"/>
<line x1="478.68" y1="566.25" x2="483.08" y2="566.25" stroke="#000" stroke-width="1.0"/>
<line x1="478.68" y1="568.97" x2="483.08" y2="568.97" stroke="#000" stroke-width="1.0"/>
<line x1="495.06" y1="532.04" x2="495.06" y2="522.52" stroke="#000" stroke-width="1.0"/>
<line x1="492.86" y1="522.52" x2="497.26" y2="522.52" stroke="#000" stroke-width="1.0"/>
<line x1="492.86" y1="532.04" x2="497.26" y2="532.04" stroke="#000" stroke-width="1.0"/>
<line x1="508.82" y1="533.4" x2="508.82" y2="523.43" stroke="#000" stroke-width="1.0"/>
<line x1="506.62" y1="523.43" x2="511.02" y2="523.43" stroke="#000" stroke-width="1.0"/>
<line x1="506.62" y1="533.4" x2="511.02" y2="533.4" stroke="#000" stroke-width="1.0"/>
<line x1="521.96" y1="536.12" x2="521.96" y2="526.6" stroke="#000" stroke-width="1.0"/>
<line x1="519.76" y1="526.6" x2="524.16" y2="526.6" stroke="#000" stroke-width="1.0"/>
<line x1="519.76" y1="536.12" x2="524.16" y2="536.12" stroke="#000" stroke-width="1.0"/>
<line x1="535.51" y1="584.61" x2="535.51" y2="581.44" stroke="#000" stroke-width="1.0"/>
<line x1="533.31" y1="581.44" x2="537.71" y2="581.44" stroke="#000" stroke-width="1.0"/>
<line x1="533.31" y1="584.61" x2="537.71" y2="584.61" stroke="#000" stroke-width="1.0"/>
<line x1="549.06" y1="588.23" x2="549.06" y2="585.52" stroke="#000" stroke-width="1.0"/>
<line x1="546.86" y1="585.52" x2="551.26" y2="585.52" stroke="#000" stroke-width="1.0"/>
<line x1="546.86" y1="588.23" x2="551.26" y2="588.23" stroke="#000" stroke-width="1.0"/>
<line x1="562.82" y1="588.69" x2="562.82" y2="586.42" stroke="#000" stroke-width="1.0"/>
<line x1="560.62" y1="586.42" x2="565.02" y2="586.42" stroke="#000" stroke-width="1.0"/>
<line x1="560.62" y1="588.69" x2="565.02" y2="588.69" stroke="#000" stroke-width="1.0"/>
<path d="M412.7 566.48 L426.67 566.48 L440.22 565.35 L453.78 569.88 L467.75 573.73 L480.88 575.55 L495.06 550.17 L508.82 550.17 L521.96 551.75 L535.51 584.61 L549.06 587.55 L562.82 587.55" fill="none" stroke="#d0101c" stroke-width="1.4"/>
<line x1="412.7" y1="568.97" x2="412.7" y2="563.99" stroke="#d0101c" stroke-width="1.0"/>
<line x1="410.5" y1="563.99" x2="414.9" y2="563.99" stroke="#d0101c" stroke-width="1.0"/>
<line x1="410.5" y1="568.97" x2="414.9" y2="568.97" stroke="#d0101c" stroke-width="1.0"/>
<line x1="426.67" y1="568.97" x2="426.67" y2="563.99" stroke="#d0101c" stroke-width="1.0"/>
<line x1="424.47" y1="563.99" x2="428.87" y2="563.99" stroke="#d0101c" stroke-width="1.0"/>
<line x1="424.47" y1="568.97" x2="428.87" y2="568.97" stroke="#d0101c" stroke-width="1.0"/>
<line x1="440.22" y1="567.84" x2="440.22" y2="562.86" stroke="#d0101c" stroke-width="1.0"/>
<line x1="438.02" y1="562.86" x2="442.42" y2="562.86" stroke="#d0101c" stroke-width="1.0"/>
<line x1="438.02" y1="567.84" x2="442.42" y2="567.84" stroke="#d0101c" stroke-width="1.0"/>
<line x1="453.78" y1="571.92" x2="453.78" y2="567.84" stroke="#d0101c" stroke-width="1.0"/>
<line x1="451.58" y1="567.84" x2="455.98" y2="567.84" stroke="#d0101c" stroke-width="1.0"/>
<line x1="451.58" y1="571.92" x2="455.98" y2="571.92" stroke="#d0101c" stroke-width="1.0"/>
<line x1="467.75" y1="575.55" x2="467.75" y2="571.92" stroke="#d0101c" stroke-width="1.0"/>
<line x1="465.55" y1="571.92" x2="469.95" y2="571.92" stroke="#d0101c" stroke-width="1.0"/>
<line x1="465.55" y1="575.55" x2="469.95" y2="575.55" stroke="#d0101c" stroke-width="1.0"/>
<line x1="480.88" y1="577.36" x2="480.88" y2="573.73" stroke="#d0101c" stroke-width="1.0"/>
<line x1="478.68" y1="573.73" x2="483.08" y2="573.73" stroke="#d0101c" stroke-width="1.0"/>
<line x1="478.68" y1="577.36" x2="483.08" y2="577.36" stroke="#d0101c" stroke-width="1.0"/>
<line x1="495.06" y1="553.79" x2="495.06" y2="546.54" stroke="#d0101c" stroke-width="1.0"/>
<line x1="492.86" y1="546.54" x2="497.26" y2="546.54" stroke="#d0101c" stroke-width="1.0"/>
<line x1="492.86" y1="553.79" x2="497.26" y2="553.79" stroke="#d0101c" stroke-width="1.0"/>
<line x1="508.82" y1="553.56" x2="508.82" y2="546.77" stroke="#d0101c" stroke-width="1.0"/>
<line x1="506.62" y1="546.77" x2="511.02" y2="546.77" stroke="#d0101c" stroke-width="1.0"/>
<line x1="506.62" y1="553.56" x2="511.02" y2="553.56" stroke="#d0101c" stroke-width="1.0"/>
<line x1="521.96" y1="555.38" x2="521.96" y2="548.13" stroke="#d0101c" stroke-width="1.0"/>
<line x1="519.76" y1="548.13" x2="524.16" y2="548.13" stroke="#d0101c" stroke-width="1.0"/>
<line x1="519.76" y1="555.38" x2="524.16" y2="555.38" stroke="#d0101c" stroke-width="1.0"/>
<line x1="535.51" y1="585.97" x2="535.51" y2="583.25" stroke="#d0101c" stroke-width="1.0"/>
<line x1="533.31" y1="583.25" x2="537.71" y2="583.25" stroke="#d0101c" stroke-width="1.0"/>
<line x1="533.31" y1="585.97" x2="537.71" y2="585.97" stroke="#d0101c" stroke-width="1.0"/>
<line x1="549.06" y1="588.69" x2="549.06" y2="586.42" stroke="#d0101c" stroke-width="1.0"/>
<line x1="546.86" y1="586.42" x2="551.26" y2="586.42" stroke="#d0101c" stroke-width="1.0"/>
<line x1="546.86" y1="588.69" x2="551.26" y2="588.69" stroke="#d0101c" stroke-width="1.0"/>
<line x1="562.82" y1="588.69" x2="562.82" y2="586.42" stroke="#d0101c" stroke-width="1.0"/>
<line x1="560.62" y1="586.42" x2="565.02" y2="586.42" stroke="#d0101c" stroke-width="1.0"/>
<line x1="560.62" y1="588.69" x2="565.02" y2="588.69" stroke="#d0101c" stroke-width="1.0"/>
<path d="M412.7 583.48 L426.67 586.88 L440.22 585.74 L453.78 590.27 L467.75 592.54 L480.88 591.86 L495.06 588.69 L508.82 588.69 L521.96 590.27 L535.51 595.94 L549.06 597.53 L562.82 597.07" fill="none" stroke="#000" stroke-width="1.4" stroke-dasharray="3 2.2"/>
<line x1="412.7" y1="585.29" x2="412.7" y2="581.66" stroke="#000" stroke-width="1.0"/>
<line x1="410.5" y1="581.66" x2="414.9" y2="581.66" stroke="#000" stroke-width="1.0"/>
<line x1="410.5" y1="585.29" x2="414.9" y2="585.29" stroke="#000" stroke-width="1.0"/>
<line x1="426.67" y1="588.46" x2="426.67" y2="585.29" stroke="#000" stroke-width="1.0"/>
<line x1="424.47" y1="585.29" x2="428.87" y2="585.29" stroke="#000" stroke-width="1.0"/>
<line x1="424.47" y1="588.46" x2="428.87" y2="588.46" stroke="#000" stroke-width="1.0"/>
<line x1="440.22" y1="587.33" x2="440.22" y2="584.16" stroke="#000" stroke-width="1.0"/>
<line x1="438.02" y1="584.16" x2="442.42" y2="584.16" stroke="#000" stroke-width="1.0"/>
<line x1="438.02" y1="587.33" x2="442.42" y2="587.33" stroke="#000" stroke-width="1.0"/>
<line x1="453.78" y1="591.63" x2="453.78" y2="588.91" stroke="#000" stroke-width="1.0"/>
<line x1="451.58" y1="588.91" x2="455.98" y2="588.91" stroke="#000" stroke-width="1.0"/>
<line x1="451.58" y1="591.63" x2="455.98" y2="591.63" stroke="#000" stroke-width="1.0"/>
<line x1="467.75" y1="593.67" x2="467.75" y2="591.41" stroke="#000" stroke-width="1.0"/>
<line x1="465.55" y1="591.41" x2="469.95" y2="591.41" stroke="#000" stroke-width="1.0"/>
<line x1="465.55" y1="593.67" x2="469.95" y2="593.67" stroke="#000" stroke-width="1.0"/>
<line x1="480.88" y1="592.99" x2="480.88" y2="590.73" stroke="#000" stroke-width="1.0"/>
<line x1="478.68" y1="590.73" x2="483.08" y2="590.73" stroke="#000" stroke-width="1.0"/>
<line x1="478.68" y1="592.99" x2="483.08" y2="592.99" stroke="#000" stroke-width="1.0"/>
<line x1="495.06" y1="590.27" x2="495.06" y2="587.1" stroke="#000" stroke-width="1.0"/>
<line x1="492.86" y1="587.1" x2="497.26" y2="587.1" stroke="#000" stroke-width="1.0"/>
<line x1="492.86" y1="590.27" x2="497.26" y2="590.27" stroke="#000" stroke-width="1.0"/>
<line x1="508.82" y1="590.27" x2="508.82" y2="587.1" stroke="#000" stroke-width="1.0"/>
<line x1="506.62" y1="587.1" x2="511.02" y2="587.1" stroke="#000" stroke-width="1.0"/>
<line x1="506.62" y1="590.27" x2="511.02" y2="590.27" stroke="#000" stroke-width="1.0"/>
<line x1="521.96" y1="591.63" x2="521.96" y2="588.91" stroke="#000" stroke-width="1.0"/>
<line x1="519.76" y1="588.91" x2="524.16" y2="588.91" stroke="#000" stroke-width="1.0"/>
<line x1="519.76" y1="591.63" x2="524.16" y2="591.63" stroke="#000" stroke-width="1.0"/>
<line x1="535.51" y1="597.07" x2="535.51" y2="594.81" stroke="#000" stroke-width="1.0"/>
<line x1="533.31" y1="594.81" x2="537.71" y2="594.81" stroke="#000" stroke-width="1.0"/>
<line x1="533.31" y1="597.07" x2="537.71" y2="597.07" stroke="#000" stroke-width="1.0"/>
<line x1="549.06" y1="598.66" x2="549.06" y2="596.39" stroke="#000" stroke-width="1.0"/>
<line x1="546.86" y1="596.39" x2="551.26" y2="596.39" stroke="#000" stroke-width="1.0"/>
<line x1="546.86" y1="598.66" x2="551.26" y2="598.66" stroke="#000" stroke-width="1.0"/>
<line x1="562.82" y1="598.21" x2="562.82" y2="595.94" stroke="#000" stroke-width="1.0"/>
<line x1="560.62" y1="595.94" x2="565.02" y2="595.94" stroke="#000" stroke-width="1.0"/>
<line x1="560.62" y1="598.21" x2="565.02" y2="598.21" stroke="#000" stroke-width="1.0"/>
<path d="M412.7 589.14 L426.67 590.95 L440.22 590.27 L453.78 591.41 L467.75 593.67 L480.88 593.67 L495.06 592.54 L508.82 592.54 L521.96 594.13 L535.51 596.39 L549.06 597.53 L562.82 597.53" fill="none" stroke="#d0101c" stroke-width="1.4" stroke-dasharray="3 2.2"/>
<line x1="412.7" y1="590.5" x2="412.7" y2="587.78" stroke="#d0101c" stroke-width="1.0"/>
<line x1="410.5" y1="587.78" x2="414.9" y2="587.78" stroke="#d0101c" stroke-width="1.0"/>
<line x1="410.5" y1="590.5" x2="414.9" y2="590.5" stroke="#d0101c" stroke-width="1.0"/>
<line x1="426.67" y1="592.09" x2="426.67" y2="589.82" stroke="#d0101c" stroke-width="1.0"/>
<line x1="424.47" y1="589.82" x2="428.87" y2="589.82" stroke="#d0101c" stroke-width="1.0"/>
<line x1="424.47" y1="592.09" x2="428.87" y2="592.09" stroke="#d0101c" stroke-width="1.0"/>
<line x1="440.22" y1="591.41" x2="440.22" y2="589.14" stroke="#d0101c" stroke-width="1.0"/>
<line x1="438.02" y1="589.14" x2="442.42" y2="589.14" stroke="#d0101c" stroke-width="1.0"/>
<line x1="438.02" y1="591.41" x2="442.42" y2="591.41" stroke="#d0101c" stroke-width="1.0"/>
<line x1="453.78" y1="592.54" x2="453.78" y2="590.27" stroke="#d0101c" stroke-width="1.0"/>
<line x1="451.58" y1="590.27" x2="455.98" y2="590.27" stroke="#d0101c" stroke-width="1.0"/>
<line x1="451.58" y1="592.54" x2="455.98" y2="592.54" stroke="#d0101c" stroke-width="1.0"/>
<line x1="467.75" y1="594.81" x2="467.75" y2="592.54" stroke="#d0101c" stroke-width="1.0"/>
<line x1="465.55" y1="592.54" x2="469.95" y2="592.54" stroke="#d0101c" stroke-width="1.0"/>
<line x1="465.55" y1="594.81" x2="469.95" y2="594.81" stroke="#d0101c" stroke-width="1.0"/>
<line x1="480.88" y1="594.81" x2="480.88" y2="592.54" stroke="#d0101c" stroke-width="1.0"/>
<line x1="478.68" y1="592.54" x2="483.08" y2="592.54" stroke="#d0101c" stroke-width="1.0"/>
<line x1="478.68" y1="594.81" x2="483.08" y2="594.81" stroke="#d0101c" stroke-width="1.0"/>
<line x1="495.06" y1="593.67" x2="495.06" y2="591.41" stroke="#d0101c" stroke-width="1.0"/>
<line x1="492.86" y1="591.41" x2="497.26" y2="591.41" stroke="#d0101c" stroke-width="1.0"/>
<line x1="492.86" y1="593.67" x2="497.26" y2="593.67" stroke="#d0101c" stroke-width="1.0"/>
<line x1="508.82" y1="593.67" x2="508.82" y2="591.41" stroke="#d0101c" stroke-width="1.0"/>
<line x1="506.62" y1="591.41" x2="511.02" y2="591.41" stroke="#d0101c" stroke-width="1.0"/>
<line x1="506.62" y1="593.67" x2="511.02" y2="593.67" stroke="#d0101c" stroke-width="1.0"/>
<line x1="521.96" y1="595.26" x2="521.96" y2="592.99" stroke="#d0101c" stroke-width="1.0"/>
<line x1="519.76" y1="592.99" x2="524.16" y2="592.99" stroke="#d0101c" stroke-width="1.0"/>
<line x1="519.76" y1="595.26" x2="524.16" y2="595.26" stroke="#d0101c" stroke-width="1.0"/>
<line x1="535.51" y1="597.3" x2="535.51" y2="595.49" stroke="#d0101c" stroke-width="1.0"/>
<line x1="533.31" y1="595.49" x2="537.71" y2="595.49" stroke="#d0101c" stroke-width="1.0"/>
<line x1="533.31" y1="597.3" x2="537.71" y2="597.3" stroke="#d0101c" stroke-width="1.0"/>
<line x1="549.06" y1="598.43" x2="549.06" y2="596.62" stroke="#d0101c" stroke-width="1.0"/>
<line x1="546.86" y1="596.62" x2="551.26" y2="596.62" stroke="#d0101c" stroke-width="1.0"/>
<line x1="546.86" y1="598.43" x2="551.26" y2="598.43" stroke="#d0101c" stroke-width="1.0"/>
<line x1="562.82" y1="598.43" x2="562.82" y2="596.62" stroke="#d0101c" stroke-width="1.0"/>
<line x1="560.62" y1="596.62" x2="565.02" y2="596.62" stroke="#d0101c" stroke-width="1.0"/>
<line x1="560.62" y1="598.43" x2="565.02" y2="598.43" stroke="#d0101c" stroke-width="1.0"/>
<circle cx="412.7" cy="547.22" r="2.6" fill="#000"/>
<circle cx="426.67" cy="550.62" r="2.6" fill="#000"/>
<circle cx="440.22" cy="549.49" r="2.6" fill="#000"/>
<circle cx="453.78" cy="560.36" r="2.6" fill="#000"/>
<circle cx="467.75" cy="565.35" r="2.6" fill="#000"/>
<circle cx="480.88" cy="567.61" r="2.6" fill="#000"/>
<circle cx="495.06" cy="527.28" r="2.6" fill="#000"/>
<circle cx="508.82" cy="528.41" r="2.6" fill="#000"/>
<circle cx="521.96" cy="531.36" r="2.6" fill="#000"/>
<circle cx="535.51" cy="583.02" r="2.6" fill="#000"/>
<circle cx="549.06" cy="586.88" r="2.6" fill="#000"/>
<circle cx="562.82" cy="587.55" r="2.6" fill="#000"/>
<rect x="410.2" y="563.98" width="5" height="5" fill="#d0101c"/>
<rect x="424.17" y="563.98" width="5" height="5" fill="#d0101c"/>
<rect x="437.72" y="562.85" width="5" height="5" fill="#d0101c"/>
<rect x="451.28" y="567.38" width="5" height="5" fill="#d0101c"/>
<rect x="465.25" y="571.23" width="5" height="5" fill="#d0101c"/>
<rect x="478.38" y="573.05" width="5" height="5" fill="#d0101c"/>
<rect x="492.56" y="547.67" width="5" height="5" fill="#d0101c"/>
<rect x="506.32" y="547.67" width="5" height="5" fill="#d0101c"/>
<rect x="519.46" y="549.25" width="5" height="5" fill="#d0101c"/>
<rect x="533.01" y="582.11" width="5" height="5" fill="#d0101c"/>
<rect x="546.56" y="585.05" width="5" height="5" fill="#d0101c"/>
<rect x="560.32" y="585.05" width="5" height="5" fill="#d0101c"/>
<path d="M410.2 581.58 L415.2 581.58 L412.7 585.88 Z" fill="#000" stroke="none" stroke-width="1"/>
<path d="M424.17 584.98 L429.17 584.98 L426.67 589.27 Z" fill="#000" stroke="none" stroke-width="1"/>
<path d="M437.72 583.84 L442.72 583.84 L440.22 588.14 Z" fill="#000" stroke="none" stroke-width="1"/>
<path d="M451.28 588.37 L456.28 588.37 L453.78 592.67 Z" fill="#000" stroke="none" stroke-width="1"/>
<path d="M465.25 590.64 L470.25 590.64 L467.75 594.94 Z" fill="#000" stroke="none" stroke-width="1"/>
<path d="M478.38 589.96 L483.38 589.96 L480.88 594.26 Z" fill="#000" stroke="none" stroke-width="1"/>
<path d="M492.56 586.79 L497.56 586.79 L495.06 591.09 Z" fill="#000" stroke="none" stroke-width="1"/>
<path d="M506.32 586.79 L511.32 586.79 L508.82 591.09 Z" fill="#000" stroke="none" stroke-width="1"/>
<path d="M519.46 588.37 L524.46 588.37 L521.96 592.67 Z" fill="#000" stroke="none" stroke-width="1"/>
<path d="M533.01 594.04 L538.01 594.04 L535.51 598.34 Z" fill="#000" stroke="none" stroke-width="1"/>
<path d="M546.56 595.63 L551.56 595.63 L549.06 599.93 Z" fill="#000" stroke="none" stroke-width="1"/>
<path d="M560.32 595.17 L565.32 595.17 L562.82 599.47 Z" fill="#000" stroke="none" stroke-width="1"/>
<path d="M412.7 586.84 L415 589.14 L412.7 591.44 L410.4 589.14 Z" fill="#d0101c" stroke="none" stroke-width="1"/>
<path d="M426.67 588.65 L428.97 590.95 L426.67 593.25 L424.37 590.95 Z" fill="#d0101c" stroke="none" stroke-width="1"/>
<path d="M440.22 587.97 L442.52 590.27 L440.22 592.57 L437.92 590.27 Z" fill="#d0101c" stroke="none" stroke-width="1"/>
<path d="M453.78 589.11 L456.08 591.41 L453.78 593.71 L451.48 591.41 Z" fill="#d0101c" stroke="none" stroke-width="1"/>
<path d="M467.75 591.37 L470.05 593.67 L467.75 595.97 L465.45 593.67 Z" fill="#d0101c" stroke="none" stroke-width="1"/>
<path d="M480.88 591.37 L483.18 593.67 L480.88 595.97 L478.58 593.67 Z" fill="#d0101c" stroke="none" stroke-width="1"/>
<path d="M495.06 590.24 L497.36 592.54 L495.06 594.84 L492.76 592.54 Z" fill="#d0101c" stroke="none" stroke-width="1"/>
<path d="M508.82 590.24 L511.12 592.54 L508.82 594.84 L506.52 592.54 Z" fill="#d0101c" stroke="none" stroke-width="1"/>
<path d="M521.96 591.83 L524.26 594.13 L521.96 596.43 L519.66 594.13 Z" fill="#d0101c" stroke="none" stroke-width="1"/>
<path d="M535.51 594.09 L537.81 596.39 L535.51 598.69 L533.21 596.39 Z" fill="#d0101c" stroke="none" stroke-width="1"/>
<path d="M549.06 595.23 L551.36 597.53 L549.06 599.83 L546.76 597.53 Z" fill="#d0101c" stroke="none" stroke-width="1"/>
<path d="M562.82 595.23 L565.12 597.53 L562.82 599.83 L560.52 597.53 Z" fill="#d0101c" stroke="none" stroke-width="1"/>
<line x1="611.3" y1="501.6" x2="611.3" y2="614.8" stroke="#000" stroke-width="1.3"/>
<line x1="610.7" y1="614.2" x2="684.4" y2="614.2" stroke="#000" stroke-width="1.3"/>
<line x1="607.7" y1="614.2" x2="611.3" y2="614.2" stroke="#000" stroke-width="1.2"/>
<text x="605.5" y="617.32" font-size="8.4" font-weight="normal" text-anchor="end" fill="#000">0</text>
<line x1="607.7" y1="591.8" x2="611.3" y2="591.8" stroke="#000" stroke-width="1.2"/>
<text x="605.5" y="594.92" font-size="8.4" font-weight="normal" text-anchor="end" fill="#000">1</text>
<line x1="607.7" y1="569.4" x2="611.3" y2="569.4" stroke="#000" stroke-width="1.2"/>
<text x="605.5" y="572.52" font-size="8.4" font-weight="normal" text-anchor="end" fill="#000">2</text>
<line x1="607.7" y1="547" x2="611.3" y2="547" stroke="#000" stroke-width="1.2"/>
<text x="605.5" y="550.12" font-size="8.4" font-weight="normal" text-anchor="end" fill="#000">3</text>
<line x1="607.7" y1="524.6" x2="611.3" y2="524.6" stroke="#000" stroke-width="1.2"/>
<text x="605.5" y="527.72" font-size="8.4" font-weight="normal" text-anchor="end" fill="#000">4</text>
<line x1="607.7" y1="502.2" x2="611.3" y2="502.2" stroke="#000" stroke-width="1.2"/>
<text x="605.5" y="505.32" font-size="8.4" font-weight="normal" text-anchor="end" fill="#000">5</text>
<line x1="628.4" y1="614.2" x2="628.4" y2="618.2" stroke="#000" stroke-width="1.2"/>
<line x1="667" y1="614.2" x2="667" y2="618.2" stroke="#000" stroke-width="1.2"/>
<text x="628.3" y="627.82" font-size="8.4" font-weight="bold" text-anchor="middle" fill="#000">Basal</text>
<text x="667.5" y="627.82" font-size="8.4" font-weight="bold" text-anchor="middle" fill="#000">Maximal</text>
<text x="592.4" y="561.55" font-size="9.3" font-weight="bold" text-anchor="middle" fill="#000" transform="rotate(-90 592.4 557.7)">OCR (pmol/min/μg protein)</text>
<rect x="616.2" y="574.55" width="9.6" height="39.65" fill="#000"/>
<line x1="621" y1="574.55" x2="621" y2="571.64" stroke="#000" stroke-width="1.1"/>
<line x1="618" y1="571.64" x2="624" y2="571.64" stroke="#000" stroke-width="1.1"/>
<rect x="630.6" y="589.34" width="9.7" height="24.86" fill="#d0101c"/>
<line x1="635.45" y1="589.34" x2="635.45" y2="583.29" stroke="#d0101c" stroke-width="1.1"/>
<line x1="632.45" y1="583.29" x2="638.45" y2="583.29" stroke="#d0101c" stroke-width="1.1"/>
<rect x="655.3" y="552.6" width="9.5" height="61.6" fill="#000"/>
<line x1="660.05" y1="552.6" x2="660.05" y2="546.55" stroke="#000" stroke-width="1.1"/>
<line x1="657.05" y1="546.55" x2="663.05" y2="546.55" stroke="#000" stroke-width="1.1"/>
<rect x="669.3" y="571.64" width="10.1" height="42.56" fill="#d0101c"/>
<line x1="674.35" y1="571.64" x2="674.35" y2="570.07" stroke="#d0101c" stroke-width="1.1"/>
<line x1="671.35" y1="570.07" x2="677.35" y2="570.07" stroke="#d0101c" stroke-width="1.1"/>
<circle cx="621.2" cy="567.7" r="1.2" fill="#000"/>
<circle cx="618.6" cy="575.3" r="1.5" fill="none" stroke="#fff" stroke-width="0.8"/>
<circle cx="623.4" cy="576.8" r="1.5" fill="none" stroke="#fff" stroke-width="0.8"/>
<circle cx="621" cy="578" r="1.5" fill="none" stroke="#fff" stroke-width="0.8"/>
<circle cx="635.8" cy="575.3" r="1.2" fill="#d0101c"/>
<circle cx="633.4" cy="589.8" r="1.5" fill="none" stroke="#fff" stroke-width="0.8"/>
<circle cx="638.6" cy="590.2" r="1.5" fill="none" stroke="#fff" stroke-width="0.8"/>
<circle cx="635.8" cy="601.4" r="1.5" fill="none" stroke="#fff" stroke-width="0.8"/>
<circle cx="660" cy="535.8" r="1.2" fill="#000"/>
<circle cx="659.2" cy="553.4" r="1.5" fill="none" stroke="#fff" stroke-width="0.8"/>
<circle cx="662.6" cy="555.8" r="1.5" fill="none" stroke="#fff" stroke-width="0.8"/>
<circle cx="660" cy="565.9" r="1.5" fill="none" stroke="#fff" stroke-width="0.8"/>
<circle cx="674.4" cy="569" r="1.2" fill="#d0101c"/>
<circle cx="671.6" cy="572.6" r="1.5" fill="none" stroke="#fff" stroke-width="0.8"/>
<circle cx="677.4" cy="574.3" r="1.5" fill="none" stroke="#fff" stroke-width="0.8"/>
<text x="631.6" y="554.6" font-size="6.4" font-weight="normal" text-anchor="middle" fill="#222"><tspan font-style="italic">p</tspan>=0.036</text>
<line x1="620.7" y1="555.6" x2="642.6" y2="555.6" stroke="#444" stroke-width="0.8"/>
<text x="669.6" y="530.6" font-size="6.4" font-weight="normal" text-anchor="middle" fill="#222"><tspan font-style="italic">p</tspan>=0.026</text>
<line x1="658.8" y1="531.6" x2="680.4" y2="531.6" stroke="#444" stroke-width="0.8"/>
</svg>
</body></html>
